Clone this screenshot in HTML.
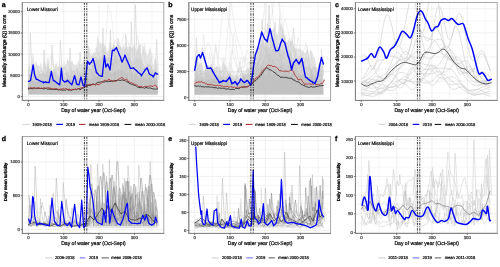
<!DOCTYPE html><html><head><meta charset="utf-8"><style>html,body{margin:0;padding:0;background:#fff;width:500px;height:267px;overflow:hidden}svg{display:block}text{text-rendering:geometricPrecision}</style></head><body>
<svg width="500" height="267" viewBox="0 0 500 267" style="font-family:'Liberation Sans', sans-serif;will-change:transform">
<rect width="500" height="267" fill="#fff"/>
<rect x="22.3" y="2.5" width="141.5" height="97.9" fill="#fff"/>
<line x1="28.40" y1="2.5" x2="28.40" y2="100.4" stroke="#e6e6e6" stroke-width="0.60"/>
<line x1="46.05" y1="2.5" x2="46.05" y2="100.4" stroke="#e6e6e6" stroke-width="0.35"/>
<line x1="63.70" y1="2.5" x2="63.70" y2="100.4" stroke="#e6e6e6" stroke-width="0.60"/>
<line x1="81.35" y1="2.5" x2="81.35" y2="100.4" stroke="#e6e6e6" stroke-width="0.35"/>
<line x1="99.00" y1="2.5" x2="99.00" y2="100.4" stroke="#e6e6e6" stroke-width="0.60"/>
<line x1="116.65" y1="2.5" x2="116.65" y2="100.4" stroke="#e6e6e6" stroke-width="0.35"/>
<line x1="134.30" y1="2.5" x2="134.30" y2="100.4" stroke="#e6e6e6" stroke-width="0.60"/>
<line x1="151.95" y1="2.5" x2="151.95" y2="100.4" stroke="#e6e6e6" stroke-width="0.35"/>
<line x1="22.3" y1="85.90" x2="163.8" y2="85.90" stroke="#e6e6e6" stroke-width="0.35"/>
<line x1="22.3" y1="64.70" x2="163.8" y2="64.70" stroke="#e6e6e6" stroke-width="0.35"/>
<line x1="22.3" y1="43.50" x2="163.8" y2="43.50" stroke="#e6e6e6" stroke-width="0.35"/>
<line x1="22.3" y1="22.30" x2="163.8" y2="22.30" stroke="#e6e6e6" stroke-width="0.35"/>
<line x1="22.3" y1="96.50" x2="163.8" y2="96.50" stroke="#e6e6e6" stroke-width="0.6"/>
<line x1="22.3" y1="75.30" x2="163.8" y2="75.30" stroke="#e6e6e6" stroke-width="0.6"/>
<line x1="22.3" y1="54.10" x2="163.8" y2="54.10" stroke="#e6e6e6" stroke-width="0.6"/>
<line x1="22.3" y1="32.90" x2="163.8" y2="32.90" stroke="#e6e6e6" stroke-width="0.6"/>
<line x1="22.3" y1="11.70" x2="163.8" y2="11.70" stroke="#e6e6e6" stroke-width="0.6"/>
<rect x="188.8" y="2.5" width="141.8" height="97.9" fill="#fff"/>
<line x1="194.70" y1="2.5" x2="194.70" y2="100.4" stroke="#e6e6e6" stroke-width="0.60"/>
<line x1="212.35" y1="2.5" x2="212.35" y2="100.4" stroke="#e6e6e6" stroke-width="0.35"/>
<line x1="230.00" y1="2.5" x2="230.00" y2="100.4" stroke="#e6e6e6" stroke-width="0.60"/>
<line x1="247.65" y1="2.5" x2="247.65" y2="100.4" stroke="#e6e6e6" stroke-width="0.35"/>
<line x1="265.30" y1="2.5" x2="265.30" y2="100.4" stroke="#e6e6e6" stroke-width="0.60"/>
<line x1="282.95" y1="2.5" x2="282.95" y2="100.4" stroke="#e6e6e6" stroke-width="0.35"/>
<line x1="300.60" y1="2.5" x2="300.60" y2="100.4" stroke="#e6e6e6" stroke-width="0.60"/>
<line x1="318.25" y1="2.5" x2="318.25" y2="100.4" stroke="#e6e6e6" stroke-width="0.35"/>
<line x1="188.8" y1="84.55" x2="330.6" y2="84.55" stroke="#e6e6e6" stroke-width="0.35"/>
<line x1="188.8" y1="58.45" x2="330.6" y2="58.45" stroke="#e6e6e6" stroke-width="0.35"/>
<line x1="188.8" y1="32.35" x2="330.6" y2="32.35" stroke="#e6e6e6" stroke-width="0.35"/>
<line x1="188.8" y1="6.25" x2="330.6" y2="6.25" stroke="#e6e6e6" stroke-width="0.35"/>
<line x1="188.8" y1="97.60" x2="330.6" y2="97.60" stroke="#e6e6e6" stroke-width="0.6"/>
<line x1="188.8" y1="71.50" x2="330.6" y2="71.50" stroke="#e6e6e6" stroke-width="0.6"/>
<line x1="188.8" y1="45.40" x2="330.6" y2="45.40" stroke="#e6e6e6" stroke-width="0.6"/>
<line x1="188.8" y1="19.30" x2="330.6" y2="19.30" stroke="#e6e6e6" stroke-width="0.6"/>
<rect x="355.4" y="2.5" width="141.8" height="97.9" fill="#fff"/>
<line x1="361.40" y1="2.5" x2="361.40" y2="100.4" stroke="#e6e6e6" stroke-width="0.60"/>
<line x1="379.05" y1="2.5" x2="379.05" y2="100.4" stroke="#e6e6e6" stroke-width="0.35"/>
<line x1="396.70" y1="2.5" x2="396.70" y2="100.4" stroke="#e6e6e6" stroke-width="0.60"/>
<line x1="414.35" y1="2.5" x2="414.35" y2="100.4" stroke="#e6e6e6" stroke-width="0.35"/>
<line x1="432.00" y1="2.5" x2="432.00" y2="100.4" stroke="#e6e6e6" stroke-width="0.60"/>
<line x1="449.65" y1="2.5" x2="449.65" y2="100.4" stroke="#e6e6e6" stroke-width="0.35"/>
<line x1="467.30" y1="2.5" x2="467.30" y2="100.4" stroke="#e6e6e6" stroke-width="0.60"/>
<line x1="484.95" y1="2.5" x2="484.95" y2="100.4" stroke="#e6e6e6" stroke-width="0.35"/>
<line x1="355.4" y1="93.15" x2="497.2" y2="93.15" stroke="#e6e6e6" stroke-width="0.35"/>
<line x1="355.4" y1="69.05" x2="497.2" y2="69.05" stroke="#e6e6e6" stroke-width="0.35"/>
<line x1="355.4" y1="44.95" x2="497.2" y2="44.95" stroke="#e6e6e6" stroke-width="0.35"/>
<line x1="355.4" y1="20.85" x2="497.2" y2="20.85" stroke="#e6e6e6" stroke-width="0.35"/>
<line x1="355.4" y1="81.10" x2="497.2" y2="81.10" stroke="#e6e6e6" stroke-width="0.6"/>
<line x1="355.4" y1="57.00" x2="497.2" y2="57.00" stroke="#e6e6e6" stroke-width="0.6"/>
<line x1="355.4" y1="32.90" x2="497.2" y2="32.90" stroke="#e6e6e6" stroke-width="0.6"/>
<line x1="355.4" y1="8.80" x2="497.2" y2="8.80" stroke="#e6e6e6" stroke-width="0.6"/>
<rect x="22.3" y="136.5" width="141.5" height="96.9" fill="#fff"/>
<line x1="28.40" y1="136.5" x2="28.40" y2="233.4" stroke="#e6e6e6" stroke-width="0.60"/>
<line x1="46.05" y1="136.5" x2="46.05" y2="233.4" stroke="#e6e6e6" stroke-width="0.35"/>
<line x1="63.70" y1="136.5" x2="63.70" y2="233.4" stroke="#e6e6e6" stroke-width="0.60"/>
<line x1="81.35" y1="136.5" x2="81.35" y2="233.4" stroke="#e6e6e6" stroke-width="0.35"/>
<line x1="99.00" y1="136.5" x2="99.00" y2="233.4" stroke="#e6e6e6" stroke-width="0.60"/>
<line x1="116.65" y1="136.5" x2="116.65" y2="233.4" stroke="#e6e6e6" stroke-width="0.35"/>
<line x1="134.30" y1="136.5" x2="134.30" y2="233.4" stroke="#e6e6e6" stroke-width="0.60"/>
<line x1="151.95" y1="136.5" x2="151.95" y2="233.4" stroke="#e6e6e6" stroke-width="0.35"/>
<line x1="22.3" y1="212.55" x2="163.8" y2="212.55" stroke="#e6e6e6" stroke-width="0.35"/>
<line x1="22.3" y1="178.85" x2="163.8" y2="178.85" stroke="#e6e6e6" stroke-width="0.35"/>
<line x1="22.3" y1="145.15" x2="163.8" y2="145.15" stroke="#e6e6e6" stroke-width="0.35"/>
<line x1="22.3" y1="229.40" x2="163.8" y2="229.40" stroke="#e6e6e6" stroke-width="0.6"/>
<line x1="22.3" y1="195.70" x2="163.8" y2="195.70" stroke="#e6e6e6" stroke-width="0.6"/>
<line x1="22.3" y1="162.00" x2="163.8" y2="162.00" stroke="#e6e6e6" stroke-width="0.6"/>
<rect x="188.8" y="136.5" width="141.8" height="96.9" fill="#fff"/>
<line x1="194.70" y1="136.5" x2="194.70" y2="233.4" stroke="#e6e6e6" stroke-width="0.60"/>
<line x1="212.35" y1="136.5" x2="212.35" y2="233.4" stroke="#e6e6e6" stroke-width="0.35"/>
<line x1="230.00" y1="136.5" x2="230.00" y2="233.4" stroke="#e6e6e6" stroke-width="0.60"/>
<line x1="247.65" y1="136.5" x2="247.65" y2="233.4" stroke="#e6e6e6" stroke-width="0.35"/>
<line x1="265.30" y1="136.5" x2="265.30" y2="233.4" stroke="#e6e6e6" stroke-width="0.60"/>
<line x1="282.95" y1="136.5" x2="282.95" y2="233.4" stroke="#e6e6e6" stroke-width="0.35"/>
<line x1="300.60" y1="136.5" x2="300.60" y2="233.4" stroke="#e6e6e6" stroke-width="0.60"/>
<line x1="318.25" y1="136.5" x2="318.25" y2="233.4" stroke="#e6e6e6" stroke-width="0.35"/>
<line x1="188.8" y1="221.40" x2="330.6" y2="221.40" stroke="#e6e6e6" stroke-width="0.35"/>
<line x1="188.8" y1="203.40" x2="330.6" y2="203.40" stroke="#e6e6e6" stroke-width="0.35"/>
<line x1="188.8" y1="185.40" x2="330.6" y2="185.40" stroke="#e6e6e6" stroke-width="0.35"/>
<line x1="188.8" y1="167.40" x2="330.6" y2="167.40" stroke="#e6e6e6" stroke-width="0.35"/>
<line x1="188.8" y1="149.40" x2="330.6" y2="149.40" stroke="#e6e6e6" stroke-width="0.35"/>
<line x1="188.8" y1="230.40" x2="330.6" y2="230.40" stroke="#e6e6e6" stroke-width="0.6"/>
<line x1="188.8" y1="212.40" x2="330.6" y2="212.40" stroke="#e6e6e6" stroke-width="0.6"/>
<line x1="188.8" y1="194.40" x2="330.6" y2="194.40" stroke="#e6e6e6" stroke-width="0.6"/>
<line x1="188.8" y1="176.40" x2="330.6" y2="176.40" stroke="#e6e6e6" stroke-width="0.6"/>
<line x1="188.8" y1="158.40" x2="330.6" y2="158.40" stroke="#e6e6e6" stroke-width="0.6"/>
<line x1="188.8" y1="140.40" x2="330.6" y2="140.40" stroke="#e6e6e6" stroke-width="0.6"/>
<rect x="355.4" y="136.5" width="141.8" height="96.9" fill="#fff"/>
<line x1="361.40" y1="136.5" x2="361.40" y2="233.4" stroke="#e6e6e6" stroke-width="0.60"/>
<line x1="379.05" y1="136.5" x2="379.05" y2="233.4" stroke="#e6e6e6" stroke-width="0.35"/>
<line x1="396.70" y1="136.5" x2="396.70" y2="233.4" stroke="#e6e6e6" stroke-width="0.60"/>
<line x1="414.35" y1="136.5" x2="414.35" y2="233.4" stroke="#e6e6e6" stroke-width="0.35"/>
<line x1="432.00" y1="136.5" x2="432.00" y2="233.4" stroke="#e6e6e6" stroke-width="0.60"/>
<line x1="449.65" y1="136.5" x2="449.65" y2="233.4" stroke="#e6e6e6" stroke-width="0.35"/>
<line x1="467.30" y1="136.5" x2="467.30" y2="233.4" stroke="#e6e6e6" stroke-width="0.60"/>
<line x1="484.95" y1="136.5" x2="484.95" y2="233.4" stroke="#e6e6e6" stroke-width="0.35"/>
<line x1="355.4" y1="223.07" x2="497.2" y2="223.07" stroke="#e6e6e6" stroke-width="0.35"/>
<line x1="355.4" y1="204.42" x2="497.2" y2="204.42" stroke="#e6e6e6" stroke-width="0.35"/>
<line x1="355.4" y1="185.77" x2="497.2" y2="185.77" stroke="#e6e6e6" stroke-width="0.35"/>
<line x1="355.4" y1="167.12" x2="497.2" y2="167.12" stroke="#e6e6e6" stroke-width="0.35"/>
<line x1="355.4" y1="148.47" x2="497.2" y2="148.47" stroke="#e6e6e6" stroke-width="0.35"/>
<line x1="355.4" y1="232.40" x2="497.2" y2="232.40" stroke="#e6e6e6" stroke-width="0.6"/>
<line x1="355.4" y1="213.75" x2="497.2" y2="213.75" stroke="#e6e6e6" stroke-width="0.6"/>
<line x1="355.4" y1="195.10" x2="497.2" y2="195.10" stroke="#e6e6e6" stroke-width="0.6"/>
<line x1="355.4" y1="176.45" x2="497.2" y2="176.45" stroke="#e6e6e6" stroke-width="0.6"/>
<line x1="355.4" y1="157.80" x2="497.2" y2="157.80" stroke="#e6e6e6" stroke-width="0.6"/>
<line x1="355.4" y1="139.15" x2="497.2" y2="139.15" stroke="#e6e6e6" stroke-width="0.6"/>
<clipPath id="cp1"><rect x="22.3" y="2.5" width="141.5" height="97.9"/></clipPath>
<g clip-path="url(#cp1)">
<polygon points="28.4,66.2 29,66.7 29.6,67.8 30.2,68.8 30.8,69.3 31.4,68.5 32,62 32.6,53.2 33.2,54.3 33.8,58.8 34.4,62.2 35,65.2 35.6,66.6 36.2,62.8 36.8,65.2 37.4,65.5 38,65.4 38.6,65.6 39.2,65.7 39.8,65.9 40.4,63.9 41,61.4 41.6,66.7 42.2,70 42.8,71.3 43.4,66.2 44,57.4 44.6,61.5 45.2,63.9 45.8,65.5 46.4,66.2 47,66.6 47.6,66.8 48.2,67.3 48.8,68.1 49.4,68.9 50,69.2 50.6,69.4 51.2,69.8 51.8,70.2 52.4,70.3 53,70 53.6,69 54.2,68 54.8,66.3 55.4,64.6 56,62.7 56.6,63.1 57.2,65.8 57.8,66.7 58.4,66.2 59,65.3 59.6,65.1 60.2,65.5 60.8,66 61.4,66.5 62,66.7 62.6,66.6 63.2,66.5 63.8,66.3 64.4,66.2 65,65.8 65.6,64.9 66.2,64 66.8,61.6 67.4,58.4 68,59.8 68.6,60.7 69.2,61.3 69.8,61.6 70.4,61.7 71,61.8 71.6,61.1 72.2,60.2 72.8,62.3 73.4,64 74,64.8 74.6,64.9 75.2,64.9 75.8,65 76.4,64.9 77,64.8 77.6,62.8 78.2,59.8 78.8,62 79.4,63.2 80,64 80.6,64.5 81.2,64.7 81.8,64.2 82.4,62.8 83,60.7 83.6,58.8 84.2,59.8 84.8,61.3 85.4,62.3 86,62.4 86.6,62.1 87.2,61.9 87.8,55 88.4,44.2 89,49.1 89.6,52.6 90.2,55 90.8,56.4 91.4,56.5 92,55.4 92.6,54 93.2,53.3 93.8,53.2 94.4,53.2 95,53.2 95.6,51 96.2,46.6 96.8,44.4 97.4,33.9 98,37.6 98.6,40.7 99.2,43.6 99.8,45.1 100.4,40.5 101,44 101.6,44.5 102.2,43.8 102.8,43.5 103.4,43.9 104,44.7 104.6,45.2 105.2,45.4 105.8,46.2 106.4,48.3 107,50.4 107.6,51.2 108.2,49.9 108.8,46.9 109.4,43.8 110,42.5 110.6,43.5 111.2,46 111.8,48.5 112.4,47.1 113,43.3 113.6,44.6 114.2,45.3 114.8,45.9 115.4,46.1 116,45.9 116.6,45.5 117.2,45.3 117.8,44.3 118.4,42.3 119,44.8 119.6,46 120.2,46.6 120.8,47.1 121.4,47.5 122,47.7 122.6,46.3 123.2,44 123.8,46.2 124.4,47.6 125,48.1 125.6,47.6 126.2,46.9 126.8,46.8 127.4,47 128,46.9 128.6,46.8 129.2,46.9 129.8,47.1 130.4,47.3 131,47.4 131.6,47.6 132.2,47.6 132.8,47.4 133.4,45.9 134,43.9 134.6,45.8 135.2,47.7 135.8,49.4 136.4,50.4 137,50.7 137.6,50.6 138.2,46.4 138.8,40.5 139.4,45.1 140,49.4 140.6,53 141.2,55 141.8,54 142.4,48.6 143,42.8 143.6,47.5 144.2,47.3 144.8,41.8 145.4,49 146,52.4 146.6,54.1 147.2,55.1 147.8,55.9 148.4,53 149,47.8 149.6,50.6 150.2,47 150.8,49.4 151.4,53 152,58.1 152.6,62.9 153.2,65.4 153.8,64.6 154.4,61.5 155,58.3 155.6,57.3 156.2,58.5 156.8,60.9 157.4,63.2 157.7,94.6 28.4,94.6" fill="#cdcdcd" opacity="0.55"/>
<polygon points="28.4,69 29,70.2 29.6,72.9 30.2,75.6 30.8,76.7 31.4,76.6 32,76.2 32.6,75.9 33.2,75.8 33.8,76 34.4,76.4 35,76.8 35.6,77 36.2,76.6 36.8,75.6 37.4,74.6 38,74.2 38.6,74.3 39.2,74.2 39.8,74.1 40.4,74.3 41,74.3 41.6,73.9 42.2,72.6 42.8,71 43.4,72 44,72.6 44.6,73 45.2,73.2 45.8,73.1 46.4,71.6 47,66.4 47.6,58.2 48.2,54.7 48.8,63 49.4,68.2 50,70.8 50.6,71.6 51.2,71.9 51.8,71.9 52.4,72.1 53,72.2 53.6,72.1 54.2,71.9 54.8,70.5 55.4,68.6 56,71.9 56.6,74.3 57.2,75.5 57.8,75.9 58.4,76.4 59,76.8 59.6,77 60.2,76.8 60.8,69.6 61.4,59.1 62,67.4 62.6,72 63.2,75.2 63.8,77.5 64.4,78.4 65,78.5 65.6,78 66.2,74.5 66.8,69.7 67.4,72.1 68,73.8 68.6,74.9 69.2,75.6 69.8,75.4 70.4,73.2 71,69.1 71.6,70.5 72.2,71.1 72.8,70.8 73.4,70.2 74,69.9 74.6,70.6 75.2,72.4 75.8,73.4 76.4,71.1 77,65.5 77.6,68.2 78.2,69.9 78.8,71.1 79.4,72 80,72.9 80.6,73.6 81.2,73.2 81.8,71.2 82.4,72.4 83,72.8 83.6,72.9 84.2,73.3 84.8,70.2 85.4,64.8 86,67.6 86.6,68.7 87.2,68.3 87.8,67.5 88.4,67.2 89,67.6 89.6,68.3 90.2,69 90.8,69 91.4,68.1 92,66.4 92.6,61.2 93.2,54.9 93.8,57 94.4,57.4 95,57 95.6,56.9 96.2,57 96.8,55.7 97.4,58.4 98,59.6 98.6,60.5 99.2,59.1 99.8,54.8 100.4,58.6 101,58.7 101.6,57.2 102.2,55.2 102.8,51.6 103.4,45.4 104,51.9 104.6,56.9 105.2,59.5 105.8,59.9 106.4,58.9 107,57.8 107.6,57.3 108.2,57.5 108.8,57.7 109.4,57.9 110,57.7 110.6,57.9 111.2,58.3 111.8,58.6 112.4,58.6 113,58.6 113.6,58.6 114.2,58.6 114.8,58.6 115.4,58 116,56.8 116.6,55.7 117.2,55.1 117.8,55.4 118.4,56.3 119,57.1 119.6,57.4 120.2,57.5 120.8,57.9 121.4,57.8 122,57.2 122.6,55.2 123.2,57.7 123.8,59.1 124.4,59.8 125,59.6 125.6,57.9 126.2,57 126.8,56.8 127.4,57.9 128,58.9 128.6,54.2 129.2,43.1 129.8,53.5 130.4,59.1 131,62.1 131.6,63.6 132.2,64.6 132.8,65.5 133.4,66.3 134,66.7 134.6,65.5 135.2,62.4 135.8,59.4 136.4,58.4 137,59.3 137.6,58.2 138.2,55.7 138.8,58.6 139.4,59.6 140,59.1 140.6,58.3 141.2,58.4 141.8,59.9 142.4,62.5 143,64.9 143.6,66.2 144.2,66.7 144.8,66.5 145.4,65.7 146,66.9 146.6,65.9 147.2,63.8 147.8,63.9 148.4,64.4 149,64.9 149.6,65 150.2,65 150.8,65.2 151.4,66.1 152,68 152.6,69.8 153.2,70.7 153.8,71.1 154.4,71.7 155,72.4 155.6,72.8 156.2,72.5 156.8,71.4 157.4,70.4 157.7,94.6 28.4,94.6" fill="#cdcdcd" opacity="0.70"/>
<polygon points="28.4,80 29.2,77.3 30,73 30.8,77.1 31.6,79.1 32.4,80.2 33.2,80.9 34,81.3 34.8,81.5 35.6,81.7 36.4,82 37.2,82.2 38,82.3 38.8,82.3 39.6,82.3 40.4,82.3 41.2,82.3 42,82.3 42.8,82.3 43.6,82.3 44.4,81.8 45.2,81 46,79.6 46.8,79.8 47.6,80 48.4,80.7 49.2,81.6 50,82.5 50.8,82.9 51.6,82.9 52.4,82.6 53.2,82 54,82.3 54.8,82.5 55.6,82.5 56.4,82.5 57.2,82.5 58,82.6 58.8,82.8 59.6,83.1 60.4,83.1 61.2,83.3 62,83.9 62.8,84.5 63.6,84.7 64.4,84.2 65.2,83 66,81.8 66.8,81.3 67.6,81.2 68.4,79.7 69.2,77.6 70,79 70.8,79.7 71.6,78.4 72.4,80.8 73.2,81.9 74,82.1 74.8,81.7 75.6,81.2 76.4,80.9 77.2,81.1 78,81.5 78.8,81.8 79.6,82.1 80.4,81.7 81.2,80.8 82,79.9 82.8,79.4 83.6,79.3 84.4,79.4 85.2,79.4 86,79.2 86.8,79.2 87.6,79.4 88.4,79.6 89.2,79.6 90,79.3 90.8,79.1 91.6,78.9 92.4,78.7 93.2,78.4 94,77.8 94.8,77.2 95.6,77 96.4,76.7 97.2,76 98,75.9 98.8,75.7 99.6,75.4 100.4,74.8 101.2,74 102,73.9 102.8,72.9 103.6,71.3 104.4,72 105.2,72.2 106,72.2 106.8,72.3 107.6,71.7 108.4,70.7 109.2,71.3 110,72 110.8,72.5 111.6,72.7 112.4,72.5 113.2,72.2 114,71.9 114.8,71.7 115.6,71.6 116.4,71.4 117.2,71.2 118,70.1 118.8,68.7 119.6,69.6 120.4,70.3 121.2,70.7 122,71.1 122.8,71.5 123.6,71.9 124.4,72.1 125.2,72.3 126,72.6 126.8,73 127.6,73.3 128.4,73.3 129.2,73.1 130,72.8 130.8,72.8 131.6,73 132.4,73.2 133.2,73.5 134,73.7 134.8,73.9 135.6,74.4 136.4,74.8 137.2,75.2 138,75.9 138.8,77 139.6,78.1 140.4,77.9 141.2,76.6 142,76.9 142.8,76.9 143.6,77.2 144.4,77.8 145.2,78.6 146,79.1 146.8,79.5 147.6,79.2 148.4,78.4 149.2,77.5 150,77.3 150.8,77.7 151.6,78.7 152.4,79.7 153.2,80.1 154,79.9 154.8,79.3 155.6,78.6 156.4,78.4 157.2,78.6 157.7,94.6 28.4,94.6" fill="#c0c0c0" opacity="0.85"/>
<path d="M28.4,89.4l1.5,-0.6l1.5,-1l1.5,-1.2l1.5,-0.4l1.5,0l1.5,0.5l1.5,0.7l1.5,0.8l1.5,0.7l1.5,-2.5l1.5,-5.2l1.5,3.7l1.5,-2.5l1.5,-6.2l1.5,-6.4l1.5,6.3l1.5,4.5l1.5,3.3l1.5,2.2l1.5,1.4l1.5,0.5l1.5,-0.6l1.5,-1.4l1.5,-1.6l1.5,-0.5l1.5,1.1l1.5,1.5l1.5,1.6l1.5,0.9l1.5,0.2l1.5,-0.1l1.5,-0.1l1.5,0l1.5,-0.2l1.5,-1.1l1.5,-1.3l1.5,-1.2l1.5,0.2l1.5,0l1.5,-0.2l1.5,-0.3l1.5,-0.4l1.5,-0.6l1.5,-0.6l1.5,-0.5l1.5,0.2l1.5,1.2l1.5,1.5l1.5,1.2l1.5,0.5l1.5,-0.4l1.5,-0.9l1.5,-3.5l1.5,-10.9l1.5,-11.6l1.5,4l1.5,0.5l1.5,-1.6l1.5,3.8l1.5,2.8l1.5,3.1l1.5,3.9l1.5,3.4l1.5,2.9l1.5,1.4l1.5,0.8l1.5,0.1l1.5,-0.1l1.5,-0.2l1.5,0.3l1.5,0.7l1.5,0.8l1.5,0.7l1.5,0.6l1.5,0.3l1.5,0.1l1.5,0.2l1.5,0.4l1.5,0.2l1.5,0.1l1.5,-0.5l1.5,-1.3l1.5,-2.1l1.5,-1.9l1.5,-0.6l1.5,0.9" fill="none" stroke="#c4c4c4" stroke-width="0.50" opacity="0.50"/>
<path d="M28.4,84.6l1.5,0.3l1.5,0.7l1.5,0.9l1.5,0.6l1.5,0.2l1.5,-0.3l1.5,-0.8l1.5,-1.1l1.5,-0.9l1.5,-0.3l1.5,-0.4l1.5,-1.5l1.5,-2.1l1.5,-1.9l1.5,-2.1l1.5,0.1l1.5,2.2l1.5,1.8l1.5,3.9l1.5,2l1.5,1l1.5,0.4l1.5,0.1l1.5,0l1.5,0.2l1.5,0.2l1.5,-0.2l1.5,-0.4l1.5,-0.6l1.5,-0.3l1.5,-0.2l1.5,-0.1l1.5,-0.1l1.5,0l1.5,-0.7l1.5,-4.9l1.5,1.7l1.5,0l1.5,-0.5l1.5,-0.7l1.5,-0.1l1.5,0.8l1.5,1.1l1.5,0.7l1.5,0l1.5,-1.4l1.5,-3.2l1.5,-4.6l1.5,-4.1l1.5,-2l1.5,0.3l1.5,0.5l1.5,-1.3l1.5,-1.6l1.5,2.4l1.5,1.4l1.5,1.3l1.5,1l1.5,0.8l1.5,0.2l1.5,-0.6l1.5,-1.3l1.5,-7.4l1.5,-11.4l1.5,-9.6l1.5,10.9l1.5,9.2l1.5,7.3l1.5,4.8l1.5,3l1.5,1.4l1.5,0l1.5,-0.7l1.5,-0.5l1.5,0l1.5,1.1l1.5,1.2l1.5,1.4l1.5,1l1.5,0.5l1.5,-0.1l1.5,0l1.5,0l1.5,0l1.5,0.2l1.5,0.1" fill="none" stroke="#c4c4c4" stroke-width="0.50" opacity="0.50"/>
<path d="M28.4,90.4l1.5,0l1.5,-0.1l1.5,-0.1l1.5,-0.1l1.5,0l1.5,0.2l1.5,0.4l1.5,0.5l1.5,0.4l1.5,0.2l1.5,-0.1l1.5,-0.3l1.5,-0.4l1.5,-0.3l1.5,-0.1l1.5,0.1l1.5,-0.1l1.5,0l1.5,-0.1l1.5,-1.1l1.5,-2l1.5,-2.3l1.5,-2.5l1.5,1.2l1.5,1.1l1.5,1.3l1.5,1.4l1.5,1.3l1.5,0.8l1.5,0.4l1.5,-0.1l1.5,-0.5l1.5,-0.8l1.5,-0.7l1.5,-0.7l1.5,-0.3l1.5,0.1l1.5,0.5l1.5,0.2l1.5,-0.2l1.5,-0.2l1.5,0l1.5,0.1l1.5,0l1.5,-0.2l1.5,-0.6l1.5,-1l1.5,-1.3l1.5,-0.9l1.5,-0.4l1.5,0.3l1.5,1l1.5,1.1l1.5,0.9l1.5,0.2l1.5,-0.3l1.5,-0.5l1.5,-0.7l1.5,-1l1.5,-1.9l1.5,-1.8l1.5,-1.9l1.5,0.9l1.5,0.7l1.5,1.1l1.5,1.2l1.5,0.8l1.5,0.6l1.5,0.3l1.5,0.6l1.5,0.9l1.5,1.2l1.5,1.1l1.5,1l1.5,0.5l1.5,0.3l1.5,0.7l1.5,0.8l1.5,-0.5l1.5,-1.6l1.5,1.1l1.5,0l1.5,-0.8l1.5,-0.8l1.5,-0.2l1.5,0.5" fill="none" stroke="#c4c4c4" stroke-width="0.50" opacity="0.50"/>
<path d="M28.4,91.4l1.5,-0.1l1.5,-0.3l1.5,-0.3l1.5,-0.3l1.5,-0.2l1.5,0.1l1.5,0.2l1.5,0.2l1.5,0.2l1.5,0.1l1.5,0.2l1.5,0.5l1.5,0.5l1.5,0.4l1.5,0.1l1.5,-0.2l1.5,-0.8l1.5,-1.2l1.5,-1.2l1.5,-0.7l1.5,0l1.5,0l1.5,0.4l1.5,0.4l1.5,0.2l1.5,0.2l1.5,-0.1l1.5,-0.9l1.5,-1l1.5,-1.1l1.5,1.1l1.5,1.5l1.5,1.4l1.5,1l1.5,0.3l1.5,-0.3l1.5,-0.5l1.5,-0.8l1.5,-0.8l1.5,-0.5l1.5,-0.2l1.5,-0.1l1.5,-0.1l1.5,-0.1l1.5,-0.4l1.5,-0.9l1.5,-2.2l1.5,-2.9l1.5,-2.7l1.5,-1.3l1.5,0.8l1.5,1.5l1.5,1.8l1.5,1.1l1.5,-0.6l1.5,-1.5l1.5,0.7l1.5,0l1.5,-0.2l1.5,-0.1l1.5,0.7l1.5,1.7l1.5,1.8l1.5,1.3l1.5,0.7l1.5,0.4l1.5,0.3l1.5,0.1l1.5,0.1l1.5,0.2l1.5,0.3l1.5,0.1l1.5,0.2l1.5,0.1l1.5,0.1l1.5,-0.4l1.5,-1.1l1.5,-1.5l1.5,-1.4l1.5,-0.6l1.5,0.8l1.5,1.8l1.5,1.7l1.5,1.2l1.5,0.6l1.5,0.4" fill="none" stroke="#c4c4c4" stroke-width="0.50" opacity="0.50"/>
<path d="M28.4,86.1l1.5,2.1l1.5,0.6l1.5,-2.8l1.5,-3.3l1.5,2.5l1.5,1.5l1.5,0.8l1.5,0.6l1.5,0.4l1.5,0.3l1.5,-6.1l1.5,-10.5l1.5,9.1l1.5,5l1.5,2.7l1.5,0.9l1.5,-0.3l1.5,-1.1l1.5,-1l1.5,-0.6l1.5,0.2l1.5,0.2l1.5,0.3l1.5,0.4l1.5,0.3l1.5,0.5l1.5,1.2l1.5,1.1l1.5,0l1.5,-0.4l1.5,-0.7l1.5,0.2l1.5,0.1l1.5,0l1.5,-0.2l1.5,-0.3l1.5,-0.4l1.5,-0.5l1.5,-0.5l1.5,-0.9l1.5,-1l1.5,-1.3l1.5,-0.5l1.5,-0.5l1.5,-0.4l1.5,-0.5l1.5,-0.6l1.5,-0.8l1.5,-0.4l1.5,-0.3l1.5,-0.4l1.5,-1.7l1.5,-1.6l1.5,-1.8l1.5,2l1.5,2l1.5,2.8l1.5,2.7l1.5,1.8l1.5,0.8l1.5,-0.8l1.5,-3.3l1.5,-6l1.5,-7.1l1.5,-2.4l1.5,3l1.5,4.4l1.5,4.2l1.5,2.7l1.5,1.3l1.5,0.6l1.5,0.6l1.5,0.7l1.5,0.6l1.5,0.3l1.5,0.5l1.5,0.9l1.5,1l1.5,0.8l1.5,0.3l1.5,-0.1l1.5,-0.2l1.5,-0.3l1.5,-0.2l1.5,0.1l1.5,0" fill="none" stroke="#c4c4c4" stroke-width="0.50" opacity="0.50"/>
<path d="M28.4,87.4l1.5,-0.3l1.5,-0.7l1.5,-1l1.5,-0.8l1.5,-0.3l1.5,-0.2l1.5,-0.6l1.5,-0.7l1.5,-0.5l1.5,-0.1l1.5,0.1l1.5,0.1l1.5,-0.1l1.5,0l1.5,0.2l1.5,-0.3l1.5,-1.1l1.5,-1.6l1.5,-1.3l1.5,-0.3l1.5,1.4l1.5,2.7l1.5,-8.3l1.5,-11.9l1.5,11.2l1.5,5.9l1.5,2.8l1.5,1l1.5,0l1.5,0l1.5,0.9l1.5,2.1l1.5,1.7l1.5,1.2l1.5,0.1l1.5,-1.3l1.5,-2.6l1.5,-4.3l1.5,-15.1l1.5,-13.3l1.5,7.9l1.5,5.3l1.5,3.6l1.5,2.2l1.5,0.8l1.5,-0.2l1.5,-0.7l1.5,-0.8l1.5,-0.2l1.5,-0.3l1.5,-0.6l1.5,-1.4l1.5,-1.7l1.5,-1.5l1.5,-0.8l1.5,0.5l1.5,1.8l1.5,2.2l1.5,1.6l1.5,0.5l1.5,0.8l1.5,1.3l1.5,-0.4l1.5,-1.2l1.5,4.1l1.5,1.4l1.5,-2l1.5,-4.3l1.5,-4.8l1.5,-1l1.5,3.1l1.5,4.7l1.5,4.5l1.5,3.4l1.5,1.2l1.5,-0.1l1.5,-0.4l1.5,-0.5l1.5,-0.4l1.5,0l1.5,-1.2l1.5,-3.6l1.5,2.9l1.5,1.5l1.5,1l1.5,1.1" fill="none" stroke="#c4c4c4" stroke-width="0.50" opacity="0.50"/>
<path d="M28.4,65.7l1.5,0.3l1.5,1.4l1.5,1.8l1.5,3.2l1.5,1.6l1.5,0l1.5,-0.8l1.5,-1.3l1.5,-1l1.5,-0.1l1.5,1.4l1.5,2.9l1.5,3l1.5,2.2l1.5,0.9l1.5,-0.8l1.5,-2.8l1.5,-4l1.5,-3.9l1.5,-1.4l1.5,1l1.5,1.6l1.5,1.7l1.5,1.3l1.5,0.6l1.5,0.5l1.5,1.1l1.5,1l1.5,0.3l1.5,-0.1l1.5,-0.4l1.5,-0.3l1.5,-0.2l1.5,-0.3l1.5,-1.1l1.5,-1.8l1.5,-1.9l1.5,-2l1.5,-2.1l1.5,-1.7l1.5,-0.6l1.5,0.9l1.5,1.3l1.5,0.9l1.5,-0.3l1.5,-1.5l1.5,-2.2l1.5,-2.5l1.5,-1.6l1.5,-0.8l1.5,-0.2l1.5,-0.1l1.5,-0.1l1.5,-0.1l1.5,-0.3l1.5,-1l1.5,-1.9l1.5,-2.4l1.5,-2.1l1.5,-1.1l1.5,-1.8l1.5,-3.4l1.5,-5.7l1.5,-5.8l1.5,2.1l1.5,4.9l1.5,5.2l1.5,4.7l1.5,3.2l1.5,0.7l1.5,-0.8l1.5,-11.9l1.5,-5.7l1.5,15.3l1.5,8.6l1.5,4.4l1.5,2.4l1.5,1.1l1.5,0.6l1.5,0.6l1.5,1.6l1.5,2.3l1.5,2.2l1.5,1.7l1.5,0.8l1.5,0.2" fill="none" stroke="#c4c4c4" stroke-width="0.50" opacity="0.50"/>
<path d="M28.4,75.8l1.5,0.8l1.5,2.1l1.5,2.2l1.5,1.7l1.5,0.6l1.5,-0.1l1.5,-0.2l1.5,-0.3l1.5,-0.1l1.5,0.1l1.5,0.2l1.5,0.1l1.5,0.2l1.5,-0.1l1.5,-1.5l1.5,-1.3l1.5,2.4l1.5,1.9l1.5,1.3l1.5,0.7l1.5,-0.3l1.5,-1.7l1.5,-2.8l1.5,-2.8l1.5,-1.1l1.5,0.6l1.5,1.1l1.5,1.1l1.5,0.5l1.5,-2.3l1.5,-5.3l1.5,-5.2l1.5,4l1.5,2.6l1.5,1l1.5,-1.5l1.5,-4.9l1.5,-8.1l1.5,-9.1l1.5,-5.6l1.5,1.4l1.5,6.6l1.5,7l1.5,4.6l1.5,1l1.5,-1.2l1.5,-1.3l1.5,-1.2l1.5,-0.5l1.5,-0.4l1.5,0.2l1.5,1.1l1.5,1.3l1.5,0.9l1.5,0.2l1.5,-1.8l1.5,-4.6l1.5,-6.5l1.5,-6.2l1.5,-2.9l1.5,1.2l1.5,4.6l1.5,5.1l1.5,3.8l1.5,2.6l1.5,3.5l1.5,5l1.5,4.7l1.5,3.1l1.5,1.6l1.5,0.2l1.5,-1.1l1.5,-1.6l1.5,-1l1.5,-0.3l1.5,0l1.5,-0.1l1.5,-0.3l1.5,-0.1l1.5,0l1.5,0.6l1.5,1.7l1.5,1.8l1.5,-4.3l1.5,-5.7l1.5,-6" fill="none" stroke="#c4c4c4" stroke-width="0.50" opacity="0.50"/>
<path d="M28.4,90.4l1.5,-0.7l1.5,0.5l1.5,0.3l1.5,0.2l1.5,0.2l1.5,0.2l1.5,0.1l1.5,0.1l1.5,0.1l1.5,0.1l1.5,0.1l1.5,0.1l1.5,0.1l1.5,0.1l1.5,0l1.5,0.2l1.5,0.2l1.5,0.2l1.5,0.1l1.5,0.1l1.5,0l1.5,-0.1l1.5,-0.2l1.5,-0.1l1.5,-0.4l1.5,-0.7l1.5,-0.1l1.5,-0.5l1.5,-0.6l1.5,-0.4l1.5,0.3l1.5,0.8l1.5,0.9l1.5,0.6l1.5,0l1.5,-0.3l1.5,0l1.5,-1.3l1.5,-1.8l1.5,-2.1l1.5,1.1l1.5,0.2l1.5,-0.6l1.5,-0.8l1.5,-0.4l1.5,0.2l1.5,0.5l1.5,0.7l1.5,0.7l1.5,0.2l1.5,-0.3l1.5,-1l1.5,-1.4l1.5,-1.3l1.5,-0.7l1.5,-0.2l1.5,-0.3l1.5,-0.4l1.5,-0.4l1.5,-0.4l1.5,-0.5l1.5,-0.6l1.5,-0.6l1.5,-0.4l1.5,0.4l1.5,1.6l1.5,2.2l1.5,2l1.5,1.4l1.5,0.6l1.5,0.5l1.5,1.3l1.5,1.2l1.5,0.9l1.5,0.3l1.5,-0.2l1.5,-1l1.5,-1.4l1.5,-1.5l1.5,-0.6l1.5,0.2l1.5,0.5l1.5,0.7l1.5,0.4l1.5,0.3l1.5,0.2" fill="none" stroke="#c4c4c4" stroke-width="0.50" opacity="0.50"/>
<path d="M28.4,90.1l1.5,-0.6l1.5,-0.6l1.5,-0.8l1.5,0.3l1.5,0.3l1.5,0.1l1.5,-0.2l1.5,-0.4l1.5,-0.3l1.5,0l1.5,0.3l1.5,0.7l1.5,0.7l1.5,0.5l1.5,0.3l1.5,0.1l1.5,0.3l1.5,0.2l1.5,0.3l1.5,0.1l1.5,0l1.5,-0.2l1.5,-0.2l1.5,-0.2l1.5,-0.1l1.5,0.1l1.5,0.2l1.5,0.1l1.5,0l1.5,-0.1l1.5,-0.2l1.5,-0.5l1.5,-0.5l1.5,-0.5l1.5,-0.6l1.5,-0.4l1.5,-0.1l1.5,0l1.5,-0.1l1.5,-0.3l1.5,-0.8l1.5,-1.2l1.5,-1.5l1.5,-1.4l1.5,-0.5l1.5,0.4l1.5,1.6l1.5,1.9l1.5,1.4l1.5,0.5l1.5,-0.6l1.5,-1.7l1.5,-2.6l1.5,-2.5l1.5,-1.2l1.5,0.4l1.5,1.2l1.5,1.4l1.5,1l1.5,0.4l1.5,-0.2l1.5,0l1.5,0l1.5,0.1l1.5,0.4l1.5,0.9l1.5,1.1l1.5,1l1.5,0.7l1.5,0.5l1.5,0.2l1.5,-0.1l1.5,-0.2l1.5,0l1.5,0l1.5,0.2l1.5,0.4l1.5,0.4l1.5,0.3l1.5,-0.5l1.5,-1.5l1.5,-1.8l1.5,0.5l1.5,0.2l1.5,0.4l1.5,1" fill="none" stroke="#c4c4c4" stroke-width="0.50" opacity="0.50"/>
<path d="M28.4,84.6l1.5,0.1l1.5,-0.7l1.5,-0.6l1.5,-0.6l1.5,-0.7l1.5,0.3l1.5,-0.2l1.5,-0.5l1.5,-0.4l1.5,-7.8l1.5,-8l1.5,8.1l1.5,5.4l1.5,3.4l1.5,1.9l1.5,0.9l1.5,0.2l1.5,-0.1l1.5,0.1l1.5,-0.1l1.5,0.3l1.5,0.2l1.5,0.1l1.5,0.2l1.5,0.1l1.5,0.2l1.5,0.4l1.5,0.4l1.5,0.1l1.5,0l1.5,-0.2l1.5,0.1l1.5,0.1l1.5,0l1.5,-0.5l1.5,-0.6l1.5,-0.4l1.5,-0.4l1.5,-0.3l1.5,-0.5l1.5,-1.2l1.5,-2.5l1.5,-3.6l1.5,-3.6l1.5,-2.1l1.5,0.3l1.5,2.1l1.5,2.6l1.5,2.1l1.5,0.7l1.5,-1l1.5,-2.7l1.5,-3.7l1.5,-3.5l1.5,-1.7l1.5,-0.7l1.5,-1.4l1.5,-1.6l1.5,-1.5l1.5,-0.8l1.5,1.6l1.5,4.6l1.5,4.8l1.5,3.4l1.5,1.8l1.5,1.4l1.5,1.6l1.5,1.5l1.5,1l1.5,-2l1.5,-4l1.5,-4.3l1.5,-4.4l1.5,2.4l1.5,4l1.5,2.8l1.5,1.9l1.5,1.3l1.5,1.1l1.5,0.9l1.5,0.3l1.5,-0.5l1.5,-1.2l1.5,-1l1.5,0l1.5,1.4" fill="none" stroke="#c4c4c4" stroke-width="0.50" opacity="0.50"/>
<path d="M28.4,91.2l1.5,-0.1l1.5,-0.4l1.5,-0.5l1.5,-0.4l1.5,-0.1l1.5,-0.2l1.5,-0.7l1.5,-0.8l1.5,-0.7l1.5,-0.1l1.5,0.2l1.5,0.6l1.5,0.6l1.5,0.2l1.5,1l1.5,0.4l1.5,0.3l1.5,-0.9l1.5,-3.7l1.5,2.7l1.5,1.3l1.5,0.4l1.5,-0.1l1.5,-0.1l1.5,0.1l1.5,0.2l1.5,0l1.5,-0.1l1.5,0.8l1.5,0.4l1.5,0.1l1.5,0l1.5,0.1l1.5,0l1.5,-0.2l1.5,-0.3l1.5,-0.3l1.5,-0.2l1.5,-0.2l1.5,-0.2l1.5,-0.5l1.5,-0.9l1.5,-1.2l1.5,-1.2l1.5,-0.7l1.5,-0.4l1.5,-0.6l1.5,-0.5l1.5,-0.2l1.5,-0.2l1.5,0l1.5,0.2l1.5,0.2l1.5,0.1l1.5,0l1.5,-1.1l1.5,-2.7l1.5,-2.6l1.5,3.4l1.5,1.9l1.5,0.4l1.5,-1.2l1.5,-1.7l1.5,0.1l1.5,0.9l1.5,1.6l1.5,1.9l1.5,1.9l1.5,1.1l1.5,0.7l1.5,0.2l1.5,-0.5l1.5,-0.7l1.5,-0.6l1.5,-0.6l1.5,0.7l1.5,0.9l1.5,0.8l1.5,0.6l1.5,0.4l1.5,-0.2l1.5,-1l1.5,-1l1.5,1.3l1.5,0.9l1.5,0.5" fill="none" stroke="#c4c4c4" stroke-width="0.50" opacity="0.50"/>
<path d="M28.4,86.2l1.5,0l1.5,-0.1l1.5,-0.1l1.5,-0.1l1.5,0l1.5,0.2l1.5,0.6l1.5,0.7l1.5,0.6l1.5,0.2l1.5,-0.2l1.5,-0.9l1.5,-1.2l1.5,-1.1l1.5,-0.4l1.5,0l1.5,-0.4l1.5,-0.5l1.5,-0.4l1.5,0l1.5,0.4l1.5,0.7l1.5,0.8l1.5,0.6l1.5,0.2l1.5,0.4l1.5,0.7l1.5,0.7l1.5,0.4l1.5,0l1.5,-0.4l1.5,-0.5l1.5,-0.7l1.5,-0.6l1.5,-0.8l1.5,-0.9l1.5,-1l1.5,-0.9l1.5,-0.9l1.5,-0.9l1.5,-1.5l1.5,-2.9l1.5,-4.2l1.5,-4.1l1.5,-2.8l1.5,-0.2l1.5,2.3l1.5,3l1.5,3.6l1.5,1.4l1.5,-0.2l1.5,-1.1l1.5,-1.6l1.5,-1.4l1.5,-0.7l1.5,0.3l1.5,-7.2l1.5,-7.5l1.5,7.8l1.5,4.4l1.5,1.4l1.5,-0.6l1.5,-2l1.5,-2.1l1.5,0.4l1.5,3.7l1.5,4.8l1.5,4.4l1.5,2.9l1.5,1.4l1.5,0.3l1.5,-0.4l1.5,-0.7l1.5,-0.3l1.5,0l1.5,0.4l1.5,0.9l1.5,1l1.5,0.8l1.5,0.3l1.5,-0.2l1.5,-0.4l1.5,-0.6l1.5,-0.4l1.5,0l1.5,1" fill="none" stroke="#c4c4c4" stroke-width="0.50" opacity="0.50"/>
<path d="M28.4,86.7l1.5,0.1l1.5,0.2l1.5,0.2l1.5,0.2l1.5,0.1l1.5,-0.8l1.5,-2.4l1.5,-3.8l1.5,-3.8l1.5,-1.5l1.5,1.9l1.5,4l1.5,-4.6l1.5,-6l1.5,7.4l1.5,4.5l1.5,3.5l1.5,2.6l1.5,1.6l1.5,0.9l1.5,0.1l1.5,-0.1l1.5,-1l1.5,-0.8l1.5,-0.4l1.5,0.2l1.5,0.3l1.5,0.3l1.5,0l1.5,0l1.5,0l1.5,0.4l1.5,0.3l1.5,0.1l1.5,-0.3l1.5,-0.8l1.5,-2.1l1.5,-3.5l1.5,-3.9l1.5,-2.4l1.5,-0.9l1.5,-1.1l1.5,-1.3l1.5,-1.2l1.5,-1l1.5,1.6l1.5,4.8l1.5,4.8l1.5,3.1l1.5,0.9l1.5,-0.8l1.5,-2.3l1.5,-3.5l1.5,-3.7l1.5,-1.7l1.5,0.1l1.5,-0.5l1.5,-0.3l1.5,-1.3l1.5,2.8l1.5,1.3l1.5,0l1.5,-0.9l1.5,-1l1.5,0.5l1.5,2.6l1.5,3.6l1.5,3.3l1.5,2l1.5,1l1.5,0.1l1.5,-0.5l1.5,-0.7l1.5,-0.6l1.5,-0.2l1.5,0l1.5,-0.1l1.5,-0.3l1.5,-0.1l1.5,0l1.5,0.1l1.5,0.4l1.5,0.3l1.5,0.4l1.5,0.3l1.5,0.2" fill="none" stroke="#c4c4c4" stroke-width="0.50" opacity="0.50"/>
<path d="M28.4,82.9l1.5,-0.2l1.5,-0.7l1.5,-0.9l1.5,-0.7l1.5,-0.3l1.5,-0.6l1.5,-1.5l1.5,-2.1l1.5,-1.7l1.5,-0.5l1.5,2.3l1.5,4.6l1.5,4.3l1.5,1.2l1.5,-2.6l1.5,-4l1.5,-4.7l1.5,1.5l1.5,0.8l1.5,1.3l1.5,2l1.5,2.3l1.5,2.1l1.5,1.6l1.5,0.8l1.5,0.4l1.5,0.5l1.5,0.4l1.5,0.1l1.5,0l1.5,-0.1l1.5,-0.8l1.5,-1.1l1.5,-1l1.5,-1l1.5,-1.3l1.5,-2.2l1.5,-2.7l1.5,-2.8l1.5,-1.9l1.5,0.4l1.5,0.4l1.5,-1.8l1.5,5.3l1.5,2l1.5,-0.1l1.5,-1.5l1.5,-2.1l1.5,-1.6l1.5,-0.9l1.5,-1.5l1.5,-5.3l1.5,-7.3l1.5,-7.1l1.5,-4.2l1.5,1.6l1.5,2.1l1.5,2.2l1.5,1.6l1.5,0.7l1.5,1.5l1.5,4l1.5,4.4l1.5,3.1l1.5,2.1l1.5,1l1.5,0.2l1.5,-0.3l1.5,-0.4l1.5,0.6l1.5,1.6l1.5,2l1.5,1.9l1.5,1.7l1.5,0.7l1.5,0.4l1.5,0.7l1.5,0.8l1.5,0.7l1.5,0.3l1.5,0.1l1.5,0.5l1.5,0.5l1.5,0.5l1.5,0.4l1.5,-0.3" fill="none" stroke="#c4c4c4" stroke-width="0.50" opacity="0.50"/>
<path d="M28.4,75.4l1.5,0l1.5,-0.4l1.5,-0.6l1.5,-0.4l1.5,-0.2l1.5,-0.3l1.5,-1l1.5,-1.3l1.5,-2.4l1.5,-2.5l1.5,-1.6l1.5,-1.1l1.5,3.3l1.5,2.6l1.5,1.7l1.5,1.5l1.5,1.7l1.5,1.5l1.5,1.3l1.5,0.8l1.5,0.3l1.5,-0.1l1.5,-0.4l1.5,-0.3l1.5,0l1.5,0.3l1.5,0.4l1.5,0.1l1.5,-0.3l1.5,-0.3l1.5,-0.9l1.5,-1.7l1.5,-2.1l1.5,-2l1.5,-2.1l1.5,-1.1l1.5,0.6l1.5,1.2l1.5,0.8l1.5,-0.5l1.5,-1.2l1.5,-0.9l1.5,-0.9l1.5,-1l1.5,-1l1.5,-1.7l1.5,-2.5l1.5,-2.7l1.5,-1.8l1.5,-0.9l1.5,-2.6l1.5,-19.6l1.5,-28.6l1.5,5l1.5,3.4l1.5,11.1l1.5,18.1l1.5,15.9l1.5,9.4l1.5,3.5l1.5,-1.1l1.5,-2l1.5,-2.8l1.5,-2.3l1.5,0.2l1.5,3l1.5,4l1.5,3.9l1.5,2.5l1.5,1.5l1.5,0.4l1.5,-0.4l1.5,-0.8l1.5,-0.4l1.5,0l1.5,-0.1l1.5,-0.4l1.5,-0.5l1.5,-0.4l1.5,-0.1l1.5,-0.2l1.5,-1.3l1.5,-2.2l1.5,-1.9l1.5,-1.3l1.5,1.7" fill="none" stroke="#c4c4c4" stroke-width="0.50" opacity="0.50"/>
<path d="M28.4,83.1l1.5,1l1.5,2.3l1.5,2.3l1.5,1.5l1.5,0.5l1.5,-0.5l1.5,-1.7l1.5,-2.5l1.5,-2.6l1.5,-1l1.5,0l1.5,-0.2l1.5,-0.4l1.5,-0.2l1.5,-9.5l1.5,-18l1.5,14.1l1.5,7.6l1.5,4.1l1.5,2.2l1.5,1.8l1.5,1.9l1.5,2.1l1.5,1.1l1.5,0.4l1.5,-0.1l1.5,-0.2l1.5,-0.3l1.5,-0.5l1.5,-0.3l1.5,-0.4l1.5,-0.7l1.5,-0.8l1.5,-0.8l1.5,-0.9l1.5,-0.5l1.5,0.2l1.5,0.5l1.5,0.4l1.5,-0.9l1.5,-2.2l1.5,-2.9l1.5,-3.3l1.5,-1l1.5,-0.4l1.5,0.1l1.5,0.3l1.5,0.6l1.5,0.6l1.5,0.3l1.5,-0.8l1.5,-2.2l1.5,-3.1l1.5,-3l1.5,-1.3l1.5,1.1l1.5,3.2l1.5,3.7l1.5,2.4l1.5,0.8l1.5,-0.2l1.5,0.2l1.5,0.2l1.5,0.2l1.5,-9.4l1.5,-14.7l1.5,11.5l1.5,5.9l1.5,3l1.5,2.2l1.5,1.8l1.5,0.9l1.5,1l1.5,0.5l1.5,0.3l1.5,0.6l1.5,1.4l1.5,-2.9l1.5,-3.4l1.5,-4.1l1.5,4.2l1.5,3.7l1.5,3l1.5,2.2l1.5,1.4l1.5,0.9" fill="none" stroke="#c4c4c4" stroke-width="0.50" opacity="0.50"/>
<path d="M28.4,91.8l1.5,0l1.5,0.1l1.5,0l1.5,0l1.5,0.1l1.5,-0.4l1.5,-1.1l1.5,-1.6l1.5,-1.6l1.5,-0.6l1.5,1l1.5,2.1l1.5,0.9l1.5,0l1.5,-0.7l1.5,-1l1.5,1.2l1.5,0.9l1.5,0.7l1.5,0.5l1.5,0.3l1.5,-0.1l1.5,-0.4l1.5,-0.6l1.5,-0.3l1.5,0.4l1.5,0.5l1.5,0.4l1.5,0.2l1.5,0.1l1.5,-0.1l1.5,-0.2l1.5,-0.5l1.5,-0.3l1.5,-0.4l1.5,-0.3l1.5,0l1.5,0.1l1.5,0l1.5,-0.2l1.5,-0.3l1.5,-0.3l1.5,-0.5l1.5,-0.4l1.5,-0.3l1.5,-0.3l1.5,-0.4l1.5,-0.5l1.5,-0.3l1.5,-0.1l1.5,0.1l1.5,0.4l1.5,0.5l1.5,0.4l1.5,0l1.5,-0.2l1.5,-0.4l1.5,-0.7l1.5,-0.6l1.5,-0.2l1.5,-0.2l1.5,0l1.5,1l1.5,0.7l1.5,0.5l1.5,-0.1l1.5,-1l1.5,-1.2l1.5,0.4l1.5,0.6l1.5,-2.7l1.5,-4l1.5,4.3l1.5,2.6l1.5,1.4l1.5,0.6l1.5,-0.5l1.5,-0.7l1.5,-0.6l1.5,0.8l1.5,0.5l1.5,0.4l1.5,0.2l1.5,0.1l1.5,0.3l1.5,0.5" fill="none" stroke="#c4c4c4" stroke-width="0.50" opacity="0.50"/>
<path d="M28.4,89.3l1.5,0.1l1.5,0.3l1.5,0.4l1.5,0.2l1.5,0.2l1.5,-0.3l1.5,-0.8l1.5,-1.1l1.5,-0.9l1.5,-0.4l1.5,0.4l1.5,0.4l1.5,-0.5l1.5,-0.7l1.5,1.4l1.5,1l1.5,1.2l1.5,1l1.5,0.7l1.5,0.4l1.5,0.2l1.5,0.1l1.5,-3.8l1.5,-4.5l1.5,3.7l1.5,1.9l1.5,0.6l1.5,-0.2l1.5,-0.6l1.5,-1.6l1.5,-1.7l1.5,1.8l1.5,1.1l1.5,0.6l1.5,-3.6l1.5,-5.1l1.5,2.6l1.5,0.8l1.5,-0.1l1.5,-0.2l1.5,-0.1l1.5,-0.3l1.5,-2l1.5,-4.1l1.5,-4.1l1.5,-4.6l1.5,1.7l1.5,0.5l1.5,0.5l1.5,0.6l1.5,0.9l1.5,0.7l1.5,0.6l1.5,0.4l1.5,0.1l1.5,1.1l1.5,2.7l1.5,3.1l1.5,2.1l1.5,0.9l1.5,-0.4l1.5,-0.5l1.5,-0.7l1.5,-0.6l1.5,0.3l1.5,0.9l1.5,1.2l1.5,1.1l1.5,0.7l1.5,0.6l1.5,0.1l1.5,-0.5l1.5,-0.6l1.5,-0.5l1.5,-0.1l1.5,0.6l1.5,1.4l1.5,1.5l1.5,1l1.5,0.4l1.5,-0.3l1.5,-0.7l1.5,-0.9l1.5,-0.9l1.5,-0.2l1.5,0.7" fill="none" stroke="#c4c4c4" stroke-width="0.50" opacity="0.50"/>
<path d="M28.4,89l1.5,0.1l1.5,0.3l1.5,0.3l1.5,0.3l1.5,0.1l1.5,0l1.5,0l1.5,0l1.5,0.1l1.5,0.1l1.5,0.2l1.5,0.1l1.5,0.1l1.5,-0.1l1.5,-3.7l1.5,-4.1l1.5,2.9l1.5,1.3l1.5,0.6l1.5,0.6l1.5,0.7l1.5,0.6l1.5,0.5l1.5,0.6l1.5,0.1l1.5,0.2l1.5,0.4l1.5,0.4l1.5,0.2l1.5,-2.5l1.5,-3.6l1.5,-4.3l1.5,0.7l1.5,-0.3l1.5,-0.2l1.5,0.5l1.5,1l1.5,1.2l1.5,0.7l1.5,0.1l1.5,-0.4l1.5,-0.5l1.5,-0.6l1.5,-0.5l1.5,-0.6l1.5,-0.2l1.5,0.4l1.5,0.6l1.5,0.7l1.5,-4.4l1.5,-5.8l1.5,-4.8l1.5,7.5l1.5,5.1l1.5,2.9l1.5,1.2l1.5,-0.2l1.5,-0.9l1.5,-1.3l1.5,-0.4l1.5,0.2l1.5,0.5l1.5,0.7l1.5,0.3l1.5,0.5l1.5,0.4l1.5,0.1l1.5,-0.2l1.5,-0.2l1.5,0.2l1.5,0.8l1.5,1l1.5,1l1.5,0.9l1.5,0.3l1.5,-0.2l1.5,-0.4l1.5,-0.7l1.5,-0.6l1.5,-0.1l1.5,-0.1l1.5,0.1l1.5,-0.9l1.5,-6.7l1.5,-6.5l1.5,-6.6" fill="none" stroke="#c4c4c4" stroke-width="0.50" opacity="0.50"/>
<path d="M28.4,89.4l1.5,-0.3l1.5,-0.9l1.5,-1.3l1.5,-1.2l1.5,-0.5l1.5,0.8l1.5,1.7l1.5,1.8l1.5,1.2l1.5,0.5l1.5,0l1.5,-0.2l1.5,-0.1l1.5,-0.2l1.5,0l1.5,0.2l1.5,0.1l1.5,0.2l1.5,0.2l1.5,0.1l1.5,-0.2l1.5,-0.7l1.5,-0.9l1.5,-0.9l1.5,-0.4l1.5,0.4l1.5,0.9l1.5,0.9l1.5,0.6l1.5,0.1l1.5,-0.3l1.5,-0.7l1.5,-0.8l1.5,-0.8l1.5,-0.7l1.5,-0.4l1.5,0.1l1.5,0.4l1.5,0.2l1.5,-0.1l1.5,-0.9l1.5,-1.8l1.5,-2.6l1.5,-2.6l1.5,-1.5l1.5,-0.2l1.5,0.4l1.5,0.8l1.5,0.8l1.5,0.2l1.5,0.3l1.5,1l1.5,1.1l1.5,0.8l1.5,0.3l1.5,-0.6l1.5,-1.2l1.5,-1.7l1.5,-1.5l1.5,-0.7l1.5,-0.1l1.5,0.5l1.5,0.5l1.5,0.5l1.5,0.5l1.5,0.8l1.5,1.4l1.5,1.3l1.5,0.8l1.5,0.6l1.5,0.2l1.5,0.6l1.5,1.6l1.5,1.2l1.5,0.5l1.5,-0.3l1.5,-1.3l1.5,-2l1.5,-2.2l1.5,-1.1l1.5,0.3l1.5,1.9l1.5,1.9l1.5,1.3l1.5,0.7l1.5,0.4" fill="none" stroke="#c4c4c4" stroke-width="0.50" opacity="0.50"/>
<path d="M28.4,88.8l1.5,0.4l1.5,0.5l1.5,0.3l1.5,0l1.5,0.8l1.5,0.2l1.5,-0.3l1.5,-0.6l1.5,-0.5l1.5,-0.2l1.5,0.2l1.5,0.3l1.5,0.4l1.5,0.3l1.5,0.2l1.5,0.2l1.5,0.5l1.5,0.5l1.5,0.4l1.5,0.2l1.5,0.1l1.5,0.2l1.5,0.3l1.5,0.2l1.5,0l1.5,-0.1l1.5,-0.4l1.5,-0.7l1.5,-0.7l1.5,-0.3l1.5,-0.1l1.5,0.2l1.5,0.2l1.5,0.1l1.5,-0.5l1.5,-1.3l1.5,-1.8l1.5,-1l1.5,-1.2l1.5,-0.7l1.5,-0.6l1.5,-1.1l1.5,-1.5l1.5,-3.6l1.5,-3.6l1.5,2.3l1.5,2.8l1.5,2.7l1.5,2l1.5,0.7l1.5,-0.9l1.5,-0.4l1.5,1.9l1.5,1.3l1.5,0.5l1.5,-0.3l1.5,-1.2l1.5,-1.8l1.5,-1.7l1.5,-0.8l1.5,-0.1l1.5,0.3l1.5,0.2l1.5,0.3l1.5,0.6l1.5,1.1l1.5,1.4l1.5,-0.8l1.5,-1.7l1.5,-0.8l1.5,-2.5l1.5,4.5l1.5,2.9l1.5,1.8l1.5,1l1.5,0.2l1.5,-0.6l1.5,-1.1l1.5,-1l1.5,-0.5l1.5,0.5l1.5,1l1.5,1.2l1.5,-1.2l1.5,-1.8l1.5,1.7" fill="none" stroke="#c4c4c4" stroke-width="0.50" opacity="0.50"/>
<path d="M28.4,86.6l1.5,0.2l1.5,0.6l1.5,0.7l1.5,0.4l1.5,0.2l1.5,0.1l1.5,0.2l1.5,0.3l1.5,0.2l1.5,0.2l1.5,0.2l1.5,0.5l1.5,0.5l1.5,0.4l1.5,0.2l1.5,-0.2l1.5,-0.6l1.5,-0.9l1.5,-0.8l1.5,-0.2l1.5,0.4l1.5,0.9l1.5,1l1.5,0.6l1.5,0.3l1.5,-0.3l1.5,-1l1.5,-2.5l1.5,-2.8l1.5,-2.1l1.5,-0.4l1.5,2.7l1.5,2.6l1.5,-0.6l1.5,-2.3l1.5,1.9l1.5,0l1.5,-1.3l1.5,-1.8l1.5,-1.1l1.5,0.3l1.5,1.1l1.5,1.4l1.5,0.8l1.5,0.1l1.5,-0.3l1.5,-0.3l1.5,-0.3l1.5,-0.1l1.5,-0.2l1.5,-0.5l1.5,-1.4l1.5,-2l1.5,-1.8l1.5,-0.9l1.5,0.1l1.5,0.4l1.5,0.6l1.5,0.5l1.5,0l1.5,-0.4l1.5,-0.6l1.5,-0.9l1.5,-0.7l1.5,0.3l1.5,1.9l1.5,2.7l1.5,2.6l1.5,1.6l1.5,0.9l1.5,0.3l1.5,-0.1l1.5,-0.1l1.5,0.1l1.5,0l1.5,0.1l1.5,0.2l1.5,0.2l1.5,0.1l1.5,0.1l1.5,0l1.5,-0.2l1.5,-0.1l1.5,-0.1l1.5,0.1l1.5,0.1" fill="none" stroke="#c4c4c4" stroke-width="0.50" opacity="0.50"/>
<path d="M28.4,78.4l1.5,2l1.5,1.5l1.5,1l1.5,0.8l1.5,0.7l1.5,0.5l1.5,0.3l1.5,0.3l1.5,0.2l1.5,0.3l1.5,0.2l1.5,0.1l1.5,-1.3l1.5,-4.6l1.5,3.5l1.5,1.4l1.5,0.1l1.5,-0.5l1.5,-0.5l1.5,0l1.5,-0.3l1.5,0.1l1.5,0.1l1.5,0l1.5,0.9l1.5,0.6l1.5,0.5l1.5,0.4l1.5,0.1l1.5,0.1l1.5,-0.1l1.5,0l1.5,-1.2l1.5,-6.4l1.5,-6.8l1.5,4.3l1.5,-1l1.5,-4.4l1.5,-5.1l1.5,-5.6l1.5,5.2l1.5,4.2l1.5,3.4l1.5,2.7l1.5,1.4l1.5,0.5l1.5,-0.2l1.5,-0.5l1.5,-0.3l1.5,0l1.5,0.2l1.5,-0.1l1.5,-0.1l1.5,-0.1l1.5,0.2l1.5,0.5l1.5,1.6l1.5,1.7l1.5,1.3l1.5,0.4l1.5,0.1l1.5,0.7l1.5,0.9l1.5,0.6l1.5,0.5l1.5,0.2l1.5,-0.8l1.5,-1.3l1.5,-1.3l1.5,0l1.5,0.3l1.5,0l1.5,-0.2l1.5,0.1l1.5,0.1l1.5,0.4l1.5,0.9l1.5,1l1.5,0.8l1.5,0l1.5,-0.7l1.5,-0.7l1.5,-0.7l1.5,0.6l1.5,0.6l1.5,1" fill="none" stroke="#c4c4c4" stroke-width="0.50" opacity="0.50"/>
<path d="M28.4,77.1l1.5,0.1l1.5,0.3l1.5,0.2l1.5,0.3l1.5,0.1l1.5,0.4l1.5,1l1.5,1.2l1.5,1.1l1.5,0.5l1.5,0l1.5,-0.1l1.5,-0.2l1.5,-0.1l1.5,0.1l1.5,0.6l1.5,-2.2l1.5,-4.2l1.5,-4.5l1.5,5l1.5,3l1.5,1.6l1.5,0.8l1.5,0.4l1.5,0.5l1.5,0.8l1.5,1l1.5,0.9l1.5,0.5l1.5,0.3l1.5,-0.9l1.5,-2l1.5,-2.9l1.5,-2.9l1.5,-2.2l1.5,-1.4l1.5,-0.9l1.5,-0.6l1.5,-0.7l1.5,-1.1l1.5,-0.2l1.5,1.2l1.5,1.7l1.5,1.2l1.5,-0.1l1.5,-1.3l1.5,-3.1l1.5,0.7l1.5,0.3l1.5,0.1l1.5,-1.4l1.5,-4.1l1.5,-5.9l1.5,-5.7l1.5,-2.7l1.5,1.2l1.5,3.6l1.5,4.1l1.5,3l1.5,0.9l1.5,0.6l1.5,2.5l1.5,2.9l1.5,2.1l1.5,1.6l1.5,1.1l1.5,0.7l1.5,0.5l1.5,0.3l1.5,0.7l1.5,0.9l1.5,0.9l1.5,0.8l1.5,0.9l1.5,0.4l1.5,-0.1l1.5,-0.7l1.5,-0.7l1.5,0l1.5,0.1l1.5,0.7l1.5,1.5l1.5,1.5l1.5,1.2l1.5,0.6l1.5,-0.2" fill="none" stroke="#c4c4c4" stroke-width="0.50" opacity="0.50"/>
<path d="M28.4,92.7l1.5,-0.1l1.5,-0.1l1.5,-0.2l1.5,-0.2l1.5,0l1.5,-0.1l1.5,-0.1l1.5,-0.1l1.5,-0.1l1.5,0l1.5,0.2l1.5,0.6l1.5,0.6l1.5,0.4l1.5,0.2l1.5,0l1.5,0l1.5,-0.1l1.5,-0.1l1.5,0l1.5,0l1.5,-0.7l1.5,-0.9l1.5,0.6l1.5,0.3l1.5,0.1l1.5,-0.3l1.5,-0.6l1.5,-0.7l1.5,-0.3l1.5,0.3l1.5,0.8l1.5,0.9l1.5,0.6l1.5,0l1.5,-0.2l1.5,-0.2l1.5,-0.2l1.5,-0.2l1.5,-0.2l1.5,-0.1l1.5,0.1l1.5,0.1l1.5,0.1l1.5,-0.1l1.5,-0.2l1.5,-0.7l1.5,-0.9l1.5,-0.7l1.5,-0.6l1.5,-0.6l1.5,-0.5l1.5,-0.5l1.5,0.7l1.5,0.4l1.5,0.3l1.5,0.2l1.5,0.1l1.5,0.1l1.5,-0.1l1.5,-0.4l1.5,-1.4l1.5,-2.8l1.5,-2.4l1.5,-5.5l1.5,-5.9l1.5,8.8l1.5,5.5l1.5,3.1l1.5,1.6l1.5,0.8l1.5,0.4l1.5,0.2l1.5,0.1l1.5,0.1l1.5,0.3l1.5,0.5l1.5,0.5l1.5,0.5l1.5,0.1l1.5,-0.4l1.5,-0.6l1.5,-0.6l1.5,-0.6l1.5,0.4l1.5,0.4" fill="none" stroke="#c4c4c4" stroke-width="0.50" opacity="0.50"/>
<path d="M28.4,87.2l1.5,0.6l1.5,1.2l1.5,1.3l1.5,0.9l1.5,0.3l1.5,-0.1l1.5,-0.2l1.5,-0.4l1.5,-0.2l1.5,0l1.5,-0.7l1.5,-1.6l1.5,-2.1l1.5,-1.2l1.5,-0.2l1.5,-0.9l1.5,-1.2l1.5,-1.2l1.5,-1.4l1.5,2.3l1.5,1.7l1.5,1.3l1.5,1.2l1.5,0.9l1.5,0.6l1.5,0.4l1.5,0.2l1.5,0.1l1.5,-0.1l1.5,-0.1l1.5,0l1.5,0.1l1.5,0.1l1.5,0.2l1.5,-0.4l1.5,-0.8l1.5,-1.1l1.5,-1.5l1.5,-1.4l1.5,-1l1.5,0.3l1.5,1.5l1.5,1.7l1.5,1.2l1.5,0.2l1.5,-0.8l1.5,-2.1l1.5,-2.8l1.5,-2.6l1.5,-1.2l1.5,0.5l1.5,1.3l1.5,1.5l1.5,1.1l1.5,0.3l1.5,0l1.5,0.3l1.5,0.4l1.5,0.3l1.5,0l1.5,-0.3l1.5,-0.3l1.5,-0.5l1.5,-0.4l1.5,0.4l1.5,1.5l1.5,2.2l1.5,2l1.5,1.3l1.5,0.6l1.5,0l1.5,-0.6l1.5,-0.9l1.5,-0.8l1.5,-0.8l1.5,-9.2l1.5,6.8l1.5,3.2l1.5,1.5l1.5,0.6l1.5,-0.1l1.5,-1l1.5,-1.5l1.5,-1.4l1.5,-0.4l1.5,0.9" fill="none" stroke="#c4c4c4" stroke-width="0.50" opacity="0.50"/>
<path d="M28.4,84.9l1.5,-0.6l1.5,-0.5l1.5,0.7l1.5,0.6l1.5,0.4l1.5,0.8l1.5,1.4l1.5,1.2l1.5,0.8l1.5,0.7l1.5,0.3l1.5,0l1.5,0l1.5,-0.1l1.5,0.1l1.5,-0.1l1.5,-0.6l1.5,-0.9l1.5,-0.8l1.5,-0.2l1.5,0.4l1.5,0.8l1.5,0.8l1.5,0.7l1.5,0.2l1.5,-0.2l1.5,-0.5l1.5,-0.9l1.5,-0.9l1.5,-0.5l1.5,0.2l1.5,0.7l1.5,0.9l1.5,0.6l1.5,0l1.5,-1l1.5,-2.2l1.5,-4l1.5,-5.6l1.5,-5.4l1.5,-1l1.5,0.7l1.5,4.9l1.5,3.3l1.5,1.6l1.5,0.1l1.5,-0.8l1.5,-1.2l1.5,-1.1l1.5,-0.4l1.5,0.5l1.5,1.1l1.5,1.4l1.5,1l1.5,0.3l1.5,0l1.5,-0.1l1.5,-0.2l1.5,-0.1l1.5,-0.2l1.5,-0.6l1.5,-1.2l1.5,-1.7l1.5,-1.4l1.5,0.1l1.5,1.3l1.5,1.3l1.5,1.1l1.5,0.9l1.5,0.7l1.5,0.8l1.5,0.9l1.5,0.9l1.5,0.8l1.5,0.4l1.5,0.4l1.5,0.8l1.5,0.9l1.5,0.4l1.5,-4.7l1.5,-5l1.5,3.8l1.5,2.2l1.5,1.4l1.5,1l1.5,0.6" fill="none" stroke="#c4c4c4" stroke-width="0.50" opacity="0.50"/>
<path d="M28.4,87.1l1.5,0.5l1.5,1.2l1.5,1.3l1.5,0.9l1.5,0.3l1.5,0.1l1.5,0.2l1.5,0.3l1.5,-0.2l1.5,-0.3l1.5,-0.7l1.5,-1.4l1.5,-1l1.5,-1.3l1.5,-1.2l1.5,1.6l1.5,2.1l1.5,1.8l1.5,1.1l1.5,0.5l1.5,-0.6l1.5,-4.4l1.5,-4.7l1.5,2l1.5,1.4l1.5,1.5l1.5,1.5l1.5,1.2l1.5,0.8l1.5,0.2l1.5,-0.1l1.5,-0.5l1.5,-0.8l1.5,-0.8l1.5,-0.7l1.5,-0.5l1.5,-0.5l1.5,-0.3l1.5,-0.4l1.5,-0.5l1.5,-0.3l1.5,-0.2l1.5,-0.1l1.5,-0.2l1.5,-0.3l1.5,-0.7l1.5,-1l1.5,-1.3l1.5,-0.9l1.5,-0.5l1.5,0.4l1.5,1.2l1.5,0l1.5,-0.8l1.5,1.7l1.5,0.6l1.5,0l1.5,-0.2l1.5,-0.2l1.5,-0.1l1.5,0.2l1.5,0.8l1.5,0.9l1.5,0.7l1.5,0.6l1.5,0.4l1.5,-0.2l1.5,-1.4l1.5,0.7l1.5,0.7l1.5,0.8l1.5,1l1.5,1l1.5,0.8l1.5,0.3l1.5,-0.2l1.5,-0.6l1.5,-0.9l1.5,-0.7l1.5,-0.3l1.5,0l1.5,0.1l1.5,0.2l1.5,0.1l1.5,0.2l1.5,0.4" fill="none" stroke="#c4c4c4" stroke-width="0.50" opacity="0.50"/>
<path d="M28.4,89.2l1.5,-0.4l1.5,-1.1l1.5,-1.6l1.5,-1.5l1.5,-0.7l1.5,0.3l1.5,0.7l1.5,0.9l1.5,0.7l1.5,0.3l1.5,0.2l1.5,0.2l1.5,0.3l1.5,0.2l1.5,0.1l1.5,0l1.5,-0.4l1.5,-0.6l1.5,-0.4l1.5,-0.8l1.5,-1l1.5,1.8l1.5,1.4l1.5,0.9l1.5,0.4l1.5,-1.3l1.5,-9.2l1.5,-9.4l1.5,6.7l1.5,4.2l1.5,0.6l1.5,-1.1l1.5,2.7l1.5,1.4l1.5,0.5l1.5,0.2l1.5,0.8l1.5,0.5l1.5,-0.9l1.5,-7.6l1.5,-8.6l1.5,3.8l1.5,0.6l1.5,-0.8l1.5,-0.3l1.5,0.6l1.5,1l1.5,1.2l1.5,-4l1.5,-8.3l1.5,6.9l1.5,4.4l1.5,3l1.5,1.8l1.5,0.7l1.5,-0.2l1.5,-0.9l1.5,-1.5l1.5,-1.3l1.5,-0.7l1.5,0.2l1.5,1.1l1.5,1.3l1.5,1l1.5,1l1.5,0.3l1.5,-0.9l1.5,-1.5l1.5,-1.5l1.5,0.1l1.5,1l1.5,1.1l1.5,1.1l1.5,1.1l1.5,0.5l1.5,0.6l1.5,1.3l1.5,1.5l1.5,1.2l1.5,0.4l1.5,0.1l1.5,0.2l1.5,0.3l1.5,0.3l1.5,0.2l1.5,0.3" fill="none" stroke="#c4c4c4" stroke-width="0.50" opacity="0.50"/>
<path d="M28.4,80.9l1.5,0.6l1.5,1.3l1.5,0.4l1.5,-2.4l1.5,2.4l1.5,-1.3l1.5,-1.8l1.5,2.4l1.5,1.5l1.5,1.1l1.5,0.8l1.5,0.9l1.5,0.9l1.5,0.6l1.5,0.4l1.5,0.4l1.5,0.4l1.5,0.6l1.5,0.4l1.5,0.2l1.5,-0.2l1.5,-0.7l1.5,-1.1l1.5,-0.9l1.5,-0.4l1.5,0.2l1.5,0.5l1.5,0.5l1.5,0.2l1.5,0l1.5,0l1.5,0.2l1.5,0.4l1.5,0.3l1.5,-0.3l1.5,-1.5l1.5,-2.9l1.5,-3.6l1.5,-3.7l1.5,-0.6l1.5,0.4l1.5,0.2l1.5,-0.1l1.5,-0.5l1.5,-1.1l1.5,-0.1l1.5,-1.7l1.5,-2.8l1.5,-2.3l1.5,-1l1.5,1.1l1.5,2.6l1.5,2.8l1.5,2.1l1.5,0.6l1.5,0.1l1.5,0.3l1.5,0.4l1.5,0.3l1.5,0.1l1.5,-1.1l1.5,-2.5l1.5,-3.5l1.5,-3.2l1.5,-0.3l1.5,2.6l1.5,3.9l1.5,4l1.5,2.7l1.5,1.3l1.5,0.4l1.5,-0.4l1.5,-4.2l1.5,-4.1l1.5,-3.7l1.5,3.3l1.5,2.5l1.5,1.9l1.5,1.4l1.5,1l1.5,1.4l1.5,2.6l1.5,2.4l1.5,1.6l1.5,0.8l1.5,0.3" fill="none" stroke="#c4c4c4" stroke-width="0.50" opacity="0.50"/>
<path d="M28.4,82.6l1.5,-6.4l1.5,-13.6l1.5,9.4l1.5,4.7l1.5,2.4l1.5,1.4l1.5,0.8l1.5,0.9l1.5,0.3l1.5,-1.7l1.5,-1.9l1.5,-1.9l1.5,-1.8l1.5,2.2l1.5,1.7l1.5,1.9l1.5,2.5l1.5,2.3l1.5,-0.5l1.5,-2l1.5,-2.3l1.5,2.9l1.5,2.2l1.5,1.5l1.5,1.1l1.5,0.3l1.5,-1.2l1.5,-1.9l1.5,-1.9l1.5,-0.1l1.5,0.4l1.5,0.4l1.5,0.2l1.5,0l1.5,-0.5l1.5,-0.5l1.5,-0.1l1.5,0l1.5,0l1.5,-0.4l1.5,-0.9l1.5,-1.6l1.5,-2.1l1.5,-2.4l1.5,-8.2l1.5,-7.6l1.5,4.6l1.5,2.7l1.5,1.8l1.5,1.1l1.5,-0.3l1.5,-2l1.5,-3.2l1.5,-3l1.5,-1.3l1.5,0l1.5,0.5l1.5,0.8l1.5,0.5l1.5,0l1.5,1.8l1.5,5.2l1.5,5.3l1.5,3.5l1.5,1.8l1.5,-2.7l1.5,-5.7l1.5,-7.5l1.5,-2.6l1.5,0.5l1.5,3.9l1.5,5.1l1.5,4.8l1.5,3.5l1.5,1.4l1.5,0l1.5,-0.6l1.5,-0.8l1.5,-0.7l1.5,-0.1l1.5,0.2l1.5,0.7l1.5,0.8l1.5,0.6l1.5,0.5l1.5,-0.2" fill="none" stroke="#c4c4c4" stroke-width="0.50" opacity="0.50"/>
<path d="M28.4,88.9l1.5,0l1.5,-0.2l1.5,-0.1l1.5,-0.2l1.5,-2.4l1.5,-2.1l1.5,0.4l1.5,-0.7l1.5,3.4l1.5,1.8l1.5,1l1.5,0.7l1.5,0.5l1.5,0.4l1.5,0.2l1.5,0.2l1.5,0.2l1.5,0.2l1.5,0.2l1.5,0.1l1.5,-0.2l1.5,-0.6l1.5,-2.1l1.5,-3.1l1.5,-2.5l1.5,-2.1l1.5,2l1.5,1.5l1.5,0.9l1.5,0.7l1.5,0.8l1.5,1.1l1.5,0.9l1.5,0.6l1.5,-0.1l1.5,-0.1l1.5,-0.4l1.5,-0.7l1.5,-0.8l1.5,-0.5l1.5,-0.1l1.5,-0.2l1.5,-0.2l1.5,-0.2l1.5,-0.3l1.5,-0.1l1.5,0.1l1.5,0.2l1.5,0.4l1.5,0l1.5,-0.6l1.5,-1.6l1.5,-2.5l1.5,-2.4l1.5,-1.1l1.5,0.2l1.5,1l1.5,0.9l1.5,0.2l1.5,-0.5l1.5,-1.1l1.5,-0.2l1.5,-0.6l1.5,-0.5l1.5,0.5l1.5,0.5l1.5,-0.4l1.5,-1l1.5,-0.9l1.5,0.2l1.5,2l1.5,3.1l1.5,3l1.5,2l1.5,0.8l1.5,-0.8l1.5,-2.8l1.5,3l1.5,1.5l1.5,0.7l1.5,0.4l1.5,0.4l1.5,0.4l1.5,0.3l1.5,0.2l1.5,-0.2" fill="none" stroke="#c4c4c4" stroke-width="0.50" opacity="0.50"/>
<path d="M28.4,88.1l1.5,0.3l1.5,0.7l1.5,0.9l1.5,0.6l1.5,0.2l1.5,0l1.5,-0.8l1.5,-0.9l1.5,-0.8l1.5,0.9l1.5,0.7l1.5,0.6l1.5,0.4l1.5,0.3l1.5,0.3l1.5,0l1.5,-0.2l1.5,-0.4l1.5,-0.4l1.5,0l1.5,0.2l1.5,0.3l1.5,0.3l1.5,0.2l1.5,0.1l1.5,0l1.5,-0.1l1.5,-0.2l1.5,-0.3l1.5,-0.2l1.5,-0.1l1.5,0l1.5,0l1.5,0l1.5,-0.3l1.5,-0.4l1.5,-0.4l1.5,-0.3l1.5,-0.4l1.5,-0.4l1.5,-0.2l1.5,-0.2l1.5,-0.1l1.5,-0.1l1.5,-0.2l1.5,-0.6l1.5,-0.9l1.5,-1.1l1.5,-0.9l1.5,-0.5l1.5,0.3l1.5,1.2l1.5,1.3l1.5,1l1.5,0.3l1.5,-0.5l1.5,-1.4l1.5,-2l1.5,-1.9l1.5,-0.9l1.5,-0.1l1.5,0.2l1.5,0.3l1.5,0.2l1.5,0.7l1.5,1.6l1.5,2.5l1.5,2.3l1.5,1.4l1.5,0.7l1.5,0.1l1.5,-0.2l1.5,-0.3l1.5,-0.1l1.5,-1.7l1.5,-3.1l1.5,-3.1l1.5,2.7l1.5,1.7l1.5,1.2l1.5,0.7l1.5,0.2l1.5,0l1.5,-0.1l1.5,0.2l1.5,0.4" fill="none" stroke="#c4c4c4" stroke-width="0.50" opacity="0.50"/>
<path d="M28.4,89.7l1.5,0.1l1.5,0.3l1.5,0.4l1.5,0.3l1.5,0.1l1.5,0.1l1.5,0.1l1.5,0.1l1.5,0.1l1.5,0.1l1.5,0l1.5,-0.1l1.5,-0.2l1.5,-0.2l1.5,0l1.5,0.1l1.5,0.2l1.5,0.2l1.5,0.1l1.5,0.1l1.5,0l1.5,-0.3l1.5,-1.2l1.5,-1.3l1.5,-0.7l1.5,1.1l1.5,0.9l1.5,0.8l1.5,0.5l1.5,0.2l1.5,-0.1l1.5,-0.3l1.5,-0.6l1.5,-0.5l1.5,-0.5l1.5,-0.3l1.5,0l1.5,0.2l1.5,0l1.5,-0.2l1.5,0.1l1.5,0.8l1.5,0.9l1.5,0.6l1.5,0.1l1.5,-0.5l1.5,-1.5l1.5,-2.3l1.5,-2.2l1.5,-1.1l1.5,-0.3l1.5,-0.6l1.5,-0.8l1.5,-0.7l1.5,-0.3l1.5,0.9l1.5,2.5l1.5,2.4l1.5,1.6l1.5,0.5l1.5,-0.1l1.5,0l1.5,-0.5l1.5,-3.2l1.5,-2.8l1.5,2.3l1.5,0.5l1.5,-0.8l1.5,-1.2l1.5,0l1.5,1.1l1.5,1.2l1.5,1.2l1.5,1.1l1.5,0.4l1.5,0.3l1.5,0.8l1.5,0.8l1.5,0.6l1.5,0.2l1.5,-0.1l1.5,-0.5l1.5,-0.6l1.5,-0.5l1.5,-0.1l1.5,0.4" fill="none" stroke="#c4c4c4" stroke-width="0.50" opacity="0.50"/>
<path d="M28.4,87.9l1.5,0.3l1.5,0.8l1.5,0.8l1.5,0.6l1.5,-2.9l1.5,-8.4l1.5,3.1l1.5,4.8l1.5,2.8l1.5,1.4l1.5,0.7l1.5,0.5l1.5,0l1.5,0l1.5,0l1.5,0l1.5,-0.6l1.5,-0.8l1.5,-0.8l1.5,-0.2l1.5,0.2l1.5,0.4l1.5,0.5l1.5,0.3l1.5,0.2l1.5,0l1.5,-0.1l1.5,-0.1l1.5,-0.2l1.5,-0.2l1.5,0l1.5,0.1l1.5,0.1l1.5,0.1l1.5,-0.2l1.5,-0.4l1.5,-0.3l1.5,-0.2l1.5,-0.2l1.5,-0.3l1.5,-0.5l1.5,-1l1.5,-1.3l1.5,-1.2l1.5,-1.2l1.5,-1.5l1.5,0.7l1.5,-5.2l1.5,-9l1.5,8.8l1.5,4.3l1.5,2.4l1.5,1.3l1.5,0.7l1.5,0.6l1.5,-0.7l1.5,-1.9l1.5,-2.7l1.5,-2.8l1.5,-1.3l1.5,-0.6l1.5,-1.1l1.5,-1.5l1.5,-1.2l1.5,0.3l1.5,2.4l1.5,3.7l1.5,3.3l1.5,2.2l1.5,1l1.5,0.6l1.5,0.8l1.5,0.8l1.5,0.7l1.5,0.3l1.5,0l1.5,-0.1l1.5,-0.2l1.5,-0.1l1.5,0l1.5,0.1l1.5,0.4l1.5,-0.9l1.5,-1.6l1.5,-1.7l1.5,1.7" fill="none" stroke="#c4c4c4" stroke-width="0.50" opacity="0.50"/>
<path d="M28.4,83.3l1.5,-0.1l1.5,-0.1l1.5,-0.1l1.5,-0.2l1.5,0l1.5,-0.5l1.5,-0.8l1.5,-0.6l1.5,0.7l1.5,1.3l1.5,0.5l1.5,-0.5l1.5,-0.9l1.5,-0.8l1.5,-0.2l1.5,0.8l1.5,1.4l1.5,1.5l1.5,1.1l1.5,0.5l1.5,0.3l1.5,0.4l1.5,0.4l1.5,0.3l1.5,0.1l1.5,-0.1l1.5,-0.5l1.5,-0.8l1.5,-1l1.5,-0.5l1.5,0.3l1.5,1.3l1.5,1.3l1.5,1l1.5,0l1.5,-1.7l1.5,-4.2l1.5,-7.4l1.5,-9.1l1.5,-5.6l1.5,0.4l1.5,3.4l1.5,4l1.5,2.7l1.5,0.5l1.5,-1l1.5,-2.8l1.5,-5l1.5,2.4l1.5,1.2l1.5,0.7l1.5,0.8l1.5,0.8l1.5,0.7l1.5,0l1.5,-1.2l1.5,-2.6l1.5,-3.5l1.5,-3.1l1.5,-1.6l1.5,0.3l1.5,1.7l1.5,2.1l1.5,1.6l1.5,1.8l1.5,2l1.5,2.1l1.5,1.9l1.5,1.4l1.5,1.2l1.5,1.6l1.5,2.3l1.5,2.4l1.5,1.9l1.5,0.7l1.5,0.8l1.5,1.7l1.5,1.8l1.5,1.2l1.5,0.5l1.5,-3.2l1.5,-18.7l1.5,6.3l1.5,-0.4l1.5,-2.9l1.5,5.2" fill="none" stroke="#c4c4c4" stroke-width="0.50" opacity="0.50"/>
<path d="M28.4,91.5l1.5,-0.1l1.5,-0.3l1.5,-0.4l1.5,-0.3l1.5,-0.1l1.5,-0.1l1.5,-0.3l1.5,-0.4l1.5,-0.3l1.5,0l1.5,0.4l1.5,0.7l1.5,-0.9l1.5,-1.2l1.5,1.8l1.5,1l1.5,0.6l1.5,0.5l1.5,0.3l1.5,0.2l1.5,0l1.5,-0.4l1.5,-0.5l1.5,-0.5l1.5,-0.2l1.5,-0.1l1.5,-0.2l1.5,-0.3l1.5,-0.4l1.5,-0.2l1.5,0.1l1.5,0.5l1.5,0.5l1.5,0.4l1.5,-0.1l1.5,-0.4l1.5,-0.3l1.5,-0.3l1.5,-0.4l1.5,-0.3l1.5,-0.4l1.5,-0.5l1.5,-0.6l1.5,-0.5l1.5,-0.4l1.5,-0.2l1.5,0l1.5,0.1l1.5,0.3l1.5,0l1.5,-0.1l1.5,-0.3l1.5,-0.4l1.5,-0.3l1.5,-0.2l1.5,-0.4l1.5,-0.8l1.5,-1l1.5,-0.9l1.5,-0.5l1.5,0l1.5,0.3l1.5,0.4l1.5,0.3l1.5,0.6l1.5,0.8l1.5,1l1.5,0.9l1.5,0.7l1.5,0.5l1.5,0.5l1.5,0.6l1.5,0.6l1.5,0.6l1.5,0.2l1.5,-2.9l1.5,-3.2l1.5,1l1.5,0.4l1.5,0.5l1.5,0.9l1.5,1.5l1.5,1.4l1.5,1l1.5,0.4l1.5,0.2" fill="none" stroke="#c4c4c4" stroke-width="0.50" opacity="0.50"/>
<path d="M28.4,87.8l1.5,-0.1l1.5,0l1.5,-0.1l1.5,-1l1.5,-2.4l1.5,-2.3l1.5,2.4l1.5,1.8l1.5,1.2l1.5,0.8l1.5,0.4l1.5,0.2l1.5,0.1l1.5,0l1.5,0.1l1.5,0.7l1.5,1l1.5,1l1.5,0.7l1.5,0.3l1.5,-0.1l1.5,-0.4l1.5,-0.7l1.5,-0.5l1.5,-0.2l1.5,0l1.5,-0.1l1.5,-0.2l1.5,-0.3l1.5,-0.2l1.5,-0.5l1.5,-1.1l1.5,-1.6l1.5,-1.6l1.5,-1.2l1.5,-0.1l1.5,1.2l1.5,1.7l1.5,1l1.5,0.1l1.5,-0.7l1.5,-1.4l1.5,-1.9l1.5,-1.8l1.5,-1.1l1.5,-0.4l1.5,0.1l1.5,-2l1.5,-8.6l1.5,-8.9l1.5,-8.7l1.5,8.8l1.5,6.9l1.5,5l1.5,3.4l1.5,2.4l1.5,2.4l1.5,2l1.5,1.5l1.5,0.9l1.5,-0.1l1.5,-1.1l1.5,-2.6l1.5,-17.4l1.5,10.2l1.5,4.6l1.5,-1l1.5,-3.1l1.5,-3.4l1.5,-3.2l1.5,4l1.5,3.6l1.5,2.9l1.5,2.5l1.5,1.5l1.5,1.1l1.5,0.9l1.5,0.9l1.5,0.6l1.5,0.2l1.5,0.2l1.5,-0.2l1.5,-0.5l1.5,-0.5l1.5,0.1l1.5,1.2" fill="none" stroke="#c4c4c4" stroke-width="0.50" opacity="0.50"/>
<path d="M28.4,77.6l1.5,-0.5l1.5,-1.5l1.5,-2l1.5,-1.7l1.5,-0.8l1.5,1.1l1.5,2.5l1.5,2.7l1.5,2.1l1.5,0.9l1.5,0.6l1.5,1l1.5,1.1l1.5,0.9l1.5,0.4l1.5,-0.1l1.5,-0.8l1.5,-1.1l1.5,-1l1.5,-0.2l1.5,-0.1l1.5,-0.9l1.5,-1.2l1.5,-1.1l1.5,-3.4l1.5,-2.6l1.5,4.1l1.5,3.2l1.5,1.7l1.5,0.7l1.5,-0.2l1.5,-0.7l1.5,-1l1.5,-0.9l1.5,-1.3l1.5,-0.7l1.5,0.2l1.5,-2.3l1.5,-2.6l1.5,2.3l1.5,0.2l1.5,-3l1.5,-11.9l1.5,3.7l1.5,1l1.5,0.8l1.5,1.3l1.5,1.7l1.5,1.3l1.5,0.4l1.5,-0.2l1.5,-0.2l1.5,-0.1l1.5,-0.6l1.5,-7l1.5,-1.7l1.5,-5.3l1.5,-7l1.5,-0.6l1.5,0.6l1.5,1.1l1.5,0.9l1.5,0.4l1.5,0.4l1.5,1.9l1.5,1.5l1.5,-1l1.5,-2.4l1.5,-2.2l1.5,0.6l1.5,5.3l1.5,8.7l1.5,8.1l1.5,0.3l1.5,-3.2l1.5,4.1l1.5,2.5l1.5,1.5l1.5,1l1.5,0.7l1.5,0.6l1.5,1l1.5,1l1.5,0.9l1.5,0.6l1.5,0.4" fill="none" stroke="#c4c4c4" stroke-width="0.50" opacity="0.50"/>
<path d="M28.4,83.1l1.5,-0.1l1.5,-0.3l1.5,-0.3l1.5,-0.2l1.5,-0.1l1.5,0l1.5,-0.1l1.5,0l1.5,0.1l1.5,0.2l1.5,0.1l1.5,0l1.5,-0.1l1.5,0l1.5,0.1l1.5,0.6l1.5,1.3l1.5,1.3l1.5,1l1.5,0.5l1.5,0l1.5,-0.2l1.5,-0.3l1.5,-0.2l1.5,0l1.5,-0.1l1.5,-0.2l1.5,-0.5l1.5,-1.8l1.5,-4.1l1.5,-1.5l1.5,2.9l1.5,2l1.5,1.2l1.5,0.1l1.5,-1.3l1.5,-3.2l1.5,-4.9l1.5,-5.2l1.5,-3.3l1.5,0.7l1.5,3.7l1.5,4.2l1.5,2.7l1.5,-0.1l1.5,-5.2l1.5,-5.7l1.5,1.6l1.5,-2.1l1.5,-9.4l1.5,8.1l1.5,4.6l1.5,2.8l1.5,1.2l1.5,-8.7l1.5,-10.7l1.5,-12l1.5,-2.3l1.5,4l1.5,3.1l1.5,4.6l1.5,6l1.5,5.6l1.5,4.1l1.5,2.7l1.5,0.4l1.5,-2.2l1.5,-3.9l1.5,-3.4l1.5,-0.5l1.5,3.5l1.5,-2.4l1.5,-13l1.5,16.9l1.5,7.9l1.5,3l1.5,0.9l1.5,-0.1l1.5,0l1.5,-0.3l1.5,0.3l1.5,0.8l1.5,0.9l1.5,0.8l1.5,0.6l1.5,1.1" fill="none" stroke="#c4c4c4" stroke-width="0.50" opacity="0.50"/>
<path d="M28.4,89.6l1.5,0l1.5,-0.1l1.5,-0.1l1.5,0l1.5,0l1.5,-0.1l1.5,-0.4l1.5,-0.5l1.5,-0.3l1.5,0l1.5,0.3l1.5,0.8l1.5,0.8l1.5,0.6l1.5,0.3l1.5,0l1.5,-0.1l1.5,-0.2l1.5,-0.2l1.5,0l1.5,-0.2l1.5,-1l1.5,-1.5l1.5,-1.4l1.5,-0.6l1.5,0.9l1.5,2l1.5,1.9l1.5,1l1.5,0.3l1.5,-0.4l1.5,-1.1l1.5,-1.5l1.5,-1.6l1.5,-1.2l1.5,-0.7l1.5,-0.2l1.5,-0.1l1.5,-0.2l1.5,-0.4l1.5,0l1.5,0.9l1.5,1.2l1.5,0.8l1.5,0.1l1.5,-0.7l1.5,-1.4l1.5,-1.9l1.5,-1.5l1.5,-0.7l1.5,0.4l1.5,1.2l1.5,1.3l1.5,1l1.5,0.3l1.5,-0.5l1.5,-1l1.5,-1.3l1.5,-1.3l1.5,-0.6l1.5,0.5l1.5,1.5l1.5,1.7l1.5,1.2l1.5,0.8l1.5,0.3l1.5,-0.1l1.5,-0.4l1.5,-0.3l1.5,0.2l1.5,0.6l1.5,0.6l1.5,0.7l1.5,0.6l1.5,0.3l1.5,-0.2l1.5,-0.4l1.5,-0.5l1.5,-0.5l1.5,-0.2l1.5,0.3l1.5,0.8l1.5,0.9l1.5,0.7l1.5,0.3l1.5,0.1" fill="none" stroke="#c4c4c4" stroke-width="0.50" opacity="0.50"/>
<path d="M28.4,90.1l1.5,0l1.5,0.1l1.5,0l1.5,0.1l1.5,0l1.5,0.3l1.5,0.6l1.5,0.6l1.5,0.5l1.5,0.2l1.5,-0.1l1.5,-0.3l1.5,-0.5l1.5,-0.4l1.5,-0.1l1.5,0.3l1.5,0.6l1.5,0.7l1.5,0.5l1.5,0.2l1.5,-0.2l1.5,-0.6l1.5,-0.9l1.5,-0.9l1.5,-0.3l1.5,0.2l1.5,0.6l1.5,0.6l1.5,0.3l1.5,0.1l1.5,-0.5l1.5,-1.4l1.5,-0.6l1.5,-0.8l1.5,-0.7l1.5,-0.2l1.5,0.4l1.5,0.6l1.5,0.4l1.5,0l1.5,-0.3l1.5,-1.2l1.5,-1.8l1.5,-1.9l1.5,-2.1l1.5,1.3l1.5,0.8l1.5,0.5l1.5,0.5l1.5,0.3l1.5,0l1.5,-1l1.5,-1.6l1.5,-2l1.5,-1.8l1.5,1.8l1.5,2.6l1.5,2.6l1.5,1.6l1.5,0.7l1.5,-0.2l1.5,-0.3l1.5,-0.4l1.5,-0.3l1.5,0.2l1.5,0.3l1.5,0.1l1.5,-0.1l1.5,-0.1l1.5,0.2l1.5,0.6l1.5,0.8l1.5,0.8l1.5,0.7l1.5,0.3l1.5,-0.2l1.5,-0.6l1.5,-0.9l1.5,-0.7l1.5,-0.3l1.5,-0.2l1.5,-0.6l1.5,-0.9l1.5,-0.6l1.5,-0.1l1.5,1.1" fill="none" stroke="#c4c4c4" stroke-width="0.50" opacity="0.50"/>
<path d="M28.4,85.3l1.5,-0.1l1.5,-0.4l1.5,-0.5l1.5,-0.4l1.5,-0.2l1.5,0l1.5,-0.1l1.5,-0.2l1.5,0l1.5,0.1l1.5,-0.1l1.5,-0.7l1.5,-0.8l1.5,-0.7l1.5,-0.1l1.5,0.6l1.5,1.2l1.5,1.4l1.5,1l1.5,0.5l1.5,-0.5l1.5,-1.7l1.5,-2.5l1.5,-2.3l1.5,-0.9l1.5,1.3l1.5,2.9l1.5,2.8l1.5,1.7l1.5,0.4l1.5,-0.7l1.5,-1.5l1.5,-2.2l1.5,-2.1l1.5,-1.8l1.5,-4.4l1.5,-10.5l1.5,-10.3l1.5,-10.4l1.5,7.3l1.5,4.4l1.5,1.3l1.5,-0.9l1.5,-3.6l1.5,-3.7l1.5,4l1.5,5.5l1.5,5.6l1.5,4.2l1.5,1.7l1.5,0l1.5,-0.4l1.5,-0.2l1.5,-0.8l1.5,-0.5l1.5,-1l1.5,-2.2l1.5,-2.8l1.5,-2.5l1.5,-1.3l1.5,0.5l1.5,2.2l1.5,2.7l1.5,2l1.5,1.9l1.5,-0.6l1.5,-0.8l1.5,-0.9l1.5,3.9l1.5,2.9l1.5,1.8l1.5,0.7l1.5,0.1l1.5,0.4l1.5,0.2l1.5,-0.6l1.5,0.4l1.5,-0.1l1.5,-0.1l1.5,0.2l1.5,1.4l1.5,3.3l1.5,3.4l1.5,2.3l1.5,1l1.5,-0.3" fill="none" stroke="#c4c4c4" stroke-width="0.50" opacity="0.50"/>
<path d="M28.4,87l1.5,-0.2l1.5,-1l1.5,-2.2l1.5,-2.1l1.5,1.2l1.5,1.1l1.5,1.2l1.5,1.2l1.5,0.9l1.5,0.4l1.5,0.2l1.5,0.2l1.5,0.2l1.5,0.1l1.5,0.2l1.5,-0.2l1.5,-0.6l1.5,-0.9l1.5,-0.7l1.5,-0.2l1.5,0.4l1.5,0.7l1.5,0.9l1.5,0.1l1.5,-0.9l1.5,-1.2l1.5,0.9l1.5,0.5l1.5,0.1l1.5,0l1.5,0.2l1.5,0.4l1.5,0.4l1.5,0.3l1.5,-0.3l1.5,-0.7l1.5,-1.3l1.5,-1.4l1.5,-1.5l1.5,-2l1.5,-5.2l1.5,-5.9l1.5,1.5l1.5,0.3l1.5,0.2l1.5,1.9l1.5,4.2l1.5,4.2l1.5,2.8l1.5,1l1.5,-0.3l1.5,-1.5l1.5,-2.1l1.5,-1.9l1.5,-1l1.5,-0.4l1.5,-1l1.5,-1.2l1.5,-1.1l1.5,-0.6l1.5,-0.2l1.5,-0.1l1.5,0l1.5,-0.5l1.5,-0.9l1.5,1.7l1.5,0l1.5,-0.9l1.5,-0.9l1.5,0.3l1.5,1.5l1.5,-1l1.5,-6.5l1.5,-6.9l1.5,7.7l1.5,4.2l1.5,2l1.5,0.5l1.5,0.1l1.5,0.5l1.5,1.2l1.5,2l1.5,2.1l1.5,1.8l1.5,0.7l1.5,0.4" fill="none" stroke="#c4c4c4" stroke-width="0.50" opacity="0.50"/>
<path d="M28.4,83.4l1.5,0.6l1.5,1.5l1.5,1.6l1.5,1.1l1.5,0.4l1.5,-0.4l1.5,-1.2l1.5,-1.6l1.5,-1.5l1.5,-0.5l1.5,-0.4l1.5,-2.6l1.5,-0.6l1.5,0.5l1.5,3.1l1.5,0.6l1.5,-0.8l1.5,-1.2l1.5,-1.4l1.5,1.7l1.5,1.6l1.5,1.7l1.5,1.5l1.5,1.1l1.5,0.6l1.5,0.3l1.5,0.2l1.5,0l1.5,-0.1l1.5,-0.1l1.5,-0.1l1.5,-0.3l1.5,-0.4l1.5,-0.3l1.5,-0.6l1.5,-0.4l1.5,0l1.5,0.3l1.5,0.1l1.5,-0.2l1.5,-1.1l1.5,-2.4l1.5,-3.7l1.5,-3.8l1.5,-2.2l1.5,-0.2l1.5,0.9l1.5,1.4l1.5,1.3l1.5,0.4l1.5,-3.1l1.5,-6l1.5,-1.8l1.5,-2.6l1.5,-1.1l1.5,1.4l1.5,3.5l1.5,3.7l1.5,2.7l1.5,0.5l1.5,0l1.5,1.4l1.5,1.6l1.5,2l1.5,1.4l1.5,0.9l1.5,0.5l1.5,0.4l1.5,0.2l1.5,0.5l1.5,0.6l1.5,0.4l1.5,0.3l1.5,0.4l1.5,0.3l1.5,-0.1l1.5,-0.2l1.5,-0.3l1.5,-0.2l1.5,-0.1l1.5,0.3l1.5,0.6l1.5,0.7l1.5,0.6l1.5,0.3l1.5,0" fill="none" stroke="#c4c4c4" stroke-width="0.50" opacity="0.50"/>
<path d="M28.4,67.1l1.5,0.3l1.5,0.7l1.5,0.9l1.5,0.7l1.5,0.3l1.5,0.6l1.5,1.4l1.5,1.7l1.5,1.4l1.5,0.7l1.5,0.5l1.5,0.8l1.5,-6.4l1.5,-7.6l1.5,-7.8l1.5,6.7l1.5,3.6l1.5,1.6l1.5,0.9l1.5,1.4l1.5,1l1.5,-0.4l1.5,-1.1l1.5,-1.1l1.5,-0.1l1.5,2.7l1.5,5.9l1.5,4.9l1.5,2.8l1.5,0.8l1.5,-0.9l1.5,-2.2l1.5,-3l1.5,-3.1l1.5,-2.3l1.5,-2.8l1.5,-4.6l1.5,-6.1l1.5,-6.1l1.5,-4.1l1.5,-0.8l1.5,1.4l1.5,2.1l1.5,1.3l1.5,-0.4l1.5,-0.1l1.5,0.5l1.5,-0.8l1.5,-1.2l1.5,-3.3l1.5,3.2l1.5,1.9l1.5,1.2l1.5,0.7l1.5,0.6l1.5,-3.9l1.5,-4.6l1.5,4l1.5,2.3l1.5,1.3l1.5,1.2l1.5,0.7l1.5,0.6l1.5,3.6l1.5,2.9l1.5,1.3l1.5,-0.5l1.5,-1.4l1.5,-1.5l1.5,0.5l1.5,-0.4l1.5,-4.3l1.5,-6.4l1.5,-5.3l1.5,-1.8l1.5,3l1.5,6.6l1.5,6.9l1.5,4.8l1.5,1.8l1.5,-4.6l1.5,-3.8l1.5,-3.6l1.5,6.4l1.5,4.4l1.5,2.5" fill="none" stroke="#c4c4c4" stroke-width="0.50" opacity="0.50"/>
<path d="M28.4,86.8l1.5,0.3l1.5,-0.5l1.5,-1.1l1.5,-0.9l1.5,-0.4l1.5,0.3l1.5,0.8l1.5,0.9l1.5,0.7l1.5,0.3l1.5,0.3l1.5,0.7l1.5,0.7l1.5,0.5l1.5,0.3l1.5,-0.1l1.5,-0.3l1.5,-0.4l1.5,-0.4l1.5,-1.4l1.5,-2.5l1.5,-3.7l1.5,-2.3l1.5,-3l1.5,-3.6l1.5,4.5l1.5,2.7l1.5,1.4l1.5,0.7l1.5,0.6l1.5,1l1.5,1.1l1.5,1l1.5,0.7l1.5,-0.1l1.5,-0.6l1.5,-0.5l1.5,-0.2l1.5,-0.5l1.5,-0.7l1.5,-0.6l1.5,-1.5l1.5,-2l1.5,-2l1.5,0.5l1.5,0.4l1.5,0.6l1.5,0.6l1.5,0.7l1.5,0.2l1.5,0.4l1.5,0.8l1.5,1l1.5,0.7l1.5,0.3l1.5,-0.5l1.5,-1.2l1.5,-1.5l1.5,-1.4l1.5,-0.7l1.5,0.4l1.5,1.7l1.5,1.9l1.5,1.4l1.5,0.9l1.5,0.3l1.5,-0.5l1.5,-0.9l1.5,-1.1l1.5,-0.2l1.5,0.3l1.5,0l1.5,-0.1l1.5,-0.1l1.5,0.9l1.5,0.6l1.5,0.7l1.5,0.6l1.5,-4.5l1.5,-5.6l1.5,-5.7l1.5,5l1.5,3.6l1.5,2.6l1.5,1.9l1.5,1.2" fill="none" stroke="#c4c4c4" stroke-width="0.50" opacity="0.50"/>
<path d="M28.4,90.3l1.5,0.3l1.5,0.7l1.5,0.8l1.5,0.6l1.5,0.1l1.5,-0.1l1.5,-0.6l1.5,-0.7l1.5,-1.4l1.5,-1.7l1.5,-1.5l1.5,0.5l1.5,0l1.5,-0.2l1.5,0.1l1.5,1l1.5,1.6l1.5,1.4l1.5,0.8l1.5,0.1l1.5,-0.1l1.5,0.3l1.5,0.1l1.5,0.2l1.5,0.1l1.5,-0.1l1.5,-0.3l1.5,-0.6l1.5,-0.8l1.5,-1.6l1.5,1.1l1.5,1.3l1.5,0.6l1.5,-1.4l1.5,-2l1.5,1.2l1.5,0l1.5,-1l1.5,-1.5l1.5,-0.9l1.5,0.7l1.5,1.7l1.5,1.7l1.5,1.1l1.5,-0.6l1.5,-1.3l1.5,-0.2l1.5,-0.7l1.5,-0.8l1.5,-0.3l1.5,0l1.5,-0.2l1.5,-0.2l1.5,-0.2l1.5,-0.1l1.5,-0.4l1.5,-1l1.5,-1.2l1.5,-1.2l1.5,-1.3l1.5,-0.3l1.5,0.9l1.5,0.9l1.5,1.9l1.5,1.3l1.5,0.2l1.5,-1.2l1.5,-2.3l1.5,-2.4l1.5,-0.5l1.5,1.9l1.5,3.1l1.5,2.8l1.5,1.8l1.5,0.7l1.5,0.1l1.5,0.1l1.5,0.1l1.5,0.1l1.5,0.1l1.5,0l1.5,0.2l1.5,0.2l1.5,0.1l1.5,0.1l1.5,0" fill="none" stroke="#c4c4c4" stroke-width="0.50" opacity="0.50"/>
<path d="M28.4,90.8l1.5,0.1l1.5,0.4l1.5,0.4l1.5,0.3l1.5,0.1l1.5,0l1.5,-0.1l1.5,-0.2l1.5,0.1l1.5,0.1l1.5,0.1l1.5,-0.1l1.5,0l1.5,-0.1l1.5,0.1l1.5,0l1.5,0.1l1.5,0.1l1.5,-0.7l1.5,-0.8l1.5,-0.7l1.5,0.7l1.5,0.6l1.5,0.4l1.5,0.3l1.5,0.4l1.5,0.7l1.5,0.6l1.5,0.4l1.5,0.1l1.5,-0.2l1.5,-0.5l1.5,-0.8l1.5,-0.8l1.5,-0.7l1.5,-0.2l1.5,0.1l1.5,0.3l1.5,0.2l1.5,-0.1l1.5,-0.4l1.5,-0.6l1.5,-0.8l1.5,-0.8l1.5,-0.5l1.5,0l1.5,0.5l1.5,0.6l1.5,0.5l1.5,0.2l1.5,-0.3l1.5,-3.1l1.5,-3.9l1.5,-3.8l1.5,1.9l1.5,1.6l1.5,1.2l1.5,0.8l1.5,0.6l1.5,0.3l1.5,0.2l1.5,0.4l1.5,0.1l1.5,-0.1l1.5,0.1l1.5,1.3l1.5,1.3l1.5,1.2l1.5,0.9l1.5,0.4l1.5,0.2l1.5,0.1l1.5,0.1l1.5,0.1l1.5,0.1l1.5,0l1.5,0.1l1.5,0.1l1.5,0.1l1.5,0l1.5,-2.7l1.5,-6.7l1.5,-6.8l1.5,-6.7l1.5,5.8l1.5,4.3" fill="none" stroke="#c4c4c4" stroke-width="0.50" opacity="0.50"/>
<path d="M28.4,83.8l1.5,-5.1l1.5,-5.5l1.5,-0.3l1.5,2.6l1.5,2.3l1.5,2.4l1.5,2.5l1.5,2.2l1.5,1.7l1.5,1l1.5,0.4l1.5,0l1.5,-0.3l1.5,-0.2l1.5,0l1.5,0.6l1.5,1.1l1.5,0.9l1.5,0.8l1.5,0.2l1.5,-0.1l1.5,-0.4l1.5,-0.6l1.5,-0.6l1.5,-0.2l1.5,-6.8l1.5,-8l1.5,-8.1l1.5,6.8l1.5,4.6l1.5,3.5l1.5,2.9l1.5,2.2l1.5,1.6l1.5,0.7l1.5,-0.2l1.5,-1.1l1.5,-1.7l1.5,-2l1.5,-0.8l1.5,-0.7l1.5,-0.9l1.5,-1l1.5,-1.1l1.5,-1.5l1.5,-0.5l1.5,0.8l1.5,2.4l1.5,1.9l1.5,0.8l1.5,0.7l1.5,1.2l1.5,0.8l1.5,-2.5l1.5,-3.3l1.5,-4.1l1.5,1l1.5,0.3l1.5,-0.2l1.5,-0.4l1.5,0.1l1.5,-0.1l1.5,-0.1l1.5,1.1l1.5,1.4l1.5,0.9l1.5,-4.3l1.5,-8.4l1.5,4.7l1.5,2.8l1.5,2.1l1.5,2.2l1.5,1.6l1.5,1.4l1.5,0.8l1.5,0.8l1.5,1.8l1.5,1.9l1.5,1.3l1.5,0.5l1.5,0.1l1.5,0.3l1.5,0.4l1.5,0.3l1.5,0.3l1.5,0" fill="none" stroke="#c4c4c4" stroke-width="0.50" opacity="0.50"/>
<path d="M28.4,85.6l1.5,0.4l1.5,1l1.5,1.1l1.5,0.9l1.5,0.3l1.5,-0.3l1.5,-0.7l1.5,-1l1.5,-0.8l1.5,-0.2l1.5,0.3l1.5,0.7l1.5,0.8l1.5,0.6l1.5,0.3l1.5,0l1.5,0.1l1.5,0l1.5,0l1.5,0.1l1.5,0l1.5,-0.1l1.5,-0.2l1.5,-0.2l1.5,0l1.5,-0.1l1.5,-0.4l1.5,-0.7l1.5,-0.8l1.5,-0.4l1.5,0.3l1.5,1.1l1.5,1.2l1.5,0.8l1.5,0l1.5,-0.7l1.5,-0.9l1.5,-1.1l1.5,-3l1.5,-3l1.5,-2.7l1.5,-2.8l1.5,1.4l1.5,0.9l1.5,0.6l1.5,0.7l1.5,0.9l1.5,1l1.5,1l1.5,0.4l1.5,-0.8l1.5,-2.7l1.5,-4.3l1.5,-4.4l1.5,-2l1.5,2.3l1.5,5.6l1.5,5.4l1.5,3.2l1.5,1l1.5,-0.4l1.5,-0.5l1.5,-0.8l1.5,-0.6l1.5,0.2l1.5,0.6l1.5,0.4l1.5,0l1.5,-0.8l1.5,-0.5l1.5,-0.8l1.5,0.3l1.5,-0.1l1.5,0l1.5,0.2l1.5,1l1.5,1.6l1.5,1.7l1.5,1.2l1.5,0.5l1.5,-0.3l1.5,-0.8l1.5,-1.2l1.5,-1l1.5,-0.2l1.5,0.5" fill="none" stroke="#c4c4c4" stroke-width="0.50" opacity="0.50"/>
<path d="M28.4,92l1.5,0l1.5,0l1.5,-0.1l1.5,0l1.5,-0.1l1.5,0l1.5,-0.1l1.5,-0.1l1.5,-0.1l1.5,0.1l1.5,-0.1l1.5,-0.3l1.5,-0.4l1.5,-0.3l1.5,-0.1l1.5,0.1l1.5,0.2l1.5,0.2l1.5,0.2l1.5,0.1l1.5,0.2l1.5,0.3l1.5,0.4l1.5,0.3l1.5,0.1l1.5,0.1l1.5,0.3l1.5,0.3l1.5,-1l1.5,-1.5l1.5,-1.7l1.5,0.9l1.5,0.4l1.5,0.1l1.5,0l1.5,0.2l1.5,0.6l1.5,0.6l1.5,0.4l1.5,0l1.5,-0.5l1.5,-1.2l1.5,-2.1l1.5,-2.3l1.5,-1.3l1.5,-0.2l1.5,0.2l1.5,0.3l1.5,0.4l1.5,0.1l1.5,0.3l1.5,0.8l1.5,0.9l1.5,0.7l1.5,0.1l1.5,-0.2l1.5,-0.4l1.5,-0.6l1.5,-0.5l1.5,-0.2l1.5,0.2l1.5,1l1.5,1l1.5,0.8l1.5,0.5l1.5,0l1.5,-0.5l1.5,-0.8l1.5,-0.8l1.5,-0.1l1.5,1.1l1.5,1.8l1.5,1.6l1.5,1l1.5,0.4l1.5,-0.1l1.5,-0.4l1.5,-0.4l1.5,-0.4l1.5,-0.1l1.5,-0.2l1.5,-0.4l1.5,-0.5l1.5,-0.5l1.5,-0.1l1.5,0.4" fill="none" stroke="#c4c4c4" stroke-width="0.50" opacity="0.50"/>
<path d="M28.4,93.1l1.5,0l1.5,0l1.5,0l1.5,0l1.5,0l1.5,-0.1l1.5,-0.3l1.5,-0.4l1.5,-0.2l1.5,-0.1l1.5,0.1l1.5,0.2l1.5,0.3l1.5,0.2l1.5,0.1l1.5,0l1.5,0.1l1.5,0.1l1.5,0.1l1.5,0.1l1.5,-0.1l1.5,-1.2l1.5,-1.7l1.5,0.6l1.5,0.3l1.5,0.6l1.5,0.8l1.5,0.7l1.5,0.4l1.5,0.1l1.5,-0.1l1.5,-0.2l1.5,-0.4l1.5,-0.2l1.5,-0.4l1.5,-0.1l1.5,0l1.5,0.1l1.5,0l1.5,-0.1l1.5,-0.2l1.5,-0.5l1.5,-0.5l1.5,-0.6l1.5,-0.6l1.5,-0.6l1.5,-0.9l1.5,-0.7l1.5,-0.5l1.5,-0.3l1.5,0.2l1.5,0.8l1.5,0.8l1.5,0.6l1.5,0.2l1.5,0l1.5,-0.4l1.5,-2.2l1.5,-2.2l1.5,1.6l1.5,0.6l1.5,-0.4l1.5,-1.2l1.5,-1.2l1.5,0l1.5,1.5l1.5,2.3l1.5,2.1l1.5,1.3l1.5,0.5l1.5,0.3l1.5,0.3l1.5,0.3l1.5,0.4l1.5,0.1l1.5,-0.2l1.5,-0.6l1.5,-0.8l1.5,-0.8l1.5,-0.3l1.5,0l1.5,0.2l1.5,0.1l1.5,0.2l1.5,0.1l1.5,0.5" fill="none" stroke="#c4c4c4" stroke-width="0.50" opacity="0.50"/>
<path d="M28.4,85.4l1.5,1.3l1.5,0.9l1.5,0.7l1.5,0.5l1.5,0.2l1.5,-0.2l1.5,-0.9l1.5,-1.3l1.5,-1.1l1.5,-0.4l1.5,0.8l1.5,1.7l1.5,1.6l1.5,1.2l1.5,0.4l1.5,-0.1l1.5,-0.5l1.5,-0.6l1.5,-0.6l1.5,-0.1l1.5,0.2l1.5,0.5l1.5,0.4l1.5,0.4l1.5,0.2l1.5,0l1.5,0l1.5,0l1.5,-0.2l1.5,-0.1l1.5,-0.1l1.5,0.1l1.5,0.2l1.5,0.1l1.5,-0.3l1.5,-0.6l1.5,-1.4l1.5,0.7l1.5,0.2l1.5,-0.1l1.5,-0.6l1.5,-1.4l1.5,-2l1.5,-1.9l1.5,-1.2l1.5,0.4l1.5,1.7l1.5,2l1.5,1.5l1.5,0.4l1.5,-0.8l1.5,-2.5l1.5,-4.1l1.5,-4.3l1.5,-2l1.5,0.1l1.5,0.8l1.5,1l1.5,0.7l1.5,0.1l1.5,0l1.5,0.4l1.5,0.6l1.5,-0.9l1.5,-1l1.5,-1.1l1.5,-1.6l1.5,1.5l1.5,1.1l1.5,1.4l1.5,1.3l1.5,-0.5l1.5,-0.7l1.5,-0.8l1.5,-1l1.5,2.6l1.5,3.4l1.5,3.1l1.5,2.2l1.5,1.1l1.5,0.4l1.5,0.5l1.5,0.3l1.5,0.3l1.5,0.2l1.5,0.3" fill="none" stroke="#c4c4c4" stroke-width="0.50" opacity="0.50"/>
<path d="M28.4,76.5l1.5,0.5l1.5,1.1l1.5,1.4l1.5,1l1.5,0.4l1.5,0.6l1.5,1.5l1.5,1.8l1.5,0.7l1.5,-0.7l1.5,-1.7l1.5,-0.5l1.5,-1.6l1.5,-1.7l1.5,-0.4l1.5,0.8l1.5,1.4l1.5,1.4l1.5,1.1l1.5,0.6l1.5,-0.2l1.5,-1.3l1.5,-1.7l1.5,-1.5l1.5,-0.6l1.5,0.9l1.5,2.1l1.5,2l1.5,1.2l1.5,0.3l1.5,-0.7l1.5,-1.5l1.5,-2.1l1.5,-2l1.5,-1.7l1.5,-1l1.5,-0.1l1.5,0.2l1.5,0.1l1.5,-0.6l1.5,-0.9l1.5,-0.8l1.5,-0.8l1.5,-0.7l1.5,-0.9l1.5,-0.1l1.5,1l1.5,1.6l1.5,1.5l1.5,0.5l1.5,-0.4l1.5,-0.9l1.5,-1.1l1.5,-0.9l1.5,-0.6l1.5,-2.2l1.5,-6l1.5,-9.5l1.5,-9.6l1.5,-4.7l1.5,3.8l1.5,10.2l1.5,9.8l1.5,6.3l1.5,2.9l1.5,0.8l1.5,-0.2l1.5,-0.6l1.5,-0.6l1.5,0.5l1.5,1.7l1.5,2.4l1.5,2.5l1.5,2l1.5,0.8l1.5,-0.1l1.5,-0.4l1.5,-0.5l1.5,-2.2l1.5,-2.1l1.5,-1.7l1.5,-1.2l1.5,2.8l1.5,2.1l1.5,1.6l1.5,0.5" fill="none" stroke="#c4c4c4" stroke-width="0.50" opacity="0.50"/>
<path d="M28.4,90.1l1.5,-0.2l1.5,-0.8l1.5,-1l1.5,-0.9l1.5,-0.4l1.5,0.2l1.5,0.5l1.5,0.6l1.5,0.5l1.5,0.3l1.5,-0.4l1.5,-1.1l1.5,-1.6l1.5,-1.5l1.5,-0.5l1.5,1.3l1.5,1l1.5,0.1l1.5,-0.6l1.5,2.2l1.5,1.2l1.5,0.6l1.5,0.2l1.5,0.1l1.5,0.2l1.5,0.2l1.5,0l1.5,0l1.5,-0.2l1.5,-0.1l1.5,-0.4l1.5,-0.8l1.5,-1.1l1.5,-1.1l1.5,-1l1.5,-0.8l1.5,-8.9l1.5,-10.7l1.5,6.2l1.5,3.6l1.5,2.4l1.5,2l1.5,1.6l1.5,1l1.5,0.2l1.5,0.2l1.5,0.3l1.5,0.6l1.5,0.7l1.5,0.1l1.5,-0.3l1.5,-0.8l1.5,-1l1.5,-3.7l1.5,-6.3l1.5,-1l1.5,-2.6l1.5,1.7l1.5,1.1l1.5,1.1l1.5,0.6l1.5,0.1l1.5,-0.2l1.5,-0.2l1.5,0.9l1.5,2.6l1.5,3.7l1.5,3.4l1.5,2.2l1.5,1.1l1.5,0.7l1.5,1.1l1.5,1.3l1.5,0.8l1.5,0.3l1.5,-0.1l1.5,-0.7l1.5,-2.4l1.5,-2.3l1.5,-2l1.5,2l1.5,2.1l1.5,1.8l1.5,1.3l1.5,0.7l1.5,0.2" fill="none" stroke="#c4c4c4" stroke-width="0.50" opacity="0.50"/>
<path d="M28.4,87.8l1.5,0.6l1.5,1.4l1.5,1.4l1.5,0.9l1.5,0.3l1.5,-0.2l1.5,-0.4l1.5,-1.8l1.5,-2.5l1.5,-2.2l1.5,1.9l1.5,1.6l1.5,1.2l1.5,0.9l1.5,0.5l1.5,0.4l1.5,0.3l1.5,0.3l1.5,0.3l1.5,0.1l1.5,0.1l1.5,-0.1l1.5,-0.1l1.5,-0.2l1.5,0l1.5,0.1l1.5,0.1l1.5,0.1l1.5,0l1.5,-0.1l1.5,0l1.5,0l1.5,0.1l1.5,0l1.5,-0.2l1.5,-0.3l1.5,-0.3l1.5,-0.3l1.5,-0.3l1.5,-0.3l1.5,-0.4l1.5,-0.5l1.5,-0.7l1.5,-0.6l1.5,-0.5l1.5,0l1.5,0.3l1.5,0.5l1.5,0.5l1.5,0.1l1.5,-0.1l1.5,-0.3l1.5,-0.3l1.5,-0.3l1.5,-0.1l1.5,-0.2l1.5,-0.3l1.5,-0.3l1.5,-0.4l1.5,-0.1l1.5,-0.1l1.5,0l1.5,0l1.5,-0.1l1.5,0.2l1.5,0.4l1.5,0.5l1.5,0.5l1.5,0.3l1.5,-0.1l1.5,0l1.5,0.2l1.5,1.2l1.5,1l1.5,0.5l1.5,0.1l1.5,0l1.5,0l1.5,-0.1l1.5,-1l1.5,-1.3l1.5,-1.1l1.5,-1.1l1.5,1.4l1.5,1.1l1.5,0.8" fill="none" stroke="#c4c4c4" stroke-width="0.50" opacity="0.50"/>
<path d="M28.4,91.9l1.5,0l1.5,0l1.5,-0.1l1.5,0l1.5,0l1.5,-0.5l1.5,-1.4l1.5,-2.3l1.5,-2.4l1.5,-0.9l1.5,1l1.5,2.1l1.5,2.1l1.5,1.3l1.5,0.5l1.5,0l1.5,-0.1l1.5,-0.2l1.5,-0.1l1.5,0l1.5,0.1l1.5,0.2l1.5,0.2l1.5,0.2l1.5,0l1.5,0.2l1.5,0.3l1.5,0.3l1.5,0.1l1.5,0l1.5,-0.2l1.5,-0.2l1.5,-0.4l1.5,-0.3l1.5,-0.4l1.5,-0.6l1.5,-0.7l1.5,-0.9l1.5,-0.8l1.5,-0.7l1.5,-0.5l1.5,-0.8l1.5,-0.9l1.5,-0.9l1.5,-0.6l1.5,0.4l1.5,1.6l1.5,1.9l1.5,1.4l1.5,0.4l1.5,-0.7l1.5,-2.3l1.5,-3.7l1.5,-4l1.5,-1.9l1.5,-0.2l1.5,-0.3l1.5,-0.2l1.5,-0.3l1.5,-0.2l1.5,1l1.5,2.8l1.5,3l1.5,2.1l1.5,1.1l1.5,1l1.5,1.4l1.5,1.3l1.5,0.9l1.5,0.5l1.5,-0.1l1.5,-0.7l1.5,-1.2l1.5,-0.9l1.5,-0.3l1.5,0.3l1.5,0.9l1.5,0.9l1.5,0.3l1.5,-0.2l1.5,-0.4l1.5,-0.4l1.5,0.4l1.5,0.4l1.5,0.3l1.5,0.4" fill="none" stroke="#c4c4c4" stroke-width="0.50" opacity="0.50"/>
<path d="M28.4,89.1l1.5,-0.1l1.5,-0.4l1.5,-0.6l1.5,-0.5l1.5,-0.2l1.5,-0.2l1.5,-0.7l1.5,-0.9l1.5,-0.7l1.5,-0.2l1.5,-0.2l1.5,-0.6l1.5,-0.9l1.5,-1.4l1.5,-0.9l1.5,1.6l1.5,2.1l1.5,-0.9l1.5,3.7l1.5,1.4l1.5,-3.6l1.5,-5.2l1.5,-5.5l1.5,3.2l1.5,2.5l1.5,2l1.5,1.2l1.5,0.6l1.5,0.2l1.5,0.1l1.5,-0.2l1.5,-0.8l1.5,-1.1l1.5,-1l1.5,-1l1.5,-0.8l1.5,0.2l1.5,0.5l1.5,0.3l1.5,-0.4l1.5,-0.6l1.5,-0.4l1.5,-0.3l1.5,-0.3l1.5,-0.5l1.5,-0.4l1.5,0.2l1.5,0.6l1.5,0.6l1.5,0.2l1.5,-0.8l1.5,-2l1.5,-2.7l1.5,-3.7l1.5,-5.4l1.5,-10.4l1.5,-5.9l1.5,7.3l1.5,4.7l1.5,2.8l1.5,1.1l1.5,-0.4l1.5,-0.7l1.5,-2.3l1.5,6.6l1.5,4.2l1.5,1.5l1.5,-0.2l1.5,-0.6l1.5,0.9l1.5,2.7l1.5,3.6l1.5,3.4l1.5,2.4l1.5,-2.1l1.5,-5.4l1.5,3.7l1.5,1.8l1.5,0.6l1.5,0.4l1.5,0.4l1.5,-1.2l1.5,-4.5l1.5,3.6l1.5,1.8l1.5,0.6" fill="none" stroke="#c4c4c4" stroke-width="0.50" opacity="0.50"/>
<path d="M28.4,91l1.5,0.1l1.5,0.3l1.5,0.3l1.5,0.2l1.5,0.1l1.5,0l1.5,-0.1l1.5,-0.2l1.5,0l1.5,0l1.5,-0.1l1.5,-0.3l1.5,-0.5l1.5,-0.4l1.5,-3l1.5,-2.9l1.5,-2.8l1.5,-2.9l1.5,2.8l1.5,2.2l1.5,1.6l1.5,1.1l1.5,0.9l1.5,1l1.5,0.8l1.5,0.6l1.5,0.2l1.5,-1.4l1.5,-1.5l1.5,-1.7l1.5,1.4l1.5,0.8l1.5,0.4l1.5,0.3l1.5,-0.1l1.5,-0.4l1.5,-0.8l1.5,-1.2l1.5,-1.2l1.5,-0.8l1.5,0l1.5,0.8l1.5,1.2l1.5,0.7l1.5,0l1.5,-0.5l1.5,-0.9l1.5,-0.9l1.5,-0.6l1.5,-0.3l1.5,0.9l1.5,2.3l1.5,2.3l1.5,1.5l1.5,0.4l1.5,-0.5l1.5,-1.2l1.5,-1.9l1.5,-2.1l1.5,-1.3l1.5,-0.5l1.5,-0.2l1.5,0.8l1.5,0.5l1.5,0.8l1.5,0.9l1.5,1l1.5,0.9l1.5,0.6l1.5,0.5l1.5,0.7l1.5,0.3l1.5,-0.7l1.5,-0.9l1.5,1.6l1.5,0.6l1.5,-0.4l1.5,-1.1l1.5,-1.8l1.5,-1.8l1.5,1.6l1.5,1.9l1.5,1.6l1.5,1.1l1.5,0.5l1.5,-0.1" fill="none" stroke="#c4c4c4" stroke-width="0.50" opacity="0.50"/>
<path d="M28.4,87.1l1.5,-0.6l1.5,-1.8l1.5,-2.8l1.5,-2.7l1.5,-1.1l1.5,0l1.5,-1l1.5,-1.2l1.5,1l1.5,0.7l1.5,0.8l1.5,1.2l1.5,1.3l1.5,0.9l1.5,0.5l1.5,0.4l1.5,0.4l1.5,0.4l1.5,0.4l1.5,0.3l1.5,0.3l1.5,0.3l1.5,0.4l1.5,0.2l1.5,0.2l1.5,0l1.5,-0.1l1.5,-0.2l1.5,-0.4l1.5,-0.4l1.5,-0.5l1.5,-1l1.5,-1.3l1.5,-1.2l1.5,-1.3l1.5,-0.6l1.5,0.6l1.5,1l1.5,0.7l1.5,-0.3l1.5,-1.1l1.5,-1.9l1.5,-2.4l1.5,-2.4l1.5,-1.5l1.5,-0.1l1.5,1.3l1.5,1.8l1.5,1.6l1.5,0.5l1.5,0.2l1.5,0.8l1.5,1l1.5,0.7l1.5,0.2l1.5,-1.4l1.5,-3.5l1.5,-5.4l1.5,-5.3l1.5,-2.5l1.5,-0.7l1.5,-0.8l1.5,-1l1.5,-0.7l1.5,1l1.5,3.9l1.5,5.9l1.5,5.4l1.5,3.6l1.5,1.7l1.5,0.1l1.5,-0.9l1.5,-1.4l1.5,-0.9l1.5,-0.3l1.5,1.5l1.5,3.1l1.5,3.1l1.5,2.1l1.5,0.7l1.5,-0.3l1.5,-0.8l1.5,-1l1.5,-0.9l1.5,-0.1l1.5,1" fill="none" stroke="#c4c4c4" stroke-width="0.50" opacity="0.50"/>
<path d="M28.4,87.9l1.5,-0.6l1.5,-1l1.5,-1.1l1.5,1.5l1.5,0.8l1.5,0.7l1.5,0.6l1.5,0.6l1.5,0.5l1.5,-0.6l1.5,-1.3l1.5,0.4l1.5,-0.1l1.5,-0.3l1.5,-0.1l1.5,0.3l1.5,0.3l1.5,0.3l1.5,0.2l1.5,0.2l1.5,0.3l1.5,0.7l1.5,0.8l1.5,0.6l1.5,0.2l1.5,-0.1l1.5,-0.2l1.5,-0.4l1.5,-0.4l1.5,-0.2l1.5,-0.1l1.5,0l1.5,0.1l1.5,0.1l1.5,-0.3l1.5,-0.6l1.5,-0.8l1.5,-0.9l1.5,-1l1.5,-0.7l1.5,-0.1l1.5,0.4l1.5,0.6l1.5,0.4l1.5,-0.1l1.5,-1l1.5,-5.1l1.5,-8.1l1.5,0.3l1.5,0.4l1.5,2.2l1.5,3.4l1.5,1.5l1.5,0.2l1.5,-1.2l1.5,1.5l1.5,0.9l1.5,0.4l1.5,0.2l1.5,0.2l1.5,-0.3l1.5,-1.2l1.5,-1.9l1.5,-1.8l1.5,0l1.5,1.8l1.5,2.5l1.5,2.5l1.5,1.5l1.5,0.8l1.5,0.8l1.5,1.2l1.5,1.1l1.5,0.9l1.5,0.3l1.5,-0.3l1.5,-1l1.5,-1.5l1.5,-1.4l1.5,-0.6l1.5,0l1.5,0l1.5,0l1.5,0.1l1.5,0.2l1.5,0.4" fill="none" stroke="#c4c4c4" stroke-width="0.50" opacity="0.50"/>
<path d="M28.4,92.1l1.5,0l1.5,-0.1l1.5,-0.1l1.5,0l1.5,-0.1l1.5,0.2l1.5,0.5l1.5,0.5l1.5,0.4l1.5,0.1l1.5,-0.2l1.5,-0.6l1.5,-1l1.5,-0.9l1.5,-0.4l1.5,0.2l1.5,0.4l1.5,0.4l1.5,0.3l1.5,0.2l1.5,0.1l1.5,-0.3l1.5,-0.6l1.5,-0.6l1.5,0.6l1.5,0.4l1.5,0.3l1.5,0.1l1.5,0l1.5,-0.1l1.5,-0.1l1.5,-0.2l1.5,-0.4l1.5,-0.3l1.5,-0.3l1.5,-0.5l1.5,-0.3l1.5,-0.4l1.5,-0.3l1.5,-0.4l1.5,-0.6l1.5,-1.1l1.5,-1.9l1.5,-2.1l1.5,-1.5l1.5,0.7l1.5,1.5l1.5,1.7l1.5,1.4l1.5,0.5l1.5,0.1l1.5,0.4l1.5,0.4l1.5,0.2l1.5,0.1l1.5,-0.2l1.5,-0.6l1.5,-0.7l1.5,-0.7l1.5,-0.3l1.5,0.4l1.5,1.3l1.5,1.4l1.5,0.9l1.5,0.6l1.5,0.4l1.5,0.5l1.5,-0.1l1.5,-5.8l1.5,4.3l1.5,1.7l1.5,0.4l1.5,-0.1l1.5,-0.1l1.5,-0.1l1.5,0.2l1.5,0.2l1.5,0.3l1.5,0.2l1.5,0.1l1.5,0l1.5,0.1l1.5,0.1l1.5,-0.4l1.5,-0.5l1.5,0.4" fill="none" stroke="#c4c4c4" stroke-width="0.50" opacity="0.50"/>
<path d="M28.4,86.5l1.5,0l1.5,0.1l1.5,0.1l1.5,0.1l1.5,0l1.5,0.2l1.5,0.3l1.5,0.4l1.5,0.4l1.5,0.2l1.5,0.6l1.5,1.3l1.5,1l1.5,0.2l1.5,-0.4l1.5,0.3l1.5,-0.6l1.5,-1.8l1.5,-2.8l1.5,0.7l1.5,0.6l1.5,0.2l1.5,-0.1l1.5,-0.1l1.5,0.1l1.5,0.2l1.5,0.6l1.5,0.5l1.5,0.3l1.5,0l1.5,0.1l1.5,0.5l1.5,0.7l1.5,0.4l1.5,-0.1l1.5,-0.7l1.5,-1.3l1.5,-1.7l1.5,-1.8l1.5,-1.2l1.5,-1.5l1.5,-3.8l1.5,-5.9l1.5,-6.3l1.5,-3.6l1.5,-0.1l1.5,1.8l1.5,2.5l1.5,2.3l1.5,0l1.5,-0.7l1.5,0.8l1.5,1.1l1.5,3.1l1.5,1.5l1.5,0.4l1.5,0.3l1.5,0.2l1.5,0l1.5,-0.5l1.5,-1.3l1.5,-2.5l1.5,-2.5l1.5,-2.2l1.5,0.2l1.5,2.9l1.5,4.2l1.5,3.8l1.5,2.4l1.5,1.3l1.5,0.8l1.5,0.9l1.5,0.8l1.5,0.8l1.5,0.4l1.5,-0.4l1.5,-1.3l1.5,-1.9l1.5,-1.7l1.5,-0.7l1.5,0.4l1.5,1.6l1.5,1.6l1.5,1.1l1.5,1.2l1.5,1" fill="none" stroke="#c4c4c4" stroke-width="0.50" opacity="0.50"/>
<path d="M28.4,87.4l1.5,-1.3l1.5,1.2l1.5,0.8l1.5,0.4l1.5,0.3l1.5,0.1l1.5,0.1l1.5,0.1l1.5,0.1l1.5,0.1l1.5,0l1.5,0l1.5,-0.1l1.5,0l1.5,0.1l1.5,0l1.5,-0.2l1.5,-0.2l1.5,-0.2l1.5,0l1.5,0.2l1.5,0.3l1.5,0.2l1.5,0.2l1.5,0.1l1.5,0l1.5,-0.1l1.5,-0.3l1.5,-0.4l1.5,-0.2l1.5,0l1.5,0.3l1.5,0.4l1.5,0.3l1.5,-0.3l1.5,-0.4l1.5,-0.2l1.5,0l1.5,-0.2l1.5,-0.3l1.5,-0.6l1.5,-1.1l1.5,-1.4l1.5,-1.4l1.5,-0.9l1.5,-0.1l1.5,0.7l1.5,1l1.5,0.8l1.5,0.3l1.5,-0.2l1.5,-0.2l1.5,-0.4l1.5,-0.3l1.5,-0.2l1.5,-0.6l1.5,-1.4l1.5,-1.9l1.5,-1.8l1.5,-0.9l1.5,1l1.5,2.8l1.5,2.9l1.5,1.9l1.5,1l1.5,0.4l1.5,0.2l1.5,0l1.5,0l1.5,0.2l1.5,0.2l1.5,-0.2l1.5,-0.4l1.5,-0.1l1.5,-0.1l1.5,-1.6l1.5,-1.8l1.5,-2.7l1.5,0l1.5,0l1.5,1.6l1.5,1.7l1.5,1.4l1.5,-1.4l1.5,-1.8l1.5,3.1" fill="none" stroke="#c4c4c4" stroke-width="0.50" opacity="0.50"/>
<path d="M28.4,91.3l1.5,-0.2l1.5,-0.4l1.5,-0.6l1.5,-0.5l1.5,-0.2l1.5,-0.1l1.5,-0.4l1.5,-1.2l1.5,-4.1l1.5,-3.8l1.5,-3.9l1.5,2.6l1.5,1.6l1.5,1.1l1.5,1.1l1.5,1.7l1.5,2.3l1.5,2.1l1.5,1.4l1.5,0.7l1.5,0.3l1.5,0l1.5,0.1l1.5,0.2l1.5,0l1.5,0.1l1.5,0.1l1.5,0.2l1.5,-0.1l1.5,0l1.5,-0.4l1.5,-0.8l1.5,-1.2l1.5,-1.1l1.5,-1l1.5,-0.4l1.5,0l1.5,0.2l1.5,0.1l1.5,-0.3l1.5,-0.3l1.5,-0.3l1.5,-0.2l1.5,-0.2l1.5,-0.3l1.5,-0.5l1.5,-0.6l1.5,-0.5l1.5,-0.2l1.5,-0.2l1.5,-0.5l1.5,-1.1l1.5,-1.5l1.5,-1.3l1.5,-0.7l1.5,-0.2l1.5,-0.1l1.5,0l1.5,-0.1l1.5,-0.2l1.5,0.6l1.5,2l1.5,2.2l1.5,1.6l1.5,0.9l1.5,0.8l1.5,0.9l1.5,-1l1.5,-1.3l1.5,-1.4l1.5,1.7l1.5,0.7l1.5,0.2l1.5,0.1l1.5,-4.5l1.5,-11.3l1.5,9.4l1.5,5.2l1.5,2.7l1.5,1.4l1.5,0.4l1.5,0.3l1.5,-0.4l1.5,-0.3l1.5,0l1.5,0.3" fill="none" stroke="#c4c4c4" stroke-width="0.50" opacity="0.50"/>
<path d="M28.4,84.9l1.5,-0.6l1.5,-2l1.5,-2.9l1.5,-2.8l1.5,-1.2l1.5,-0.2l1.5,-0.5l1.5,-0.6l1.5,-0.3l1.5,0l1.5,1.7l1.5,3.4l1.5,3.5l1.5,2.3l1.5,0.9l1.5,0l1.5,-0.2l1.5,-0.3l1.5,-0.3l1.5,0l1.5,0.1l1.5,-0.4l1.5,-0.4l1.5,-0.3l1.5,-0.1l1.5,0.2l1.5,0.6l1.5,0.6l1.5,0.1l1.5,-0.1l1.5,0.2l1.5,0.8l1.5,0.9l1.5,0.6l1.5,-0.1l1.5,-0.7l1.5,-0.7l1.5,-0.7l1.5,-0.7l1.5,-0.6l1.5,-0.2l1.5,0.3l1.5,0.6l1.5,0.4l1.5,-0.1l1.5,-0.9l1.5,-1.7l1.5,-2.2l1.5,-1.8l1.5,-0.9l1.5,-0.2l1.5,-0.3l1.5,-0.4l1.5,-0.4l1.5,-0.2l1.5,0.4l1.5,1.5l1.5,1.7l1.5,1.2l1.5,0.4l1.5,-2.7l1.5,-3.3l1.5,-3.6l1.5,0.5l1.5,-3.4l1.5,-4.2l1.5,5.2l1.5,2.7l1.5,1.4l1.5,1.6l1.5,1.4l1.5,0.9l1.5,0.7l1.5,0.8l1.5,0.5l1.5,-0.3l1.5,-0.9l1.5,-1.1l1.5,-1l1.5,-0.8l1.5,-0.3l1.5,0.6l1.5,2.2l1.5,1.7l1.5,1l1.5,0.7" fill="none" stroke="#c4c4c4" stroke-width="0.50" opacity="0.50"/>
<path d="M28.4,88.2l1.5,-0.5l1.5,-2.5l1.5,-8.3l1.5,-8.1l1.5,-7.1l1.5,6l1.5,5.2l1.5,4.4l1.5,3.2l1.5,2.1l1.5,1.3l1.5,1.2l1.5,1l1.5,0.8l1.5,0.5l1.5,0.1l1.5,-0.5l1.5,-0.4l1.5,-0.7l1.5,-0.2l1.5,0.5l1.5,0.8l1.5,1l1.5,0.7l1.5,0.2l1.5,0.1l1.5,-0.1l1.5,-0.1l1.5,-0.3l1.5,-1.1l1.5,-2.6l1.5,-2.9l1.5,-3l1.5,1.3l1.5,0.7l1.5,0.5l1.5,0.9l1.5,1l1.5,0.6l1.5,0.1l1.5,-0.1l1.5,0.2l1.5,0.4l1.5,0.2l1.5,-0.2l1.5,-0.9l1.5,-1.9l1.5,-2.7l1.5,-2.3l1.5,-1.1l1.5,0.3l1.5,1l1.5,1.1l1.5,0.6l1.5,-0.4l1.5,0.8l1.5,1.4l1.5,1.6l1.5,1.1l1.5,0.3l1.5,-0.8l1.5,-1.8l1.5,-2.6l1.5,-2.5l1.5,-0.2l1.5,1.7l1.5,2.1l1.5,2.1l1.5,1.4l1.5,0.9l1.5,0.1l1.5,-0.8l1.5,-1.2l1.5,-0.8l1.5,-0.2l1.5,-0.5l1.5,-0.3l1.5,-0.1l1.5,-0.3l1.5,1.2l1.5,1l1.5,1.4l1.5,1.2l1.5,1.1l1.5,0.6l1.5,0.6" fill="none" stroke="#c4c4c4" stroke-width="0.50" opacity="0.50"/>
<path d="M28.4,87.8l1.5,0.3l1.5,0.5l1.5,0.7l1.5,0.5l1.5,0.2l1.5,0.1l1.5,0.3l1.5,0.3l1.5,0.3l1.5,0.1l1.5,0.2l1.5,0.2l1.5,0.3l1.5,0.2l1.5,0.1l1.5,0l1.5,-0.3l1.5,-0.3l1.5,-0.3l1.5,0.6l1.5,0.1l1.5,-0.3l1.5,-0.6l1.5,-5.8l1.5,-6.1l1.5,-5.5l1.5,5.9l1.5,4.4l1.5,3l1.5,2l1.5,1l1.5,0.3l1.5,-0.2l1.5,-0.4l1.5,-0.4l1.5,-0.1l1.5,0.1l1.5,0.5l1.5,0l1.5,-0.3l1.5,-0.4l1.5,-2.2l1.5,-3.2l1.5,-3.1l1.5,1.3l1.5,1.2l1.5,1.4l1.5,1.3l1.5,1.1l1.5,0.5l1.5,0l1.5,-0.1l1.5,-0.2l1.5,-0.2l1.5,0l1.5,-0.6l1.5,-1.5l1.5,-2.1l1.5,-2l1.5,-0.9l1.5,0.4l1.5,1.3l1.5,1.6l1.5,1.1l1.5,0.8l1.5,0.3l1.5,-0.5l1.5,-1.5l1.5,-1.6l1.5,-0.6l1.5,2.2l1.5,3.1l1.5,2.5l1.5,0l1.5,-1.1l1.5,1.5l1.5,1l1.5,0.6l1.5,0.3l1.5,0.3l1.5,-0.3l1.5,-1.1l1.5,-1.8l1.5,-1.8l1.5,-0.6l1.5,0.8" fill="none" stroke="#c4c4c4" stroke-width="0.50" opacity="0.50"/>
<path d="M29.2,80 L30.4,32.8 L32.4,80 M59.2,80 L60.4,40.3 L62.4,80 M133.9,80 L135.4,4.7 L137.9,80 M130.1,80 L131.3,22 L133.3,80 M101.7,80 L102.9,28 L104.9,80 M109.2,80 L110.4,30 L112.4,80 M123.7,80 L125.7,34.6 L128.7,80 M155.4,80 L156.6,39.3 L158.6,80 M50.8,80 L52,45 L54,80 M42.8,80 L44,50 L46,80 M68.8,80 L70,48 L72,80 M78.8,80 L80,52 L82,80 M116.8,80 L118,38 L120,80 M138.8,80 L140,45 L142,80" fill="none" stroke="#d2d2d2" stroke-width="0.60" opacity="1.00" stroke-linejoin="round"/>
<polyline points="28.4,89.2 28.4,88.5 29.6,88.3 30.8,88.6 32,88.6 33.2,88.8 34.4,88.1 35.6,88.4 36.8,88.3 38,88.3 39.2,88.3 40,88.6 40.4,88.5 41.6,88.6 42.8,88.5 44,89 45.2,88.7 46.4,88 47.6,89.4 48.8,89 50,89.2 50,89 51.2,89.4 52.4,89.4 53.6,89.5 54.8,89.3 56,89.7 57.2,89.2 58.4,90.2 59.6,89.5 60,89.9 60.8,89.9 62,90 63.2,90.1 64.4,90 65.6,90.2 66.8,89 68,90.1 69.2,90.1 70,90.2 70.4,90 71.6,90.5 72.8,89.6 74,89.7 75.2,89 76.4,89.6 77.6,88.9 78.8,88.8 80,89.2 80,89.9 81.2,88.9 82.4,88.2 83.6,87.8 84.8,86.8 86,86.4 87.2,86.4 88,86 88.4,85.2 89.6,85.5 90.8,84.5 92,84.7 93.2,84 94.4,84.5 95.6,83.9 96.8,83 98,82.2 99.2,82.2 100,82.2 100.4,82.1 101.6,81.7 102.8,82 104,82.1 105.2,81.7 106.4,81.5 107.6,81.8 108.8,81.4 110,81.4 110,81.6 111.2,81.1 112.4,81.6 113.6,80.9 114.8,80.5 116,80.7 117.2,80.4 118.4,80.2 119.6,80.3 120,80.3 120.8,80.5 122,79.7 123.2,80.4 124.4,80.5 125,80.6 125.6,80.9 126.8,81.9 128,82 129.2,83.4 130,83.7 130.4,83.7 131.6,84.3 132.8,84.7 134,85.1 135.2,85.5 136.4,86.2 137.6,87.2 138.8,87.3 140,87.5 140,87.7 141.2,87.7 142.4,87.4 143.6,87.8 144.8,88.3 146,87.3 147.2,88 148.4,88.1 149.6,87.9 150,87.9 150.8,88.2 152,88.6 153.2,89 154.4,88.9 155.6,89.2 156.8,88.9 157.7,89" fill="none" stroke="#1a1a1a" stroke-width="0.80" stroke-linejoin="round" stroke-linecap="round" opacity="1.00"/>
<polyline points="28.4,87.8 28.4,87.8 29.6,88.4 30.8,87.4 32,88.3 33.2,87.7 34.4,87.7 35.6,88.7 36.8,87.9 38,87.9 39.2,88.2 40,87.9 40.4,88.4 41.6,88 42.8,88.4 44,87.7 45.2,88.1 46.4,88.2 47.6,87.8 48.8,87.8 50,88.6 50,87.9 51.2,88.6 52.4,88.7 53.6,88.7 54.8,89 56,88.4 57.2,89.1 58.4,89.3 59.6,89.6 60,89.3 60.8,89 62,89.2 63.2,88.5 64.4,89.2 65.6,88.5 66.8,88.9 68,90.1 69.2,88.7 70,89.7 70.4,90 71.6,89.7 72.8,89.3 74,89.5 75.2,89.4 76.4,89.5 77.6,88.8 78.8,88.5 80,88.6 80,88.3 81.2,87.8 82.4,87.8 83.6,87.1 84.8,87.5 85,87 86,85.6 87.2,85.2 88,85.2 88.4,84.7 89.6,84.2 90.8,85.9 92,83.8 93.2,84.7 94.4,84.5 95.6,85.4 96.8,83.7 98,85 99.2,84.1 100,84.4 100.4,84 101.6,82.6 102.8,82 104,80.6 104,80.1 105.2,80.4 106.4,80.5 107.6,81 108.8,79 110,79.9 110,80.6 111.2,80.7 112.4,80.4 113.6,81.1 114.8,81.1 115,81.4 116,81.5 117.2,80.2 118.4,79.3 119.6,78.5 120,78.4 120.8,78 122,77.6 122,77.5 123.2,78.1 124.4,80.4 125,79.9 125.6,79.3 126.8,79.1 128,81.2 129.2,81.8 130,82.2 130.4,82.5 131.6,82.8 132.8,83.4 134,84.1 135,84.4 135.2,84.9 136.4,84.8 137.6,85.3 138.8,86.8 140,86.4 140,86.6 141.2,86 142.4,87.6 143.6,87 144.8,86.4 145,86.7 146,86.1 147.2,86.7 148.4,86.2 149.6,86 150.8,85.9 152,86.2 152,86.4 153.2,86.4 154.4,85.2 155,85.2 155.6,85.2 156.8,87.4 157.7,88" fill="none" stroke="#b03030" stroke-width="0.95" stroke-linejoin="round" stroke-linecap="round" opacity="0.90"/>
<polyline points="28.4,81.3 28.4,81.3 29.4,81.1 30.4,80.5 30.5,80.6 31.4,75.3 32.4,69.5 33.1,64.9 33.4,66.9 34.4,73.6 34.8,75.6 35.4,76.8 36.2,79.2 36.4,79.3 37.4,79.5 38.4,80 39.1,80.6 39.4,80.6 40.4,81.1 41.4,81.5 42.4,81.9 43.3,82 43.4,82.8 44.4,82.4 45.4,81.7 46.4,82.5 47.4,82.3 48.4,82.4 49,82.7 49.4,81.4 50.4,76.4 51.4,71.3 51.4,72 52.4,76.6 53.3,80.6 53.4,80.6 54.4,80.9 55.4,81.6 56.4,82.4 57.4,83.3 57.6,83.4 58.4,83.8 59.4,84.7 59.7,84.9 60.4,78.8 61.4,68.2 61.4,68.5 62.4,78.6 62.5,79.9 63.4,80.7 64.4,82.1 64.7,82 65.4,81.4 66.4,81.7 67.4,80.2 67.5,80.6 68.4,81.1 69.4,82.4 69.7,82.7 70.4,83.1 71.4,84.3 71.8,84.9 72.4,83.1 73.4,79.8 74.4,76.3 74.6,75.6 75.4,78.6 76.4,83 76.8,84.1 77.4,84.5 78.4,84.6 78.9,84.9 79.4,83.4 80.4,78.9 81,77 81.4,78.6 82.4,82.7 83.2,85.6 83.4,85.7 84.4,86 84.6,86.3 85.4,80.3 86,75.6 86.4,71.4 87.4,61.2 87.4,61.4 88.4,62.3 89.4,64.4 89.6,64.2 90.4,62.9 91.4,62.2 91.7,61.4 92.4,60 93,58.5 93.4,59.8 94.4,63.7 94.4,63.5 95.4,68 96.4,72.4 96.5,72.8 97.4,73.2 98.4,74.6 98.7,74.9 99.4,75.5 100.4,75.8 101.4,76.3 102.2,76.3 102.4,74.9 103.4,65.2 104.4,56.4 104.4,55.7 105.4,63.3 105.8,67.1 106.4,66.2 107.4,64 107.9,64.2 108.4,65.8 109.4,68.3 110,69.9 110.4,67.1 111.4,58 112.2,51.4 112.4,50.3 112.9,49.9 113.4,50.6 114.3,50.6 114.4,50 115.4,48.7 116.4,47.7 116.4,47.8 117.4,50.3 118.4,52.2 118.6,52.8 119.4,55 120.4,56.9 121.4,60.8 122.1,62.1 122.4,61.3 123.4,59 124.4,56.7 125,55 125.4,56.1 126.4,58.9 127.1,60.7 127.4,61 128.4,63.5 129.4,65.8 130.4,68.2 130.7,68.5 131.4,68.3 132.4,68.1 133.4,67.9 133.5,67.8 134.4,68.9 135.4,69.7 136.4,70.5 137.1,71.3 137.4,71.4 138.4,72.8 139.4,73.4 140.4,74.1 141.3,74.9 141.4,76 142.4,73.8 143.4,72.6 144.2,71.3 144.4,71.1 145.4,69.4 146.4,68.9 147,67.8 147.4,68.8 148.4,71.4 149.2,73.5 149.4,74 150.4,74.7 151.4,75.1 152.4,75.6 153.4,77 153.4,76.3 154.4,74.9 155.4,72.8 155.6,72.8 156.4,73.6 157.4,74.1 157.7,74.2" fill="none" stroke="#0000ff" stroke-width="1.30" stroke-linejoin="round" stroke-linecap="round" opacity="1.00"/>
</g>
<clipPath id="cp2"><rect x="188.8" y="2.5" width="141.8" height="97.9"/></clipPath>
<g clip-path="url(#cp2)">
<polygon points="194.7,59.3 195.3,59.2 195.9,58.8 196.5,56.7 197.1,54.3 197.7,56.5 198.3,59.4 198.9,62.1 199.5,63.5 200.1,64 200.7,64.4 201.3,64.7 201.9,65 202.5,66.1 203.1,68.5 203.7,70.9 204.3,72 204.9,71.1 205.5,68.6 206.1,66 206.7,65.1 207.3,65.3 207.9,65.4 208.5,65.4 209.1,65.6 209.7,65.4 210.3,64.6 210.9,63.8 211.5,63.6 212.1,64.6 212.7,66.6 213.3,68.6 213.9,68.6 214.5,67 215.1,67.6 215.7,67.4 216.3,65.8 216.9,66.8 217.5,67.2 218.1,67.2 218.7,67.5 219.3,66 219.9,63.9 220.5,68.5 221.1,70.9 221.7,71.3 222.3,65.2 222.9,55.3 223.5,59.8 224.1,62.9 224.7,64.3 225.3,64.9 225.9,65.5 226.5,67.1 227.1,69.9 227.7,72.6 228.3,73.9 228.9,73.3 229.5,71.8 230.1,71.9 230.7,72 231.3,73 231.9,74.4 232.5,75.5 233.1,75.1 233.7,75.7 234.3,76.2 234.9,75.4 235.5,75 236.1,71.8 236.7,74.2 237.3,75.9 237.9,77 238.5,77 239.1,76 239.7,74.7 240.3,74.2 240.9,72.8 241.5,70.3 242.1,72.5 242.7,73.4 243.3,73.3 243.9,72.6 244.5,71.7 245.1,71.2 245.7,70.5 246.3,69.3 246.9,68 247.5,67.3 248.1,67.7 248.7,68.6 249.3,69.3 249.9,63.1 250.5,50.8 251.1,56.9 251.7,60.4 252.3,61.9 252.9,61.7 253.5,60.6 254.1,59 254.7,57.5 255.3,55 255.9,50.7 256.5,49.7 257.1,48.6 257.7,48 258.3,47.8 258.9,46.2 259.5,46.6 260.1,45.5 260.7,44.1 261.3,42.6 261.9,40.9 262.5,41 263.1,42.4 263.7,44.1 264.3,44.6 264.9,43.4 265.5,41.1 266.1,38.8 266.7,31.2 267.3,20.4 267.9,23.7 268.5,25.3 269.1,26.8 269.7,28.2 270.3,29.3 270.9,30 271.5,30.3 272.1,29.9 272.7,29.3 273.3,28.7 273.9,27.3 274.5,26.1 275.1,31 275.7,34.3 276.3,35 276.9,33.4 277.5,34.5 278.1,33.5 278.7,27.4 279.3,14.8 279.9,21.5 280.5,26 281.1,23.3 281.7,26.8 282.3,27.9 282.9,28.2 283.5,29 284.1,31.5 284.7,35.6 285.3,39.5 285.9,41.5 286.5,42.1 287.1,42.5 287.7,41 288.3,38.3 288.9,41.3 289.5,41.6 290.1,41.1 290.7,40 291.3,39.2 291.9,42.2 292.5,44.8 293.1,46.3 293.7,47 294.3,47.5 294.9,48 295.5,48.4 296.1,48.6 296.7,48.5 297.3,48.5 297.9,48.6 298.5,48.8 299.1,48.7 299.7,48.6 300.3,48.8 300.9,49.4 301.5,50.4 302.1,50.5 302.7,49.9 303.3,51 303.9,51.9 304.5,52.7 305.1,53.3 305.7,53 306.3,51.5 306.9,50 307.5,49.6 308.1,51.5 308.7,55.4 309.3,59.4 309.9,56.1 310.5,47.7 311.1,50.3 311.7,51.3 312.3,52.7 312.9,54 313.5,56.1 314.1,57.4 314.7,58.3 315.3,60.1 315.9,63.7 316.5,67.2 317.1,68.8 317.7,67.9 318.3,65.5 318.9,63.1 319.5,62.2 320.1,61.7 320.7,60.4 321.3,59 321.9,58.5 322.5,59.4 323.1,61.3 323.4,94.6 194.7,94.6" fill="#cdcdcd" opacity="0.55"/>
<polygon points="194.7,74.2 195.3,73.5 195.9,71.5 196.5,69.5 197.1,68.8 197.7,69.8 198.3,71.9 198.9,74 199.5,75 200.1,73.1 200.7,69.6 201.3,70.1 201.9,70.7 202.5,72.2 203.1,74.8 203.7,77.2 204.3,78.3 204.9,68.3 205.5,53 206.1,62.3 206.7,68.1 207.3,70.9 207.9,71.1 208.5,70.4 209.1,67.6 209.7,69.4 210.3,70.1 210.9,70.3 211.5,70.5 212.1,70.2 212.7,69.4 213.3,70.9 213.9,68.6 214.5,71 215.1,73 215.7,74.2 216.3,72.9 216.9,74.4 217.5,75.9 218.1,77.2 218.7,77.9 219.3,77.6 219.9,76.5 220.5,75.3 221.1,74.9 221.7,75.4 222.3,76.3 222.9,77.2 223.5,77.7 224.1,77.7 224.7,77.5 225.3,77.3 225.9,77.2 226.5,76.7 227.1,75.7 227.7,74.6 228.3,74.1 228.9,74.4 229.5,75 230.1,75.5 230.7,75.8 231.3,76.8 231.9,79.1 232.5,81.5 233.1,82.5 233.7,82.2 234.3,81.2 234.9,80.3 235.5,79.9 236.1,80.4 236.7,81.5 237.3,83.1 237.9,83.8 238.5,83.3 239.1,82 239.7,80.8 240.3,80.1 240.9,79.8 241.5,79.4 242.1,77.5 242.7,75 243.3,75.4 243.9,75 244.5,74.4 245.1,74.1 245.7,74.4 246.3,74.9 246.9,75.4 247.5,73.2 248.1,69.6 248.7,72.3 249.3,74.4 249.9,75.5 250.5,75.3 251.1,72.8 251.7,72.1 252.3,71.3 252.9,70.6 253.5,70 254.1,69.4 254.7,67.2 255.3,63.5 255.9,63.6 256.5,62.9 257.1,62 257.7,61 258.3,59.7 258.9,58.4 259.5,57 260.1,55.7 260.7,54.4 261.3,53 261.9,51.6 262.5,50.8 263.1,49.6 263.7,48.4 264.3,47.8 264.9,47.6 265.5,47.4 266.1,47.2 266.7,47 267.3,47.1 267.9,47.6 268.5,47.8 269.1,47.3 269.7,46.8 270.3,45.3 270.9,43.8 271.5,43 272.1,43.1 272.7,44 273.3,42.1 273.9,38.5 274.5,41.7 275.1,44.9 275.7,47.8 276.3,49.3 276.9,49.9 277.5,50.1 278.1,50.2 278.7,47.6 279.3,43.2 279.9,46.1 280.5,48.3 281.1,49.8 281.7,50.8 282.3,49.9 282.9,45.6 283.5,48 284.1,50.1 284.7,52.1 285.3,53.9 285.9,50.9 286.5,43.6 287.1,49.9 287.7,53.8 288.3,53.9 288.9,46.7 289.5,52.6 290.1,54.1 290.7,48.7 291.3,53.1 291.9,55.3 292.5,56.5 293.1,57.4 293.7,59 294.3,61.5 294.9,64.2 295.5,65.6 296.1,64.8 296.7,62.4 297.3,59.9 297.9,59.1 298.5,59.4 299.1,59.7 299.7,60 300.3,60.3 300.9,58.4 301.5,55.6 302.1,58.6 302.7,60.5 303.3,63 303.9,63.8 304.5,60.2 305.1,65.6 305.7,67.5 306.3,66.9 306.9,66.2 307.5,66.4 308.1,67.2 308.7,66.9 309.3,64.3 309.9,66.3 310.5,67.6 311.1,68.3 311.7,68.8 312.3,68.9 312.9,67.9 313.5,67.5 314.1,66.9 314.7,67 315.3,67 315.9,66.6 316.5,69.5 317.1,70.7 317.7,70.8 318.3,70.6 318.9,70.3 319.5,70.2 320.1,70.6 320.7,69.3 321.3,67 321.9,69.7 322.5,70.1 323.1,68.5 323.4,94.6 194.7,94.6" fill="#cdcdcd" opacity="0.70"/>
<polygon points="194.7,79.8 195.5,79.9 196.3,80 197.1,80.1 197.9,80.1 198.7,80.4 199.5,80.9 200.3,81.4 201.1,80.6 201.9,79 202.7,80.1 203.5,80.8 204.3,81.3 205.1,81.3 205.9,80.6 206.7,79.2 207.5,79.4 208.3,79.8 209.1,80.4 209.9,81 210.7,81.3 211.5,81 212.3,80.2 213.1,79.1 213.9,78.4 214.7,79.1 215.5,80.2 216.3,81.2 217.1,81.7 217.9,81.6 218.7,81.1 219.5,80.6 220.3,80.5 221.1,81 221.9,82.2 222.7,83.3 223.5,83.9 224.3,83.4 225.1,82 225.9,80.7 226.7,80.2 227.5,80.3 228.3,80.8 229.1,82.1 229.9,82.8 230.7,82.9 231.5,83 232.3,83.1 233.1,83.1 233.9,83 234.7,82.9 235.5,82.8 236.3,82.8 237.1,82.9 237.9,83.1 238.7,83.4 239.5,83.5 240.3,83.2 241.1,82.6 241.9,82 242.7,80.2 243.5,77.8 244.3,79.4 245.1,80.4 245.9,81 246.7,81.5 247.5,82.1 248.3,82.6 249.1,82.4 249.9,81.9 250.7,81.3 251.5,80.7 252.3,80.1 253.1,80 253.9,80.4 254.7,80.7 255.5,80.3 256.3,78.9 257.1,77 257.9,76 258.7,74.9 259.5,74.1 260.3,71.3 261.1,67.3 261.9,68 262.7,68.5 263.5,68.5 264.3,68.2 265.1,68 265.9,67.7 266.7,67.2 267.5,66.5 268.3,66.1 269.1,65.6 269.9,64.9 270.7,64.8 271.5,64.9 272.3,65.4 273.1,66.4 273.9,67.5 274.7,68 275.5,68.1 276.3,68.2 277.1,68.3 277.9,68.5 278.7,68.2 279.5,67.4 280.3,66.5 281.1,65.5 281.9,65 282.7,67.6 283.5,69.3 284.3,70.3 285.1,70.4 285.9,70.2 286.7,68.9 287.5,67.2 288.3,68.5 289.1,69.9 289.9,71 290.7,71.7 291.5,72.1 292.3,72.4 293.1,72.6 293.9,72.8 294.7,72.9 295.5,72.8 296.3,72.6 297.1,72.8 297.9,73.1 298.7,73.3 299.5,73.5 300.3,73.8 301.1,74.4 301.9,75.3 302.7,76.2 303.5,76.8 304.3,77.1 305.1,77.4 305.9,77.6 306.7,77.9 307.5,78.1 308.3,78 309.1,77.9 309.9,78 310.7,74.6 311.5,69.4 312.3,73.6 313.1,76 313.9,77.4 314.7,78.2 315.5,77.7 316.3,75.5 317.1,77.6 317.9,78.9 318.7,79.7 319.5,80.1 320.3,80.4 321.1,80.7 321.9,81 322.7,81.2 323.4,94.6 194.7,94.6" fill="#bdbdbd" opacity="0.85"/>
<path d="M194.7,84.3l1.5,0.1l1.5,0.1l1.5,0l1.5,0.1l1.5,0.1l1.5,0.4l1.5,0.8l1.5,0.9l1.5,0.7l1.5,0.3l1.5,-0.1l1.5,-1l1.5,-1.3l1.5,-1.1l1.5,-0.9l1.5,0.5l1.5,-0.5l1.5,-1l1.5,-0.9l1.5,-0.1l1.5,1.3l1.5,2.3l1.5,2.4l1.5,1.6l1.5,0.6l1.5,-0.2l1.5,-0.7l1.5,-1l1.5,-1l1.5,-0.6l1.5,-0.4l1.5,-0.6l1.5,-0.8l1.5,-0.7l1.5,-0.5l1.5,-1.8l1.5,-4.4l1.5,-4.3l1.5,-4.4l1.5,-0.5l1.5,0.7l1.5,-0.3l1.5,-0.9l1.5,-1.8l1.5,-2.1l1.5,-2.4l1.5,-3.2l1.5,-2.4l1.5,0.4l1.5,0.9l1.5,2.1l1.5,0.8l1.5,0.4l1.5,-0.4l1.5,-1.8l1.5,4.4l1.5,3.7l1.5,2.6l1.5,1.5l1.5,1.2l1.5,0.4l1.5,-1l1.5,-1.7l1.5,-1.4l1.5,0.6l1.5,1.8l1.5,2.4l1.5,2.5l1.5,2.1l1.5,1.6l1.5,1.7l1.5,1.7l1.5,1.6l1.5,1.1l1.5,0.7l1.5,0.5l1.5,-0.2l1.5,-0.7l1.5,-0.5l1.5,-0.4l1.5,-0.5l1.5,-0.8l1.5,-1l1.5,-1l1.5,-0.5" fill="none" stroke="#c4c4c4" stroke-width="0.50" opacity="0.50"/>
<path d="M194.7,87.7l1.5,-0.3l1.5,-1.1l1.5,-1.6l1.5,-1.5l1.5,-0.5l1.5,0.1l1.5,-0.1l1.5,-0.1l1.5,0l1.5,0l1.5,1.2l1.5,2.3l1.5,2.4l1.5,1.6l1.5,0.6l1.5,-0.3l1.5,-1.1l1.5,-1.6l1.5,-1.5l1.5,-0.5l1.5,-0.1l1.5,-0.5l1.5,-0.7l1.5,-2.5l1.5,-4.8l1.5,-5l1.5,3.4l1.5,2.2l1.5,4.2l1.5,2.2l1.5,1.2l1.5,0.9l1.5,0.7l1.5,0.5l1.5,0.1l1.5,0.2l1.5,-0.5l1.5,-0.3l1.5,-0.4l1.5,-0.7l1.5,-1.6l1.5,-3.1l1.5,-4.2l1.5,-4.9l1.5,-3.9l1.5,-1.8l1.5,-0.3l1.5,1.3l1.5,2.6l1.5,1.4l1.5,0.7l1.5,0.6l1.5,0.2l1.5,0.3l1.5,0.4l1.5,-0.7l1.5,-1.5l1.5,-3.9l1.5,-5.1l1.5,-2.7l1.5,0.8l1.5,3.3l1.5,6.2l1.5,4.4l1.5,2.7l1.5,1.8l1.5,2.3l1.5,2.2l1.5,1.7l1.5,1.2l1.5,0.8l1.5,0.5l1.5,0.4l1.5,0.1l1.5,0.4l1.5,0.4l1.5,-0.2l1.5,-0.5l1.5,-0.5l1.5,-0.3l1.5,-0.6l1.5,-1.8l1.5,-2.5l1.5,-2.5l1.5,-1.2" fill="none" stroke="#c4c4c4" stroke-width="0.50" opacity="0.50"/>
<path d="M194.7,61.9l1.5,-11.5l1.5,1.5l1.5,0.8l1.5,-0.8l1.5,-4.1l1.5,2.9l1.5,-0.7l1.5,-3.3l1.5,-3.9l1.5,3.3l1.5,5.7l1.5,6.9l1.5,6.7l1.5,4.7l1.5,2.7l1.5,1.9l1.5,2.2l1.5,2.2l1.5,-1.2l1.5,-13.9l1.5,-15.1l1.5,-16.8l1.5,-17.7l1.5,-17.2l1.5,12.8l1.5,11l1.5,8.2l1.5,6.9l1.5,5.2l1.5,4.2l1.5,4.2l1.5,4.5l1.5,4.4l1.5,3.4l1.5,1.9l1.5,0.7l1.5,-2.1l1.5,-2.6l1.5,-2.9l1.5,-2.5l1.5,-2.2l1.5,-1.7l1.5,-1.5l1.5,-2.4l1.5,-2.6l1.5,-3.7l1.5,-6.5l1.5,-4.2l1.5,-1.1l1.5,-2.7l1.5,-7.8l1.5,-7.3l1.5,-14.3l1.5,-13.9l1.5,-3.1l1.5,12.9l1.5,17.5l1.5,15.7l1.5,9.7l1.5,4.4l1.5,3.7l1.5,6.5l1.5,6.7l1.5,4.9l1.5,3.1l1.5,0.9l1.5,-0.4l1.5,-0.9l1.5,-0.2l1.5,1.3l1.5,1.1l1.5,-2.5l1.5,-2.8l1.5,-3.4l1.5,5.3l1.5,4.1l1.5,2.5l1.5,1.4l1.5,0.9l1.5,0.5l1.5,-0.1l1.5,-0.9l1.5,-1.3l1.5,-1.2l1.5,-0.8" fill="none" stroke="#c4c4c4" stroke-width="0.50" opacity="0.50"/>
<path d="M194.7,85.2l1.5,-1.2l1.5,-1.6l1.5,-1.9l1.5,0l1.5,0.3l1.5,1.3l1.5,2.1l1.5,2.1l1.5,1.5l1.5,0.7l1.5,-0.3l1.5,-1.4l1.5,-2.1l1.5,-2.1l1.5,-0.7l1.5,0.4l1.5,0.6l1.5,0.3l1.5,-0.6l1.5,-0.8l1.5,-0.3l1.5,0.5l1.5,0.6l1.5,2.2l1.5,1.4l1.5,0.4l1.5,-0.4l1.5,-0.9l1.5,-0.8l1.5,-0.5l1.5,0.4l1.5,1.1l1.5,1.2l1.5,0.8l1.5,0.3l1.5,-0.7l1.5,-2.6l1.5,-3.6l1.5,-4l1.5,-2.8l1.5,-1.1l1.5,0.1l1.5,0.7l1.5,-0.1l1.5,-1.3l1.5,-2.6l1.5,-3.6l1.5,-5.1l1.5,-2.9l1.5,2.7l1.5,2.3l1.5,2.2l1.5,2.1l1.5,1.8l1.5,1.5l1.5,0.4l1.5,-1.2l1.5,-2.2l1.5,-2.8l1.5,-1l1.5,2.3l1.5,5.1l1.5,5.1l1.5,3.4l1.5,1.8l1.5,0.5l1.5,0.4l1.5,0.4l1.5,0.5l1.5,0.7l1.5,0.4l1.5,-0.2l1.5,-0.6l1.5,-0.6l1.5,0.2l1.5,0.9l1.5,0.7l1.5,0.5l1.5,0.4l1.5,0l1.5,-0.4l1.5,-0.5l1.5,-0.6l1.5,-0.6l1.5,-0.4" fill="none" stroke="#c4c4c4" stroke-width="0.50" opacity="0.50"/>
<path d="M194.7,80.8l1.5,-0.1l1.5,-0.5l1.5,-0.7l1.5,-0.6l1.5,-0.1l1.5,-0.4l1.5,-1.6l1.5,-2.2l1.5,-1.9l1.5,-0.6l1.5,-0.3l1.5,-1.3l1.5,-1.8l1.5,-1.4l1.5,-0.2l1.5,3.2l1.5,6.5l1.5,5.8l1.5,3.6l1.5,1.2l1.5,-0.2l1.5,-0.7l1.5,-1l1.5,-0.8l1.5,-0.2l1.5,-0.4l1.5,-1l1.5,-1.3l1.5,-1.3l1.5,-0.8l1.5,-0.8l1.5,-1l1.5,-1.1l1.5,-1.1l1.5,-0.9l1.5,0l1.5,-0.8l1.5,-0.2l1.5,-0.4l1.5,-1.2l1.5,-2.9l1.5,-4.5l1.5,-5.6l1.5,-6.4l1.5,-5.7l1.5,-7.8l1.5,-15.2l1.5,-19.2l1.5,-12.9l1.5,-3.5l1.5,8.5l1.5,16.4l1.5,16.6l1.5,11.6l1.5,5.3l1.5,3.9l1.5,5.9l1.5,5.5l1.5,3.1l1.5,1.3l1.5,0l1.5,-0.2l1.5,-0.4l1.5,-0.1l1.5,1.1l1.5,1.4l1.5,1.9l1.5,1.9l1.5,1.9l1.5,1.5l1.5,1.3l1.5,1.2l1.5,1l1.5,0.7l1.5,0.7l1.5,0.4l1.5,-1l1.5,-1.9l1.5,-1.8l1.5,-0.9l1.5,0.2l1.5,1.1l1.5,1.4l1.5,1l1.5,0.2" fill="none" stroke="#c4c4c4" stroke-width="0.50" opacity="0.50"/>
<path d="M194.7,85.2l1.5,0.1l1.5,-0.1l1.5,-0.1l1.5,-11.9l1.5,-19.9l1.5,-19.3l1.5,17.9l1.5,12.7l1.5,8.7l1.5,5.7l1.5,3.6l1.5,2.4l1.5,1.7l1.5,1.2l1.5,0.8l1.5,0.3l1.5,0.1l1.5,-1.4l1.5,-1.2l1.5,-0.4l1.5,0.2l1.5,0.2l1.5,0.2l1.5,0.2l1.5,0.2l1.5,0.2l1.5,-4.4l1.5,-7l1.5,-7.1l1.5,-7.5l1.5,6.7l1.5,5.8l1.5,4.8l1.5,3.5l1.5,2.3l1.5,0.8l1.5,-1.9l1.5,-4.6l1.5,-6l1.5,-4l1.5,-0.9l1.5,0.5l1.5,1.1l1.5,0.1l1.5,-1.1l1.5,-1.5l1.5,0.4l1.5,2l1.5,3.1l1.5,1.5l1.5,0l1.5,-0.7l1.5,-1l1.5,-0.5l1.5,0.5l1.5,1.9l1.5,3l1.5,2.8l1.5,1.6l1.5,0.6l1.5,0.3l1.5,0.7l1.5,0.8l1.5,0.6l1.5,0.7l1.5,0.3l1.5,-0.1l1.5,-0.8l1.5,-0.5l1.5,-0.2l1.5,0.1l1.5,-0.6l1.5,0.1l1.5,-0.4l1.5,-0.6l1.5,-0.9l1.5,0.9l1.5,0.2l1.5,0l1.5,0.2l1.5,0.8l1.5,1l1.5,1l1.5,0.8l1.5,0.3" fill="none" stroke="#c4c4c4" stroke-width="0.50" opacity="0.50"/>
<path d="M194.7,60.4l1.5,2.7l1.5,5.7l1.5,5.7l1.5,3.8l1.5,1.4l1.5,0l1.5,0l1.5,-0.2l1.5,0l1.5,0.1l1.5,0l1.5,-5.8l1.5,-13.3l1.5,-13.2l1.5,10.9l1.5,7l1.5,3.8l1.5,1.8l1.5,1l1.5,1.2l1.5,1.3l1.5,1.2l1.5,0.9l1.5,1.3l1.5,0.4l1.5,0.6l1.5,1.4l1.5,1.7l1.5,1.2l1.5,0.2l1.5,-2l1.5,-5.6l1.5,-9.2l1.5,-10.5l1.5,-5.6l1.5,2l1.5,3.7l1.5,5.4l1.5,3.6l1.5,-0.3l1.5,-3.9l1.5,-6.3l1.5,-8l1.5,-9l1.5,-7.6l1.5,-3.1l1.5,1.7l1.5,5.6l1.5,7.5l1.5,3.5l1.5,1.1l1.5,0.9l1.5,1.1l1.5,1.3l1.5,1.9l1.5,2.1l1.5,2l1.5,1.5l1.5,0.2l1.5,0.2l1.5,0.9l1.5,1.6l1.5,1.9l1.5,1.6l1.5,1.8l1.5,2.2l1.5,3.6l1.5,3.7l1.5,2.9l1.5,1.7l1.5,-0.2l1.5,-2.6l1.5,-4.2l1.5,-4.3l1.5,-0.9l1.5,2.9l1.5,3.8l1.5,3.3l1.5,2.3l1.5,0.6l1.5,-0.9l1.5,-1.9l1.5,-2.5l1.5,-2.3l1.5,-1.2" fill="none" stroke="#c4c4c4" stroke-width="0.50" opacity="0.50"/>
<path d="M194.7,91.6l1.5,0l1.5,0.1l1.5,0l1.5,0.1l1.5,0l1.5,0l1.5,-0.3l1.5,-0.3l1.5,-0.3l1.5,-0.1l1.5,0l1.5,-0.2l1.5,-0.3l1.5,-0.3l1.5,-0.3l1.5,0.3l1.5,0.7l1.5,1.1l1.5,0.8l1.5,0.4l1.5,0.2l1.5,0.2l1.5,0.1l1.5,0.2l1.5,0.1l1.5,0.1l1.5,0.2l1.5,0.3l1.5,0.1l1.5,0.1l1.5,-0.3l1.5,-0.7l1.5,-1l1.5,-1.1l1.5,-0.6l1.5,-0.1l1.5,0l1.5,0.3l1.5,0.1l1.5,-0.3l1.5,-2.9l1.5,-8.7l1.5,-9.4l1.5,2.7l1.5,1.2l1.5,1.3l1.5,1.5l1.5,2l1.5,2.6l1.5,1.4l1.5,0.9l1.5,1.1l1.5,1.3l1.5,0.8l1.5,0.6l1.5,0.4l1.5,0.3l1.5,0l1.5,-0.2l1.5,0l1.5,0.2l1.5,0.3l1.5,0.4l1.5,0.3l1.5,0.4l1.5,-0.2l1.5,-1l1.5,-1.4l1.5,-1.1l1.5,0.1l1.5,1.1l1.5,0.3l1.5,-2l1.5,-2.5l1.5,-2.9l1.5,-2.8l1.5,3.7l1.5,3l1.5,2.3l1.5,1.6l1.5,1.1l1.5,0.7l1.5,0.5l1.5,0.4l1.5,0.3" fill="none" stroke="#c4c4c4" stroke-width="0.50" opacity="0.50"/>
<path d="M194.7,92.4l1.5,-0.6l1.5,-0.7l1.5,0.6l1.5,0.3l1.5,0.2l1.5,0.1l1.5,-0.3l1.5,-0.5l1.5,-0.5l1.5,-0.2l1.5,0l1.5,-0.2l1.5,-0.3l1.5,-0.3l1.5,0l1.5,0.2l1.5,0.3l1.5,0.3l1.5,0.3l1.5,0.2l1.5,0.1l1.5,0.2l1.5,0.2l1.5,0.2l1.5,0.1l1.5,0.1l1.5,0.3l1.5,-2.8l1.5,-3.3l1.5,-3.6l1.5,2.6l1.5,1.1l1.5,-0.1l1.5,-0.6l1.5,-0.1l1.5,0.4l1.5,-0.4l1.5,-0.4l1.5,-0.4l1.5,-0.7l1.5,-0.6l1.5,0.1l1.5,0.2l1.5,-0.2l1.5,-1l1.5,-1.2l1.5,-1.1l1.5,-0.6l1.5,0.6l1.5,0.5l1.5,0.2l1.5,-0.1l1.5,-0.2l1.5,0l1.5,0.5l1.5,0.4l1.5,-0.1l1.5,-0.5l1.5,-0.8l1.5,-0.9l1.5,-0.6l1.5,-0.4l1.5,-0.3l1.5,1l1.5,1.2l1.5,1.5l1.5,2.1l1.5,2.1l1.5,1.6l1.5,0.9l1.5,0.6l1.5,0.4l1.5,0.2l1.5,0.2l1.5,0.3l1.5,0.2l1.5,-0.3l1.5,-0.5l1.5,-0.5l1.5,-0.3l1.5,-0.2l1.5,-0.1l1.5,-0.1l1.5,-0.1l1.5,-0.2" fill="none" stroke="#c4c4c4" stroke-width="0.50" opacity="0.50"/>
<path d="M194.7,86.6l1.5,0l1.5,0.1l1.5,0l1.5,0.1l1.5,0l1.5,-0.1l1.5,0l1.5,0l1.5,0.1l1.5,0.2l1.5,0.4l1.5,0.6l1.5,0.6l1.5,0.5l1.5,0.2l1.5,-0.1l1.5,-0.8l1.5,-1.2l1.5,-1l1.5,-0.3l1.5,0.5l1.5,1l1.5,1.1l1.5,0.9l1.5,0.4l1.5,-0.4l1.5,-1l1.5,-1.3l1.5,-1.3l1.5,-0.8l1.5,-0.1l1.5,0.5l1.5,0.8l1.5,0.5l1.5,0l1.5,-0.8l1.5,-2.7l1.5,-3.5l1.5,-3.7l1.5,-2.7l1.5,-0.9l1.5,1.1l1.5,1.7l1.5,0.8l1.5,-1.1l1.5,-2.8l1.5,-4.7l1.5,-5l1.5,-2.4l1.5,-0.4l1.5,1.4l1.5,2.3l1.5,2.6l1.5,2.3l1.5,1.6l1.5,1.3l1.5,1.2l1.5,0.9l1.5,0.2l1.5,0.2l1.5,0.6l1.5,1.4l1.5,1.6l1.5,1.3l1.5,1.1l1.5,0.3l1.5,-0.4l1.5,-0.6l1.5,-1.2l1.5,-1.5l1.5,-0.9l1.5,3.1l1.5,2.4l1.5,1.6l1.5,1.2l1.5,0.6l1.5,-0.7l1.5,-1.2l1.5,-1.3l1.5,-0.8l1.5,1l1.5,2l1.5,2.2l1.5,1.5l1.5,0.5" fill="none" stroke="#c4c4c4" stroke-width="0.50" opacity="0.50"/>
<path d="M194.7,85.8l1.5,0l1.5,0l1.5,-0.1l1.5,-0.1l1.5,0.1l1.5,0.3l1.5,0.5l1.5,0.5l1.5,0.5l1.5,0.2l1.5,0.3l1.5,0.6l1.5,0.7l1.5,0.5l1.5,0.3l1.5,-0.1l1.5,-0.2l1.5,-0.4l1.5,-0.3l1.5,-0.1l1.5,0.4l1.5,0.7l1.5,0.7l1.5,0.5l1.5,0.3l1.5,-0.2l1.5,-0.4l1.5,-0.6l1.5,-0.6l1.5,-0.4l1.5,-0.2l1.5,-0.1l1.5,-0.1l1.5,-0.1l1.5,-0.2l1.5,0l1.5,-0.3l1.5,-0.1l1.5,-2.4l1.5,-4l1.5,-4.7l1.5,1.1l1.5,-0.3l1.5,-1.3l1.5,-1.3l1.5,-0.8l1.5,-0.5l1.5,0.4l1.5,1.5l1.5,0.9l1.5,0.8l1.5,1.2l1.5,1.1l1.5,1l1.5,0.9l1.5,0.3l1.5,-0.3l1.5,-0.7l1.5,-1l1.5,-0.4l1.5,0l1.5,-0.4l1.5,-0.6l1.5,-0.4l1.5,0.5l1.5,1l1.5,1.4l1.5,0.8l1.5,0.5l1.5,0.2l1.5,1.5l1.5,1.2l1.5,1l1.5,0.7l1.5,0.6l1.5,-0.5l1.5,-2.2l1.5,-2.4l1.5,-2.5l1.5,-2.8l1.5,2.2l1.5,1.5l1.5,0.9l1.5,0.7l1.5,0.7" fill="none" stroke="#c4c4c4" stroke-width="0.50" opacity="0.50"/>
<path d="M194.7,83.2l1.5,0l1.5,-0.3l1.5,-0.3l1.5,-0.3l1.5,0l1.5,0.1l1.5,0.2l1.5,0.2l1.5,0.1l1.5,0.2l1.5,0l1.5,-0.1l1.5,-0.2l1.5,-0.1l1.5,0l1.5,0.6l1.5,1l1.5,1l1.5,0.9l1.5,0.4l1.5,-0.3l1.5,-1.1l1.5,-1.6l1.5,-1.3l1.5,-0.4l1.5,0.7l1.5,1.7l1.5,2l1.5,1.3l1.5,0.3l1.5,-0.5l1.5,-0.7l1.5,-0.8l1.5,-0.8l1.5,-0.7l1.5,-0.2l1.5,-1.5l1.5,-1.9l1.5,-2l1.5,-1.7l1.5,-1l1.5,-6.1l1.5,-6.1l1.5,-6.6l1.5,3.9l1.5,0.5l1.5,-3.1l1.5,-4.8l1.5,-2.7l1.5,0.1l1.5,4.3l1.5,7.3l1.5,7.2l1.5,5l1.5,2.3l1.5,0.8l1.5,-0.4l1.5,-1.1l1.5,-1.5l1.5,-0.5l1.5,0.3l1.5,0.3l1.5,0.5l1.5,0.4l1.5,0.9l1.5,1.1l1.5,1.4l1.5,1.6l1.5,1.4l1.5,1l1.5,0.7l1.5,0.3l1.5,0.1l1.5,-0.1l1.5,0.4l1.5,0.6l1.5,0.1l1.5,-0.3l1.5,-0.2l1.5,-0.3l1.5,0l1.5,0.5l1.5,0.5l1.5,0.4l1.5,0.1" fill="none" stroke="#c4c4c4" stroke-width="0.50" opacity="0.50"/>
<path d="M194.7,85.8l1.5,-0.1l1.5,-0.3l1.5,-0.6l1.5,-0.4l1.5,-0.1l1.5,0.5l1.5,1.1l1.5,1.3l1.5,0.9l1.5,0.3l1.5,-0.3l1.5,-1.2l1.5,-1.8l1.5,-1.6l1.5,-0.5l1.5,1l1.5,1.9l1.5,2l1.5,1.4l1.5,0.6l1.5,-0.2l1.5,-2.6l1.5,-3.8l1.5,-3.6l1.5,2.1l1.5,1.8l1.5,1.3l1.5,1.2l1.5,0.8l1.5,0.2l1.5,0.2l1.5,0.6l1.5,0.7l1.5,0.5l1.5,0.2l1.5,-0.4l1.5,-1.2l1.5,-1.3l1.5,-1.4l1.5,-1.1l1.5,-1.4l1.5,-1.9l1.5,-2.2l1.5,-2.6l1.5,-2.5l1.5,-1.1l1.5,0.6l1.5,1.9l1.5,2.7l1.5,-3.1l1.5,-6.7l1.5,-8.2l1.5,2.3l1.5,1.3l1.5,2.4l1.5,3.2l1.5,3.1l1.5,2.4l1.5,1.3l1.5,0.8l1.5,0l1.5,-0.8l1.5,-1l1.5,-1l1.5,0.4l1.5,0.7l1.5,0.2l1.5,0.2l1.5,0.4l1.5,1l1.5,2l1.5,2.9l1.5,2.7l1.5,1.7l1.5,0.9l1.5,0.2l1.5,-1l1.5,-1.8l1.5,-1.6l1.5,-0.9l1.5,-0.2l1.5,0.1l1.5,0.1l1.5,0.1l1.5,-0.2" fill="none" stroke="#c4c4c4" stroke-width="0.50" opacity="0.50"/>
<path d="M194.7,87.9l1.5,0l1.5,0l1.5,0l1.5,0l1.5,0.1l1.5,0.1l1.5,0.1l1.5,0.1l1.5,0.1l1.5,0.1l1.5,0l1.5,0l1.5,0l1.5,0l1.5,0l1.5,0.3l1.5,0.3l1.5,0.4l1.5,0.3l1.5,0.2l1.5,0.1l1.5,0.3l1.5,0.2l1.5,0.2l1.5,0.2l1.5,-0.4l1.5,-1.2l1.5,-1.6l1.5,-1.6l1.5,-0.9l1.5,-0.6l1.5,-1l1.5,-1.2l1.5,-1l1.5,-0.8l1.5,-0.1l1.5,-1l1.5,-0.7l1.5,-0.7l1.5,-1.2l1.5,-1.9l1.5,-2.3l1.5,-2.4l1.5,-3l1.5,-3.1l1.5,-0.7l1.5,2.8l1.5,4.7l1.5,4.5l1.5,1.9l1.5,-0.4l1.5,-1.7l1.5,-2.4l1.5,-1.8l1.5,-0.6l1.5,-1.5l1.5,-1.5l1.5,3.4l1.5,1.8l1.5,1.2l1.5,-0.6l1.5,-3.2l1.5,-5l1.5,-4.8l1.5,-0.5l1.5,4.9l1.5,8.4l1.5,7.4l1.5,4.4l1.5,1.8l1.5,0.4l1.5,0.1l1.5,-0.2l1.5,-0.3l1.5,0.2l1.5,0.3l1.5,-0.5l1.5,-1.1l1.5,-1l1.5,-0.5l1.5,0.3l1.5,1.2l1.5,1.4l1.5,1l1.5,0.2" fill="none" stroke="#c4c4c4" stroke-width="0.50" opacity="0.50"/>
<path d="M194.7,74.2l1.5,2.3l1.5,4.9l1.5,4.5l1.5,2.7l1.5,0.9l1.5,-0.3l1.5,-1.2l1.5,-1.6l1.5,-1.5l1.5,-0.5l1.5,0.4l1.5,0.7l1.5,0.9l1.5,0.6l1.5,0.3l1.5,-0.5l1.5,-3.7l1.5,-3.9l1.5,-3.8l1.5,2.5l1.5,2.3l1.5,2l1.5,1.7l1.5,1.3l1.5,0.9l1.5,0.7l1.5,1.2l1.5,1.2l1.5,0.9l1.5,0.2l1.5,-0.3l1.5,-0.6l1.5,-1l1.5,-0.9l1.5,-0.6l1.5,-0.8l1.5,-2.9l1.5,-4l1.5,-4.2l1.5,-3l1.5,-0.7l1.5,1.6l1.5,2.3l1.5,1.2l1.5,-0.8l1.5,-2.3l1.5,-2.9l1.5,-2.4l1.5,-0.3l1.5,0.3l1.5,0.6l1.5,0.5l1.5,0.6l1.5,0.7l1.5,1l1.5,1.6l1.5,2l1.5,1.7l1.5,0.4l1.5,-0.1l1.5,0.4l1.5,0l1.5,-0.2l1.5,-0.2l1.5,0.7l1.5,0l1.5,-1.3l1.5,-4.2l1.5,-8.9l1.5,-7l1.5,9.5l1.5,9.3l1.5,7.1l1.5,4.3l1.5,2.1l1.5,0.4l1.5,-1.3l1.5,-2.8l1.5,-3.2l1.5,-1.3l1.5,0.4l1.5,1.4l1.5,1.7l1.5,1.2l1.5,0.3" fill="none" stroke="#c4c4c4" stroke-width="0.50" opacity="0.50"/>
<path d="M194.7,88.7l1.5,-0.1l1.5,-0.3l1.5,-0.4l1.5,-0.3l1.5,0l1.5,-0.2l1.5,-0.4l1.5,-0.7l1.5,-0.5l1.5,-0.2l1.5,0.1l1.5,-0.1l1.5,-0.1l1.5,-0.1l1.5,0.1l1.5,1.1l1.5,2.1l1.5,2.1l1.5,1.3l1.5,0.5l1.5,-0.2l1.5,-0.9l1.5,-1.3l1.5,-1.3l1.5,-0.4l1.5,-0.4l1.5,-1.1l1.5,-1.4l1.5,-1.3l1.5,-0.8l1.5,-0.3l1.5,0.1l1.5,0.3l1.5,0.1l1.5,-0.2l1.5,-0.3l1.5,-1.3l1.5,-1.1l1.5,-1.2l1.5,-1.4l1.5,-0.6l1.5,0.9l1.5,1.5l1.5,0.7l1.5,-0.7l1.5,-3l1.5,-6.2l1.5,-8.2l1.5,-6.1l1.5,-1.9l1.5,5.2l1.5,10l1.5,7.6l1.5,3.2l1.5,0l1.5,-2.5l1.5,-4.4l1.5,-2.4l1.5,-3.3l1.5,-0.9l1.5,0.6l1.5,-0.2l1.5,-0.4l1.5,-0.2l1.5,1.1l1.5,2.4l1.5,3.7l1.5,3.7l1.5,2.8l1.5,1.6l1.5,0.6l1.5,-0.2l1.5,-0.5l1.5,-0.6l1.5,0.3l1.5,1.8l1.5,2.3l1.5,2l1.5,1.3l1.5,0.4l1.5,-0.3l1.5,-0.5l1.5,-0.6l1.5,-0.6l1.5,-0.3" fill="none" stroke="#c4c4c4" stroke-width="0.50" opacity="0.50"/>
<path d="M194.7,75.6l1.5,-0.4l1.5,-1.4l1.5,-1.9l1.5,-1.7l1.5,-0.5l1.5,1.1l1.5,2.3l1.5,2.6l1.5,1.9l1.5,0.8l1.5,0.3l1.5,0.4l1.5,0.6l1.5,0.4l1.5,0.4l1.5,0.5l1.5,0.9l1.5,1l1.5,0.7l1.5,0.5l1.5,-0.2l1.5,-0.9l1.5,-1.3l1.5,-1.1l1.5,-0.2l1.5,-0.2l1.5,-0.5l1.5,-0.4l1.5,-0.5l1.5,-0.5l1.5,-0.3l1.5,0.4l1.5,0.6l1.5,0.4l1.5,-0.2l1.5,-1.4l1.5,-5.1l1.5,-6.9l1.5,-7.5l1.5,-5.2l1.5,-2.2l1.5,0.5l1.5,1.5l1.5,0.1l1.5,-2.7l1.5,-2.3l1.5,0.8l1.5,3.5l1.5,5l1.5,2.4l1.5,-0.8l1.5,-4l1.5,-5.4l1.5,-4.4l1.5,-0.2l1.5,4.5l1.5,7.2l1.5,6.6l1.5,3.8l1.5,1.5l1.5,-0.4l1.5,-1.5l1.5,-2l1.5,-1.7l1.5,0.7l1.5,2l1.5,3.1l1.5,3.3l1.5,2.6l1.5,1.8l1.5,0.6l1.5,-0.6l1.5,-1.2l1.5,-1.2l1.5,0.2l1.5,1.1l1.5,0.2l1.5,-0.5l1.5,-0.5l1.5,-0.4l1.5,-0.5l1.5,-0.7l1.5,-0.6l1.5,-0.7l1.5,-0.5" fill="none" stroke="#c4c4c4" stroke-width="0.50" opacity="0.50"/>
<path d="M194.7,86.1l1.5,-0.1l1.5,-0.4l1.5,-0.6l1.5,-0.4l1.5,-0.1l1.5,0.2l1.5,0.5l1.5,0.6l1.5,0.4l1.5,0.2l1.5,0.8l1.5,1.6l1.5,1.6l1.5,1.2l1.5,0.4l1.5,-0.1l1.5,-0.3l1.5,-0.5l1.5,-0.4l1.5,0l1.5,-0.3l1.5,-0.9l1.5,-1.4l1.5,-1.3l1.5,-0.4l1.5,-0.3l1.5,-1l1.5,-1.3l1.5,-1.2l1.5,-0.7l1.5,-0.1l1.5,0.6l1.5,0.8l1.5,0.6l1.5,0l1.5,0.2l1.5,0.1l1.5,0.6l1.5,0.3l1.5,-0.5l1.5,-1.7l1.5,-2.9l1.5,-4.1l1.5,-4.5l1.5,-3.8l1.5,-0.5l1.5,2.9l1.5,4.5l1.5,4.2l1.5,1.7l1.5,-0.2l1.5,-1.4l1.5,-1.9l1.5,-1.5l1.5,0.1l1.5,0.7l1.5,0.2l1.5,-1.3l1.5,-1.7l1.5,-1.1l1.5,1.4l1.5,1.8l1.5,1.7l1.5,1.4l1.5,1.3l1.5,1l1.5,1.3l1.5,1.4l1.5,1.1l1.5,0.9l1.5,0.3l1.5,-0.4l1.5,-0.9l1.5,-0.9l1.5,0.1l1.5,1.2l1.5,1.5l1.5,1.4l1.5,0.9l1.5,0.3l1.5,-0.2l1.5,-0.3l1.5,-0.2l1.5,-0.3l1.5,-0.2" fill="none" stroke="#c4c4c4" stroke-width="0.50" opacity="0.50"/>
<path d="M194.7,88.3l1.5,0.1l1.5,0.1l1.5,0.2l1.5,0.2l1.5,0.1l1.5,0.1l1.5,0.1l1.5,0.2l1.5,0.1l1.5,-3.3l1.5,-3.4l1.5,-3.7l1.5,2.5l1.5,-2.6l1.5,-3.2l1.5,-2.9l1.5,5.8l1.5,4.4l1.5,3.2l1.5,2.1l1.5,1.2l1.5,0.9l1.5,0.6l1.5,0.6l1.5,0.4l1.5,0.2l1.5,0.3l1.5,0.6l1.5,0.1l1.5,0l1.5,-0.3l1.5,-0.4l1.5,-0.7l1.5,-0.5l1.5,-0.4l1.5,-0.5l1.5,-2l1.5,-2.7l1.5,-2.9l1.5,-2l1.5,-0.8l1.5,0.2l1.5,0.5l1.5,0.1l1.5,-1l1.5,-2.5l1.5,-4.3l1.5,-5l1.5,-2.8l1.5,-0.6l1.5,1.9l1.5,3.5l1.5,3.8l1.5,2.9l1.5,1.5l1.5,-1.8l1.5,-4l1.5,-4.2l1.5,4.8l1.5,3.1l1.5,2.3l1.5,2l1.5,1.6l1.5,1.2l1.5,1.1l1.5,0.3l1.5,-0.4l1.5,-0.8l1.5,-0.3l1.5,0.3l1.5,1.3l1.5,1.8l1.5,1.8l1.5,1.1l1.5,0.6l1.5,0.6l1.5,0.6l1.5,0.6l1.5,-0.1l1.5,-0.9l1.5,-1l1.5,0.2l1.5,-1.4l1.5,-1.5l1.5,-1.5" fill="none" stroke="#c4c4c4" stroke-width="0.50" opacity="0.50"/>
<path d="M194.7,64.7l1.5,0.9l1.5,1.9l1.5,2.1l1.5,1.7l1.5,0.8l1.5,0.8l1.5,1.8l1.5,2l1.5,1.5l1.5,0.7l1.5,-0.5l1.5,-1.9l1.5,-2.6l1.5,-2.2l1.5,-0.7l1.5,0.6l1.5,0.7l1.5,0.8l1.5,0.7l1.5,0.6l1.5,0.9l1.5,1.6l1.5,1.4l1.5,-4.3l1.5,-5.1l1.5,3.8l1.5,0.5l1.5,-1.3l1.5,-1.9l1.5,-1.1l1.5,-0.6l1.5,-0.9l1.5,-1.1l1.5,-0.9l1.5,-1.1l1.5,-0.9l1.5,-3.6l1.5,-3.5l1.5,-3.6l1.5,-3.6l1.5,-2.2l1.5,0.6l1.5,1.8l1.5,0.3l1.5,-2.9l1.5,-4l1.5,-3.4l1.5,-1l1.5,2.5l1.5,1.8l1.5,0.4l1.5,-0.9l1.5,-1.1l1.5,-0.4l1.5,1.4l1.5,2.1l1.5,1.6l1.5,0.6l1.5,-0.7l1.5,-0.1l1.5,-0.5l1.5,-2.1l1.5,-2.9l1.5,-2.2l1.5,1.3l1.5,6.8l1.5,11.7l1.5,10.8l1.5,6.8l1.5,3l1.5,0.3l1.5,-1.2l1.5,-2.1l1.5,-2l1.5,-0.1l1.5,1.5l1.5,0.9l1.5,0.5l1.5,0.3l1.5,-0.1l1.5,-1l1.5,-1.8l1.5,-2.4l1.5,-2.2l1.5,-1.2" fill="none" stroke="#c4c4c4" stroke-width="0.50" opacity="0.50"/>
<path d="M194.7,84l1.5,0.5l1.5,1l1.5,1.2l1.5,0.9l1.5,0.3l1.5,0.2l1.5,0.3l1.5,0.3l1.5,0.3l1.5,0.1l1.5,-0.3l1.5,-0.9l1.5,-1.3l1.5,-1.2l1.5,-0.4l1.5,1.1l1.5,2l1.5,2.1l1.5,1.3l1.5,0.5l1.5,-0.3l1.5,-1l1.5,-1.4l1.5,-1.4l1.5,-0.5l1.5,0.5l1.5,1.2l1.5,1.3l1.5,0.9l1.5,0.2l1.5,-0.3l1.5,-0.5l1.5,-0.6l1.5,-0.5l1.5,-0.4l1.5,-0.5l1.5,-2l1.5,-2.4l1.5,-2.6l1.5,-1.9l1.5,-1.7l1.5,-2.4l1.5,-2.7l1.5,-3.2l1.5,-3.1l1.5,-1.1l1.5,1.5l1.5,3.3l1.5,3.8l1.5,1.7l1.5,-0.7l1.5,-2.7l1.5,-3.7l1.5,-3.2l1.5,-0.3l1.5,2l1.5,2.8l1.5,2.4l1.5,1.3l1.5,0.6l1.5,0.6l1.5,1.1l1.5,1.3l1.5,1.1l1.5,1.1l1.5,0.3l1.5,-0.4l1.5,-0.6l1.5,-0.2l1.5,0.6l1.5,2l1.5,3l1.5,2.7l1.5,1.7l1.5,0.9l1.5,0.2l1.5,-0.2l1.5,-0.5l1.5,-0.4l1.5,-0.3l1.5,-0.2l1.5,-0.3l1.5,-0.3l1.5,-0.3l1.5,-0.2" fill="none" stroke="#c4c4c4" stroke-width="0.50" opacity="0.50"/>
<path d="M194.7,80.5l1.5,0.4l1.5,0.3l1.5,0.2l1.5,0l1.5,-0.3l1.5,-0.3l1.5,1.2l1.5,1.2l1.5,1l1.5,0.6l1.5,0.3l1.5,0.4l1.5,0.3l1.5,0.3l1.5,0.3l1.5,-0.1l1.5,-2.2l1.5,-2.3l1.5,-2.3l1.5,-2.2l1.5,2.3l1.5,1.6l1.5,1.3l1.5,1l1.5,1l1.5,0.4l1.5,-0.2l1.5,-0.5l1.5,-0.5l1.5,-0.4l1.5,0.4l1.5,1.4l1.5,1.6l1.5,1.1l1.5,0.2l1.5,-0.5l1.5,-1.7l1.5,-2.5l1.5,-2.6l1.5,-2.4l1.5,-2.6l1.5,-3.5l1.5,-3.4l1.5,-3.9l1.5,-3.7l1.5,-3l1.5,-3.3l1.5,-2l1.5,0.8l1.5,1.1l1.5,0.9l1.5,0.8l1.5,0.9l1.5,0.1l1.5,-1.4l1.5,-0.6l1.5,0.3l1.5,5.4l1.5,3.3l1.5,2l1.5,0.5l1.5,-0.8l1.5,-1.6l1.5,-1.3l1.5,-1.2l1.5,-1.6l1.5,0.3l1.5,8.8l1.5,6l1.5,3.6l1.5,2l1.5,1.2l1.5,0.8l1.5,0.4l1.5,0.6l1.5,0.4l1.5,-0.7l1.5,-1.8l1.5,-1.7l1.5,-0.9l1.5,0.2l1.5,1l1.5,1.3l1.5,0.9l1.5,0.2" fill="none" stroke="#c4c4c4" stroke-width="0.50" opacity="0.50"/>
<path d="M194.7,82l1.5,0.4l1.5,0.8l1.5,0.8l1.5,0.7l1.5,0.3l1.5,0.1l1.5,-0.1l1.5,-0.2l1.5,-0.1l1.5,0l1.5,0.5l1.5,0.9l1.5,1l1.5,0.7l1.5,0.4l1.5,-0.2l1.5,-0.8l1.5,-1.1l1.5,-1.8l1.5,-1.3l1.5,-0.8l1.5,-9.3l1.5,-7.5l1.5,-7.7l1.5,-7.9l1.5,7.8l1.5,5.5l1.5,4l1.5,3l1.5,2.3l1.5,2.3l1.5,2.7l1.5,2.6l1.5,1.9l1.5,0.9l1.5,0l1.5,-1.8l1.5,-2.4l1.5,-2.6l1.5,-2l1.5,0.2l1.5,1.4l1.5,2l1.5,1.1l1.5,-0.8l1.5,-1.6l1.5,-1.4l1.5,-0.5l1.5,0.8l1.5,0.7l1.5,-0.6l1.5,-6.1l1.5,-9.1l1.5,-8.5l1.5,4.2l1.5,4l1.5,4l1.5,1.8l1.5,2.9l1.5,1l1.5,2.9l1.5,2.8l1.5,2.5l1.5,1.8l1.5,1.8l1.5,0.7l1.5,0.3l1.5,0.2l1.5,0.3l1.5,0.8l1.5,1.2l1.5,1.5l1.5,1.4l1.5,0.9l1.5,0.6l1.5,0l1.5,-1.1l1.5,-2l1.5,-1.8l1.5,-1l1.5,0.1l1.5,0.7l1.5,0.9l1.5,0.6l1.5,0.1" fill="none" stroke="#c4c4c4" stroke-width="0.50" opacity="0.50"/>
<path d="M194.7,79.2l1.5,-0.3l1.5,-1.2l1.5,-1.5l1.5,-1.3l1.5,-1.2l1.5,-0.5l1.5,0.2l1.5,0.4l1.5,2.1l1.5,0.9l1.5,0.6l1.5,-1.1l1.5,-2.2l1.5,-2.1l1.5,-2.9l1.5,-16.3l1.5,-15.1l1.5,-15l1.5,-15.8l1.5,-16.9l1.5,15.7l1.5,11.1l1.5,7.7l1.5,5.9l1.5,6.4l1.5,8.3l1.5,9.8l1.5,8.9l1.5,6.3l1.5,3.1l1.5,-3.7l1.5,-5.7l1.5,-7.3l1.5,1.4l1.5,1.9l1.5,2.5l1.5,0.2l1.5,-0.1l1.5,-0.6l1.5,-1.2l1.5,-1l1.5,-4.1l1.5,-4.9l1.5,-5.7l1.5,-5.7l1.5,-4.3l1.5,-3.4l1.5,-0.6l1.5,3l1.5,2.9l1.5,2.8l1.5,4.2l1.5,4.7l1.5,3.9l1.5,2.7l1.5,1.1l1.5,-0.1l1.5,-1.3l1.5,-2l1.5,-0.6l1.5,-0.8l1.5,-2.6l1.5,-3.5l1.5,-2.8l1.5,0.9l1.5,3.5l1.5,5.5l1.5,5.8l1.5,4.5l1.5,2.9l1.5,2.5l1.5,3.2l1.5,3l1.5,2l1.5,1.3l1.5,0.3l1.5,-2.5l1.5,-4.1l1.5,-3.9l1.5,-0.2l1.5,1.2l1.5,2.3l1.5,2.5l1.5,1.8l1.5,0.5" fill="none" stroke="#c4c4c4" stroke-width="0.50" opacity="0.50"/>
<path d="M194.7,87.9l1.5,0l1.5,-0.1l1.5,-0.2l1.5,-0.2l1.5,0l1.5,0.5l1.5,0.9l1.5,1l1.5,0.8l1.5,0.3l1.5,0.2l1.5,0.4l1.5,0.5l1.5,0.3l1.5,0.2l1.5,-0.1l1.5,-0.3l1.5,-0.5l1.5,-0.3l1.5,-0.1l1.5,-0.1l1.5,-0.4l1.5,-0.5l1.5,-0.4l1.5,0l1.5,0.2l1.5,0.4l1.5,0.6l1.5,0.5l1.5,0l1.5,-0.2l1.5,-0.3l1.5,-0.4l1.5,-0.3l1.5,-0.3l1.5,-0.1l1.5,-0.5l1.5,-0.3l1.5,-0.4l1.5,-0.6l1.5,-1.2l1.5,-2.1l1.5,-2.8l1.5,-3.2l1.5,-2.6l1.5,-0.6l1.5,1.4l1.5,2.6l1.5,2.8l1.5,1.2l1.5,-0.2l1.5,-1.3l1.5,-2.6l1.5,-2.3l1.5,0.9l1.5,1.2l1.5,0.7l1.5,0.4l1.5,-0.2l1.5,0l1.5,0.6l1.5,1.3l1.5,1.4l1.5,1.1l1.5,0.8l1.5,0.5l1.5,-0.3l1.5,-2.5l1.5,-2.4l1.5,-2.4l1.5,2.8l1.5,1.7l1.5,0.9l1.5,0.6l1.5,0.9l1.5,1l1.5,0.2l1.5,-0.6l1.5,-0.7l1.5,-0.8l1.5,-0.8l1.5,0.7l1.5,0.8l1.5,0.4l1.5,0.2" fill="none" stroke="#c4c4c4" stroke-width="0.50" opacity="0.50"/>
<path d="M194.7,92.6l1.5,0l1.5,-0.1l1.5,0l1.5,-0.1l1.5,-1.4l1.5,-4.4l1.5,-4.6l1.5,-5.5l1.5,-0.8l1.5,2.2l1.5,1.6l1.5,1.1l1.5,1.8l1.5,1.2l1.5,0.2l1.5,-0.2l1.5,0.6l1.5,0.2l1.5,1.4l1.5,1.3l1.5,1.1l1.5,0.9l1.5,0.6l1.5,0.6l1.5,0.4l1.5,0.5l1.5,0.6l1.5,0.7l1.5,0.4l1.5,0.2l1.5,-0.5l1.5,-1.2l1.5,-2l1.5,-2.2l1.5,-1.2l1.5,0.2l1.5,0.3l1.5,0.6l1.5,0.3l1.5,-0.3l1.5,-1.1l1.5,-1.7l1.5,-2l1.5,-2.2l1.5,-2.1l1.5,-0.3l1.5,2l1.5,3l1.5,2.8l1.5,1.1l1.5,-0.4l1.5,-1.8l1.5,-2.5l1.5,-2.2l1.5,-0.4l1.5,1.7l1.5,2.6l1.5,2.4l1.5,1.4l1.5,0.5l1.5,-0.3l1.5,-1l1.5,-1.5l1.5,-1.3l1.5,0l1.5,1l1.5,1.7l1.5,-1.3l1.5,-2.2l1.5,-2.6l1.5,-2.9l1.5,-2.9l1.5,3.6l1.5,2.9l1.5,2.3l1.5,1.8l1.5,1l1.5,0.5l1.5,0.4l1.5,0.4l1.5,0.4l1.5,0.4l1.5,0.2l1.5,0.2l1.5,0.1" fill="none" stroke="#c4c4c4" stroke-width="0.50" opacity="0.50"/>
<path d="M194.7,88.5l1.5,0.2l1.5,0.5l1.5,0.6l1.5,0.5l1.5,0.2l1.5,-0.3l1.5,-0.8l1.5,-1.2l1.5,-1.1l1.5,-0.4l1.5,0.6l1.5,0.8l1.5,0.3l1.5,0.1l1.5,-0.5l1.5,-0.7l1.5,1.2l1.5,1.1l1.5,0.8l1.5,0.6l1.5,0.3l1.5,0l1.5,-0.1l1.5,-0.1l1.5,0l1.5,0.2l1.5,0.3l1.5,0.3l1.5,0.2l1.5,0l1.5,-0.2l1.5,-0.5l1.5,-0.6l1.5,-0.4l1.5,-0.4l1.5,-0.3l1.5,-1.3l1.5,-1.4l1.5,-1.5l1.5,-1.2l1.5,-1.6l1.5,-2.8l1.5,-3.8l1.5,-4.2l1.5,-3.6l1.5,-1.6l1.5,0l1.5,1.7l1.5,2.9l1.5,1.4l1.5,1.7l1.5,3.2l1.5,3.3l1.5,2.5l1.5,1.2l1.5,0.2l1.5,-0.4l1.5,-0.9l1.5,-1.8l1.5,-5.3l1.5,-4.9l1.5,-5.1l1.5,3.8l1.5,2.8l1.5,2.7l1.5,2.4l1.5,2.1l1.5,1.9l1.5,1.6l1.5,1.2l1.5,0.7l1.5,0.1l1.5,-0.2l1.5,-0.3l1.5,0.5l1.5,0.9l1.5,0.9l1.5,0.8l1.5,0.5l1.5,0.1l1.5,-0.2l1.5,-0.1l1.5,-0.2l1.5,-0.2l1.5,-0.2" fill="none" stroke="#c4c4c4" stroke-width="0.50" opacity="0.50"/>
<path d="M194.7,89.6l1.5,-3.7l1.5,-6.8l1.5,-7.8l1.5,-8l1.5,3.4l1.5,3.7l1.5,2.9l1.5,2.4l1.5,1.8l1.5,1.4l1.5,1l1.5,1l1.5,0.5l1.5,-0.7l1.5,-0.7l1.5,-1l1.5,-1.4l1.5,0.9l1.5,1l1.5,0.7l1.5,1.4l1.5,2.1l1.5,2l1.5,1.5l1.5,0.7l1.5,-0.4l1.5,-1.8l1.5,-2.8l1.5,-2.7l1.5,-1.7l1.5,0.1l1.5,2.4l1.5,2.6l1.5,1.9l1.5,0.5l1.5,-0.6l1.5,-2.5l1.5,-3.3l1.5,-3.5l1.5,-2.5l1.5,-1.7l1.5,-1.2l1.5,-1.1l1.5,-1.6l1.5,-2.5l1.5,-2.4l1.5,-1.7l1.5,-0.3l1.5,1.9l1.5,1.3l1.5,0.3l1.5,-0.2l1.5,-0.4l1.5,0.1l1.5,0.9l1.5,2.2l1.5,3l1.5,2.8l1.5,1.5l1.5,0.7l1.5,0.5l1.5,1.1l1.5,1.3l1.5,1l1.5,1l1.5,1.2l1.5,1.8l1.5,1.8l1.5,1.4l1.5,0.7l1.5,0.1l1.5,-0.2l1.5,-0.5l1.5,-0.5l1.5,0.1l1.5,1.2l1.5,1.4l1.5,1.2l1.5,0.9l1.5,-1.2l1.5,-1.9l1.5,-2.4l1.5,-2.7l1.5,0.4l1.5,0.5" fill="none" stroke="#c4c4c4" stroke-width="0.50" opacity="0.50"/>
<path d="M194.7,77.7l1.5,1.2l1.5,1.8l1.5,1.8l1.5,1.1l1.5,-0.1l1.5,-0.7l1.5,0.6l1.5,-7.6l1.5,-11.6l1.5,-11.5l1.5,10.2l1.5,6.7l1.5,4.4l1.5,2.9l1.5,2.4l1.5,1.9l1.5,1.7l1.5,-0.5l1.5,-1.9l1.5,-2.2l1.5,-1.7l1.5,3.1l1.5,2.6l1.5,2l1.5,1.4l1.5,1l1.5,0.9l1.5,0.8l1.5,0.6l1.5,0.2l1.5,-0.3l1.5,-1.1l1.5,-1.6l1.5,-1.6l1.5,-0.9l1.5,-0.1l1.5,-1.4l1.5,-1.3l1.5,-1.4l1.5,-1.4l1.5,-3.5l1.5,-6.2l1.5,-8.6l1.5,-9.9l1.5,-6.6l1.5,-1.8l1.5,2.3l1.5,5.2l1.5,6.8l1.5,3.2l1.5,0.7l1.5,-0.2l1.5,-0.3l1.5,0.1l1.5,1.1l1.5,2.7l1.5,3.9l1.5,3.2l1.5,1.6l1.5,0.5l1.5,-0.6l1.5,-1.3l1.5,-0.9l1.5,-0.6l1.5,0.9l1.5,2.5l1.5,4l1.5,3.9l1.5,2.9l1.5,1.5l1.5,0.2l1.5,-0.7l1.5,-1.3l1.5,-1.2l1.5,-0.1l1.5,1.2l1.5,1.1l1.5,0.8l1.5,0.6l1.5,0.1l1.5,0.2l1.5,0.9l1.5,1l1.5,0.8l1.5,0.1" fill="none" stroke="#c4c4c4" stroke-width="0.50" opacity="0.50"/>
<path d="M194.7,87.5l1.5,0.5l1.5,1l1.5,1l1.5,0.8l1.5,0.3l1.5,-0.5l1.5,-1.9l1.5,-2.9l1.5,-3.1l1.5,-1.3l1.5,1.4l1.5,2.9l1.5,2.8l1.5,1.8l1.5,0.7l1.5,-0.3l1.5,-0.9l1.5,-5.7l1.5,-6.4l1.5,-5.6l1.5,5l1.5,4.3l1.5,3.5l1.5,2.4l1.5,1.5l1.5,0.9l1.5,0.9l1.5,0.9l1.5,0.6l1.5,0.2l1.5,-0.3l1.5,-0.9l1.5,-1.6l1.5,-1.7l1.5,-0.9l1.5,0.2l1.5,0.4l1.5,0.7l1.5,0.5l1.5,-0.2l1.5,-1.4l1.5,-2.9l1.5,-4.2l1.5,-4.9l1.5,-3.8l1.5,-1.7l1.5,-0.5l1.5,0.9l1.5,2.2l1.5,1.2l1.5,1l1.5,1.6l1.5,1.8l1.5,1.6l1.5,1l1.5,0.2l1.5,-0.8l1.5,-1.4l1.5,-1.7l1.5,-0.6l1.5,0.3l1.5,0.8l1.5,0.9l1.5,0.7l1.5,0.9l1.5,1.8l1.5,3.2l1.5,3l1.5,2l1.5,0.9l1.5,0.1l1.5,-0.5l1.5,-0.9l1.5,-0.8l1.5,-0.1l1.5,0.4l1.5,-0.1l1.5,-0.3l1.5,-0.4l1.5,-0.2l1.5,0.1l1.5,-2.1l1.5,-2.8l1.5,-3.1l1.5,3.1" fill="none" stroke="#c4c4c4" stroke-width="0.50" opacity="0.50"/>
<path d="M194.7,74.7l1.5,-3.4l1.5,-3.2l1.5,-3.1l1.5,-3.2l1.5,3.6l1.5,2.6l1.5,1.6l1.5,1l1.5,0.8l1.5,1.1l1.5,2l1.5,3.1l1.5,3l1.5,2.3l1.5,1.1l1.5,0.5l1.5,0.5l1.5,0.4l1.5,0.4l1.5,0.3l1.5,0.3l1.5,0.2l1.5,0.1l1.5,0.4l1.5,0.1l1.5,-0.6l1.5,-1.8l1.5,-2.7l1.5,-4.3l1.5,-3.2l1.5,-1.4l1.5,0.3l1.5,4.1l1.5,2.9l1.5,1.3l1.5,-0.1l1.5,-2.3l1.5,-3.5l1.5,-3.8l1.5,-2.7l1.5,-2.1l1.5,-2.2l1.5,-2.4l1.5,-2.9l1.5,-3.6l1.5,-4.3l1.5,-5.9l1.5,-5.1l1.5,-1l1.5,0.5l1.5,1.8l1.5,2.5l1.5,3l1.5,2.8l1.5,2.3l1.5,1.5l1.5,0.7l1.5,-0.1l1.5,-1.1l1.5,-0.2l1.5,1.1l1.5,2.5l1.5,2.7l1.5,2.2l1.5,2.1l1.5,1.6l1.5,2.2l1.5,2.3l1.5,2.1l1.5,1.6l1.5,1.9l1.5,2.4l1.5,2.2l1.5,1.6l1.5,0.9l1.5,0.7l1.5,-0.1l1.5,-0.4l1.5,-0.4l1.5,-0.4l1.5,-1.2l1.5,-3.1l1.5,-4.6l1.5,-4.6l1.5,-2.3" fill="none" stroke="#c4c4c4" stroke-width="0.50" opacity="0.50"/>
<path d="M194.7,74.1l1.5,1.6l1.5,3.4l1.5,3.5l1.5,2.4l1.5,0.8l1.5,-0.4l1.5,-1.5l1.5,-2l1.5,-1.9l1.5,-0.6l1.5,0.1l1.5,0l1.5,-0.1l1.5,0l1.5,0.1l1.5,1.1l1.5,2.2l1.5,2.3l1.5,1.6l1.5,0.7l1.5,0.2l1.5,0.2l1.5,0.2l1.5,0.3l1.5,0.1l1.5,-0.1l1.5,-0.5l1.5,-0.6l1.5,-0.6l1.5,-0.4l1.5,-0.3l1.5,-0.1l1.5,0l1.5,-0.2l1.5,-0.4l1.5,-0.5l1.5,-1.7l1.5,-1.7l1.5,-1.7l1.5,-1.8l1.5,-2.1l1.5,-2.6l1.5,-2l1.5,-2.4l1.5,-2.6l1.5,-3l1.5,-4.1l1.5,-3.7l1.5,-0.7l1.5,0.4l1.5,1.7l1.5,2.6l1.5,2.9l1.5,2.5l1.5,1.8l1.5,1.4l1.5,1.4l1.5,0.8l1.5,0.1l1.5,0.2l1.5,0l1.5,-0.3l1.5,-0.4l1.5,-0.2l1.5,0.9l1.5,1.7l1.5,2.5l1.5,2.7l1.5,2.2l1.5,1.4l1.5,0.4l1.5,-0.7l1.5,-1.3l1.5,-1.2l1.5,0.1l1.5,1.3l1.5,1.3l1.5,0.9l1.5,0.7l1.5,0l1.5,-0.1l1.5,0.2l1.5,0.2l1.5,0.1l1.5,-0.1" fill="none" stroke="#c4c4c4" stroke-width="0.50" opacity="0.50"/>
<path d="M194.7,83.8l1.5,-0.8l1.5,-1.2l1.5,-1.2l1.5,-1.3l1.5,-1.7l1.5,1.5l1.5,0.6l1.5,0.1l1.5,0l1.5,0.4l1.5,1.4l1.5,2.1l1.5,2.1l1.5,1.6l1.5,0.7l1.5,0.8l1.5,1.3l1.5,1.3l1.5,0.9l1.5,0.4l1.5,-0.2l1.5,-0.9l1.5,-1.3l1.5,-1.2l1.5,-0.4l1.5,0l1.5,0.2l1.5,0.3l1.5,0.2l1.5,-0.1l1.5,-0.6l1.5,-1.1l1.5,-1.4l1.5,-1.4l1.5,-0.8l1.5,-0.3l1.5,-1.2l1.5,-1.1l1.5,-1.1l1.5,-1.3l1.5,-1.4l1.5,-1.1l1.5,-1.1l1.5,-1.4l1.5,-2.1l1.5,-2.7l1.5,-3.5l1.5,-3.2l1.5,-1.8l1.5,-0.9l1.5,0.5l1.5,1.9l1.5,2.1l1.5,3.8l1.5,2.5l1.5,2.1l1.5,2.4l1.5,2l1.5,1.2l1.5,0.8l1.5,-0.4l1.5,-1.6l1.5,-2.5l1.5,-2.1l1.5,0.1l1.5,0.9l1.5,0.8l1.5,0.8l1.5,0.8l1.5,1.2l1.5,1.2l1.5,1.1l1.5,0.8l1.5,0.7l1.5,0.6l1.5,1.6l1.5,2l1.5,1.7l1.5,1.3l1.5,0.3l1.5,-0.2l1.5,-0.1l1.5,-0.1l1.5,-0.1l1.5,-0.1" fill="none" stroke="#c4c4c4" stroke-width="0.50" opacity="0.50"/>
<path d="M194.7,82.8l1.5,0.5l1.5,1.2l1.5,1.3l1.5,1l1.5,0.4l1.5,-0.6l1.5,-1.8l1.5,-2.8l1.5,-2.6l1.5,-1l1.5,1.4l1.5,3l1.5,2.9l1.5,2l1.5,0.8l1.5,-3l1.5,-6.2l1.5,-7.5l1.5,-2.3l1.5,-1.7l1.5,-0.3l1.5,5.2l1.5,3.7l1.5,1.9l1.5,0.6l1.5,-0.5l1.5,1.6l1.5,1l1.5,0.6l1.5,0.6l1.5,0.5l1.5,0.3l1.5,0.3l1.5,0.1l1.5,0l1.5,-0.9l1.5,-3.7l1.5,-5.3l1.5,-5.8l1.5,-4l1.5,-1.2l1.5,0.4l1.5,-1.6l1.5,-4l1.5,-6.1l1.5,-5.7l1.5,-3.3l1.5,6.4l1.5,6.9l1.5,4.2l1.5,2l1.5,0.8l1.5,0.3l1.5,0.5l1.5,1.4l1.5,2.4l1.5,2.6l1.5,2.2l1.5,1.2l1.5,0.7l1.5,-2.2l1.5,-3.3l1.5,-3.7l1.5,0.7l1.5,1.9l1.5,2.6l1.5,2.3l1.5,2.1l1.5,1.9l1.5,1.6l1.5,1.5l1.5,1.6l1.5,1.4l1.5,1l1.5,0.9l1.5,0.7l1.5,0.3l1.5,0l1.5,0l1.5,-0.2l1.5,0.4l1.5,1.2l1.5,1.5l1.5,1l1.5,0.2" fill="none" stroke="#c4c4c4" stroke-width="0.50" opacity="0.50"/>
<path d="M194.7,83.4l1.5,0.7l1.5,1.4l1.5,1.6l1.5,1.2l1.5,0.4l1.5,-0.3l1.5,-1.2l1.5,-2l1.5,-1.9l1.5,-1l1.5,-0.4l1.5,-0.7l1.5,0l1.5,0.1l1.5,0.3l1.5,-4.3l1.5,-4.4l1.5,-4.3l1.5,-5.5l1.5,4.6l1.5,2.9l1.5,1.8l1.5,1.1l1.5,3.6l1.5,2.9l1.5,2.3l1.5,1.8l1.5,1.5l1.5,1.2l1.5,0.7l1.5,0.2l1.5,-0.2l1.5,-0.5l1.5,-0.5l1.5,0.1l1.5,-0.7l1.5,-2.8l1.5,-3.7l1.5,-4.1l1.5,-2.8l1.5,-1.4l1.5,-0.7l1.5,-0.3l1.5,-1l1.5,-2.2l1.5,-3.2l1.5,-4.2l1.5,-3.6l1.5,-0.7l1.5,0.4l1.5,1.7l1.5,2.8l1.5,3.1l1.5,2.6l1.5,1.7l1.5,0.9l1.5,0.6l1.5,0l1.5,-0.3l1.5,0.1l1.5,1.1l1.5,2.5l1.5,2.6l1.5,2l1.5,1.5l1.5,0.3l1.5,-0.4l1.5,-0.7l1.5,-0.3l1.5,0.7l1.5,1.9l1.5,2.9l1.5,2.6l1.5,1.7l1.5,0.9l1.5,0.3l1.5,-0.4l1.5,-0.7l1.5,-0.7l1.5,-0.4l1.5,-0.7l1.5,-1.7l1.5,-2.4l1.5,-2.3l1.5,-1.1" fill="none" stroke="#c4c4c4" stroke-width="0.50" opacity="0.50"/>
<path d="M194.7,86.2l1.5,0.1l1.5,0.1l1.5,0.1l1.5,0.1l1.5,0.1l1.5,-0.4l1.5,-1.3l1.5,-1.9l1.5,-1.6l1.5,-0.6l1.5,0l1.5,-0.3l1.5,-0.4l1.5,-0.3l1.5,0.1l1.5,0.5l1.5,0.9l1.5,1l1.5,0.8l1.5,0.4l1.5,0.3l1.5,0.2l1.5,0.3l1.5,0.3l1.5,0.2l1.5,0.5l1.5,1l1.5,1.3l1.5,0.9l1.5,0.1l1.5,-0.6l1.5,-1.3l1.5,-1.8l1.5,-1.8l1.5,-0.9l1.5,-0.1l1.5,-0.5l1.5,-0.2l1.5,-0.3l1.5,-0.9l1.5,-1.3l1.5,-1.3l1.5,-1.2l1.5,-1.6l1.5,-2.1l1.5,-1.6l1.5,-0.5l1.5,0.9l1.5,2.1l1.5,1.1l1.5,0.9l1.5,1.3l1.5,1.6l1.5,1.3l1.5,1l1.5,0.2l1.5,-0.6l1.5,-1.3l1.5,-3.1l1.5,-2l1.5,-2.3l1.5,-3.7l1.5,-1.8l1.5,-1.6l1.5,0.8l1.5,2.9l1.5,4l1.5,4l1.5,3.1l1.5,1.8l1.5,1l1.5,0.8l1.5,0.5l1.5,0.4l1.5,0.5l1.5,0.9l1.5,0.6l1.5,0.4l1.5,0.4l1.5,-0.1l1.5,-0.4l1.5,-0.7l1.5,-1l1.5,-0.8l1.5,-0.5" fill="none" stroke="#c4c4c4" stroke-width="0.50" opacity="0.50"/>
<path d="M194.7,72.6l1.5,0.6l1.5,0.8l1.5,-7.5l1.5,-7.8l1.5,-8.3l1.5,7.6l1.5,5.3l1.5,3.6l1.5,2.6l1.5,2.1l1.5,-0.6l1.5,-8.7l1.5,-9l1.5,-9.1l1.5,8.5l1.5,5.4l1.5,1.8l1.5,-0.3l1.5,-1.2l1.5,0.5l1.5,3.9l1.5,6l1.5,5.9l1.5,3.9l1.5,1.8l1.5,0.5l1.5,1.3l1.5,0.7l1.5,0.6l1.5,-0.1l1.5,-0.9l1.5,-1.6l1.5,-2.2l1.5,-2l1.5,-1.3l1.5,-1.3l1.5,-4.6l1.5,-5.9l1.5,-6l1.5,-4.6l1.5,-3.3l1.5,-2.7l1.5,-2.3l1.5,-3.4l1.5,-12l1.5,-14.6l1.5,-13.4l1.5,-10.4l1.5,-6.4l1.5,11.3l1.5,5.2l1.5,-2.4l1.5,-7.1l1.5,-6.1l1.5,1.8l1.5,14.3l1.5,21.3l1.5,17.8l1.5,9.6l1.5,2.7l1.5,1.7l1.5,1.3l1.5,1l1.5,3.6l1.5,3.4l1.5,1.3l1.5,-1l1.5,-1.3l1.5,-1.7l1.5,0.9l1.5,1.2l1.5,-0.7l1.5,-1.8l1.5,-1.7l1.5,0.5l1.5,3.6l1.5,4.5l1.5,4l1.5,2.8l1.5,0.7l1.5,-0.2l1.5,0.1l1.5,0.3l1.5,0.2l1.5,-0.2" fill="none" stroke="#c4c4c4" stroke-width="0.50" opacity="0.50"/>
<path d="M194.7,90.2l1.5,0l1.5,0.1l1.5,0l1.5,0.1l1.5,0l1.5,0.3l1.5,0.5l1.5,-1.7l1.5,-2.5l1.5,-2.7l1.5,-2.9l1.5,2.4l1.5,1.6l1.5,1.3l1.5,1.1l1.5,1l1.5,0.6l1.5,0.4l1.5,0.4l1.5,0.3l1.5,0.2l1.5,-0.1l1.5,-0.2l1.5,-0.1l1.5,0l1.5,0.5l1.5,0.7l1.5,0.8l1.5,0.5l1.5,0.1l1.5,-0.3l1.5,-0.4l1.5,-0.6l1.5,-0.6l1.5,-1.5l1.5,-1.3l1.5,0.3l1.5,0.1l1.5,-0.2l1.5,-0.3l1.5,-0.5l1.5,-0.1l1.5,-0.1l1.5,-0.3l1.5,-0.7l1.5,-1.1l1.5,-1.5l1.5,-1.2l1.5,-0.2l1.5,0.2l1.5,-0.6l1.5,-2.3l1.5,-3.2l1.5,-2.9l1.5,-0.5l1.5,2.1l1.5,3.4l1.5,3l1.5,1.8l1.5,0.7l1.5,-0.2l1.5,-0.9l1.5,-1.1l1.5,-0.9l1.5,0.3l1.5,1.1l1.5,1.8l1.5,1.9l1.5,1.4l1.5,0.9l1.5,0.5l1.5,0.4l1.5,0.3l1.5,0.2l1.5,0.3l1.5,0.8l1.5,1.1l1.5,0.9l1.5,0.6l1.5,0.2l1.5,-0.3l1.5,-0.7l1.5,-1l1.5,-0.9l1.5,-0.5" fill="none" stroke="#c4c4c4" stroke-width="0.50" opacity="0.50"/>
<path d="M194.7,85.2l1.5,0.2l1.5,0.3l1.5,0.4l1.5,0.3l1.5,0.2l1.5,0.4l1.5,0.8l1.5,0.8l1.5,0.7l1.5,0.3l1.5,-0.5l1.5,-1.6l1.5,-2.3l1.5,-2.3l1.5,-0.9l1.5,0l1.5,-0.4l1.5,-0.7l1.5,-0.4l1.5,0l1.5,1.2l1.5,2.5l1.5,2.5l1.5,1.8l1.5,0.6l1.5,-1.4l1.5,-4.4l1.5,-5.5l1.5,-1.8l1.5,-0.8l1.5,-0.1l1.5,1.6l1.5,1.6l1.5,0.4l1.5,-1.2l1.5,0.9l1.5,-1.3l1.5,-2.3l1.5,-2.9l1.5,-2l1.5,-0.5l1.5,0.7l1.5,1.2l1.5,0.4l1.5,-1.2l1.5,-1.7l1.5,-1.2l1.5,0.1l1.5,1.8l1.5,1.1l1.5,1.1l1.5,1.8l1.5,2.1l1.5,0.6l1.5,-0.4l1.5,-1.8l1.5,-3.2l1.5,-4.3l1.5,-1.2l1.5,0.2l1.5,1.7l1.5,2.3l1.5,2.3l1.5,1.9l1.5,1.7l1.5,1.6l1.5,2.2l1.5,2.3l1.5,1.8l1.5,1.2l1.5,1l1.5,0.9l1.5,0.9l1.5,0.5l1.5,0.5l1.5,0.3l1.5,-0.5l1.5,-1.1l1.5,-1l1.5,-0.5l1.5,-0.5l1.5,-0.8l1.5,-1l1.5,-0.9l1.5,-0.5" fill="none" stroke="#c4c4c4" stroke-width="0.50" opacity="0.50"/>
<path d="M194.7,82.3l1.5,0.2l1.5,0.4l1.5,0.4l1.5,0.3l1.5,0.2l1.5,0.9l1.5,2l1.5,2.1l1.5,1.4l1.5,0.5l1.5,0.2l1.5,0.4l1.5,0.5l1.5,0.4l1.5,0.2l1.5,-0.1l1.5,-0.5l1.5,-0.8l1.5,-0.6l1.5,-0.2l1.5,-0.3l1.5,-1.2l1.5,-1.7l1.5,-1.6l1.5,-0.6l1.5,0.3l1.5,0.6l1.5,0.8l1.5,0.6l1.5,0l1.5,0l1.5,0.7l1.5,0.9l1.5,0.6l1.5,0.1l1.5,-0.2l1.5,-0.9l1.5,-0.8l1.5,-0.8l1.5,-2l1.5,-1.9l1.5,-1.5l1.5,-1.4l1.5,0.6l1.5,-0.3l1.5,-0.8l1.5,-1.4l1.5,-1l1.5,0.2l1.5,0.5l1.5,-0.5l1.5,-2.1l1.5,-2.2l1.5,-2l1.5,-1.1l1.5,2.4l1.5,2.2l1.5,1.7l1.5,1l1.5,0.7l1.5,1l1.5,1.7l1.5,1.7l1.5,1.4l1.5,1l1.5,0.6l1.5,0l1.5,-4.3l1.5,-4.3l1.5,-4.1l1.5,-4.3l1.5,4.5l1.5,3.6l1.5,2.6l1.5,2.3l1.5,1.7l1.5,0.3l1.5,-0.5l1.5,-0.8l1.5,-0.1l1.5,0.9l1.5,1.8l1.5,2l1.5,1.3l1.5,0.5" fill="none" stroke="#c4c4c4" stroke-width="0.50" opacity="0.50"/>
<path d="M194.7,71.6l1.5,1.9l1.5,4l1.5,4.1l1.5,2.7l1.5,1l1.5,0.1l1.5,-0.1l1.5,-0.1l1.5,0l1.5,0.1l1.5,-0.4l1.5,-1.2l1.5,-1.7l1.5,-1.5l1.5,-0.5l1.5,0.9l1.5,1.8l1.5,1.9l1.5,1.3l1.5,0.6l1.5,0.2l1.5,0.2l1.5,0.2l1.5,0.2l1.5,0.2l1.5,-0.2l1.5,-0.6l1.5,-0.8l1.5,-0.7l1.5,-0.5l1.5,-0.9l1.5,-1.7l1.5,-2.3l1.5,-2.3l1.5,-1.3l1.5,0.4l1.5,0.4l1.5,1.1l1.5,0.6l1.5,-0.6l1.5,-1.9l1.5,-2.5l1.5,-3l1.5,-3.4l1.5,-3.4l1.5,-3.2l1.5,-3.8l1.5,-2.6l1.5,0.2l1.5,0.8l1.5,0.6l1.5,0.2l1.5,0.2l1.5,0.5l1.5,1.4l1.5,1.7l1.5,1.6l1.5,1.1l1.5,0.1l1.5,0.1l1.5,0.7l1.5,1.5l1.5,1.6l1.5,1.4l1.5,1.5l1.5,0.9l1.5,0.7l1.5,0.6l1.5,0.8l1.5,1.2l1.5,2.3l1.5,3.3l1.5,3l1.5,2l1.5,1l1.5,0.5l1.5,-0.2l1.5,-0.5l1.5,-0.6l1.5,-0.3l1.5,-0.7l1.5,-1.3l1.5,-1.7l1.5,-1.6l1.5,-0.8" fill="none" stroke="#c4c4c4" stroke-width="0.50" opacity="0.50"/>
<path d="M194.7,81.4l1.5,-4.1l1.5,-4l1.5,0l1.5,3.1l1.5,2.3l1.5,2.1l1.5,2.5l1.5,2.3l1.5,1.7l1.5,0.8l1.5,-0.1l1.5,-2l1.5,-2.5l1.5,-2.4l1.5,-1.8l1.5,-1.4l1.5,1.9l1.5,1.5l1.5,1.3l1.5,1l1.5,0.3l1.5,-0.9l1.5,-1.7l1.5,-1.6l1.5,-0.3l1.5,0.7l1.5,1.2l1.5,1.4l1.5,1.1l1.5,0.1l1.5,0l1.5,0.2l1.5,0.4l1.5,0.3l1.5,-0.1l1.5,-0.3l1.5,-1.1l1.5,-1.2l1.5,-1.2l1.5,-1.3l1.5,-1.6l1.5,-2l1.5,-2.3l1.5,-2.6l1.5,-2.8l1.5,-4.5l1.5,-8.7l1.5,-10.9l1.5,-7.2l1.5,-2l1.5,3.7l1.5,6.8l1.5,7.4l1.5,5.5l1.5,3l1.5,3.9l1.5,6.4l1.5,5.7l1.5,3.2l1.5,0.9l1.5,-1.8l1.5,-6.7l1.5,-12.6l1.5,-14.9l1.5,-5l1.5,7.5l1.5,13l1.5,11.3l1.5,6.8l1.5,2.7l1.5,0.9l1.5,0.5l1.5,0.3l1.5,0.2l1.5,0.5l1.5,0.1l1.5,-1.5l1.5,-2.5l1.5,-2.4l1.5,-1.3l1.5,-0.3l1.5,-0.3l1.5,-0.3l1.5,-0.2l1.5,-0.4" fill="none" stroke="#c4c4c4" stroke-width="0.50" opacity="0.50"/>
<path d="M194.7,78.1l1.5,0.1l1.5,0l1.5,0l1.5,0l1.5,-1.1l1.5,-1.2l1.5,-1.4l1.5,-1.5l1.5,1l1.5,0.9l1.5,2.2l1.5,3.8l1.5,3.6l1.5,2.5l1.5,1l1.5,-0.1l1.5,-1l1.5,-1.5l1.5,-1.3l1.5,-0.4l1.5,0.6l1.5,1l1.5,1.1l1.5,0.8l1.5,0.5l1.5,-0.3l1.5,-1l1.5,-6.9l1.5,-6.7l1.5,-7.6l1.5,-8.2l1.5,2.5l1.5,1.1l1.5,3.5l1.5,2.8l1.5,1.5l1.5,-5.6l1.5,-6.2l1.5,3.9l1.5,1.9l1.5,2.1l1.5,4.1l1.5,4.2l1.5,2.5l1.5,-0.1l1.5,-2.1l1.5,-3.5l1.5,-3.5l1.5,-1.8l1.5,-0.1l1.5,-0.9l1.5,-3.5l1.5,-4.9l1.5,-4l1.5,-0.2l1.5,2.9l1.5,4.1l1.5,3.7l1.5,1.9l1.5,0.9l1.5,1.3l1.5,2.7l1.5,3l1.5,2.3l1.5,1.7l1.5,0.9l1.5,1.2l1.5,1.2l1.5,1.1l1.5,1.1l1.5,1.1l1.5,0.9l1.5,0.6l1.5,0.4l1.5,0.4l1.5,0.4l1.5,-0.9l1.5,-1.8l1.5,-1.6l1.5,-0.9l1.5,0.3l1.5,1l1.5,1.3l1.5,1l1.5,0.2" fill="none" stroke="#c4c4c4" stroke-width="0.50" opacity="0.50"/>
<path d="M194.7,85.5l1.5,0.4l1.5,0.6l1.5,0.8l1.5,0.6l1.5,0.2l1.5,0.1l1.5,0l1.5,0l1.5,0l1.5,0l1.5,0.3l1.5,0.6l1.5,0.7l1.5,0.5l1.5,0.2l1.5,0.2l1.5,0.4l1.5,0.3l1.5,0.2l1.5,-1.2l1.5,-1.4l1.5,-1.5l1.5,-1.6l1.5,1.1l1.5,1l1.5,0.8l1.5,0.7l1.5,0.5l1.5,0.5l1.5,0.2l1.5,-0.3l1.5,-0.7l1.5,-1.2l1.5,-1.1l1.5,-0.6l1.5,-1l1.5,-3.4l1.5,-5.1l1.5,-5.6l1.5,-3.8l1.5,-0.8l1.5,1.5l1.5,2.5l1.5,1.2l1.5,-1.1l1.5,-1.8l1.5,-1l1.5,-0.9l1.5,-3.2l1.5,-3.9l1.5,-4.6l1.5,-4.9l1.5,4.7l1.5,3.9l1.5,3.6l1.5,4.5l1.5,5.5l1.5,4.8l1.5,3l1.5,1.6l1.5,0.2l1.5,-1.2l1.5,-2.1l1.5,-1.9l1.5,0l1.5,2l1.5,3.2l1.5,3.1l1.5,2.2l1.5,1.4l1.5,0.4l1.5,0.2l1.5,0l1.5,-0.4l1.5,-3.7l1.5,-3.8l1.5,-4.6l1.5,2.3l1.5,1.4l1.5,1.2l1.5,0.9l1.5,0.3l1.5,-0.1l1.5,-0.3l1.5,-0.1" fill="none" stroke="#c4c4c4" stroke-width="0.50" opacity="0.50"/>
<path d="M194.7,88.3l1.5,0.1l1.5,0.4l1.5,0.4l1.5,0.3l1.5,0.2l1.5,0l1.5,-0.3l1.5,-0.3l1.5,-0.2l1.5,-0.1l1.5,0.4l1.5,0.7l1.5,0.8l1.5,0.6l1.5,0.2l1.5,0.3l1.5,0.5l1.5,0.5l1.5,0.4l1.5,0.2l1.5,-0.3l1.5,-1.1l1.5,-1.7l1.5,-1.8l1.5,-0.6l1.5,0.2l1.5,0.7l1.5,0.8l1.5,0.5l1.5,0.1l1.5,-2.6l1.5,-3.6l1.5,-3.6l1.5,3.7l1.5,2.3l1.5,1.4l1.5,0.6l1.5,0.3l1.5,0.1l1.5,-0.2l1.5,-1.1l1.5,-2.7l1.5,-4.3l1.5,-4.9l1.5,-3.9l1.5,-2.8l1.5,-4.1l1.5,-3.8l1.5,-1.1l1.5,0.1l1.5,2.2l1.5,4l1.5,4.3l1.5,3.3l1.5,1.8l1.5,0.9l1.5,0.8l1.5,0.5l1.5,0l1.5,0.1l1.5,0.5l1.5,1.1l1.5,1.3l1.5,1l1.5,0.9l1.5,0.2l1.5,-0.4l1.5,-0.6l1.5,-0.3l1.5,0.5l1.5,1.6l1.5,2.4l1.5,2.2l1.5,1.4l1.5,0.7l1.5,0.2l1.5,-0.3l1.5,-0.7l1.5,-0.6l1.5,-0.3l1.5,-0.2l1.5,-0.3l1.5,-0.3l1.5,-0.2l1.5,-0.2" fill="none" stroke="#c4c4c4" stroke-width="0.50" opacity="0.50"/>
<path d="M194.7,88.1l1.5,0.5l1.5,1.2l1.5,1.1l1.5,0.9l1.5,0.3l1.5,-0.4l1.5,-1.2l1.5,-1.8l1.5,-1.8l1.5,-0.7l1.5,0.7l1.5,1.5l1.5,-2.1l1.5,-3.3l1.5,-4l1.5,-4.6l1.5,-4.8l1.5,3.6l1.5,2.9l1.5,2.8l1.5,2.5l1.5,2.4l1.5,2l1.5,1.6l1.5,1.2l1.5,0.6l1.5,0.1l1.5,0l1.5,-0.2l1.5,0l1.5,0.1l1.5,0.4l1.5,0.4l1.5,0.2l1.5,0.1l1.5,-0.5l1.5,-1.6l1.5,-2.8l1.5,-3l1.5,-2.1l1.5,0l1.5,2.1l1.5,2.5l1.5,1.4l1.5,-0.1l1.5,-1.6l1.5,-2.8l1.5,-3.2l1.5,-1.8l1.5,-0.4l1.5,0.3l1.5,0l1.5,0.1l1.5,0.2l1.5,0.6l1.5,1.3l1.5,1.8l1.5,1.6l1.5,0.9l1.5,0.4l1.5,0.6l1.5,1.5l1.5,1.6l1.5,1.1l1.5,0.7l1.5,0.2l1.5,-0.1l1.5,-0.1l1.5,0l1.5,0.3l1.5,0.4l1.5,0.3l1.5,0.1l1.5,0.1l1.5,0.2l1.5,0.3l1.5,0.1l1.5,-0.1l1.5,-0.1l1.5,-0.1l1.5,-0.2l1.5,-0.1l1.5,-0.2l1.5,-0.2l1.5,-0.2" fill="none" stroke="#c4c4c4" stroke-width="0.50" opacity="0.50"/>
<path d="M194.7,86.6l1.5,-0.4l1.5,-1.6l1.5,-2.3l1.5,-2l1.5,-0.8l1.5,-0.3l1.5,-1l1.5,-1.5l1.5,-1.2l1.5,-0.3l1.5,1.2l1.5,2.6l1.5,2.8l1.5,1.4l1.5,0.3l1.5,-0.1l1.5,0.4l1.5,0.4l1.5,1.3l1.5,0.8l1.5,-0.2l1.5,-1.4l1.5,-2.4l1.5,-2.2l1.5,-0.7l1.5,0.6l1.5,1.2l1.5,1.4l1.5,1l1.5,0.2l1.5,0.2l1.5,1l1.5,1.3l1.5,0.9l1.5,0.2l1.5,-0.7l1.5,-2.5l1.5,-3.3l1.5,-3.5l1.5,-2.6l1.5,-2.6l1.5,-4.3l1.5,-5.5l1.5,-6.4l1.5,-6.3l1.5,-2.9l1.5,0.7l1.5,5.3l1.5,6.1l1.5,2.9l1.5,1.5l1.5,2.4l1.5,2.7l1.5,2.8l1.5,1.8l1.5,0.7l1.5,-0.4l1.5,-1.2l1.5,-1.7l1.5,-0.4l1.5,0.2l1.5,0.1l1.5,0.1l1.5,0.2l1.5,1l1.5,1.8l1.5,-1.6l1.5,-7.5l1.5,-8.1l1.5,9.8l1.5,6.4l1.5,4.3l1.5,2.8l1.5,1.6l1.5,1.3l1.5,0.9l1.5,0.5l1.5,-0.5l1.5,-1.4l1.5,-1.9l1.5,-2.4l1.5,-0.4l1.5,-1.5l1.5,-1.7l1.5,-0.6" fill="none" stroke="#c4c4c4" stroke-width="0.50" opacity="0.50"/>
<path d="M194.7,85.3l1.5,-0.3l1.5,-1.1l1.5,-1.5l1.5,-1.3l1.5,-0.5l1.5,0.5l1.5,1.1l1.5,1.2l1.5,0.9l1.5,0.4l1.5,0.1l1.5,0l1.5,0l1.5,0l1.5,0.1l1.5,0.2l1.5,0.1l1.5,0.2l1.5,0.1l1.5,0.2l1.5,0l1.5,-0.5l1.5,-11.2l1.5,-11l1.5,8.2l1.5,5.3l1.5,3.6l1.5,2.5l1.5,1.7l1.5,0.6l1.5,-0.2l1.5,-0.8l1.5,-0.9l1.5,-1.2l1.5,-0.8l1.5,-0.1l1.5,-0.8l1.5,-0.4l1.5,-0.5l1.5,-1.1l1.5,-1.8l1.5,-2.5l1.5,-2.8l1.5,-3.2l1.5,-3.3l1.5,-2.1l1.5,-0.7l1.5,1l1.5,2.8l1.5,1.5l1.5,1.3l1.5,2.2l1.5,2.4l1.5,2l1.5,1.4l1.5,-0.3l1.5,-2.3l1.5,-4l1.5,-4.4l1.5,-1.8l1.5,0l1.5,-0.4l1.5,-0.6l1.5,-0.4l1.5,1.2l1.5,2.6l1.5,4.5l1.5,4.5l1.5,3.3l1.5,1.8l1.5,0.7l1.5,0.1l1.5,-0.8l1.5,-1.4l1.5,-0.6l1.5,1.7l1.5,1.1l1.5,0.5l1.5,0.3l1.5,0l1.5,0.1l1.5,0.6l1.5,0.7l1.5,0.5l1.5,0.1" fill="none" stroke="#c4c4c4" stroke-width="0.50" opacity="0.50"/>
<path d="M194.7,93.1l1.5,-0.3l1.5,-1.1l1.5,-1.6l1.5,-1.6l1.5,-0.7l1.5,0.6l1.5,1.2l1.5,1.3l1.5,0.9l1.5,0.4l1.5,0l1.5,-0.1l1.5,-0.2l1.5,-0.1l1.5,0l1.5,-0.1l1.5,-0.3l1.5,-0.5l1.5,-0.4l1.5,-0.1l1.5,0.1l1.5,0.2l1.5,0.1l1.5,-3.7l1.5,-3.7l1.5,3l1.5,1.8l1.5,1.1l1.5,0.6l1.5,0.2l1.5,0.3l1.5,0.4l1.5,0.4l1.5,0.4l1.5,-0.1l1.5,0.2l1.5,0.1l1.5,0.3l1.5,0.2l1.5,-0.2l1.5,-0.8l1.5,-1.8l1.5,-2.6l1.5,-3.1l1.5,-2.4l1.5,-1.9l1.5,-2.9l1.5,-3l1.5,-1.1l1.5,-0.1l1.5,1.8l1.5,3.5l1.5,3.6l1.5,2.5l1.5,1.2l1.5,0.4l1.5,-0.1l1.5,-0.5l1.5,-0.6l1.5,-0.2l1.5,0.7l1.5,1.5l1.5,1.6l1.5,1.1l1.5,0.7l1.5,0.1l1.5,-0.1l1.5,-0.3l1.5,0l1.5,0.2l1.5,0.9l1.5,1.2l1.5,1.1l1.5,0.7l1.5,0.4l1.5,-0.1l1.5,-0.5l1.5,-1l1.5,-0.9l1.5,-2.5l1.5,-6.4l1.5,-6.4l1.5,4.6l1.5,3l1.5,1.9" fill="none" stroke="#c4c4c4" stroke-width="0.50" opacity="0.50"/>
<path d="M194.7,89l1.5,-0.2l1.5,-0.6l1.5,-0.8l1.5,-0.6l1.5,-0.2l1.5,0.4l1.5,0.8l1.5,0.9l1.5,0.7l1.5,0.3l1.5,0.1l1.5,0l1.5,0l1.5,0l1.5,0.1l1.5,0.2l1.5,0.3l1.5,0.4l1.5,0.3l1.5,0.1l1.5,0.2l1.5,0.3l1.5,0.3l1.5,0.3l1.5,0.1l1.5,0l1.5,-0.1l1.5,-1.3l1.5,-1.4l1.5,-1.4l1.5,-1.9l1.5,0.3l1.5,-0.4l1.5,-0.6l1.5,-0.1l1.5,0.2l1.5,-0.7l1.5,-0.8l1.5,-0.8l1.5,-0.9l1.5,-0.3l1.5,0.7l1.5,1.1l1.5,0.6l1.5,-0.6l1.5,-1.7l1.5,-3.2l1.5,-3.4l1.5,-2.1l1.5,-0.4l1.5,1.3l1.5,2.2l1.5,2.4l1.5,1.9l1.5,1.1l1.5,1.2l1.5,1.8l1.5,1.7l1.5,1l1.5,0.4l1.5,-0.6l1.5,-2l1.5,-2.9l1.5,-2.8l1.5,-0.5l1.5,0.9l1.5,1.3l1.5,1.3l1.5,1.2l1.5,0.9l1.5,0.8l1.5,0.9l1.5,0.7l1.5,0.5l1.5,0.5l1.5,0.6l1.5,0.5l1.5,0.3l1.5,0.3l1.5,0l1.5,-0.1l1.5,0l1.5,0l1.5,0l1.5,-0.1" fill="none" stroke="#c4c4c4" stroke-width="0.50" opacity="0.50"/>
<path d="M194.7,87.5l1.5,-0.3l1.5,-0.9l1.5,-1.3l1.5,-1.1l1.5,-0.4l1.5,0.8l1.5,1.7l1.5,1.8l1.5,1.3l1.5,0.5l1.5,-0.9l1.5,-2.2l1.5,-2.5l1.5,0.4l1.5,0.6l1.5,1.3l1.5,1.8l1.5,1.8l1.5,1.2l1.5,0.6l1.5,-0.2l1.5,-1l1.5,-1.4l1.5,-1.5l1.5,-0.5l1.5,0.1l1.5,0.2l1.5,0.3l1.5,0.2l1.5,-0.2l1.5,-0.1l1.5,0.4l1.5,0.4l1.5,0.3l1.5,0l1.5,-0.5l1.5,-1.8l1.5,-5l1.5,-5.1l1.5,-4.6l1.5,-4.2l1.5,-4.1l1.5,1.4l1.5,0.5l1.5,-0.4l1.5,-0.6l1.5,-0.6l1.5,0.3l1.5,1.9l1.5,-1l1.5,-1.8l1.5,-0.9l1.5,5.6l1.5,4.2l1.5,2.9l1.5,1.1l1.5,-0.6l1.5,-1.8l1.5,-2.4l1.5,-0.7l1.5,2.1l1.5,4.5l1.5,4.3l1.5,2.8l1.5,1.3l1.5,0.4l1.5,0.2l1.5,0.2l1.5,0.3l1.5,0.5l1.5,0.4l1.5,-1.4l1.5,-2l1.5,-1.9l1.5,-1.6l1.5,1.8l1.5,0.5l1.5,-0.3l1.5,-0.5l1.5,-0.1l1.5,-0.5l1.5,0.4l1.5,0.5l1.5,-0.2l1.5,1.8" fill="none" stroke="#c4c4c4" stroke-width="0.50" opacity="0.50"/>
<path d="M194.7,86.3l1.5,0.1l1.5,-0.1l1.5,0l1.5,-0.1l1.5,0.1l1.5,0.3l1.5,0.7l1.5,0.7l1.5,0.6l1.5,0.2l1.5,-0.4l1.5,-1.2l1.5,-1.9l1.5,-1.6l1.5,-0.6l1.5,0.9l1.5,1.7l1.5,1.8l1.5,1.3l1.5,0.6l1.5,0.1l1.5,0.3l1.5,0.2l1.5,0.2l1.5,0.2l1.5,0l1.5,0.1l1.5,0.1l1.5,0.1l1.5,-0.1l1.5,-0.1l1.5,-0.1l1.5,0l1.5,-0.1l1.5,-0.1l1.5,-0.4l1.5,-1.3l1.5,-1.7l1.5,-1.6l1.5,-1.3l1.5,-0.9l1.5,-0.4l1.5,-0.3l1.5,-0.6l1.5,-1.2l1.5,-2.6l1.5,-5.1l1.5,-6.4l1.5,-4.3l1.5,-1.2l1.5,1l1.5,1.2l1.5,1.4l1.5,1.5l1.5,1.4l1.5,2.8l1.5,4.7l1.5,4.3l1.5,2.5l1.5,0.9l1.5,-1.2l1.5,-3.7l1.5,-6l1.5,-6l1.5,-1.4l1.5,1.1l1.5,-6.7l1.5,-10.8l1.5,-10.6l1.5,11.1l1.5,9.4l1.5,8.7l1.5,6.9l1.5,4.6l1.5,2.7l1.5,1.3l1.5,0.2l1.5,-0.9l1.5,0.9l1.5,0.4l1.5,1.1l1.5,0.3l1.5,-0.3l1.5,-0.3l1.5,-0.2" fill="none" stroke="#c4c4c4" stroke-width="0.50" opacity="0.50"/>
<path d="M194.7,82.1l1.5,0.4l1.5,1.1l1.5,1.2l1.5,0.9l1.5,0.7l1.5,0.2l1.5,-1l1.5,-1.8l1.5,-1.8l1.5,-1.7l1.5,2.1l1.5,2l1.5,1.9l1.5,1.4l1.5,0.8l1.5,0.7l1.5,0.8l1.5,0.7l1.5,0.5l1.5,0.4l1.5,0l1.5,-0.2l1.5,-0.3l1.5,-0.3l1.5,0.1l1.5,-0.2l1.5,-0.9l1.5,-1.4l1.5,-1.2l1.5,-1.2l1.5,0.5l1.5,0.5l1.5,0.5l1.5,0.3l1.5,0.1l1.5,0.1l1.5,-0.3l1.5,-0.1l1.5,-0.2l1.5,-0.6l1.5,-0.7l1.5,-0.5l1.5,-0.5l1.5,-0.7l1.5,-1l1.5,-1.6l1.5,-2.2l1.5,-2l1.5,-0.5l1.5,0.1l1.5,-0.1l1.5,-0.9l1.5,-1.3l1.5,-0.9l1.5,0.4l1.5,1.9l1.5,3.2l1.5,2.8l1.5,1.7l1.5,0.6l1.5,-0.2l1.5,-0.8l1.5,-1.1l1.5,-0.8l1.5,0.2l1.5,0.5l1.5,0.3l1.5,0.2l1.5,0.4l1.5,-1.7l1.5,-2.2l1.5,-2.5l1.5,-3l1.5,-13.6l1.5,-14l1.5,14.7l1.5,8.2l1.5,4.3l1.5,2.3l1.5,1.6l1.5,1.7l1.5,1.9l1.5,1.8l1.5,1.6l1.5,0.4" fill="none" stroke="#c4c4c4" stroke-width="0.50" opacity="0.50"/>
<path d="M194.7,92.8l1.5,-0.2l1.5,-0.6l1.5,-0.9l1.5,-0.8l1.5,-0.3l1.5,0.6l1.5,1.2l1.5,1.3l1.5,0.8l1.5,0.3l1.5,-0.1l1.5,-0.1l1.5,-0.3l1.5,-0.2l1.5,0l1.5,0l1.5,0l1.5,-0.1l1.5,-0.1l1.5,0l1.5,0.1l1.5,0.1l1.5,0.2l1.5,0.1l1.5,0.1l1.5,0l1.5,0.1l1.5,0.1l1.5,0.1l1.5,-0.1l1.5,-0.9l1.5,-0.9l1.5,0.5l1.5,0.2l1.5,0.1l1.5,0.1l1.5,-0.2l1.5,-0.1l1.5,-0.2l1.5,-0.3l1.5,-0.6l1.5,-0.9l1.5,-1.3l1.5,-1.3l1.5,-1.2l1.5,-1.2l1.5,-1.7l1.5,-1.6l1.5,-0.5l1.5,0.1l1.5,0.8l1.5,1.5l1.5,1.7l1.5,1.3l1.5,0.7l1.5,0.7l1.5,1.2l1.5,1.1l1.5,0.6l1.5,0.2l1.5,-0.2l1.5,-0.8l1.5,-1.2l1.5,-1.1l1.5,-0.1l1.5,0.3l1.5,-0.4l1.5,-0.3l1.5,1.3l1.5,1l1.5,0.5l1.5,0.3l1.5,0.1l1.5,0l1.5,0.2l1.5,0.5l1.5,0.8l1.5,0.5l1.5,0.4l1.5,0.1l1.5,-0.1l1.5,-0.2l1.5,-0.3l1.5,-0.2l1.5,-0.2" fill="none" stroke="#c4c4c4" stroke-width="0.50" opacity="0.50"/>
<path d="M194.7,81.9l1.5,0.6l1.5,1.3l1.5,1.4l1.5,1.1l1.5,0.4l1.5,0.3l1.5,0.5l1.5,0.5l1.5,0.5l1.5,0.2l1.5,-0.2l1.5,-0.9l1.5,-1.8l1.5,-1.6l1.5,-1l1.5,0.7l1.5,0.2l1.5,0.1l1.5,0.1l1.5,0.2l1.5,0.5l1.5,0.8l1.5,0.7l1.5,0.6l1.5,0.4l1.5,0.1l1.5,0.2l1.5,0.4l1.5,0.1l1.5,-0.1l1.5,-0.3l1.5,-0.5l1.5,-0.6l1.5,-0.5l1.5,-0.4l1.5,-0.7l1.5,-2.5l1.5,-3.3l1.5,-3.4l1.5,-2.5l1.5,-1.5l1.5,-0.8l1.5,-0.4l1.5,-1l1.5,-2.2l1.5,-2.1l1.5,-1.1l1.5,0.4l1.5,2.1l1.5,1.3l1.5,0.8l1.5,1.1l1.5,1.3l1.5,1.2l1.5,1.2l1.5,1.9l1.5,3.2l1.5,2.9l1.5,1.7l1.5,0.6l1.5,-0.6l1.5,-1.9l1.5,-2.9l1.5,-2.5l1.5,-0.3l1.5,0.6l1.5,0.2l1.5,0l1.5,0.4l1.5,0.9l1.5,1.3l1.5,1.3l1.5,1.2l1.5,0.8l1.5,0.8l1.5,0.8l1.5,-1l1.5,-1.8l1.5,-1.9l1.5,1.6l1.5,1.4l1.5,1.6l1.5,1.5l1.5,1.1l1.5,0.4" fill="none" stroke="#c4c4c4" stroke-width="0.50" opacity="0.50"/>
<path d="M194.7,85.6l1.5,-0.2l1.5,-0.6l1.5,-0.8l1.5,-0.6l1.5,-0.2l1.5,0.6l1.5,1.4l1.5,1.5l1.5,1.1l1.5,0.4l1.5,0.4l1.5,0.8l1.5,0.8l1.5,0.6l1.5,0.3l1.5,-0.2l1.5,-0.7l1.5,-1.1l1.5,-0.9l1.5,-0.3l1.5,-0.7l1.5,-0.7l1.5,-0.7l1.5,-1l1.5,1.8l1.5,0.8l1.5,-0.1l1.5,-0.6l1.5,-0.7l1.5,-0.3l1.5,0.1l1.5,0.4l1.5,0.5l1.5,0.3l1.5,0l1.5,-0.5l1.5,-1.7l1.5,-2.1l1.5,-2.1l1.5,-1.7l1.5,-0.4l1.5,1.4l1.5,2l1.5,1l1.5,-0.5l1.5,-1.1l1.5,-1l1.5,-0.3l1.5,0.8l1.5,0.5l1.5,0.1l1.5,-0.4l1.5,-0.4l1.5,-0.2l1.5,0.4l1.5,0.6l1.5,0.5l1.5,0.3l1.5,-0.2l1.5,0l1.5,0l1.5,0l1.5,-0.1l1.5,0l1.5,0.6l1.5,0.9l1.5,1.2l1.5,1.4l1.5,1.1l1.5,0.8l1.5,0.5l1.5,0.2l1.5,0.1l1.5,0.1l1.5,0.2l1.5,0.3l1.5,-0.3l1.5,-0.7l1.5,-0.6l1.5,-0.3l1.5,0.1l1.5,0.7l1.5,0.8l1.5,0.5l1.5,0.2" fill="none" stroke="#c4c4c4" stroke-width="0.50" opacity="0.50"/>
<path d="M194.7,77.3l1.5,0.1l1.5,0.1l1.5,0l1.5,0.1l1.5,0.1l1.5,0.1l1.5,-0.1l1.5,-0.1l1.5,-0.1l1.5,0.1l1.5,0.7l1.5,1.3l1.5,1.4l1.5,1.1l1.5,0.6l1.5,0l1.5,-0.4l1.5,-0.5l1.5,-0.4l1.5,0l1.5,0.3l1.5,0.1l1.5,-2l1.5,-8.2l1.5,-19.2l1.5,-19.3l1.5,3.3l1.5,12.9l1.5,9.1l1.5,6.1l1.5,4.8l1.5,4.4l1.5,3.8l1.5,2.8l1.5,2l1.5,0.1l1.5,-2.3l1.5,-3.7l1.5,-4.1l1.5,-2.8l1.5,-2.9l1.5,-5.3l1.5,-7.1l1.5,-8.2l1.5,-6.3l1.5,-3.1l1.5,0.3l1.5,3.6l1.5,5.8l1.5,2.9l1.5,0.9l1.5,0.7l1.5,0.8l1.5,1.1l1.5,1.7l1.5,3.4l1.5,5.4l1.5,4.9l1.5,2.9l1.5,1.1l1.5,0l1.5,-0.4l1.5,-0.6l1.5,-0.4l1.5,0.9l1.5,0.7l1.5,0.3l1.5,0.3l1.5,0.5l1.5,1.1l1.5,0.8l1.5,-0.3l1.5,-0.8l1.5,-0.9l1.5,0.4l1.5,2l1.5,2.1l1.5,1.9l1.5,1.3l1.5,0.3l1.5,-2l1.5,-2.2l1.5,-2.1l1.5,-2.2l1.5,-2.4" fill="none" stroke="#c4c4c4" stroke-width="0.50" opacity="0.50"/>
<path d="M194.7,78.8l1.5,0.1l1.5,-0.1l1.5,-0.1l1.5,0l1.5,0.1l1.5,0.3l1.5,0.6l1.5,0.7l1.5,0.5l1.5,0.3l1.5,-0.3l1.5,-1.3l1.5,-1.7l1.5,-1.4l1.5,-0.4l1.5,1l1.5,1.8l1.5,2l1.5,1.4l1.5,-0.1l1.5,-0.5l1.5,0.6l1.5,0.3l1.5,0.2l1.5,0.3l1.5,-0.1l1.5,-2.8l1.5,-3.8l1.5,-3.7l1.5,-3.5l1.5,1.6l1.5,0.5l1.5,-0.2l1.5,-0.5l1.5,-0.2l1.5,0.1l1.5,-1.6l1.5,-1.5l1.5,-1.6l1.5,-2l1.5,-2.6l1.5,-2.9l1.5,-3.1l1.5,-3.8l1.5,-4.2l1.5,-2l1.5,2l1.5,5.1l1.5,6l1.5,2.7l1.5,0.3l1.5,-0.6l1.5,-0.6l1.5,-0.2l1.5,0.9l1.5,-1.4l1.5,-7.4l1.5,-12.5l1.5,-14.2l1.5,-6l1.5,3.3l1.5,7.1l1.5,7.8l1.5,5.8l1.5,3.9l1.5,4.4l1.5,7.5l1.5,7.4l1.5,5.3l1.5,2.6l1.5,1.5l1.5,1.6l1.5,1.4l1.5,0.9l1.5,0.8l1.5,1.2l1.5,0.9l1.5,0.7l1.5,0.5l1.5,0l1.5,-0.6l1.5,-1l1.5,-1.4l1.5,-1.2l1.5,-0.7" fill="none" stroke="#c4c4c4" stroke-width="0.50" opacity="0.50"/>
<path d="M194.7,86.5l1.5,0.2l1.5,0.3l1.5,0.3l1.5,0.2l1.5,0.2l1.5,-0.3l1.5,-0.9l1.5,-1.2l1.5,-1.1l1.5,-0.3l1.5,0.2l1.5,0.3l1.5,0.3l1.5,0.2l1.5,-0.7l1.5,-1.1l1.5,0.1l1.5,3.9l1.5,2.6l1.5,1.3l1.5,0.5l1.5,-1.6l1.5,-1.7l1.5,-1.7l1.5,1.8l1.5,1l1.5,0.2l1.5,-0.4l1.5,-0.5l1.5,-0.3l1.5,-0.3l1.5,-0.9l1.5,-1.3l1.5,-1.2l1.5,-0.7l1.5,0.2l1.5,-0.1l1.5,0.2l1.5,0l1.5,-0.6l1.5,-0.8l1.5,-0.5l1.5,-0.2l1.5,-0.5l1.5,-1.3l1.5,-1.4l1.5,-1.4l1.5,-0.6l1.5,0.6l1.5,0.6l1.5,0.5l1.5,0.8l1.5,0.9l1.5,0.9l1.5,0.8l1.5,0.5l1.5,0.4l1.5,0.1l1.5,-0.3l1.5,0l1.5,0.2l1.5,0.4l1.5,0.4l1.5,0l1.5,-1.6l1.5,-2l1.5,-2.5l1.5,0.2l1.5,1.4l1.5,1.6l1.5,2.1l1.5,2.2l1.5,2l1.5,1.3l1.5,0.9l1.5,0.1l1.5,-1.1l1.5,-1.9l1.5,-2.1l1.5,-0.9l1.5,-0.1l1.5,0l1.5,0.1l1.5,0l1.5,-0.1" fill="none" stroke="#c4c4c4" stroke-width="0.50" opacity="0.50"/>
<path d="M194.7,89.7l1.5,0.2l1.5,0.4l1.5,0.5l1.5,0.3l1.5,0.2l1.5,0.1l1.5,0.1l1.5,0.2l1.5,0.2l1.5,0.1l1.5,0l1.5,-0.8l1.5,-0.8l1.5,-0.8l1.5,-0.8l1.5,-0.8l1.5,0.1l1.5,-1.1l1.5,-1.2l1.5,-1.2l1.5,2l1.5,1.7l1.5,1.5l1.5,1.1l1.5,0.8l1.5,0.3l1.5,-0.2l1.5,-0.5l1.5,-1.4l1.5,-1.2l1.5,-1.1l1.5,-1.3l1.5,-1.4l1.5,0.6l1.5,0.4l1.5,0.7l1.5,0.4l1.5,0.4l1.5,0.3l1.5,-0.1l1.5,-0.9l1.5,-2.6l1.5,-4.2l1.5,-4.7l1.5,-4l1.5,-2.4l1.5,1.8l1.5,0.6l1.5,0.8l1.5,-0.5l1.5,3.5l1.5,3.6l1.5,3.2l1.5,2.5l1.5,1.5l1.5,-0.3l1.5,-2.1l1.5,-2.8l1.5,-3.1l1.5,1.3l1.5,1.7l1.5,1.9l1.5,1.8l1.5,1.4l1.5,1l1.5,0.3l1.5,-0.4l1.5,-0.7l1.5,-0.5l1.5,0.3l1.5,1l1.5,1.3l1.5,1.2l1.5,0.8l1.5,0.5l1.5,0.3l1.5,0.1l1.5,-0.1l1.5,-0.2l1.5,-0.1l1.5,0.1l1.5,0.6l1.5,0.7l1.5,0.4l1.5,0.1" fill="none" stroke="#c4c4c4" stroke-width="0.50" opacity="0.50"/>
<path d="M194.7,84l1.5,-1.6l1.5,-1.2l1.5,2.4l1.5,1.8l1.5,1.2l1.5,1l1.5,1.1l1.5,1l1.5,0.8l1.5,0.5l1.5,0l1.5,-0.4l1.5,-0.6l1.5,-0.6l1.5,-0.1l1.5,0.1l1.5,0.1l1.5,0.1l1.5,0.1l1.5,0.1l1.5,0l1.5,-0.3l1.5,-0.4l1.5,-0.3l1.5,0l1.5,0.3l1.5,0.6l1.5,0.8l1.5,0.5l1.5,0.1l1.5,-0.5l1.5,-0.7l1.5,-1l1.5,-1l1.5,-0.5l1.5,-0.2l1.5,-0.9l1.5,-0.7l1.5,-0.8l1.5,-0.9l1.5,-1l1.5,-0.6l1.5,-0.5l1.5,-0.8l1.5,-1.4l1.5,-1.8l1.5,-2.2l1.5,-1.7l1.5,0l1.5,0.3l1.5,0.6l1.5,0.7l1.5,0.8l1.5,0.8l1.5,0.9l1.5,0.2l1.5,-0.8l1.5,-1.6l1.5,-1.9l1.5,-0.6l1.5,1.5l1.5,3.3l1.5,3.4l1.5,2.4l1.5,1.2l1.5,0l1.5,-0.8l1.5,-1.2l1.5,-0.8l1.5,0.3l1.5,1l1.5,1.2l1.5,-6.6l1.5,-6.9l1.5,-7.1l1.5,-6.6l1.5,-6.4l1.5,8.1l1.5,6.4l1.5,3.9l1.5,2.6l1.5,1.9l1.5,1.2l1.5,0.9l1.5,2.5" fill="none" stroke="#c4c4c4" stroke-width="0.50" opacity="0.50"/>
<path d="M194.7,91.9l1.5,-0.3l1.5,-1.1l1.5,-1.6l1.5,-1.5l1.5,-0.6l1.5,0.6l1.5,1.2l1.5,1.3l1.5,0.9l1.5,0.3l1.5,-0.1l1.5,-0.6l1.5,-2.3l1.5,-2.5l1.5,-2l1.5,-1.2l1.5,2.7l1.5,2.5l1.5,1.8l1.5,1l1.5,0.6l1.5,0.2l1.5,0.2l1.5,0.1l1.5,-0.3l1.5,-0.3l1.5,-0.6l1.5,-0.6l1.5,0.2l1.5,0.1l1.5,-0.4l1.5,-2.2l1.5,-2.2l1.5,2.4l1.5,1.4l1.5,0.8l1.5,0l1.5,-0.2l1.5,-0.2l1.5,-0.4l1.5,-1l1.5,-1.7l1.5,-2.4l1.5,-2.8l1.5,-2.3l1.5,-1.1l1.5,-0.3l1.5,0.8l1.5,1.7l1.5,0.9l1.5,0.5l1.5,0.8l1.5,-0.6l1.5,-1.3l1.5,-1.5l1.5,-1.2l1.5,3.3l1.5,2.8l1.5,1.8l1.5,1.1l1.5,0.2l1.5,-1l1.5,-1.8l1.5,-1.7l1.5,-0.1l1.5,0.9l1.5,1l1.5,1l1.5,0.9l1.5,0.8l1.5,0.9l1.5,0.7l1.5,0.7l1.5,0.5l1.5,0.1l1.5,0.2l1.5,0.1l1.5,0.5l1.5,0.4l1.5,0.1l1.5,-0.2l1.5,-0.7l1.5,-1l1.5,-0.9l1.5,-0.4" fill="none" stroke="#c4c4c4" stroke-width="0.50" opacity="0.50"/>
<path d="M194.7,87.2l1.5,-0.2l1.5,-0.9l1.5,-1.1l1.5,-1l1.5,-0.8l1.5,-0.1l1.5,0.5l1.5,0.5l1.5,1.3l1.5,0.7l1.5,0.2l1.5,-0.3l1.5,-0.4l1.5,-0.3l1.5,0l1.5,0.6l1.5,1.2l1.5,1.3l1.5,0.9l1.5,0.5l1.5,0l1.5,-0.3l1.5,-0.4l1.5,-0.2l1.5,-0.1l1.5,0.1l1.5,-2.9l1.5,-6.2l1.5,-6.3l1.5,-6.5l1.5,5l1.5,3.3l1.5,2l1.5,1.3l1.5,1l1.5,0.9l1.5,-0.7l1.5,-1.1l1.5,-1.3l1.5,-1.3l1.5,-1.5l1.5,-2.3l1.5,-1.9l1.5,-2.1l1.5,-3.7l1.5,-4.6l1.5,-1.5l1.5,-1.3l1.5,0.7l1.5,1.4l1.5,1.3l1.5,0.5l1.5,0.4l1.5,-0.6l1.5,-2l1.5,0.9l1.5,3.4l1.5,2.6l1.5,6.3l1.5,3.6l1.5,1.4l1.5,-0.5l1.5,-1.9l1.5,-1.9l1.5,0.3l1.5,0.9l1.5,-0.3l1.5,-0.7l1.5,-0.8l1.5,-6.1l1.5,-5.5l1.5,-5.6l1.5,-6l1.5,-6.4l1.5,7.6l1.5,6.7l1.5,5l1.5,3.9l1.5,3.1l1.5,1.8l1.5,1l1.5,1.1l1.5,1l1.5,1.2l1.5,2" fill="none" stroke="#c4c4c4" stroke-width="0.50" opacity="0.50"/>
<path d="M194.7,90.6l1.5,0l1.5,0l1.5,-0.2l1.5,0l1.5,0l1.5,0l1.5,0l1.5,0l1.5,-0.1l1.5,0.1l1.5,0.4l1.5,0.8l1.5,0.9l1.5,0.6l1.5,0.3l1.5,-0.3l1.5,-1l1.5,-1.8l1.5,-1.7l1.5,-1l1.5,1.5l1.5,2.3l1.5,2l1.5,1.1l1.5,0.5l1.5,-0.1l1.5,-0.6l1.5,-1l1.5,-1.1l1.5,-0.6l1.5,0.1l1.5,0.4l1.5,0.5l1.5,0.4l1.5,0.1l1.5,-0.3l1.5,-1l1.5,-1.2l1.5,-1.3l1.5,-0.9l1.5,-1l1.5,-1.7l1.5,-2.1l1.5,-2.3l1.5,-2.1l1.5,-0.6l1.5,1.1l1.5,2.2l1.5,2.4l1.5,1l1.5,0.3l1.5,0.3l1.5,0.4l1.5,0.4l1.5,0.5l1.5,0l1.5,-0.8l1.5,-1.3l1.5,-1.5l1.5,-0.6l1.5,-0.6l1.5,-1.5l1.5,-1.8l1.5,-1.5l1.5,-0.6l1.5,2.4l1.5,3.2l1.5,3l1.5,2.2l1.5,1.2l1.5,0.6l1.5,0.3l1.5,0.1l1.5,0l1.5,0.3l1.5,0.5l1.5,0.3l1.5,0.2l1.5,0.1l1.5,0l1.5,0.1l1.5,0.4l1.5,0.5l1.5,0.4l1.5,0.1" fill="none" stroke="#c4c4c4" stroke-width="0.50" opacity="0.50"/>
<path d="M194.7,89.4l1.5,-0.2l1.5,-0.6l1.5,-0.8l1.5,-0.7l1.5,-0.3l1.5,0.4l1.5,0.7l1.5,0.8l1.5,0.6l1.5,0.2l1.5,0l1.5,-0.2l1.5,-0.2l1.5,-0.2l1.5,0l1.5,0l1.5,0l1.5,-0.2l1.5,-0.1l1.5,0.1l1.5,0.2l1.5,-0.2l1.5,-1.3l1.5,-1.3l1.5,1.3l1.5,0.9l1.5,0.6l1.5,0.6l1.5,0.4l1.5,0l1.5,-0.1l1.5,0l1.5,0.2l1.5,0l1.5,-0.2l1.5,-0.3l1.5,-1.2l1.5,-1.4l1.5,-1.4l1.5,-1.5l1.5,-4.3l1.5,-5.7l1.5,-6.7l1.5,-2.2l1.5,-2l1.5,-0.7l1.5,0.4l1.5,1.7l1.5,3.1l1.5,1.7l1.5,0.8l1.5,0.6l1.5,0.6l1.5,0.7l1.5,1.1l1.5,1.9l1.5,2.7l1.5,2.5l1.5,1.4l1.5,0.6l1.5,-0.2l1.5,-0.7l1.5,-0.9l1.5,-0.8l1.5,0.4l1.5,0.9l1.5,1.2l1.5,1.3l1.5,1.2l1.5,0.9l1.5,0.4l1.5,0l1.5,-0.3l1.5,-0.4l1.5,0.3l1.5,0.6l1.5,0.1l1.5,-0.2l1.5,-0.2l1.5,-0.2l1.5,0l1.5,0.2l1.5,0.2l1.5,0.2l1.5,0" fill="none" stroke="#c4c4c4" stroke-width="0.50" opacity="0.50"/>
<path d="M194.7,82.1l1.5,0.8l1.5,1.9l1.5,2l1.5,1.4l1.5,0.5l1.5,0.1l1.5,-0.1l1.5,-0.1l1.5,0l1.5,0l1.5,0l1.5,-0.2l1.5,-0.3l1.5,-0.2l1.5,0l1.5,0.5l1.5,0.9l1.5,0.9l1.5,0.7l1.5,0.3l1.5,-0.2l1.5,-0.8l1.5,-1.1l1.5,-0.5l1.5,0l1.5,0l1.5,-0.1l1.5,-0.2l1.5,-0.2l1.5,-0.2l1.5,-0.6l1.5,-1.1l1.5,-1.4l1.5,-1.4l1.5,-0.9l1.5,-0.8l1.5,-2.4l1.5,-2.8l1.5,-2.6l1.5,-2.1l1.5,-1.3l1.5,0l1.5,0.4l1.5,-0.2l1.5,-1.8l1.5,-2.5l1.5,-2.8l1.5,-1.8l1.5,0.6l1.5,0.8l1.5,0.3l1.5,-0.4l1.5,-1.6l1.5,-1.2l1.5,-0.3l1.5,2.5l1.5,7.2l1.5,6.2l1.5,3.8l1.5,1.6l1.5,0.6l1.5,0.6l1.5,0.6l1.5,0.6l1.5,0.7l1.5,-0.1l1.5,-1.4l1.5,-2.1l1.5,-1.7l1.5,0.1l1.5,2l1.5,3.2l1.5,2.8l1.5,1.7l1.5,0.9l1.5,0.4l1.5,0.1l1.5,0l1.5,0l1.5,-0.1l1.5,-0.5l1.5,-1.1l1.5,-1.4l1.5,-1.4l1.5,-0.7" fill="none" stroke="#c4c4c4" stroke-width="0.50" opacity="0.50"/>
<path d="M194.7,94.7l1.5,0l1.5,0.1l1.5,0.1l1.5,0l1.5,0.1l1.5,-0.1l1.5,-0.1l1.5,-0.1l1.5,-0.1l1.5,-0.1l1.5,0.1l1.5,0l1.5,0l1.5,0.1l1.5,0l1.5,0.2l1.5,0.3l1.5,0.3l1.5,0.3l1.5,0.1l1.5,-0.1l1.5,-0.2l1.5,-0.3l1.5,-0.3l1.5,-0.1l1.5,0l1.5,-0.2l1.5,-0.1l1.5,-0.1l1.5,-0.2l1.5,0.1l1.5,0.2l1.5,0.2l1.5,0.2l1.5,0l1.5,-0.2l1.5,-0.7l1.5,-0.9l1.5,-1l1.5,-0.6l1.5,-0.5l1.5,-0.4l1.5,-0.3l1.5,-0.5l1.5,-0.7l1.5,-0.5l1.5,0.1l1.5,0.6l1.5,0.9l1.5,0.4l1.5,0.2l1.5,0.3l1.5,0.3l1.5,0.2l1.5,0.3l1.5,0.3l1.5,0.3l1.5,0.2l1.5,-0.9l1.5,-3.1l1.5,-3.3l1.5,-3.6l1.5,1.6l1.5,1.6l1.5,1.5l1.5,1.3l1.5,0.4l1.5,0.2l1.5,0.1l1.5,1.2l1.5,1l1.5,0.9l1.5,0.7l1.5,0.5l1.5,0.6l1.5,0.4l1.5,0.3l1.5,0.2l1.5,0.1l1.5,0.1l1.5,-0.1l1.5,-0.2l1.5,-0.3l1.5,-0.2l1.5,-0.1" fill="none" stroke="#c4c4c4" stroke-width="0.50" opacity="0.50"/>
<path d="M194.7,86.5l1.5,-0.3l1.5,-1l1.5,-1.4l1.5,-1.1l1.5,-0.4l1.5,0.4l1.5,0.9l1.5,1.1l1.5,0.8l1.5,0.3l1.5,0.3l1.5,0.5l1.5,0.5l1.5,0.4l1.5,0.3l1.5,0.6l1.5,1.2l1.5,1.2l1.5,0.9l1.5,0.4l1.5,-0.1l1.5,-0.5l1.5,-0.6l1.5,-0.6l1.5,-0.1l1.5,0.1l1.5,0.2l1.5,0.4l1.5,0.3l1.5,0l1.5,-0.6l1.5,-1.5l1.5,-2l1.5,-2.1l1.5,-1.1l1.5,-0.5l1.5,-1.9l1.5,-2.2l1.5,-2.1l1.5,-1.8l1.5,-0.6l1.5,1.5l1.5,2.1l1.5,1.1l1.5,-0.6l1.5,-2.2l1.5,-3.3l1.5,-3.3l1.5,-1.2l1.5,0l1.5,0.1l1.5,-0.6l1.5,-0.8l1.5,-0.4l1.5,0.7l1.5,1.1l1.5,0.7l1.5,0.1l1.5,-0.5l1.5,0l1.5,1.3l1.5,3l1.5,3.1l1.5,2.4l1.5,1.4l1.5,1.1l1.5,1.8l1.5,1.8l1.5,1.5l1.5,0.9l1.5,0.2l1.5,-0.2l1.5,-0.6l1.5,-0.6l1.5,0.1l1.5,0.6l1.5,0.2l1.5,-0.2l1.5,-0.2l1.5,-0.1l1.5,0.2l1.5,0.8l1.5,0.9l1.5,0.7l1.5,0.2" fill="none" stroke="#c4c4c4" stroke-width="0.50" opacity="0.50"/>
<path d="M194.7,87.4l1.5,0.4l1.5,0.7l1.5,0.8l1.5,0.6l1.5,0.2l1.5,-0.3l1.5,-1.2l1.5,-1.7l1.5,-1.5l1.5,-0.6l1.5,0.1l1.5,0.1l1.5,0l1.5,0.1l1.5,0.1l1.5,-0.3l1.5,0.2l1.5,0.4l1.5,0l1.5,1.3l1.5,0.9l1.5,0.8l1.5,0.8l1.5,0.6l1.5,0.4l1.5,0.4l1.5,0.5l1.5,0.7l1.5,0.4l1.5,0.2l1.5,-0.3l1.5,-0.4l1.5,-0.5l1.5,-0.5l1.5,-0.3l1.5,-0.2l1.5,-0.9l1.5,-1.2l1.5,-3.1l1.5,-3l1.5,-3.3l1.5,-4l1.5,-4.4l1.5,-0.7l1.5,-0.7l1.5,1l1.5,3.2l1.5,4.2l1.5,3.7l1.5,1.8l1.5,0.5l1.5,-0.1l1.5,-0.3l1.5,-0.1l1.5,0.4l1.5,0.8l1.5,0.6l1.5,0.4l1.5,0.1l1.5,-1.9l1.5,-2.1l1.5,-2.6l1.5,-2.8l1.5,1.3l1.5,1.6l1.5,1.8l1.5,1.9l1.5,1.8l1.5,1.5l1.5,1.1l1.5,0.8l1.5,0.4l1.5,0.2l1.5,0.1l1.5,0.3l1.5,0.7l1.5,0.5l1.5,0.3l1.5,0.3l1.5,0.1l1.5,-0.2l1.5,-0.5l1.5,-0.7l1.5,-0.6l1.5,-0.3" fill="none" stroke="#c4c4c4" stroke-width="0.50" opacity="0.50"/>
<path d="M194.7,80.4l1.5,-0.6l1.5,-1.7l1.5,-2.4l1.5,-2.2l1.5,-0.7l1.5,1.8l1.5,3.8l1.5,3.8l1.5,2.6l1.5,0.9l1.5,-0.2l1.5,-0.6l1.5,-0.9l1.5,-0.7l1.5,-0.2l1.5,0.7l1.5,1.2l1.5,1.3l1.5,1.1l1.5,0.4l1.5,-0.3l1.5,-1.3l1.5,-1.9l1.5,-1.7l1.5,-0.5l1.5,0.7l1.5,1.8l1.5,1.9l1.5,1.3l1.5,0.3l1.5,-0.3l1.5,-2.3l1.5,-2.7l1.5,-2.6l1.5,-2.7l1.5,-3l1.5,0.1l1.5,-0.8l1.5,-1.1l1.5,-0.8l1.5,-1.9l1.5,-4.9l1.5,-7.5l1.5,-8.8l1.5,-6.8l1.5,-2.9l1.5,-0.3l1.5,2.7l1.5,5l1.5,2.7l1.5,3.9l1.5,7.2l1.5,7.3l1.5,5.1l1.5,2.4l1.5,-0.6l1.5,-4.3l1.5,-7.2l1.5,-8.2l1.5,-3.4l1.5,2.3l1.5,4.8l1.5,5.3l1.5,3.8l1.5,2.4l1.5,0l1.5,-1.8l1.5,-2.5l1.5,-4.3l1.5,-2.6l1.5,1.5l1.5,9.9l1.5,7.6l1.5,4.3l1.5,1.7l1.5,1l1.5,-0.8l1.5,-2.2l1.5,-2.4l1.5,-1.1l1.5,-0.3l1.5,-0.5l1.5,-0.6l1.5,-0.7l1.5,-0.5" fill="none" stroke="#c4c4c4" stroke-width="0.50" opacity="0.50"/>
<path d="M195.2,75 L196.4,38.4 L198.4,75 M266.5,75 L269,5 L272,75 M290.4,75 L293.4,27.8 L297.4,75 M320.3,75 L321.5,49.3 L323.5,75 M259.5,75 L262,20 L265,75 M272.5,75 L275,22 L278,75 M282,75 L285,35 L288,75" fill="none" stroke="#d2d2d2" stroke-width="0.60" opacity="1.00" stroke-linejoin="round"/>
<polyline points="194.7,85.8 194.7,86.1 195.9,85.9 197.1,86.4 198.3,85.8 199.5,86.4 200.7,86 201.9,86.9 203.1,86.7 204.3,87.1 205.5,86.7 206.7,87 207.9,86.9 209.1,86.9 210.3,87.2 210.5,87.2 211.5,87 212.7,87.3 213.9,87.7 215.1,87.7 216.3,87.7 217.5,88.4 218.7,88 219.9,88 221.1,88.3 222.3,88.2 223.5,88.4 224.7,88.5 225.9,89.2 227.1,88.8 228.3,89 229.5,89.2 230.7,89.7 231.9,89.2 232.9,89.4 233.1,89.2 234.3,89.7 235.5,88.5 236.7,88.5 237.9,88.5 239.1,88.7 240.3,87.6 241.5,87 242.7,87.5 243.9,87 245.1,86.8 246.3,86.7 247.5,86.4 248.7,86.2 248.7,86.1 249.9,85 251.1,84.5 252.3,83.6 253.5,82.2 254.7,81.1 255,81 255.9,80.4 257.1,79.2 258.3,77.8 259.5,76.8 260,76.5 260.7,75.8 261.9,73.8 263.1,72.1 264.3,70.5 265.5,68.8 266.2,67.8 266.7,68 267.9,68.2 269.1,69.7 270.3,69.9 271.5,70.2 271.9,70.6 272.7,71.4 273.9,72.1 275.1,72.9 276.3,74 277.5,75.1 278.7,75.6 279.9,76.7 281.1,77.7 281.2,77.2 282.3,77.1 283.5,77.3 284.7,77.7 285.9,77.2 287.1,77.7 288.3,78.2 289.5,78.3 290.6,78.1 290.7,78.3 291.9,78.3 293.1,80 294.3,80.1 294.3,80 295.5,80.9 296.7,81.6 297.9,81.7 299.1,82.5 300.3,83.3 301.5,84.8 302.7,84.8 303.7,85.6 303.9,85.6 305.1,86 306.3,86.6 307.5,87 308.7,87.4 309.3,87.5 309.9,87.1 311.1,86.5 312.3,87.1 313.5,87 314.7,87.1 315.9,86.6 317.1,86.3 318.3,86.4 319.5,85.7 320.7,85.7 321.9,85.6 323.1,85.7 323.4,85.6" fill="none" stroke="#1a1a1a" stroke-width="0.80" stroke-linejoin="round" stroke-linecap="round" opacity="1.00"/>
<polyline points="194.7,84 194.7,83.8 195.9,82.5 197.1,82.3 198.3,82.1 199.2,81.6 199.5,82.3 200.7,82 201.9,81.7 203.1,82.9 204.3,82.6 205.5,83.9 206.7,83.7 207.9,84.9 209.1,84.4 210.3,84.4 210.5,84.9 211.5,84.4 212.7,85 213.9,85.4 215.1,85.8 216.3,85.6 217.5,85.3 218.7,85.9 219.9,85.3 221.1,86.2 222.3,85.8 223.5,86.8 224.7,86.8 225.9,86.6 227.1,86.2 228.3,86.9 229.5,87 230.7,86.8 231.9,86.8 232.9,87.2 233.1,87.7 234.3,87 235.5,87.4 236.7,87.8 237.9,86.6 239.1,87.9 240.3,87.6 241.5,86.9 242.7,86.8 243.9,86.7 245.1,87.6 246.3,86.2 246.4,87.2 247.5,87 248.7,86.1 249.9,85.1 250.9,84.9 251.1,84.4 252.3,82.7 253.5,81.1 254.7,79.8 255,79 255.9,77.9 257.1,77.6 258.3,76.6 259.5,75 259.9,74.8 260.7,73.8 261.9,71.4 262.5,70.6 263.1,70 264.3,69 265.5,68.4 266.7,66.4 267.9,65.1 268.1,65 269.1,65.3 270.3,65.5 271.5,65.4 272.7,66.9 273.9,66.2 275.1,66.5 275.6,66.9 276.3,67 277.5,68.3 278.7,70 279.9,70.8 281.1,70.7 282.3,71.1 283.1,71.5 283.5,71.5 284.7,70.9 285.9,71.5 287.1,71.1 288.3,71.8 289.5,70.8 290.7,70.4 291.9,69.9 292.5,70.6 293.1,70.9 294.3,73.9 295.5,75.8 296.7,77.2 297.9,79 298.1,80 299.1,79.8 300.3,79.1 300.9,79 301.5,80 302.7,81.7 303.9,83.2 304.6,84.6 305.1,83.8 306.3,84.3 307.5,84.1 308.7,83.9 309.3,83.7 309.9,84.2 311.1,84.3 312.3,83.9 313.5,84.4 314.7,83.5 315.9,84.8 316.8,84.6 317.1,84.5 318.3,84.8 319.5,84.6 320.7,83.6 321.9,83.7 322.4,83.7 323.1,82.8 324.3,79.8 324.3,80" fill="none" stroke="#b03030" stroke-width="0.95" stroke-linejoin="round" stroke-linecap="round" opacity="0.90"/>
<polyline points="194.7,70.2 194.7,70.3 195.7,64.7 196.7,58.6 197,56.9 197.7,56.1 198.7,54.8 199.2,54.6 199.7,55.9 200.4,58 200.7,57.6 201.7,54.8 202.6,52.4 202.7,53.1 203.7,56.2 204.7,59.7 204.9,60.2 205.7,63.1 206.7,66.1 207.1,68.1 207.7,68.4 208.7,68.3 209.7,68.3 210.5,68.1 210.7,67.8 211.7,69.3 212.7,71.2 212.7,71.5 213.7,73 214.7,74.9 215.7,76.4 216.1,77.1 216.7,78.3 217.7,79.5 218.7,81.5 219.5,82.7 219.7,82.7 220.7,81.6 221.7,81.8 222.7,80.7 222.8,80.4 223.7,81.1 224.7,80.9 225.7,81.2 226.2,81.6 226.7,80.8 227.7,79.6 228.7,78.5 229.6,77.1 229.7,77.5 230.7,80.3 231.7,83.2 231.8,83.8 232.7,83 233.7,83 234.7,81.6 235.2,81.6 235.7,82.4 236.7,84 237.4,84.9 237.7,83.9 238.7,82.8 239.7,81.6 240.7,78.8 240.8,79.3 241.7,80.1 242.7,81.2 243.7,81.9 244.2,82.7 244.7,82.5 245.7,81.7 246.7,80.5 247.6,80.4 247.7,80.8 248.7,82.1 249.7,83.6 250.7,85.1 250.9,84.9 251.7,79.6 252.7,72.7 253.2,69.2 253.7,65.3 254.7,59.1 255.2,55.5 255.7,53.9 256.7,51.2 257.7,48.2 257.8,48.4 258.7,44.3 259.7,40.3 260.7,36.7 261.6,32.5 261.7,32 262.7,34.2 263.7,36.8 264.4,38.1 264.7,39 265.7,40 266.7,40.5 267.2,41.8 267.7,38.6 268.7,34.9 269.7,29.8 270,28.7 270.7,31.1 271.7,35.9 272.7,40 272.8,40 273.7,43.4 274.7,47.1 275.6,50.3 275.7,50.5 276.7,50.9 277.7,50.5 278.4,50.3 278.7,49.6 279.7,46.6 280.7,42.9 281.7,40.9 282.2,39 282.7,40.2 283.7,41.7 284.7,42.5 285,43.7 285.7,46.3 286.7,50.8 287.7,53.9 287.8,54.9 288.7,57.4 289.6,60 289.7,60.9 290.7,65.2 291.5,69.7 291.7,69.6 292.7,65.7 293.4,63.1 293.7,62.7 294.7,61.5 295.7,60.3 296.2,59.4 296.7,60.3 297.7,62.3 298.7,63.3 299,64 299.7,62.5 300.7,61 301.7,58.6 301.8,58.4 302.7,62.5 303.7,68.1 304.7,73.3 305.6,77.2 305.7,77.1 306.7,77.5 307.7,78.7 308.7,79.5 309.3,80 309.7,80.2 310.7,81.4 311.7,81.2 312.7,82.7 313.7,82.5 314.7,83.3 314.9,83.7 315.7,81.8 316.7,79.3 317.7,76.5 317.7,76.2 318.7,70.9 319.6,65.9 319.7,65.5 320.7,61.1 321.5,57.5 321.7,58.4 322.7,61.5 323.4,64" fill="none" stroke="#0000ff" stroke-width="1.40" stroke-linejoin="round" stroke-linecap="round" opacity="1.00"/>
</g>
<clipPath id="cp3"><rect x="355.4" y="2.5" width="141.8" height="97.9"/></clipPath>
<g clip-path="url(#cp3)">
<path d="M361.40,92.89 C361.90,93.27 363.40,94.72 364.40,95.15 C365.40,95.57 366.40,95.53 367.40,95.45 C368.40,95.36 369.40,95.10 370.40,94.63 C371.40,94.16 372.40,93.37 373.40,92.64 C374.40,91.91 375.40,90.90 376.40,90.23 C377.40,89.55 378.40,89.06 379.40,88.58 C380.40,88.10 381.40,87.67 382.40,87.35 C383.40,87.03 384.40,86.66 385.40,86.65 C386.40,86.64 387.40,87.09 388.40,87.26 C389.40,87.43 390.40,87.79 391.40,87.67 C392.40,87.54 393.40,87.21 394.40,86.52 C395.40,85.84 396.40,84.76 397.40,83.56 C398.40,82.37 399.40,80.48 400.40,79.34 C401.40,78.20 402.40,77.16 403.40,76.71 C404.40,76.27 405.40,76.29 406.40,76.67 C407.40,77.05 408.40,78.02 409.40,79.00 C410.40,79.98 411.40,81.63 412.40,82.54 C413.40,83.44 414.40,84.24 415.40,84.41 C416.40,84.58 417.40,84.43 418.40,83.55 C419.40,82.67 420.40,80.72 421.40,79.11 C422.40,77.50 423.40,75.32 424.40,73.90 C425.40,72.47 426.40,71.27 427.40,70.56 C428.40,69.86 429.40,69.52 430.40,69.67 C431.40,69.81 432.40,70.57 433.40,71.44 C434.40,72.31 435.40,73.88 436.40,74.89 C437.40,75.91 438.40,76.82 439.40,77.51 C440.40,78.21 441.40,78.88 442.40,79.05 C443.40,79.22 444.40,78.81 445.40,78.53 C446.40,78.24 447.40,77.62 448.40,77.32 C449.40,77.02 450.40,76.72 451.40,76.70 C452.40,76.69 453.40,76.71 454.40,77.23 C455.40,77.75 456.40,78.80 457.40,79.84 C458.40,80.88 459.40,82.32 460.40,83.45 C461.40,84.59 462.40,85.64 463.40,86.65 C464.40,87.66 465.40,88.90 466.40,89.53 C467.40,90.16 468.40,90.36 469.40,90.43 C470.40,90.50 471.40,90.10 472.40,89.93 C473.40,89.77 474.40,89.50 475.40,89.42 C476.40,89.34 477.40,89.29 478.40,89.45 C479.40,89.60 480.40,89.91 481.40,90.35 C482.40,90.79 483.40,91.55 484.40,92.06 C485.40,92.58 486.40,93.04 487.40,93.43 C488.40,93.82 489.90,94.23 490.40,94.39" fill="none" stroke="#cacaca" stroke-width="0.65" opacity="0.9"/>
<path d="M361.40,91.05 C361.90,90.68 363.40,89.41 364.40,88.86 C365.40,88.30 366.40,87.85 367.40,87.72 C368.40,87.58 369.40,87.99 370.40,88.05 C371.40,88.11 372.40,88.13 373.40,88.08 C374.40,88.02 375.40,87.95 376.40,87.70 C377.40,87.45 378.40,87.26 379.40,86.59 C380.40,85.92 381.40,84.84 382.40,83.69 C383.40,82.55 384.40,80.99 385.40,79.73 C386.40,78.47 387.40,77.06 388.40,76.13 C389.40,75.19 390.40,74.18 391.40,74.13 C392.40,74.07 393.40,75.01 394.40,75.82 C395.40,76.63 396.40,77.98 397.40,78.98 C398.40,79.98 399.40,81.17 400.40,81.81 C401.40,82.46 402.40,83.14 403.40,82.85 C404.40,82.56 405.40,81.41 406.40,80.08 C407.40,78.75 408.40,76.77 409.40,74.86 C410.40,72.95 411.40,69.95 412.40,68.62 C413.40,67.28 414.40,66.79 415.40,66.86 C416.40,66.93 417.40,68.06 418.40,69.06 C419.40,70.06 420.40,71.74 421.40,72.84 C422.40,73.95 423.40,75.17 424.40,75.68 C425.40,76.19 426.40,76.42 427.40,75.89 C428.40,75.37 429.40,73.63 430.40,72.53 C431.40,71.43 432.40,70.04 433.40,69.29 C434.40,68.54 435.40,67.81 436.40,68.03 C437.40,68.25 438.40,69.36 439.40,70.62 C440.40,71.88 441.40,74.01 442.40,75.59 C443.40,77.18 444.40,78.76 445.40,80.13 C446.40,81.51 447.40,83.03 448.40,83.85 C449.40,84.67 450.40,84.96 451.40,85.03 C452.40,85.11 453.40,84.50 454.40,84.30 C455.40,84.10 456.40,83.87 457.40,83.84 C458.40,83.82 459.40,83.85 460.40,84.16 C461.40,84.46 462.40,84.95 463.40,85.67 C464.40,86.40 465.40,87.60 466.40,88.50 C467.40,89.39 468.40,90.32 469.40,91.04 C470.40,91.77 471.40,92.51 472.40,92.88 C473.40,93.24 474.40,93.39 475.40,93.24 C476.40,93.09 477.40,92.47 478.40,91.98 C479.40,91.48 480.40,90.76 481.40,90.27 C482.40,89.78 483.40,89.27 484.40,89.03 C485.40,88.79 486.40,88.70 487.40,88.83 C488.40,88.96 489.90,89.64 490.40,89.80" fill="none" stroke="#cacaca" stroke-width="0.65" opacity="0.9"/>
<path d="M361.40,79.28 C361.90,78.79 363.40,77.79 364.40,76.32 C365.40,74.85 366.40,72.25 367.40,70.48 C368.40,68.71 369.40,66.32 370.40,65.68 C371.40,65.04 372.40,65.44 373.40,66.66 C374.40,67.89 375.40,71.37 376.40,73.04 C377.40,74.71 378.40,75.71 379.40,76.68 C380.40,77.65 381.40,78.89 382.40,78.85 C383.40,78.82 384.40,78.02 385.40,76.49 C386.40,74.95 387.40,72.02 388.40,69.63 C389.40,67.23 390.40,64.42 391.40,62.09 C392.40,59.76 393.40,57.33 394.40,55.65 C395.40,53.96 396.40,52.11 397.40,51.97 C398.40,51.83 399.40,53.63 400.40,54.81 C401.40,55.99 402.40,58.51 403.40,59.07 C404.40,59.62 405.40,59.72 406.40,58.13 C407.40,56.53 408.40,53.28 409.40,49.50 C410.40,45.72 411.40,39.33 412.40,35.46 C413.40,31.59 414.40,27.65 415.40,26.29 C416.40,24.93 417.40,25.54 418.40,27.33 C419.40,29.12 420.40,33.36 421.40,37.02 C422.40,40.68 423.40,46.43 424.40,49.27 C425.40,52.11 426.40,54.41 427.40,54.07 C428.40,53.74 429.40,51.52 430.40,47.28 C431.40,43.04 432.40,34.70 433.40,28.63 C434.40,22.57 435.40,14.60 436.40,10.90 C437.40,7.20 438.40,5.92 439.40,6.41 C440.40,6.91 441.40,10.29 442.40,13.85 C443.40,17.40 444.40,23.59 445.40,27.75 C446.40,31.91 447.40,37.08 448.40,38.78 C449.40,40.48 450.40,39.86 451.40,37.96 C452.40,36.06 453.40,31.09 454.40,27.40 C455.40,23.71 456.40,18.03 457.40,15.82 C458.40,13.60 459.40,12.76 460.40,14.12 C461.40,15.47 462.40,19.82 463.40,23.97 C464.40,28.12 465.40,34.10 466.40,39.02 C467.40,43.94 468.40,49.86 469.40,53.47 C470.40,57.08 471.40,59.90 472.40,60.68 C473.40,61.46 474.40,59.37 475.40,58.15 C476.40,56.93 477.40,54.63 478.40,53.37 C479.40,52.10 480.40,50.55 481.40,50.56 C482.40,50.57 483.40,51.52 484.40,53.42 C485.40,55.33 486.40,58.98 487.40,61.99 C488.40,65.01 489.90,69.92 490.40,71.50" fill="none" stroke="#cacaca" stroke-width="0.65" opacity="0.9"/>
<path d="M361.40,78.31 C361.90,78.22 363.40,78.34 364.40,77.82 C365.40,77.30 366.40,76.22 367.40,75.18 C368.40,74.15 369.40,72.91 370.40,71.63 C371.40,70.34 372.40,69.06 373.40,67.48 C374.40,65.90 375.40,63.38 376.40,62.13 C377.40,60.89 378.40,60.39 379.40,60.01 C380.40,59.64 381.40,60.15 382.40,59.90 C383.40,59.65 384.40,59.36 385.40,58.51 C386.40,57.66 387.40,56.54 388.40,54.81 C389.40,53.08 390.40,50.06 391.40,48.11 C392.40,46.15 393.40,43.93 394.40,43.09 C395.40,42.26 396.40,42.44 397.40,43.10 C398.40,43.76 399.40,45.48 400.40,47.06 C401.40,48.64 402.40,51.34 403.40,52.59 C404.40,53.84 405.40,55.03 406.40,54.55 C407.40,54.07 408.40,52.33 409.40,49.72 C410.40,47.11 411.40,42.39 412.40,38.88 C413.40,35.37 414.40,30.54 415.40,28.65 C416.40,26.76 417.40,27.08 418.40,27.56 C419.40,28.04 420.40,29.86 421.40,31.53 C422.40,33.20 423.40,36.03 424.40,37.59 C425.40,39.15 426.40,40.83 427.40,40.88 C428.40,40.93 429.40,39.49 430.40,37.89 C431.40,36.28 432.40,32.83 433.40,31.25 C434.40,29.66 435.40,28.26 436.40,28.38 C437.40,28.49 438.40,29.82 439.40,31.93 C440.40,34.04 441.40,37.92 442.40,41.03 C443.40,44.15 444.40,47.88 445.40,50.61 C446.40,53.33 447.40,55.83 448.40,57.38 C449.40,58.94 450.40,59.89 451.40,59.95 C452.40,60.01 453.40,58.17 454.40,57.72 C455.40,57.27 456.40,56.91 457.40,57.25 C458.40,57.59 459.40,58.48 460.40,59.76 C461.40,61.04 462.40,63.02 463.40,64.94 C464.40,66.87 465.40,69.42 466.40,71.32 C467.40,73.23 468.40,75.26 469.40,76.36 C470.40,77.46 471.40,77.76 472.40,77.94 C473.40,78.12 474.40,78.05 475.40,77.41 C476.40,76.77 477.40,75.04 478.40,74.11 C479.40,73.19 480.40,72.13 481.40,71.85 C482.40,71.57 483.40,71.95 484.40,72.43 C485.40,72.92 486.40,73.97 487.40,74.75 C488.40,75.54 489.90,76.73 490.40,77.13" fill="none" stroke="#cacaca" stroke-width="0.65" opacity="0.9"/>
<path d="M361.40,56.20 C361.90,55.94 363.40,54.18 364.40,54.61 C365.40,55.04 366.40,56.89 367.40,58.79 C368.40,60.69 369.40,64.28 370.40,66.01 C371.40,67.73 372.40,69.74 373.40,69.14 C374.40,68.54 375.40,65.93 376.40,62.43 C377.40,58.93 378.40,53.45 379.40,48.12 C380.40,42.80 381.40,35.71 382.40,30.50 C383.40,25.29 384.40,19.37 385.40,16.88 C386.40,14.38 387.40,14.37 388.40,15.55 C389.40,16.73 390.40,20.30 391.40,23.96 C392.40,27.62 393.40,33.75 394.40,37.50 C395.40,41.24 396.40,45.32 397.40,46.43 C398.40,47.53 399.40,46.39 400.40,44.13 C401.40,41.88 402.40,37.37 403.40,32.89 C404.40,28.40 405.40,22.28 406.40,17.21 C407.40,12.15 408.40,6.07 409.40,2.50 C410.40,-1.08 411.40,-4.48 412.40,-4.23 C413.40,-3.98 414.40,-0.48 415.40,3.99 C416.40,8.47 417.40,17.85 418.40,22.62 C419.40,27.39 420.40,31.68 421.40,32.60 C422.40,33.52 423.40,31.72 424.40,28.12 C425.40,24.52 426.40,17.52 427.40,11.00 C428.40,4.48 429.40,-5.37 430.40,-11.02 C431.40,-16.66 432.40,-22.61 433.40,-22.86 C434.40,-23.11 435.40,-18.27 436.40,-12.54 C437.40,-6.81 438.40,3.57 439.40,11.54 C440.40,19.51 441.40,29.28 442.40,35.28 C443.40,41.28 444.40,45.57 445.40,47.52 C446.40,49.47 447.40,48.47 448.40,46.95 C449.40,45.44 450.40,41.64 451.40,38.42 C452.40,35.20 453.40,29.41 454.40,27.63 C455.40,25.86 456.40,26.03 457.40,27.77 C458.40,29.51 459.40,33.89 460.40,38.07 C461.40,42.26 462.40,48.21 463.40,52.87 C464.40,57.53 465.40,62.72 466.40,66.03 C467.40,69.34 468.40,71.84 469.40,72.74 C470.40,73.65 471.40,72.58 472.40,71.46 C473.40,70.33 474.40,68.29 475.40,65.98 C476.40,63.67 477.40,59.73 478.40,57.62 C479.40,55.50 480.40,53.54 481.40,53.28 C482.40,53.03 483.40,54.43 484.40,56.11 C485.40,57.79 486.40,60.93 487.40,63.37 C488.40,65.81 489.90,69.52 490.40,70.75" fill="none" stroke="#cacaca" stroke-width="0.65" opacity="0.9"/>
<path d="M361.40,93.48 C361.90,93.42 363.40,93.17 364.40,93.10 C365.40,93.03 366.40,93.03 367.40,93.06 C368.40,93.09 369.40,93.17 370.40,93.28 C371.40,93.38 372.40,93.53 373.40,93.68 C374.40,93.83 375.40,94.14 376.40,94.17 C377.40,94.20 378.40,94.14 379.40,93.86 C380.40,93.57 381.40,92.98 382.40,92.44 C383.40,91.90 384.40,91.32 385.40,90.63 C386.40,89.95 387.40,89.16 388.40,88.33 C389.40,87.51 390.40,86.55 391.40,85.70 C392.40,84.85 393.40,84.04 394.40,83.22 C395.40,82.40 396.40,81.39 397.40,80.79 C398.40,80.18 399.40,79.83 400.40,79.61 C401.40,79.39 402.40,79.40 403.40,79.49 C404.40,79.57 405.40,79.79 406.40,80.10 C407.40,80.42 408.40,81.07 409.40,81.39 C410.40,81.71 411.40,81.89 412.40,82.01 C413.40,82.13 414.40,82.18 415.40,82.10 C416.40,82.02 417.40,81.55 418.40,81.52 C419.40,81.49 420.40,81.67 421.40,81.90 C422.40,82.12 423.40,82.69 424.40,82.86 C425.40,83.03 426.40,83.09 427.40,82.94 C428.40,82.79 429.40,82.45 430.40,81.95 C431.40,81.46 432.40,80.84 433.40,79.98 C434.40,79.12 435.40,77.70 436.40,76.79 C437.40,75.89 438.40,74.99 439.40,74.53 C440.40,74.07 441.40,73.86 442.40,74.05 C443.40,74.24 444.40,74.98 445.40,75.67 C446.40,76.37 447.40,77.42 448.40,78.24 C449.40,79.07 450.40,79.80 451.40,80.62 C452.40,81.44 453.40,82.35 454.40,83.16 C455.40,83.97 456.40,84.79 457.40,85.48 C458.40,86.17 459.40,86.57 460.40,87.32 C461.40,88.07 462.40,89.18 463.40,89.98 C464.40,90.78 465.40,91.52 466.40,92.12 C467.40,92.71 468.40,93.15 469.40,93.54 C470.40,93.92 471.40,94.24 472.40,94.43 C473.40,94.61 474.40,94.67 475.40,94.65 C476.40,94.64 477.40,94.48 478.40,94.33 C479.40,94.19 480.40,94.06 481.40,93.78 C482.40,93.50 483.40,92.97 484.40,92.63 C485.40,92.29 486.40,91.96 487.40,91.76 C488.40,91.56 489.90,91.47 490.40,91.42" fill="none" stroke="#cacaca" stroke-width="0.65" opacity="0.9"/>
<path d="M361.40,83.24 C361.90,83.02 363.40,82.18 364.40,81.97 C365.40,81.75 366.40,81.90 367.40,81.95 C368.40,82.00 369.40,82.45 370.40,82.29 C371.40,82.13 372.40,81.30 373.40,80.99 C374.40,80.68 375.40,80.53 376.40,80.41 C377.40,80.29 378.40,80.40 379.40,80.29 C380.40,80.18 381.40,79.95 382.40,79.75 C383.40,79.56 384.40,79.53 385.40,79.11 C386.40,78.68 387.40,77.95 388.40,77.21 C389.40,76.47 390.40,75.49 391.40,74.67 C392.40,73.85 393.40,73.12 394.40,72.29 C395.40,71.46 396.40,70.49 397.40,69.69 C398.40,68.90 399.40,68.25 400.40,67.52 C401.40,66.79 402.40,66.29 403.40,65.29 C404.40,64.29 405.40,62.79 406.40,61.53 C407.40,60.27 408.40,58.67 409.40,57.73 C410.40,56.79 411.40,55.60 412.40,55.88 C413.40,56.17 414.40,58.18 415.40,59.45 C416.40,60.72 417.40,62.20 418.40,63.49 C419.40,64.77 420.40,66.19 421.40,67.18 C422.40,68.16 423.40,68.97 424.40,69.38 C425.40,69.79 426.40,69.80 427.40,69.63 C428.40,69.47 429.40,68.64 430.40,68.38 C431.40,68.12 432.40,68.16 433.40,68.06 C434.40,67.96 435.40,67.81 436.40,67.80 C437.40,67.79 438.40,67.96 439.40,68.00 C440.40,68.05 441.40,68.08 442.40,68.09 C443.40,68.09 444.40,67.92 445.40,68.05 C446.40,68.19 447.40,68.67 448.40,68.91 C449.40,69.16 450.40,68.89 451.40,69.53 C452.40,70.16 453.40,71.43 454.40,72.71 C455.40,73.99 456.40,75.72 457.40,77.21 C458.40,78.70 459.40,80.26 460.40,81.66 C461.40,83.06 462.40,84.41 463.40,85.59 C464.40,86.76 465.40,87.93 466.40,88.72 C467.40,89.50 468.40,89.88 469.40,90.29 C470.40,90.70 471.40,91.15 472.40,91.17 C473.40,91.19 474.40,90.78 475.40,90.42 C476.40,90.06 477.40,89.47 478.40,88.98 C479.40,88.50 480.40,88.02 481.40,87.50 C482.40,86.99 483.40,86.40 484.40,85.89 C485.40,85.37 486.40,84.84 487.40,84.43 C488.40,84.01 489.90,83.57 490.40,83.40" fill="none" stroke="#cacaca" stroke-width="0.65" opacity="0.9"/>
<path d="M361.40,88.17 C361.90,87.85 363.40,86.86 364.40,86.22 C365.40,85.58 366.40,84.79 367.40,84.34 C368.40,83.88 369.40,83.32 370.40,83.47 C371.40,83.62 372.40,84.56 373.40,85.24 C374.40,85.92 375.40,87.04 376.40,87.57 C377.40,88.10 378.40,88.23 379.40,88.43 C380.40,88.63 381.40,88.88 382.40,88.78 C383.40,88.68 384.40,88.35 385.40,87.81 C386.40,87.27 387.40,86.41 388.40,85.55 C389.40,84.69 390.40,83.89 391.40,82.67 C392.40,81.45 393.40,79.67 394.40,78.24 C395.40,76.80 396.40,75.01 397.40,74.05 C398.40,73.08 399.40,72.65 400.40,72.46 C401.40,72.27 402.40,72.57 403.40,72.89 C404.40,73.21 405.40,74.05 406.40,74.36 C407.40,74.68 408.40,75.09 409.40,74.77 C410.40,74.45 411.40,73.36 412.40,72.45 C413.40,71.54 414.40,70.42 415.40,69.31 C416.40,68.19 417.40,66.69 418.40,65.75 C419.40,64.81 420.40,63.92 421.40,63.68 C422.40,63.44 423.40,64.12 424.40,64.31 C425.40,64.50 426.40,64.55 427.40,64.82 C428.40,65.09 429.40,65.75 430.40,65.91 C431.40,66.08 432.40,65.80 433.40,65.82 C434.40,65.85 435.40,66.34 436.40,66.04 C437.40,65.73 438.40,65.06 439.40,63.99 C440.40,62.93 441.40,61.21 442.40,59.64 C443.40,58.08 444.40,56.02 445.40,54.61 C446.40,53.21 447.40,51.96 448.40,51.21 C449.40,50.47 450.40,49.46 451.40,50.13 C452.40,50.80 453.40,53.14 454.40,55.22 C455.40,57.31 456.40,60.27 457.40,62.63 C458.40,65.00 459.40,67.70 460.40,69.42 C461.40,71.13 462.40,72.42 463.40,72.91 C464.40,73.40 465.40,72.70 466.40,72.35 C467.40,71.99 468.40,71.32 469.40,70.76 C470.40,70.20 471.40,69.24 472.40,69.00 C473.40,68.76 474.40,68.53 475.40,69.31 C476.40,70.10 477.40,72.06 478.40,73.71 C479.40,75.37 480.40,77.53 481.40,79.23 C482.40,80.93 483.40,82.60 484.40,83.91 C485.40,85.21 486.40,86.43 487.40,87.06 C488.40,87.69 489.90,87.57 490.40,87.67" fill="none" stroke="#cacaca" stroke-width="0.65" opacity="0.9"/>
<path d="M361.40,95.13 C361.90,95.14 363.40,95.14 364.40,95.19 C365.40,95.24 366.40,95.27 367.40,95.44 C368.40,95.60 369.40,96.03 370.40,96.17 C371.40,96.32 372.40,96.45 373.40,96.31 C374.40,96.16 375.40,95.75 376.40,95.29 C377.40,94.84 378.40,94.26 379.40,93.56 C380.40,92.87 381.40,91.78 382.40,91.13 C383.40,90.49 384.40,89.87 385.40,89.68 C386.40,89.50 387.40,89.87 388.40,90.02 C389.40,90.17 390.40,90.61 391.40,90.58 C392.40,90.56 393.40,90.43 394.40,89.88 C395.40,89.34 396.40,88.28 397.40,87.31 C398.40,86.35 399.40,84.74 400.40,84.10 C401.40,83.46 402.40,83.29 403.40,83.47 C404.40,83.64 405.40,84.40 406.40,85.14 C407.40,85.87 408.40,87.14 409.40,87.87 C410.40,88.61 411.40,89.58 412.40,89.56 C413.40,89.54 414.40,88.77 415.40,87.77 C416.40,86.78 417.40,85.08 418.40,83.60 C419.40,82.12 420.40,79.74 421.40,78.90 C422.40,78.07 423.40,78.17 424.40,78.58 C425.40,79.00 426.40,80.42 427.40,81.39 C428.40,82.37 429.40,83.85 430.40,84.45 C431.40,85.05 432.40,85.33 433.40,85.00 C434.40,84.67 435.40,83.60 436.40,82.47 C437.40,81.33 438.40,79.07 439.40,78.18 C440.40,77.29 441.40,76.84 442.40,77.13 C443.40,77.42 444.40,78.61 445.40,79.90 C446.40,81.20 447.40,83.44 448.40,84.90 C449.40,86.35 450.40,87.93 451.40,88.66 C452.40,89.38 453.40,89.33 454.40,89.25 C455.40,89.18 456.40,88.62 457.40,88.21 C458.40,87.80 459.40,86.96 460.40,86.80 C461.40,86.64 462.40,86.68 463.40,87.24 C464.40,87.81 465.40,89.18 466.40,90.19 C467.40,91.20 468.40,92.50 469.40,93.29 C470.40,94.09 471.40,94.64 472.40,94.96 C473.40,95.27 474.40,95.28 475.40,95.17 C476.40,95.07 477.40,94.54 478.40,94.34 C479.40,94.14 480.40,93.96 481.40,93.97 C482.40,93.98 483.40,94.15 484.40,94.38 C485.40,94.61 486.40,95.01 487.40,95.34 C488.40,95.67 489.90,96.20 490.40,96.37" fill="none" stroke="#cacaca" stroke-width="0.65" opacity="0.9"/>
<path d="M361.40,84.80 C361.90,84.55 363.40,83.69 364.40,83.29 C365.40,82.89 366.40,82.34 367.40,82.41 C368.40,82.47 369.40,83.45 370.40,83.69 C371.40,83.94 372.40,83.88 373.40,83.88 C374.40,83.87 375.40,83.65 376.40,83.67 C377.40,83.70 378.40,83.88 379.40,84.04 C380.40,84.19 381.40,84.38 382.40,84.58 C383.40,84.78 384.40,85.12 385.40,85.22 C386.40,85.32 387.40,85.76 388.40,85.19 C389.40,84.63 390.40,83.13 391.40,81.82 C392.40,80.51 393.40,78.91 394.40,77.31 C395.40,75.72 396.40,74.01 397.40,72.24 C398.40,70.47 399.40,68.29 400.40,66.69 C401.40,65.09 402.40,63.79 403.40,62.66 C404.40,61.54 405.40,60.47 406.40,59.91 C407.40,59.36 408.40,58.99 409.40,59.32 C410.40,59.65 411.40,60.91 412.40,61.91 C413.40,62.90 414.40,64.15 415.40,65.30 C416.40,66.46 417.40,67.84 418.40,68.82 C419.40,69.81 420.40,71.05 421.40,71.21 C422.40,71.37 423.40,70.69 424.40,69.78 C425.40,68.87 426.40,67.50 427.40,65.77 C428.40,64.03 429.40,60.99 430.40,59.37 C431.40,57.76 432.40,57.20 433.40,56.07 C434.40,54.95 435.40,53.65 436.40,52.65 C437.40,51.65 438.40,50.85 439.40,50.06 C440.40,49.26 441.40,48.44 442.40,47.90 C443.40,47.37 444.40,46.97 445.40,46.83 C446.40,46.70 447.40,46.04 448.40,47.09 C449.40,48.13 450.40,50.94 451.40,53.11 C452.40,55.28 453.40,57.83 454.40,60.12 C455.40,62.40 456.40,64.96 457.40,66.82 C458.40,68.68 459.40,70.26 460.40,71.28 C461.40,72.29 462.40,72.58 463.40,72.91 C464.40,73.24 465.40,73.49 466.40,73.25 C467.40,73.01 468.40,71.85 469.40,71.44 C470.40,71.04 471.40,70.72 472.40,70.81 C473.40,70.89 474.40,71.40 475.40,71.96 C476.40,72.51 477.40,73.28 478.40,74.14 C479.40,74.99 480.40,75.97 481.40,77.06 C482.40,78.15 483.40,79.66 484.40,80.68 C485.40,81.70 486.40,82.36 487.40,83.20 C488.40,84.04 489.90,85.30 490.40,85.72" fill="none" stroke="#cacaca" stroke-width="0.65" opacity="0.9"/>
<path d="M361.40,84.82 C361.90,84.77 363.40,84.75 364.40,84.56 C365.40,84.37 366.40,84.34 367.40,83.66 C368.40,82.98 369.40,81.43 370.40,80.46 C371.40,79.49 372.40,78.52 373.40,77.85 C374.40,77.17 375.40,76.62 376.40,76.42 C377.40,76.21 378.40,76.34 379.40,76.62 C380.40,76.90 381.40,77.87 382.40,78.10 C383.40,78.33 384.40,78.29 385.40,77.98 C386.40,77.67 387.40,76.98 388.40,76.23 C389.40,75.48 390.40,74.71 391.40,73.48 C392.40,72.25 393.40,70.59 394.40,68.85 C395.40,67.12 396.40,64.99 397.40,63.07 C398.40,61.15 399.40,59.11 400.40,57.33 C401.40,55.55 402.40,53.31 403.40,52.40 C404.40,51.49 405.40,51.59 406.40,51.89 C407.40,52.18 408.40,53.12 409.40,54.19 C410.40,55.26 411.40,56.85 412.40,58.30 C413.40,59.76 414.40,61.95 415.40,62.91 C416.40,63.86 417.40,64.19 418.40,64.03 C419.40,63.87 420.40,63.34 421.40,61.97 C422.40,60.59 423.40,57.77 424.40,55.80 C425.40,53.83 426.40,51.86 427.40,50.14 C428.40,48.41 429.40,46.87 430.40,45.45 C431.40,44.04 432.40,42.68 433.40,41.67 C434.40,40.66 435.40,39.78 436.40,39.40 C437.40,39.02 438.40,39.20 439.40,39.39 C440.40,39.59 441.40,39.38 442.40,40.56 C443.40,41.75 444.40,44.31 445.40,46.50 C446.40,48.69 447.40,51.42 448.40,53.73 C449.40,56.03 450.40,58.61 451.40,60.33 C452.40,62.05 453.40,63.44 454.40,64.05 C455.40,64.66 456.40,64.18 457.40,63.98 C458.40,63.79 459.40,63.37 460.40,62.90 C461.40,62.43 462.40,61.54 463.40,61.15 C464.40,60.77 465.40,60.04 466.40,60.58 C467.40,61.13 468.40,62.88 469.40,64.43 C470.40,65.98 471.40,68.06 472.40,69.89 C473.40,71.72 474.40,73.66 475.40,75.43 C476.40,77.19 477.40,79.15 478.40,80.48 C479.40,81.81 480.40,82.73 481.40,83.40 C482.40,84.07 483.40,84.42 484.40,84.48 C485.40,84.54 486.40,84.30 487.40,83.76 C488.40,83.21 489.90,81.63 490.40,81.21" fill="none" stroke="#cacaca" stroke-width="0.65" opacity="0.9"/>
<path d="M361.40,92.78 C361.90,92.66 363.40,92.74 364.40,92.06 C365.40,91.37 366.40,89.75 367.40,88.65 C368.40,87.56 369.40,86.05 370.40,85.49 C371.40,84.93 372.40,84.75 373.40,85.29 C374.40,85.84 375.40,87.46 376.40,88.77 C377.40,90.08 378.40,92.37 379.40,93.16 C380.40,93.96 381.40,93.98 382.40,93.54 C383.40,93.11 384.40,91.84 385.40,90.56 C386.40,89.27 387.40,87.13 388.40,85.83 C389.40,84.53 390.40,83.08 391.40,82.75 C392.40,82.42 393.40,83.15 394.40,83.83 C395.40,84.52 396.40,86.18 397.40,86.88 C398.40,87.57 399.40,88.30 400.40,88.02 C401.40,87.73 402.40,86.87 403.40,85.15 C404.40,83.43 405.40,80.26 406.40,77.70 C407.40,75.14 408.40,71.48 409.40,69.80 C410.40,68.13 411.40,67.33 412.40,67.64 C413.40,67.95 414.40,69.86 415.40,71.66 C416.40,73.45 417.40,76.83 418.40,78.40 C419.40,79.97 420.40,81.30 421.40,81.09 C422.40,80.89 423.40,78.93 424.40,77.16 C425.40,75.39 426.40,72.40 427.40,70.47 C428.40,68.55 429.40,66.41 430.40,65.61 C431.40,64.81 432.40,64.96 433.40,65.67 C434.40,66.37 435.40,68.39 436.40,69.85 C437.40,71.31 438.40,73.83 439.40,74.43 C440.40,75.03 441.40,74.91 442.40,73.45 C443.40,71.98 444.40,68.28 445.40,65.65 C446.40,63.02 447.40,59.30 448.40,57.68 C449.40,56.07 450.40,55.37 451.40,55.95 C452.40,56.53 453.40,58.83 454.40,61.17 C455.40,63.50 456.40,67.69 457.40,69.95 C458.40,72.20 459.40,74.30 460.40,74.69 C461.40,75.08 462.40,73.47 463.40,72.30 C464.40,71.12 465.40,68.63 466.40,67.62 C467.40,66.62 468.40,65.71 469.40,66.26 C470.40,66.81 471.40,68.82 472.40,70.90 C473.40,72.98 474.40,76.55 475.40,78.74 C476.40,80.93 477.40,82.99 478.40,84.04 C479.40,85.09 480.40,85.36 481.40,85.06 C482.40,84.76 483.40,83.11 484.40,82.26 C485.40,81.42 486.40,80.10 487.40,79.99 C488.40,79.89 489.90,81.36 490.40,81.63" fill="none" stroke="#cacaca" stroke-width="0.65" opacity="0.9"/>
<path d="M361.40,83.22 C361.90,82.96 363.40,82.26 364.40,81.65 C365.40,81.04 366.40,80.29 367.40,79.55 C368.40,78.80 369.40,77.94 370.40,77.19 C371.40,76.44 372.40,76.03 373.40,75.05 C374.40,74.07 375.40,72.86 376.40,71.31 C377.40,69.76 378.40,67.43 379.40,65.74 C380.40,64.06 381.40,62.52 382.40,61.21 C383.40,59.90 384.40,58.73 385.40,57.88 C386.40,57.02 387.40,56.39 388.40,56.09 C389.40,55.79 390.40,56.04 391.40,56.09 C392.40,56.14 393.40,56.03 394.40,56.38 C395.40,56.73 396.40,57.62 397.40,58.21 C398.40,58.80 399.40,59.51 400.40,59.91 C401.40,60.31 402.40,60.54 403.40,60.62 C404.40,60.69 405.40,60.97 406.40,60.34 C407.40,59.72 408.40,58.46 409.40,56.86 C410.40,55.26 411.40,53.21 412.40,50.76 C413.40,48.30 414.40,44.45 415.40,42.14 C416.40,39.84 417.40,37.91 418.40,36.92 C419.40,35.93 420.40,36.20 421.40,36.18 C422.40,36.15 423.40,36.47 424.40,36.76 C425.40,37.06 426.40,37.50 427.40,37.94 C428.40,38.39 429.40,39.14 430.40,39.43 C431.40,39.72 432.40,39.18 433.40,39.70 C434.40,40.23 435.40,41.32 436.40,42.58 C437.40,43.85 438.40,45.54 439.40,47.29 C440.40,49.05 441.40,51.38 442.40,53.11 C443.40,54.84 444.40,56.59 445.40,57.68 C446.40,58.77 447.40,59.16 448.40,59.63 C449.40,60.11 450.40,60.40 451.40,60.52 C452.40,60.64 453.40,60.53 454.40,60.35 C455.40,60.18 456.40,59.17 457.40,59.45 C458.40,59.74 459.40,61.04 460.40,62.06 C461.40,63.08 462.40,64.36 463.40,65.58 C464.40,66.80 465.40,68.06 466.40,69.39 C467.40,70.71 468.40,72.29 469.40,73.55 C470.40,74.80 471.40,75.95 472.40,76.91 C473.40,77.88 474.40,78.65 475.40,79.35 C476.40,80.05 477.40,80.79 478.40,81.10 C479.40,81.40 480.40,81.18 481.40,81.16 C482.40,81.14 483.40,81.06 484.40,80.97 C485.40,80.87 486.40,80.80 487.40,80.59 C488.40,80.38 489.90,79.85 490.40,79.71" fill="none" stroke="#cacaca" stroke-width="0.65" opacity="0.9"/>
<path d="M361.40,89.09 C361.90,89.21 363.40,89.54 364.40,89.80 C365.40,90.06 366.40,90.38 367.40,90.64 C368.40,90.90 369.40,91.17 370.40,91.35 C371.40,91.53 372.40,91.56 373.40,91.72 C374.40,91.87 375.40,92.15 376.40,92.28 C377.40,92.40 378.40,92.71 379.40,92.48 C380.40,92.26 381.40,91.46 382.40,90.93 C383.40,90.39 384.40,89.79 385.40,89.26 C386.40,88.73 387.40,88.16 388.40,87.76 C389.40,87.35 390.40,87.00 391.40,86.81 C392.40,86.62 393.40,86.80 394.40,86.62 C395.40,86.45 396.40,86.14 397.40,85.75 C398.40,85.37 399.40,84.73 400.40,84.32 C401.40,83.92 402.40,83.68 403.40,83.31 C404.40,82.95 405.40,82.58 406.40,82.13 C407.40,81.67 408.40,81.17 409.40,80.60 C410.40,80.03 411.40,79.44 412.40,78.69 C413.40,77.93 414.40,76.79 415.40,76.08 C416.40,75.38 417.40,74.89 418.40,74.47 C419.40,74.04 420.40,73.71 421.40,73.52 C422.40,73.34 423.40,73.27 424.40,73.38 C425.40,73.49 426.40,74.07 427.40,74.17 C428.40,74.26 429.40,74.10 430.40,73.95 C431.40,73.79 432.40,73.62 433.40,73.25 C434.40,72.89 435.40,71.98 436.40,71.74 C437.40,71.50 438.40,71.72 439.40,71.81 C440.40,71.90 441.40,72.33 442.40,72.31 C443.40,72.29 444.40,72.10 445.40,71.69 C446.40,71.27 447.40,70.56 448.40,69.81 C449.40,69.05 450.40,68.18 451.40,67.16 C452.40,66.14 453.40,64.38 454.40,63.67 C455.40,62.97 456.40,62.72 457.40,62.94 C458.40,63.16 459.40,63.88 460.40,64.99 C461.40,66.10 462.40,68.00 463.40,69.60 C464.40,71.19 465.40,73.13 466.40,74.55 C467.40,75.97 468.40,77.05 469.40,78.09 C470.40,79.14 471.40,80.15 472.40,80.82 C473.40,81.50 474.40,81.88 475.40,82.13 C476.40,82.38 477.40,82.13 478.40,82.32 C479.40,82.50 480.40,82.96 481.40,83.26 C482.40,83.56 483.40,83.83 484.40,84.12 C485.40,84.40 486.40,84.62 487.40,84.98 C488.40,85.35 489.90,86.10 490.40,86.32" fill="none" stroke="#cacaca" stroke-width="0.65" opacity="0.9"/>
<path d="M361.40,82.34 C361.90,82.07 363.40,81.16 364.40,80.70 C365.40,80.25 366.40,79.88 367.40,79.61 C368.40,79.33 369.40,79.08 370.40,79.07 C371.40,79.06 372.40,79.43 373.40,79.56 C374.40,79.69 375.40,80.13 376.40,79.83 C377.40,79.53 378.40,78.43 379.40,77.76 C380.40,77.09 381.40,76.47 382.40,75.80 C383.40,75.14 384.40,74.56 385.40,73.76 C386.40,72.96 387.40,71.88 388.40,70.98 C389.40,70.08 390.40,69.37 391.40,68.35 C392.40,67.33 393.40,65.97 394.40,64.87 C395.40,63.78 396.40,62.59 397.40,61.77 C398.40,60.95 399.40,60.47 400.40,59.96 C401.40,59.44 402.40,58.93 403.40,58.65 C404.40,58.36 405.40,58.42 406.40,58.24 C407.40,58.07 408.40,58.15 409.40,57.62 C410.40,57.10 411.40,56.03 412.40,55.10 C413.40,54.17 414.40,52.79 415.40,52.05 C416.40,51.30 417.40,50.31 418.40,50.62 C419.40,50.94 420.40,52.90 421.40,53.94 C422.40,54.97 423.40,56.04 424.40,56.82 C425.40,57.61 426.40,58.37 427.40,58.65 C428.40,58.93 429.40,58.93 430.40,58.52 C431.40,58.10 432.40,57.10 433.40,56.17 C434.40,55.23 435.40,53.55 436.40,52.91 C437.40,52.27 438.40,52.26 439.40,52.33 C440.40,52.39 441.40,52.74 442.40,53.30 C443.40,53.86 444.40,54.89 445.40,55.68 C446.40,56.47 447.40,57.29 448.40,58.03 C449.40,58.78 450.40,59.36 451.40,60.17 C452.40,60.98 453.40,62.12 454.40,62.89 C455.40,63.67 456.40,63.80 457.40,64.82 C458.40,65.85 459.40,67.53 460.40,69.05 C461.40,70.58 462.40,72.43 463.40,73.97 C464.40,75.52 465.40,77.00 466.40,78.31 C467.40,79.62 468.40,80.80 469.40,81.81 C470.40,82.82 471.40,83.79 472.40,84.36 C473.40,84.93 474.40,85.03 475.40,85.23 C476.40,85.44 477.40,85.78 478.40,85.60 C479.40,85.43 480.40,84.72 481.40,84.20 C482.40,83.68 483.40,82.97 484.40,82.47 C485.40,81.97 486.40,81.60 487.40,81.21 C488.40,80.83 489.90,80.32 490.40,80.15" fill="none" stroke="#cacaca" stroke-width="0.65" opacity="0.9"/>
<path d="M361.70,83.80 C362.45,84.18 364.50,86.10 366.20,86.10 C367.90,86.10 370.02,84.55 371.90,83.80 C373.78,83.05 375.63,82.17 377.50,81.60 C379.37,81.03 381.23,81.72 383.10,80.40 C384.97,79.08 386.65,75.93 388.70,73.70 C390.75,71.47 392.97,68.87 395.40,67.00 C397.83,65.13 400.85,63.07 403.30,62.50 C405.75,61.93 408.03,63.23 410.10,63.60 C412.17,63.97 414.02,65.27 415.70,64.70 C417.38,64.13 418.65,62.25 420.20,60.20 C421.75,58.15 422.70,53.52 425.00,52.40 C427.30,51.28 431.75,53.50 434.00,53.50 C436.25,53.50 437.00,53.15 438.50,52.40 C440.00,51.65 441.50,49.00 443.00,49.00 C444.50,49.00 445.63,50.15 447.50,52.40 C449.37,54.65 451.95,59.88 454.20,62.50 C456.45,65.12 459.13,66.98 461.00,68.10 C462.87,69.22 463.53,67.88 465.40,69.20 C467.27,70.52 469.95,73.93 472.20,76.00 C474.45,78.07 476.65,80.30 478.90,81.60 C481.15,82.90 483.63,83.62 485.70,83.80 C487.77,83.98 490.37,82.88 491.30,82.70" fill="none" stroke="#333" stroke-width="0.80" stroke-linejoin="round" stroke-linecap="round" opacity="1.00"/>
<path d="M361.60,61.00 C362.25,60.73 364.42,59.97 365.50,59.40 C366.58,58.83 367.13,58.57 368.10,57.60 C369.07,56.63 370.20,53.60 371.30,53.60 C372.40,53.60 373.67,58.03 374.70,57.60 C375.73,57.17 376.62,52.77 377.50,51.00 C378.38,49.23 378.93,46.78 380.00,47.00 C381.07,47.22 382.82,50.42 383.90,52.30 C384.98,54.18 385.42,58.73 386.50,58.30 C387.58,57.87 389.08,51.70 390.40,49.70 C391.72,47.70 393.08,48.05 394.40,46.30 C395.72,44.55 397.00,41.70 398.30,39.20 C399.60,36.70 400.88,32.18 402.20,31.30 C403.52,30.42 404.88,32.80 406.20,33.90 C407.52,35.00 408.97,38.25 410.10,37.90 C411.23,37.55 411.88,35.30 413.00,31.80 C414.12,28.30 415.70,20.33 416.80,16.90 C417.90,13.47 418.67,11.98 419.60,11.20 C420.53,10.42 421.47,10.95 422.40,12.20 C423.33,13.45 424.30,16.98 425.20,18.70 C426.10,20.42 426.73,20.47 427.80,22.50 C428.87,24.53 430.35,30.12 431.60,30.90 C432.85,31.68 434.22,27.98 435.30,27.20 C436.38,26.42 437.17,27.30 438.10,26.20 C439.03,25.10 439.80,21.85 440.90,20.60 C442.00,19.35 443.45,18.70 444.70,18.70 C445.95,18.70 447.15,20.60 448.40,20.60 C449.65,20.60 450.63,18.08 452.20,18.70 C453.77,19.32 456.08,23.52 457.80,24.30 C459.52,25.08 461.42,23.08 462.50,23.40 C463.58,23.72 463.37,23.70 464.30,26.20 C465.23,28.70 466.78,34.60 468.10,38.40 C469.42,42.20 470.95,44.98 472.20,49.00 C473.45,53.02 474.48,58.38 475.60,62.50 C476.72,66.62 477.78,72.02 478.90,73.70 C480.02,75.38 481.17,72.03 482.30,72.60 C483.43,73.17 484.77,75.80 485.70,77.10 C486.63,78.40 486.97,80.03 487.90,80.40 C488.83,80.77 490.73,79.48 491.30,79.30" fill="none" stroke="#0000ff" stroke-width="1.50" stroke-linejoin="round" stroke-linecap="round" opacity="1.00"/>
</g>
<clipPath id="cp4"><rect x="22.3" y="136.5" width="141.5" height="96.9"/></clipPath>
<g clip-path="url(#cp4)">
<polygon points="88,200.8 88.6,205.9 89.2,209.1 89.8,205 90.4,207.9 91,209.6 91.6,209.2 92.2,202.6 92.8,205.4 93.4,207.7 94,209.6 94.6,211.1 95.2,211.8 95.8,208.6 96.4,201.4 97,203.1 97.6,204.4 98.2,205.7 98.8,205.3 99.4,201 100,203.9 100.6,205.3 101.2,202.4 101.8,204.1 102.4,204.4 103,201 103.6,202.9 104.2,204.3 104.8,204.7 105.4,201.5 106,205.1 106.6,207 107.2,207.7 107.8,207.5 108.4,207.1 109,206.6 109.6,202 110.2,195.6 110.8,201.6 111.4,197.7 112,182.9 112.6,190 113.2,195.3 113.8,199.2 114.4,201.8 115,202.9 115.6,202.5 116.2,201.8 116.8,201.8 117.4,202.5 118,199 118.6,191.9 119.2,196.9 119.8,200.1 120.4,202 121,203.3 121.6,204.5 122.2,205.1 122.8,204.9 123.4,199 124,189.5 124.6,195.1 125.2,198.2 125.8,200 126.4,200.8 127,196.7 127.6,203.6 128.2,208.2 128.8,210.6 129.4,211.4 130,205 130.6,193.7 131.2,200.2 131.8,203.9 132.4,205.6 133,206.3 133.6,206.9 134.2,204.6 134.8,207.7 135.4,209.9 136,210.9 136.6,210.6 137.2,209.6 137.8,208.5 138.4,201.9 139,192.5 139.6,196.9 140.2,200.1 140.8,202.2 141.4,203.6 142,204.5 142.6,205.1 143.2,204.8 143.8,202.3 144.4,205.4 145,208.1 145.6,209.8 146.2,209.3 146.8,206.9 147.4,204.3 148,202.1 148.6,200.2 149.2,203 149.8,200 150.4,202.9 151,205.5 151.6,201.9 152.2,207.4 152.8,210.5 153.4,211.6 154,211.9 154.6,211.5 155.2,211.8 155.8,212.4 156.4,212.9 157,213.4 157.6,213.8 157.7,228 88,228" fill="#a8a8a8" opacity="0.30"/>
<polyline points="28.4,224.5 29,224.6 29.6,224.8 30.2,225 30.8,225.2 31.4,225.3 32,224.9 32.6,223.8 33.2,222.5 33.8,221.5 34.4,221.1 35,221.1 35.6,221.3 36.2,221.6 36.8,221.8 37.4,221.8 38,221.8 38.6,221.8 39.2,221.8 39.8,221.8 40.4,216.3 41,206 41.6,208.4 42.2,202.2 42.8,205.3 43.4,207.9 44,210.3 44.6,212.5 45.2,214.4 45.8,215.9 46.4,217.1 47,218.5 47.6,220.5 48.2,222.8 48.8,224.7 49.4,225.6 50,225.6 50.6,225.1 51.2,224.3 51.8,223.7 52.4,213.4 53,193.2 53.6,198.2 54.2,202.2 54.8,205.6 55.4,208.5 56,210.8 56.6,212.2 57.2,213.2 57.8,214.1 58.4,215 59,216.2 59.6,217.5 60.2,218.8 60.8,219.9 61.4,220.5 62,221 62.6,221.6 63.2,222.2 63.8,222.7 64.4,223 65,223.1 65.6,223.1 66.2,223 66.8,223 67.4,223 68,223.3 68.6,224 69.2,225 69.8,225.6 70.4,225.8 71,225.6 71.6,225 72.2,224.2 72.8,223.6 73.4,223.4 74,223.1 74.6,222.4 75.2,221.4 75.8,220.7 76.4,220.4 77,220.8 77.6,221.9 78.2,223.3 78.8,224.4 79.4,224.9 80,225 80.6,225.4 81.2,225.8 81.8,226.2 82.4,226.4 83,225.8 83.6,224.4 84.2,221.9 84.8,219 85.4,219.1 86,220 86.6,221.4 87.2,223 87.8,224.3 88.4,220.6 89,220.2 89.6,218.9 90.2,217.3 90.8,216 91.4,215.5 92,215.9 92.6,217.1 93.2,218.6 93.8,219.8 94.4,220.2 95,220.1 95.6,219.8 96.2,219.5 96.8,219.2 97.4,219.1 98,218.7 98.6,217.6 99.2,216.2 99.8,215 100.4,214.6 101,214.5 101.6,214.3 102.2,214 102.8,213.7 103.4,213.7 104,213.9 104.6,214.6 105.2,215.4 105.8,216 106.4,216.3 107,216.1 107.6,215.8 108.2,215.3 108.8,215 109.4,214.8 110,211.2 110.6,204.9 111.2,209.8 111.8,213.7 112.4,208.3 113,213.2 113.6,215.6 114.2,216.5 114.8,216.5 115.4,216.7 116,207.4 116.6,185.9 117.2,193.8 117.8,199.7 118.4,204.2 119,207.6 119.6,210.2 120.2,212.1 120.8,213.6 121.4,214.6 122,215.4 122.6,216.2 123.2,216.9 123.8,217.4 124.4,217.7 125,217.9 125.6,217.9 126.2,218.2 126.8,218.2 127.4,218.1 128,218.9 128.6,220.8 129.2,213.9 129.8,198.5 130.4,206.3 131,210.1 131.6,210.5 132.2,209.1 132.8,207.7 133.4,207.9 134,209.7 134.6,212.3 135.2,215.1 135.8,217.4 136.4,218.4 137,218.5 137.6,218.3 138.2,218.1 138.8,217.8 139.4,218 140,217.7 140.6,217.1 141.2,216.4 141.8,215.7 142.4,215.5 143,215.7 143.6,216.2 144.2,216.8 144.8,217.3 145.4,217.5 146,210.4 146.6,197.1 147.2,199.9 147.8,202.1 148.4,204.2 149,206.4 149.6,208.5 150.2,210.4 150.8,211.9 151.4,212.9 152,213.6 152.6,214.3 153.2,214.9 153.8,215.4 154.4,215.7 155,216.1 155.6,216.8 156.2,217.6 156.8,218.2 157.4,218.5" fill="none" stroke="#8c8c8c" stroke-width="0.60" opacity="0.45" stroke-linejoin="round"/>
<polyline points="28.4,225.2 29,225.2 29.6,225.3 30.2,225.4 30.8,225.4 31.4,225.4 32,225.3 32.6,224.9 33.2,224.5 33.8,224.1 34.4,216.1 35,201.5 35.6,206.6 36.2,210.7 36.8,213.8 37.4,216.2 38,217.9 38.6,219 39.2,219.6 39.8,220.1 40.4,220.6 41,221.2 41.6,221.8 42.2,222.4 42.8,222.8 43.4,223.1 44,223.3 44.6,223.5 45.2,223.7 45.8,223.9 46.4,224 47,224.3 47.6,224.4 48.2,224.6 48.8,224.8 49.4,224.9 50,224.8 50.6,224.5 51.2,224.2 51.8,224 52.4,223.9 53,224 53.6,224.1 54.2,224.2 54.8,224.3 55.4,224.3 56,224.3 56.6,224.2 57.2,224.1 57.8,224.1 58.4,224 59,224.1 59.6,224.3 60.2,224.5 60.8,224.7 61.4,224.8 62,224.8 62.6,225 63.2,225.3 63.8,225.5 64.4,225.5 65,225.5 65.6,225.4 66.2,225.3 66.8,225.2 67.4,225.2 68,225.2 68.6,225.3 69.2,225.3 69.8,222.3 70.4,216.6 71,218.2 71.6,219.2 72.2,220 72.8,220.7 73.4,221.3 74,221.9 74.6,222.5 75.2,223 75.8,223.5 76.4,223.8 77,224 77.6,224.1 78.2,224.2 78.8,224.3 79.4,224.4 80,220.5 80.6,212.6 81.2,214.9 81.8,216.9 82.4,218.4 83,219.5 83.6,220 84.2,220.3 84.8,220.5 85.4,220.9 86,221.5 86.6,222.3 87.2,223.1 87.8,223.7 88.4,219.9 89,220 89.6,220.1 90.2,220.1 90.8,220.1 91.4,220.2 92,220.3 92.6,220.3 93.2,220.4 93.8,220.5 94.4,220.6 95,220.3 95.6,219.6 96.2,211.3 96.8,196.7 97.4,204.2 98,209.5 98.6,213.8 99.2,217.1 99.8,219.5 100.4,220.8 101,221.2 101.6,221.3 102.2,221.3 102.8,221.2 103.4,221.4 104,221.5 104.6,221.7 105.2,222 105.8,222.3 106.4,222.3 107,222.1 107.6,221.4 108.2,220.5 108.8,219.8 109.4,219.6 110,219.7 110.6,220 111.2,220.4 111.8,220.7 112.4,220.8 113,221.2 113.6,222.1 114.2,218.3 114.8,210.2 115.4,213.3 116,215.2 116.6,216.2 117.2,216.7 117.8,217.1 118.4,217.8 119,218.5 119.6,219.1 120.2,219.5 120.8,219.9 121.4,211.3 122,192.4 122.6,200.8 123.2,206.6 123.8,210.6 124.4,191.7 125,196.1 125.6,199.7 126.2,202.7 126.8,205.2 127.4,207.4 128,209.5 128.6,211.5 129.2,213.4 129.8,215 130.4,216.1 131,206.5 131.6,208.8 132.2,210.3 132.8,211.4 133.4,212.6 134,213.8 134.6,214.7 135.2,215.5 135.8,216.1 136.4,216.5 137,217.5 137.6,219.3 138.2,221.5 138.8,223.3 139.4,224 140,224 140.6,223.7 141.2,223.4 141.8,223.1 142.4,223 143,222.9 143.6,222 144.2,221 144.8,220.2 145.4,217.7 146,213.8 146.6,215.1 147.2,212.4 147.8,209.9 148.4,189.6 149,197.9 149.6,204 150.2,208.4 150.8,211.7 151.4,214.1 152,215.9 152.6,217.1 153.2,218.1 153.8,218.7 154.4,219.2 155,219.5 155.6,219.6 156.2,219.6 156.8,219.6 157.4,219.6" fill="none" stroke="#8c8c8c" stroke-width="0.60" opacity="0.45" stroke-linejoin="round"/>
<polyline points="28.4,225.4 29,225.4 29.6,225.3 30.2,225.3 30.8,225.3 31.4,225.2 32,225.1 32.6,224.9 33.2,224.5 33.8,224.2 34.4,224.1 35,224.4 35.6,225 36.2,225.8 36.8,226.5 37.4,226.7 38,226.4 38.6,225.7 39.2,224.8 39.8,224 40.4,223.7 41,223.7 41.6,223.4 42.2,223.2 42.8,223 43.4,222.9 44,223.1 44.6,223.6 45.2,224.2 45.8,224.8 46.4,225 47,224.7 47.6,224.1 48.2,223.4 48.8,222.8 49.4,222.5 50,222.6 50.6,223 51.2,223.4 51.8,223.7 52.4,223.8 53,223.7 53.6,223.4 54.2,223 54.8,222.7 55.4,222.6 56,222.7 56.6,222.9 57.2,218.3 57.8,209.4 58.4,212.5 59,215 59.6,217 60.2,218.6 60.8,219.9 61.4,220.9 62,221.5 62.6,222 63.2,222.3 63.8,222.4 64.4,219.9 65,220.6 65.6,221.3 66.2,221.9 66.8,222.4 67.4,222.7 68,223.1 68.6,223.6 69.2,224.1 69.8,224.6 70.4,224.8 71,224.7 71.6,224.1 72.2,223.4 72.8,222.8 73.4,221.9 74,220.4 74.6,221.4 75.2,222.4 75.8,223.2 76.4,223.6 77,223.7 77.6,223.5 78.2,223.1 78.8,222.9 79.4,222.8 80,223 80.6,223.6 81.2,224.2 81.8,224.8 82.4,225 83,224.9 83.6,224.6 84.2,224.2 84.8,223.8 85.4,223.7 86,223.7 86.6,223.6 87.2,223.5 87.8,223.4 88.4,217.3 89,217.4 89.6,217.7 90.2,218.1 90.8,218.4 91.4,218.5 92,218.5 92.6,218.6 93.2,218.7 93.8,218.8 94.4,218.8 95,218.6 95.6,218 96.2,217.2 96.8,216.6 97.4,216.4 98,216.4 98.6,216.2 99.2,216 99.8,215.8 100.4,215.7 101,216.2 101.6,217.4 102.2,218.8 102.8,220 103.4,220.5 104,220 104.6,218.9 105.2,217.4 105.8,216.3 106.4,215.8 107,215.9 107.6,216 108.2,216.1 108.8,216.2 109.4,216.3 110,216.6 110.6,217.3 111.2,218.3 111.8,219 112.4,219.3 113,219.3 113.6,219.2 114.2,219 114.8,218.9 115.4,218.9 116,219 116.6,219.2 117.2,219.6 117.8,219.8 118.4,219.9 119,219.6 119.6,218.7 120.2,211 120.8,197.9 121.4,200.9 122,204 122.6,207.1 123.2,210.1 123.8,212.5 124.4,214.1 125,206.2 125.6,180.9 126.2,195.8 126.8,205.7 127.4,212 128,215.9 128.6,218.7 129.2,220.6 129.8,221.8 130.4,222.6 131,222.7 131.6,221.9 132.2,220.8 132.8,219.8 133.4,217.6 134,213.5 134.6,215.4 135.2,216.4 135.8,217.1 136.4,217.6 137,209.6 137.6,192.4 138.2,197.5 138.8,201.5 139.4,204.8 140,207.6 140.6,209.9 141.2,211.8 141.8,213.4 142.4,214.4 143,215.3 143.6,216.1 144.2,216.9 144.8,217.5 145.4,217.9 146,218.4 146.6,219.3 147.2,220.3 147.8,221.1 148.4,221.4 149,221.4 149.6,220.5 150.2,219.4 150.8,218.5 151.4,218.1 152,216.6 152.6,213.8 153.2,215.1 153.8,216.1 154.4,216.8 155,217.2 155.6,217.3 156.2,217.2 156.8,217.1 157.4,217.2" fill="none" stroke="#8c8c8c" stroke-width="0.60" opacity="0.45" stroke-linejoin="round"/>
<polyline points="28.4,226.1 29,226.1 29.6,225.9 30.2,225.7 30.8,225.5 31.4,225.5 32,225.3 32.6,224.8 33.2,224.2 33.8,223.7 34.4,223.5 35,223.6 35.6,223.8 36.2,224.2 36.8,224.4 37.4,224.5 38,224.6 38.6,224.9 39.2,225.2 39.8,225.5 40.4,225.6 41,225.4 41.6,225.1 42.2,224.6 42.8,224.3 43.4,224.1 44,224.2 44.6,224.4 45.2,224.6 45.8,224.8 46.4,224.1 47,222.6 47.6,223.1 48.2,223.4 48.8,223.7 49.4,223.9 50,224 50.6,224.1 51.2,224.1 51.8,224.1 52.4,224.1 53,224.2 53.6,224.4 54.2,224.6 54.8,224.8 55.4,224.8 56,224.9 56.6,224.9 57.2,224.9 57.8,224.9 58.4,224.9 59,224.9 59.6,225.1 60.2,225.4 60.8,225.6 61.4,225.6 62,225.6 62.6,210.5 63.2,182.6 63.8,190 64.4,196.2 65,201 65.6,204.4 66.2,206.9 66.8,208.1 67.4,210 68,212.1 68.6,214.3 69.2,216.3 69.8,218 70.4,219.1 71,220.1 71.6,221.4 72.2,222.6 72.8,223.6 73.4,224.3 74,224.5 74.6,224.5 75.2,224.4 75.8,224.3 76.4,224.3 77,224.5 77.6,224.8 78.2,225 78.8,225.2 79.4,225.3 80,225.2 80.6,224.9 81.2,224.5 81.8,218.2 82.4,206.4 83,213.3 83.6,217.6 84.2,220.4 84.8,222.1 85.4,223.1 86,223.7 86.6,219.7 87.2,210.5 87.8,214 88.4,211.8 89,214.2 89.6,216.9 90.2,219.4 90.8,221.4 91.4,222.5 92,222.4 92.6,221.4 93.2,220 93.8,218.8 94.4,218.5 95,218.8 95.6,219.3 96.2,220 96.8,220.5 97.4,220.8 98,221 98.6,221.3 99.2,221.7 99.8,222.1 100.4,222.2 101,222.3 101.6,222.4 102.2,222.6 102.8,222.8 103.4,215.9 104,202.9 104.6,205.3 105.2,207 105.8,208.4 106.4,210 107,211.5 107.6,212.8 108.2,213.8 108.8,214.7 109.4,215.4 110,216.2 110.6,217.1 111.2,217.9 111.8,218.6 112.4,219 113,219.6 113.6,220.6 114.2,221.7 114.8,222.6 115.4,223.1 116,223.3 116.6,223.7 117.2,224.1 117.8,224.5 118.4,224.6 119,224.4 119.6,223.8 120.2,223 120.8,222.4 121.4,222.2 122,222.2 122.6,209.2 123.2,185.2 123.8,197.1 124.4,205.1 125,210.4 125.6,213.8 126.2,216 126.8,217.4 127.4,201.3 128,165.5 128.6,173.8 129.2,180.8 129.8,186.7 130.4,191.8 131,196.3 131.6,200.6 132.2,204.5 132.8,207.7 133.4,210.1 134,212.3 134.6,214.7 135.2,217.1 135.8,219 136.4,220.3 137,220.7 137.6,218.1 138.2,218.6 138.8,218.8 139.4,219.3 140,219.6 140.6,219.7 141.2,219.8 141.8,219.9 142.4,220 143,220.2 143.6,220.4 144.2,220.6 144.8,220.8 145.4,221.3 146,221.9 146.6,223.6 147.2,221 147.8,214.1 148.4,217.9 149,219.9 149.6,220.9 150.2,221.2 150.8,221.4 151.4,221.9 152,222.1 152.6,221.6 153.2,220.8 153.8,220.1 154.4,219.9 155,219.9 155.6,219.5 156.2,219 156.8,218.6 157.4,218.4" fill="none" stroke="#8c8c8c" stroke-width="0.60" opacity="0.45" stroke-linejoin="round"/>
<polyline points="28.4,225.6 29,225.8 29.6,226 30.2,226.4 30.8,226.6 31.4,226.7 32,226.4 32.6,225.4 33.2,224.3 33.8,223.3 34.4,223 35,222.7 35.6,221.9 36.2,220.9 36.8,220.2 37.4,219.9 38,220.3 38.6,221.5 39.2,223 39.8,224.2 40.4,224.7 41,224.6 41.6,224.4 42.2,224.1 42.8,223.9 43.4,223.9 44,224.1 44.6,224.6 45.2,225.3 45.8,225.9 46.4,226.1 47,225.8 47.6,225.1 48.2,221.6 48.8,215.8 49.4,218.1 50,219.6 50.6,220.4 51.2,220.7 51.8,220.8 52.4,221 53,221.2 53.6,221.2 54.2,219.8 54.8,216.5 55.4,217.4 56,218.6 56.6,220.3 57.2,222.2 57.8,223.7 58.4,224.4 59,224.6 59.6,224.7 60.2,224.7 60.8,224.7 61.4,224.8 62,225 62.6,225.4 63.2,225.8 63.8,226.2 64.4,226.3 65,226.1 65.6,225.5 66.2,224.7 66.8,224.1 67.4,223.8 68,223.8 68.6,223.5 69.2,222.8 69.8,221.8 70.4,222.1 71,222.4 71.6,222.4 72.2,222.4 72.8,222.4 73.4,222.4 74,222.5 74.6,222.5 75.2,222.6 75.8,221.9 76.4,220.4 77,221.2 77.6,221.8 78.2,222.3 78.8,222.6 79.4,222.8 80,223 80.6,223.2 81.2,223.4 81.8,223.5 82.4,223.6 83,223.6 83.6,223.7 84.2,223.9 84.8,223.9 85.4,224 86,224 86.6,223 87.2,221 87.8,221.6 88.4,217 89,217.2 89.6,217.1 90.2,216.7 90.8,216.5 91.4,216.5 92,216.8 92.6,217.3 93.2,217.9 93.8,218.4 94.4,217 95,212.9 95.6,214.6 96.2,215.3 96.8,215.7 97.4,216 98,216.9 98.6,218.7 99.2,220.8 99.8,222.4 100.4,223.1 101,222.7 101.6,221.5 102.2,200.8 102.8,163.9 103.4,175.9 104,185.2 104.6,191.8 105.2,196.5 105.8,200.1 106.4,203.3 107,205.9 107.6,207.8 108.2,209.3 108.8,195.4 109.4,159.6 110,180.7 110.6,195.1 111.2,205 111.8,211.6 112.4,215.4 113,216.9 113.6,217 114.2,216.3 114.8,215.7 115.4,216 116,216.3 116.6,217.1 117.2,218.1 117.8,218.7 118.4,218.6 119,218.6 119.6,210.6 120.2,194.9 120.8,199.7 121.4,203.6 122,206.1 122.6,183.3 123.2,189.9 123.8,195.4 124.4,199.7 125,203 125.6,205.2 126.2,206.7 126.8,208 127.4,209.3 128,210.2 128.6,210 129.2,209.4 129.8,208.9 130.4,209 131,210.2 131.6,212.3 132.2,214.7 132.8,216.7 133.4,217.6 134,217.6 134.6,217.3 135.2,216.7 135.8,216.3 136.4,216.2 137,215.9 137.6,214.9 138.2,197.4 138.8,165.6 139.4,172.8 140,179.5 140.6,185.7 141.2,191.1 141.8,195.7 142.4,199.2 143,201.7 143.6,203.5 144.2,205 144.8,206.2 145.4,207.4 146,208.5 146.6,209.4 147.2,210.1 147.8,210.8 148.4,211.3 149,212 149.6,213 150.2,214.1 150.8,215 151.4,215.5 152,215.7 152.6,216 153.2,216.4 153.8,216.6 154.4,216.8 155,217.2 155.6,218.5 156.2,219.6 156.8,220.5 157.4,220.8" fill="none" stroke="#8c8c8c" stroke-width="0.60" opacity="0.45" stroke-linejoin="round"/>
<polyline points="28.4,224.6 29,224.6 29.6,224.7 30.2,224.8 30.8,224.9 31.4,224.9 32,224.9 32.6,224.9 33.2,224.9 33.8,224.9 34.4,224.9 35,224.9 35.6,224.8 36.2,224.7 36.8,224.6 37.4,224.6 38,224.7 38.6,224.9 39.2,223.5 39.8,220.5 40.4,222.1 41,223.1 41.6,223.7 42.2,224.1 42.8,224.4 43.4,224.6 44,224.8 44.6,224.9 45.2,225 45.8,224.8 46.4,224.9 47,225.1 47.6,225.6 48.2,226.1 48.8,226.6 49.4,226.7 50,226.6 50.6,226.2 51.2,225.7 51.8,225.2 52.4,225.1 53,225.3 53.6,225.7 54.2,226.2 54.8,226.7 55.4,226.8 56,226.6 56.6,225.8 57.2,225 57.8,220.2 58.4,212.5 59,215.4 59.6,217.8 60.2,219.6 60.8,221.1 61.4,222.1 62,222.8 62.6,223.4 63.2,224 63.8,224.4 64.4,224.6 65,224.8 65.6,215.9 66.2,198.5 66.8,203.7 67.4,207.9 68,211.3 68.6,213.8 69.2,215.7 69.8,217.3 70.4,218.7 71,219.9 71.6,220.9 72.2,221.9 72.8,222.6 73.4,223.2 74,223.5 74.6,223.8 75.2,223.9 75.8,224 76.4,224.1 77,224.3 77.6,224.5 78.2,224.6 78.8,224.8 79.4,225.1 80,225.2 80.6,225.5 81.2,225.8 81.8,226.1 82.4,226.2 83,226 83.6,225.5 84.2,224.9 84.8,224.4 85.4,224.2 86,224.5 86.6,225.2 87.2,226.1 87.8,226.8 88.4,224.7 89,224.3 89.6,223.2 90.2,217.5 90.8,208.5 91.4,210.2 92,212.1 92.6,213.9 93.2,215.5 93.8,216.8 94.4,217.7 95,218.2 95.6,218.2 96.2,217.9 96.8,217.7 97.4,217.8 98,218.4 98.6,219.4 99.2,220.7 99.8,221.7 100.4,222.1 101,222.2 101.6,222.2 102.2,222.1 102.8,222.1 103.4,222.1 104,222 104.6,221.6 105.2,221.1 105.8,220.7 106.4,215.6 107,206.1 107.6,209.1 108.2,211.2 108.8,212.7 109.4,214.1 110,215.4 110.6,216.8 111.2,218.1 111.8,219.1 112.4,219.7 113,220.3 113.6,221.4 114.2,222.5 114.8,215.7 115.4,200.7 116,205.1 116.6,208 117.2,210 117.8,211.6 118.4,213.2 119,214.7 119.6,215.9 120.2,208.5 120.8,211.4 121.4,213.6 122,215.5 122.6,217.2 123.2,218.6 123.8,219.8 124.4,220.5 125,221.1 125.6,221.8 126.2,222.6 126.8,223.2 127.4,223.5 128,223.6 128.6,223.8 129.2,223.9 129.8,224.1 130.4,224.1 131,224 131.6,223.3 132.2,222.4 132.8,221.8 133.4,221.5 134,221.8 134.6,222.5 135.2,223.3 135.8,224 136.4,224.3 137,224.1 137.6,223.5 138.2,222.8 138.8,222.3 139.4,222.1 140,222.1 140.6,222.3 141.2,222.6 141.8,222.8 142.4,222.9 143,222.5 143.6,221.7 144.2,220.6 144.8,219.7 145.4,219.4 146,219.7 146.6,220.7 147.2,221.9 147.8,222.8 148.4,223.2 149,223 149.6,222.6 150.2,222.1 150.8,221.7 151.4,221.5 152,221.5 152.6,221.5 153.2,221.4 153.8,221.4 154.4,221.4 155,221.3 155.6,220.9 156.2,220.5 156.8,220.1 157.4,220" fill="none" stroke="#8c8c8c" stroke-width="0.60" opacity="0.45" stroke-linejoin="round"/>
<polyline points="28.4,198.7 29,195.1 29.6,201.3 30.2,206.4 30.8,210.5 31.4,213.6 32,215.8 32.6,217.2 33.2,218.1 33.8,218.8 34.4,219.4 35,220.2 35.6,221 36.2,221.8 36.8,222.4 37.4,222.8 38,223 38.6,223.1 39.2,223.1 39.8,223 40.4,223.1 41,223.5 41.6,224.2 42.2,225.1 42.8,225.8 43.4,226.1 44,226.1 44.6,226.4 45.2,226.4 45.8,226.4 46.4,226.4 47,226 47.6,224.7 48.2,223.2 48.8,222 49.4,221.5 50,221.7 50.6,222.2 51.2,222.9 51.8,223.4 52.4,223.6 53,223.5 53.6,223.5 54.2,223.4 54.8,223.3 55.4,223.3 56,223.5 56.6,224 57.2,224.7 57.8,225.3 58.4,225.5 59,225.2 59.6,224.5 60.2,223.5 60.8,222.8 61.4,222.5 62,222.6 62.6,223 63.2,223.5 63.8,223.9 64.4,224.1 65,224.4 65.6,225.4 66.2,226.6 66.8,227.6 67.4,228 68,227.7 68.6,227 69.2,226.2 69.8,225.5 70.4,225.3 71,225.3 71.6,225.4 72.2,225.5 72.8,225.6 73.4,225.6 74,225.5 74.6,225.3 75.2,225.1 75.8,224.9 76.4,224.8 77,224.7 77.6,224.5 78.2,224.3 78.8,224.1 79.4,224 80,224 80.6,224.1 81.2,224.2 81.8,224.2 82.4,224.3 83,224.3 83.6,224.4 84.2,224.5 84.8,224.6 85.4,224.6 86,224.8 86.6,225.4 87.2,226 87.8,226.6 88.4,224.2 89,224.1 89.6,224 90.2,223.8 90.8,223.6 91.4,223.6 92,223.1 92.6,221.8 93.2,220.3 93.8,219 94.4,218.5 95,218.8 95.6,219.4 96.2,220.2 96.8,220.9 97.4,214.3 98,201.1 98.6,204 99.2,205.8 99.8,207.2 100.4,208.8 101,210.6 101.6,212.4 102.2,214.1 102.8,215.4 103.4,216.3 104,216.9 104.6,217.4 105.2,217.9 105.8,218.3 106.4,218.6 107,219.2 107.6,220.5 108.2,222.1 108.8,223.4 109.4,223.9 110,223.1 110.6,220.9 111.2,218.2 111.8,216 112.4,215.1 113,215.4 113.6,216.4 114.2,217.5 114.8,218.4 115.4,218.8 116,218.8 116.6,218.7 117.2,218.6 117.8,218.5 118.4,218.4 119,218.3 119.6,218 120.2,217.7 120.8,217.4 121.4,217.3 122,217.4 122.6,217.8 123.2,218.2 123.8,218.6 124.4,218.7 125,219 125.6,219.8 126.2,220.8 126.8,221.6 127.4,221.9 128,221.8 128.6,221.6 129.2,216.8 129.8,208.3 130.4,210.7 131,212.7 131.6,214.5 132.2,216 132.8,217.1 133.4,218 134,218.9 134.6,220 135.2,209.9 135.8,186.3 136.4,192.3 137,196.2 137.6,197.9 138.2,198.4 138.8,198.9 139.4,200.5 140,203 140.6,205.7 141.2,208.5 141.8,210.8 142.4,212.2 143,212.7 143.6,212.4 144.2,211.7 144.8,211.1 145.4,211.2 146,212.3 146.6,214.4 147.2,217 147.8,219.1 148.4,220 149,219.8 149.6,218.9 150.2,217.8 150.8,216.9 151.4,216.6 152,216.8 152.6,217.3 153.2,216.5 153.8,214 154.4,214.9 155,215.4 155.6,215.5 156.2,215.4 156.8,215.4 157.4,215.6" fill="none" stroke="#8c8c8c" stroke-width="0.60" opacity="0.45" stroke-linejoin="round"/>
<polyline points="28.4,222.2 29,222 29.6,221.5 30.2,221 30.8,220.5 31.4,220.2 32,220.2 32.6,221 33.2,221.9 33.8,222.6 34.4,222.9 35,222.9 35.6,222.9 36.2,222.8 36.8,222.8 37.4,222.8 38,223 38.6,223.6 39.2,224.3 39.8,224.9 40.4,225.1 41,225 41.6,224.7 42.2,224.3 42.8,224 43.4,223.9 44,223.6 44.6,223.1 45.2,222.4 45.8,221.8 46.4,221.6 47,221.6 47.6,221.4 48.2,221.2 48.8,221 49.4,221 50,221.2 50.6,221.9 51.2,222.8 51.8,223.5 52.4,223.8 53,223.7 53.6,223.5 54.2,223.2 54.8,222.9 55.4,222.8 56,223 56.6,223.6 57.2,224.3 57.8,224.9 58.4,225.1 59,225.1 59.6,225 60.2,224.9 60.8,224.8 61.4,224.8 62,224.6 62.6,224.2 63.2,223.7 63.8,223.2 64.4,223.1 65,222.8 65.6,222.1 66.2,221.3 66.8,220.6 67.4,220.4 68,220.7 68.6,221.6 69.2,222.8 69.8,223.7 70.4,224.1 71,223.8 71.6,223.1 72.2,222.2 72.8,221.5 73.4,221.3 74,221.2 74.6,221.1 75.2,220.9 75.8,220.8 76.4,220.8 77,221.1 77.6,221.9 78.2,222.9 78.8,223.8 79.4,224.1 80,223.8 80.6,223.1 81.2,222.3 81.8,221.6 82.4,221.3 83,221.5 83.6,221.9 84.2,222.4 84.8,218.2 85.4,209.6 86,211.5 86.6,212.3 87.2,212.6 87.8,212.8 88.4,202.9 89,205.1 89.6,209.3 90.2,214.2 90.8,218.2 91.4,219.9 92,219.2 92.6,218 93.2,216.2 93.8,214.6 94.4,214.1 95,213.9 95.6,213.4 96.2,212.6 96.8,212 97.4,211.8 98,212.1 98.6,212.9 99.2,213.9 99.8,214.6 100.4,215 101,215.3 101.6,216.4 102.2,217.5 102.8,218.4 103.4,218.8 104,218.4 104.6,217.3 105.2,216.1 105.8,215 106.4,214.6 107,214.7 107.6,214.9 108.2,215.1 108.8,215.2 109.4,215.3 110,215.8 110.6,215.4 111.2,213.9 111.8,216.7 112.4,218.2 113,218.2 113.6,207.7 114.2,186.1 114.8,192.6 115.4,198 116,202.4 116.6,205.9 117.2,208.5 117.8,210.5 118.4,211.8 119,213 119.6,214.3 120.2,215.6 120.8,216.6 121.4,217.1 122,217 122.6,216.5 123.2,216 123.8,215.4 124.4,215.2 125,214.6 125.6,213.2 126.2,211.5 126.8,210.1 127.4,209.6 128,210 128.6,210.9 129.2,206.3 129.8,196.4 130.4,202.7 131,206.7 131.6,209.5 132.2,211.6 132.8,213 133.4,213.9 134,214.6 134.6,215.6 135.2,216.8 135.8,217.6 136.4,218.1 137,217.7 137.6,216.5 138.2,215.1 138.8,213.9 139.4,213.5 140,213.5 140.6,213.4 141.2,213.4 141.8,213.3 142.4,213.3 143,213.4 143.6,213.8 144.2,214.3 144.8,214.7 145.4,214.8 146,214.8 146.6,214.8 147.2,214.8 147.8,214.7 148.4,214.7 149,215 149.6,215.7 150.2,216.6 150.8,211.9 151.4,202.1 152,205.1 152.6,208.4 153.2,211.4 153.8,213.9 154.4,215.5 155,216.4 155.6,216.8 156.2,217.1 156.8,217.3 157.4,217.6" fill="none" stroke="#8c8c8c" stroke-width="0.60" opacity="0.45" stroke-linejoin="round"/>
<polyline points="28.4,223.4 29,214.4 29.6,198 30.2,204.7 30.8,209.9 31.4,213.6 32,216.2 32.6,217.7 33.2,218.7 33.8,219.4 34.4,218.2 35,219.1 35.6,220.2 36.2,221.2 36.8,222 37.4,222.5 38,222.9 38.6,223.1 39.2,223.3 39.8,223.5 40.4,223.7 41,223.9 41.6,224.3 42.2,224.6 42.8,224.9 43.4,225.1 44,225.2 44.6,225.2 45.2,225.2 45.8,225.3 46.4,225.3 47,225.2 47.6,225 48.2,224.7 48.8,224.4 49.4,224.4 50,224.5 50.6,225 51.2,225.6 51.8,226 52.4,220.6 53,210.1 53.6,215.9 54.2,219.2 54.8,221.1 55.4,222.4 56,223.2 56.6,223.8 57.2,224.3 57.8,221.8 58.4,216.1 59,218.7 59.6,220.3 60.2,221.2 60.8,221.8 61.4,222.3 62,223 62.6,223.8 63.2,224.7 63.8,225.4 64.4,225.7 65,225.6 65.6,225.3 66.2,224.9 66.8,224.5 67.4,224.4 68,224.4 68.6,224.6 69.2,224.7 69.8,224.8 70.4,224.8 71,225 71.6,225.2 72.2,225.6 72.8,225.9 73.4,226 74,226 74.6,225.9 75.2,225.7 75.8,225.6 76.4,225.6 77,225.6 77.6,225.7 78.2,225.9 78.8,226 79.4,226 80,225.8 80.6,225.2 81.2,224.4 81.8,223.8 82.4,223.5 83,223.7 83.6,224.1 84.2,224.6 84.8,225 85.4,225.1 86,225.2 86.6,225.3 87.2,225.4 87.8,225.5 88.4,221.7 89,221.6 89.6,221.4 90.2,210.8 90.8,191.4 91.4,196.6 92,200.9 92.6,204.4 93.2,207.2 93.8,209.6 94.4,209.1 95,211.9 95.6,213.5 96.2,213.7 96.8,213.8 97.4,214.3 98,215 98.6,216 99.2,216.9 99.8,217.6 100.4,218 101,218.7 101.6,219.9 102.2,221.4 102.8,222.6 103.4,223.1 104,223.2 104.6,223.3 105.2,223.3 105.8,206.9 106.4,176 107,186.2 107.6,192.8 108.2,197.1 108.8,200.3 109.4,203.5 110,206.7 110.6,209.5 111.2,211.9 111.8,213.8 112.4,215.1 113,216.3 113.6,217.9 114.2,219.5 114.8,220.9 115.4,221.6 116,221.5 116.6,220.9 117.2,220.1 117.8,219.9 118.4,219.6 119,219.8 119.6,220.3 120.2,220.9 120.8,221.4 121.4,217.1 122,208.5 122.6,211.8 123.2,208.7 123.8,187.4 124.4,194.5 125,200.4 125.6,205.2 126.2,209.2 126.8,212.3 127.4,212.3 128,207 128.6,181 129.2,186.8 129.8,191.6 130.4,195.9 131,199.9 131.6,195.7 132.2,204.9 132.8,210 133.4,212.1 134,213.8 134.6,215.3 135.2,216.7 135.8,217.9 136.4,218.8 137,219.1 137.6,219 138.2,218.5 138.8,218.2 139.4,218.2 140,218.9 140.6,220 141.2,221.3 141.8,222.3 142.4,222.8 143,222.4 143.6,222.2 144.2,221.9 144.8,208.8 145.4,184.1 146,191.7 146.6,197.6 147.2,202.3 147.8,206 148.4,209 149,211.5 149.6,213.7 150.2,215.4 150.8,216.8 151.4,217.9 152,218.3 152.6,218 153.2,217.4 153.8,216.9 154.4,216.8 155,216.9 155.6,216.7 156.2,215.2 156.8,215.1 157.4,215.2" fill="none" stroke="#8c8c8c" stroke-width="0.60" opacity="0.45" stroke-linejoin="round"/>
<polyline points="28.4,221.3 29,221.2 29.6,221 30.2,220.7 30.8,220.5 31.4,220.4 32,220.7 32.6,221.4 33.2,222.3 33.8,223.1 34.4,223.4 35,223.5 35.6,223.8 36.2,224.2 36.8,224.5 37.4,224.6 38,224.4 38.6,223.9 39.2,223.2 39.8,222.7 40.4,222.5 41,222.7 41.6,223.1 42.2,223.5 42.8,223.9 43.4,224.1 44,223.7 44.6,222.7 45.2,221.5 45.8,220.5 46.4,220.1 47,220.4 47.6,221.2 48.2,222.2 48.8,223 49.4,223.3 50,223.2 50.6,223.1 51.2,223 51.8,222.9 52.4,222.8 53,222.9 53.6,223.1 54.2,223.4 54.8,223.7 55.4,223.8 56,223.6 56.6,223.2 57.2,222.7 57.8,222.3 58.4,222.2 59,221.8 59.6,221 60.2,220 60.8,219.2 61.4,218.9 62,219.1 62.6,219.7 63.2,220.5 63.8,221 64.4,221.3 65,221.6 65.6,222.4 66.2,223.4 66.8,224.2 67.4,224.5 68,224.5 68.6,224.5 69.2,224.4 69.8,224.3 70.4,224.3 71,224.1 71.6,223.4 72.2,222.7 72.8,222 73.4,221.8 74,221.9 74.6,222.2 75.2,222.5 75.8,222.8 76.4,222.9 77,223.1 77.6,223.4 78.2,223.7 78.8,224 79.4,224.1 80,223.9 80.6,223.4 81.2,222.7 81.8,222.1 82.4,221.9 83,222 83.6,217.1 84.2,207.9 84.8,211.3 85.4,213.9 86,215.5 86.6,216.3 87.2,216.7 87.8,216.9 88.4,208.2 89,209.6 89.6,212.3 90.2,197.6 90.8,164 91.4,175.3 92,183.2 92.6,188.8 93.2,192.8 93.8,196 94.4,199.2 95,202.5 95.6,205.9 96.2,209.1 96.8,199.2 97.4,163.8 98,177.4 98.6,186.7 99.2,193 99.8,197.7 100.4,201.5 101,205 101.6,208.1 102.2,210.7 102.8,212.7 103.4,213.9 104,214.8 104.6,215.7 105.2,216.5 105.8,217.1 106.4,217.4 107,217.8 107.6,217.1 108.2,216.3 108.8,215.6 109.4,215.3 110,214.8 110.6,213.4 111.2,211.7 111.8,210.3 112.4,209.8 113,210.1 113.6,211 114.2,212.1 114.8,212.9 115.4,213.3 116,213.4 116.6,213.6 117.2,213.9 117.8,214.1 118.4,214.2 119,214.6 119.6,215.7 120.2,217 120.8,218.1 121.4,218.5 122,210.5 122.6,194.9 123.2,197 123.8,198.7 124.4,178.6 125,185.2 125.6,191.2 126.2,196.6 126.8,200.9 127.4,204 128,206 128.6,207.1 129.2,201.2 129.8,202.8 130.4,203.3 131,185.7 131.6,192.2 132.2,198.3 132.8,203.3 133.4,206.7 134,208 134.6,207.1 135.2,205.4 135.8,203.9 136.4,204 137,204.9 137.6,205.7 138.2,206.4 138.8,207 139.4,207.4 140,208.4 140.6,210.2 141.2,212.5 141.8,214.2 142.4,215 143,215.4 143.6,216.1 144.2,217 144.8,217.6 145.4,213.6 146,204.4 146.6,205.8 147.2,206.1 147.8,206.3 148.4,198.3 149,201.9 149.6,195 150.2,161.5 150.8,176.8 151.4,187.6 152,195.2 152.6,200.6 153.2,204.6 153.8,207.6 154.4,209.9 155,211.8 155.6,206.6 156.2,208.6 156.8,210.2 157.4,211.6" fill="none" stroke="#8c8c8c" stroke-width="0.60" opacity="0.45" stroke-linejoin="round"/>
<polyline points="28.4,224.7 29,217.9 29.6,205.2 30.2,212.9 30.8,217.7 31.4,220.7 32,222.4 32.6,223.3 33.2,223.7 33.8,224 34.4,224.2 35,224.5 35.6,225.4 36.2,226 36.8,226.1 37.4,225.5 38,225.5 38.6,225.1 39.2,224.6 39.8,224.2 40.4,224 41,224.2 41.6,224.4 42.2,224.7 42.8,224.9 43.4,225 44,225.1 44.6,225.2 45.2,225.4 45.8,225.5 46.4,225.6 47,225.6 47.6,225.6 48.2,225.7 48.8,225.7 49.4,225.7 50,225.6 50.6,225.4 51.2,225 51.8,224.8 52.4,224.7 53,224.6 53.6,224.5 54.2,224.3 54.8,224.2 55.4,224.1 56,224.4 56.6,225.1 57.2,226 57.8,226.7 58.4,226.9 59,226.9 59.6,226.9 60.2,226.9 60.8,226.9 61.4,226.9 62,226.7 62.6,226.3 63.2,225.9 63.8,225.5 64.4,225.4 65,225.6 65.6,226.1 66.2,226.7 66.8,227.1 67.4,227.3 68,227.3 68.6,227.2 69.2,227.1 69.8,227 70.4,227 71,226.9 71.6,226.7 72.2,226.4 72.8,226.2 73.4,226.1 74,226 74.6,225.7 75.2,225.4 75.8,225 76.4,224.9 77,225 77.6,225 78.2,225.1 78.8,225.2 79.4,225.2 80,225.3 80.6,225.4 81.2,225.7 81.8,225.9 82.4,225.9 83,225.9 83.6,225.9 84.2,225.9 84.8,225.9 85.4,225.9 86,224.8 86.6,222.6 87.2,223.4 87.8,224 88.4,221.3 89,221.9 89.6,214.1 90.2,196.5 90.8,202.4 91.4,207 92,210.2 92.6,212.2 93.2,213.5 93.8,214.5 94.4,215.7 95,216.6 95.6,216.7 96.2,216.4 96.8,216.2 97.4,216.4 98,216.9 98.6,217.4 99.2,218 99.8,218.4 100.4,218.6 101,218.8 101.6,219.1 102.2,219.4 102.8,219.5 103.4,219.6 104,220.3 104.6,221.9 105.2,223.9 105.8,225.5 106.4,226.1 107,225.6 107.6,224.3 108.2,222.6 108.8,221.3 109.4,220.8 110,220.9 110.6,221.2 111.2,221.5 111.8,221.8 112.4,221.9 113,221.6 113.6,220.9 114.2,220 114.8,219.2 115.4,219 116,219 116.6,219.1 117.2,219.3 117.8,219.4 118.4,219.4 119,219.8 119.6,220.8 120.2,222 120.8,222.9 121.4,223.3 122,223.4 122.6,223.7 123.2,223.9 123.8,224.2 124.4,213.1 125,192.4 125.6,198.2 126.2,202.8 126.8,206.7 127.4,209.8 128,212.2 128.6,213.7 129.2,214.8 129.8,215.6 130.4,216.6 131,217.5 131.6,218.2 132.2,218.7 132.8,219.1 133.4,219.5 134,220 134.6,220.9 135.2,221.8 135.8,219.5 136.4,212.7 137,215.2 137.6,216.9 138.2,218.1 138.8,218.9 139.4,219.7 140,220.4 140.6,221.1 141.2,221.7 141.8,222.1 142.4,222.4 143,222.5 143.6,222.4 144.2,222.1 144.8,222 145.4,218.3 146,210.8 146.6,213.1 147.2,214.2 147.8,214.7 148.4,214.1 149,215.9 149.6,218.1 150.2,220.2 150.8,221.8 151.4,222.6 152,222.5 152.6,222.1 153.2,221.4 153.8,220.9 154.4,220.8 155,220.8 155.6,221 156.2,221.1 156.8,221.2 157.4,221.3" fill="none" stroke="#8c8c8c" stroke-width="0.60" opacity="0.45" stroke-linejoin="round"/>
<polyline points="28.4,223.7 29,224 29.6,224.7 30.2,225.5 30.8,226.2 31.4,225.7 32,224 32.6,223.8 33.2,223.3 33.8,222.9 34.4,222.9 35,223.4 35.6,224.4 36.2,225.5 36.8,226.5 37.4,226.8 38,226.5 38.6,225.4 39.2,224 39.8,214.5 40.4,198.4 41,206.4 41.6,212.2 42.2,216.4 42.8,219.3 43.4,221.1 44,222.3 44.6,223.4 45.2,224.3 45.8,225 46.4,225.4 47,225.4 47.6,225.2 48.2,224.6 48.8,224.2 49.4,224 50,224.2 50.6,224.9 51.2,225.6 51.8,226.2 52.4,226.5 53,226.5 53.6,226.4 54.2,226.4 54.8,226.4 55.4,226.4 56,226.4 56.6,221.1 57.2,211.3 57.8,214.4 58.4,216.9 59,218.8 59.6,220.2 60.2,221.2 60.8,222 61.4,222.7 62,223.4 62.6,224.2 63.2,224.9 63.8,225.5 64.4,225.9 65,225.8 65.6,225.3 66.2,224.6 66.8,224.1 67.4,223.9 68,224.2 68.6,224.7 69.2,225.5 69.8,226 70.4,226.2 71,226.2 71.6,225.9 72.2,225.7 72.8,225.4 73.4,225.4 74,225.4 74.6,225.6 75.2,225.8 75.8,225.9 76.4,226 77,226 77.6,226.1 78.2,226.1 78.8,226.1 79.4,226.2 80,226.1 80.6,225.9 81.2,225.7 81.8,225.5 82.4,225.4 83,225.5 83.6,225.6 84.2,225.7 84.8,225.8 85.4,225.8 86,225.8 86.6,225.7 87.2,225.5 87.8,225.4 88.4,221.4 89,213.5 89.6,198.9 90.2,207.8 90.8,213.2 91.4,216.5 92,218.6 92.6,219.9 93.2,220.7 93.8,221.2 94.4,221.5 95,221.8 95.6,222.4 96.2,222.7 96.8,210.8 97.4,188.2 98,194.6 98.6,200 99.2,201.2 99.8,207.9 100.4,211.1 101,212.5 101.6,211.9 102.2,210.5 102.8,209.3 103.4,209.4 104,211.3 104.6,214.8 105.2,218.9 105.8,222.1 106.4,223.6 107,223.6 107.6,223.1 108.2,222.3 108.8,221.7 109.4,221.6 110,221.7 110.6,221.8 111.2,221.9 111.8,222 112.4,222.1 113,220 113.6,207.5 114.2,181.2 114.8,189.4 115.4,196.1 116,201.5 116.6,205.7 117.2,209 117.8,211.5 118.4,213.4 119,214.9 119.6,216 120.2,216.9 120.8,217.6 121.4,218.2 122,218.4 122.6,218.4 123.2,218.2 123.8,218 124.4,218 125,215.7 125.6,210.9 126.2,215.7 126.8,207.9 127.4,178.6 128,189.7 128.6,196.9 129.2,201.7 129.8,205.2 130.4,208.3 131,211.3 131.6,214 132.2,216.3 132.8,218.1 133.4,219.2 134,219.7 134.6,219.9 135.2,219.8 135.8,219.7 136.4,219.7 137,220 137.6,220.8 138.2,221.3 138.8,211.1 139.4,191.7 140,197.2 140.6,201.9 141.2,205.9 141.8,209.1 142.4,211.6 143,213.5 143.6,214.8 144.2,215.7 144.8,216.5 145.4,217.3 146,215.1 146.6,216.7 147.2,217.3 147.8,217.3 148.4,217.4 149,218 149.6,219.1 150.2,220.4 150.8,221.4 151.4,221.9 152,219.8 152.6,214.8 153.2,215.9 153.8,216.8 154.4,217.7 155,218.1 155.6,218 156.2,217.6 156.8,217.4 157.4,217.5" fill="none" stroke="#8c8c8c" stroke-width="0.60" opacity="0.45" stroke-linejoin="round"/>
<polyline points="28.4,225.5 29,225.3 29.6,224.8 30.2,224.2 30.8,222.6 31.4,220.4 32,221.1 32.6,221.8 33.2,222.5 33.8,223.1 34.4,223.5 35,223.6 35.6,223.6 36.2,223.4 36.8,223.4 37.4,223.4 38,223.4 38.6,223.2 39.2,222.9 39.8,222.7 40.4,222.6 41,222.8 41.6,223.2 42.2,223.4 42.8,223.9 43.4,224.2 44,224.2 44.6,224.1 45.2,224 45.8,223.9 46.4,223.9 47,223.9 47.6,223.7 48.2,223.5 48.8,223.3 49.4,223.2 50,223.5 50.6,224.4 51.2,225.4 51.8,226.3 52.4,226.6 53,226.5 53.6,226.4 54.2,226.2 54.8,226.1 55.4,226 56,225.9 56.6,225.7 57.2,225.4 57.8,225.1 58.4,225 59,225.2 59.6,225.7 60.2,226.4 60.8,226.9 61.4,227.1 62,226.8 62.6,226.1 63.2,225.2 63.8,222.5 64.4,218.5 65,219.7 65.6,220.9 66.2,222 66.8,222.8 67.4,223.4 68,223.7 68.6,223.9 69.2,224 69.8,224 70.4,224.1 71,224.3 71.6,224.5 72.2,224.6 72.8,224.8 73.4,224.9 74,222.8 74.6,218.5 75.2,219.4 75.8,220.1 76.4,220.8 77,221.4 77.6,222 78.2,222.4 78.8,222.8 79.4,223.2 80,223.6 80.6,224.3 81.2,225 81.8,225.6 82.4,225.9 83,225.9 83.6,225.8 84.2,225.6 84.8,225.5 85.4,225.4 86,225.5 86.6,225.7 87.2,226 87.8,226.2 88.4,223.2 89,223.1 89.6,222.7 90.2,217.7 90.8,208.7 91.4,210.7 92,212.4 92.6,213.7 93.2,214.6 93.8,215.4 94.4,216.1 95,217.1 95.6,218.2 96.2,219.4 96.8,220.4 97.4,220.9 98,221.1 98.6,221 99.2,220.7 99.8,220.5 100.4,220.5 101,220.4 101.6,219.9 102.2,219.3 102.8,218.8 103.4,218.6 104,218 104.6,216.7 105.2,219.4 105.8,221.6 106.4,222.7 107,222.9 107.6,222.5 108.2,221.8 108.8,219.6 109.4,219.9 110,220 110.6,219.6 111.2,219 111.8,218.4 112.4,218.3 113,218.2 113.6,217.7 114.2,217.1 114.8,216.6 115.4,216.4 116,216.8 116.6,217.6 117.2,218.6 117.8,219.5 118.4,219.8 119,220.2 119.6,221.3 120.2,222.7 120.8,223.8 121.4,224.3 122,223.4 122.6,221.2 123.2,217.7 123.8,213.8 124.4,213.4 125,214.7 125.6,217.5 126.2,220.7 126.8,223.4 127.4,210.1 128,181.3 128.6,187.4 129.2,191.7 129.8,195.3 130.4,199 131,197.4 131.6,201.5 132.2,205 132.8,207.9 133.4,208.9 134,188.6 134.6,196.3 135.2,201.9 135.8,206 136.4,209.2 137,211.8 137.6,213.8 138.2,215.5 138.8,216.7 139.4,217.6 140,218.1 140.6,218.5 141.2,215.4 141.8,207.3 142.4,210.2 143,212.3 143.6,213.7 144.2,214.7 144.8,215.4 145.4,216.1 146,216.8 146.6,217.6 147.2,218.4 147.8,219 148.4,217.9 149,218.8 149.6,219.6 150.2,220.4 150.8,220.9 151.4,221.2 152,221.2 152.6,221.1 153.2,220.8 153.8,220.7 154.4,220.6 155,218.1 155.6,213.5 156.2,207.8 156.8,210.9 157.4,213.2" fill="none" stroke="#8c8c8c" stroke-width="0.60" opacity="0.45" stroke-linejoin="round"/>
<path d="M89.7,226 C90.7,169.8 91.7,169.8 93.7,226 M93.7,226 C94.7,177.8 95.7,177.8 97.7,226 M98.5,226 C99.8,159.4 101.1,159.4 103.5,226 M101.7,226 C103,154.7 104.3,154.7 106.7,226 M104.5,226 C105.8,166.9 107.1,166.9 109.5,226 M108.2,226 C109.5,162.2 110.8,162.2 113.2,226 M111.6,226 C112.9,174.6 114.2,174.6 116.6,226 M115.3,226 C116.6,139.7 117.9,139.7 120.3,226 M117.6,226 C118.9,175.3 120.2,175.3 122.6,226 M121.2,226 C122.5,184.2 123.8,184.2 126.2,226 M123.6,226 C124.9,189 126.2,189 128.6,226 M126.9,226 C128.2,180 129.5,180 131.9,226 M130,226 C131.3,182.6 132.6,182.6 135,226 M134,226 C135.3,184.2 136.6,184.2 139,226 M137.2,226 C138.5,193.8 139.8,193.8 142.2,226 M140.4,226 C141.7,179.4 143,179.4 145.4,226 M143.8,226 C145.1,174.4 146.4,174.4 148.8,226 M146.6,226 C147.9,172.5 149.2,172.5 151.6,226 M149.4,226 C150.7,169.7 152,169.7 154.4,226 M151.6,226 C152.9,181 154.2,181 156.6,226 M153.2,226 C154.5,190.6 155.8,190.6 158.2,226 M96,226 C97.3,172 98.6,172 101,226 M110,226 C111.3,158 112.6,158 115,226 M125,226 C126.3,166 127.6,166 130,226 M132,226 C133.3,170 134.6,170 137,226 M139,226 C140.3,162 141.6,162 144,226 M148,226 C149.3,158 150.6,158 153,226" fill="none" stroke="#8a8a8a" stroke-width="0.70" opacity="0.80"/>
<path d="M33.6,226 L35.1,166 L38.1,226 M54.8,226 L56.3,178.1 L59.3,226 M29,226 L31,205 L34,226 M43,226 L45,212 L48,226 M48.5,226 L50,205 L52,226 M64,226 L66,200 L69,226 M70,226 L72,208 L75,226 M76,226 L78,214 L81,226" fill="none" stroke="#b0b0b0" stroke-width="0.55" opacity="0.90" stroke-linejoin="round"/>
<polyline points="28.4,224.5 35,222 40,224.8 45,223 50,226.3 55,224 60,226.5 66,223 72,226.3 80,225.5 86,223 90,216 94,220 98,214 102,208 105,214 108,205 111,212 115,203 118,209 121,214 125,211 128,217 131,219.7 136,220.2 140,218 142.3,219.1 146,214 149.4,216.1 152.5,220.2 156.5,223.2" fill="none" stroke="#2a2a2a" stroke-width="0.70" stroke-linejoin="round" stroke-linecap="round" opacity="1.00"/>
<polyline points="28.6,219.1 30.1,223.2 31.6,217.1 32.6,196.5 33.3,197.5 34.7,216.1 36.7,225.2 39.2,223.2 44.3,224.7 49.3,225.7 50.3,218.1 52,198.2 54.4,221.2 57.4,225.7 60,225.2 61.7,201.3 64.5,223.2 67.5,225.7 69.6,222.2 71.6,227.2 74.6,204.3 76.7,223.5 79.7,227.6 81.7,200.2 83.7,227.6 85.8,225.5 86.6,212 87.2,190 87.8,167.1 89,175 90,187 91,190 92.5,198 93.5,205 94.6,217.1 97.2,222.2 102.2,224.7 103.7,210 105.8,222.2 107.6,191.1 109.8,223.2 111.8,209 114.4,217.1 117.4,223.2 120.4,225.2 123,219.1 124.5,213.1 126.8,204 127.5,203.3 128.5,220.2 131.6,223.2 137.3,223.7 140.3,223.2 142.8,215.1 144.9,220.2 146.4,215.1 148.9,223.2 151.5,225.2 154.5,223.2 155.5,217.1 157,222.2" fill="none" stroke="#0000ff" stroke-width="1.20" stroke-linejoin="round" stroke-linecap="round" opacity="1.00"/>
</g>
<clipPath id="cp5"><rect x="188.8" y="136.5" width="141.8" height="96.9"/></clipPath>
<g clip-path="url(#cp5)">
<polyline points="194.7,227.8 195.3,227.7 195.9,227.5 196.5,227.3 197.1,227.1 197.7,227 198.3,226.9 198.9,226.6 199.5,226.2 200.1,225.9 200.7,225.8 201.3,225.6 201.9,225.2 202.5,224.7 203.1,224.2 203.7,224.1 204.3,224.3 204.9,225.1 205.5,225.9 206.1,226.7 206.7,226.3 207.3,225 207.9,225.6 208.5,225.4 209.1,225.1 209.7,225 210.3,225 210.9,225.1 211.5,225.2 212.1,225.3 212.7,225.3 213.3,225.2 213.9,225.1 214.5,224.8 215.1,224.7 215.7,224.6 216.3,224.7 216.9,224.8 217.5,225 218.1,225.2 218.7,225.3 219.3,225.3 219.9,225.4 220.5,225.5 221.1,225.6 221.7,225.6 222.3,225.5 222.9,225.4 223.5,225.3 224.1,225.1 224.7,225.1 225.3,225.1 225.9,225.2 226.5,225.2 227.1,225.3 227.7,225.3 228.3,225.3 228.9,225.1 229.5,224.8 230.1,224.6 230.7,224.6 231.3,224.5 231.9,224.2 232.5,223.9 233.1,223.6 233.7,223.5 234.3,223.6 234.9,224 235.5,224.4 236.1,224.8 236.7,224.9 237.3,224.8 237.9,224.7 238.5,224.4 239.1,224.3 239.7,217.2 240.3,204.4 240.9,211.5 241.5,216.3 242.1,219.6 242.7,221.7 243.3,223.1 243.9,224 244.5,224.7 245.1,225.2 245.7,225.5 246.3,225.7 246.9,225.7 247.5,225.9 248.1,225.9 248.7,225.8 249.3,225.9 249.9,225.9 250.5,225.9 251.1,225.9 251.7,225.9 252.3,225.7 252.9,225.2 253.5,224.5 254.1,224 254.7,223.8 255.3,224.1 255.9,224.8 256.5,225.7 257.1,226.5 257.7,226.8 258.3,226.6 258.9,226.3 259.5,225.9 260.1,225.6 260.7,212.2 261.3,187.6 261.9,207.2 262.5,217.2 263.1,222.4 263.7,224.9 264.3,226.1 264.9,226.6 265.5,227.1 266.1,227.1 266.7,227.1 267.3,227 267.9,226.8 268.5,226.6 269.1,226.5 269.7,226.4 270.3,226.2 270.9,225.6 271.5,224.9 272.1,224.3 272.7,224.1 273.3,224.2 273.9,224.4 274.5,224.7 275.1,225 275.7,225 276.3,225.2 276.9,225.7 277.5,226.3 278.1,226.8 278.7,227 279.3,226.8 279.9,226.4 280.5,225.8 281.1,225.3 281.7,225.1 282.3,225.1 282.9,225.1 283.5,225.2 284.1,225.2 284.7,220.2 285.3,210.7 285.9,215.4 286.5,218.4 287.1,220.5 287.7,221.9 288.3,222.9 288.9,223.7 289.5,224.3 290.1,224.7 290.7,224.9 291.3,224.8 291.9,224.3 292.5,223.7 293.1,223 293.7,222.8 294.3,223 294.9,223.7 295.5,224.5 296.1,225.2 296.7,225.4 297.3,225.5 297.9,225.7 298.5,225.9 299.1,226 299.7,226.1 300.3,226 300.9,225.8 301.5,225.6 302.1,225.3 302.7,225.3 303.3,225.2 303.9,225.1 304.5,220.2 305.1,211.4 305.7,218.4 306.3,221.5 306.9,222.9 307.5,223.6 308.1,223.9 308.7,224 309.3,224.5 309.9,225.5 310.5,226.6 311.1,227.5 311.7,227.8 312.3,227.4 312.9,226.4 313.5,225.1 314.1,224.1 314.7,223.8 315.3,223.9 315.9,224.3 316.5,224.8 317.1,225.2 317.7,225.3 318.3,225.4 318.9,225.4 319.5,225.5 320.1,225.5 320.7,225.6 321.3,225.7 321.9,225.9 322.5,226.2 323.1,226.5" fill="none" stroke="#b5b5b5" stroke-width="0.50" opacity="0.50" stroke-linejoin="round"/>
<polyline points="194.7,224 195.3,224.1 195.9,224.3 196.5,224.6 197.1,224.8 197.7,224.9 198.3,224.9 198.9,224.9 199.5,225 200.1,225 200.7,225.1 201.3,225 201.9,224.7 202.5,224.4 203.1,224.2 203.7,224.1 204.3,224 204.9,221.6 205.5,216.7 206.1,219.4 206.7,221.2 207.3,222.5 207.9,223.3 208.5,224 209.1,224.5 209.7,224.8 210.3,224.9 210.9,224.7 211.5,224.5 212.1,224.3 212.7,224.3 213.3,224.2 213.9,224.1 214.5,223.8 215.1,223.6 215.7,223.6 216.3,223.5 216.9,216.1 217.5,202.5 218.1,212.9 218.7,217.9 219.3,220.5 219.9,222.3 220.5,223.5 221.1,224.6 221.7,224.9 222.3,224.8 222.9,224.7 223.5,224.6 224.1,224.4 224.7,224.4 225.3,224.4 225.9,224.3 226.5,224.2 227.1,224.1 227.7,224.1 228.3,224 228.9,223.8 229.5,223.5 230.1,223.3 230.7,223.2 231.3,223.2 231.9,223.3 232.5,223.5 233.1,223.6 233.7,219.3 234.3,211.3 234.9,216.2 235.5,219.4 236.1,221.4 236.7,222.6 237.3,223.5 237.9,224.5 238.5,225.3 239.1,226 239.7,226.3 240.3,226.3 240.9,226.1 241.5,225.9 242.1,225.6 242.7,225.6 243.3,225.4 243.9,225.1 244.5,224.6 245.1,224.3 245.7,224.1 246.3,224.3 246.9,224.9 247.5,225.5 248.1,226 248.7,226.2 249.3,225.7 249.9,224.4 250.5,222.9 251.1,221.6 251.7,221.1 252.3,221.5 252.9,222.7 253.5,224.2 254.1,225.4 254.7,225.8 255.3,225.7 255.9,225.3 256.5,224.7 257.1,224.3 257.7,224.2 258.3,224 258.9,223.7 259.5,223.2 260.1,222.8 260.7,222.7 261.3,222.9 261.9,223.4 262.5,220.7 263.1,215 263.7,218 264.3,219.8 264.9,220.6 265.5,220.9 266.1,221 266.7,221.3 267.3,221.9 267.9,222.9 268.5,224 269.1,224.9 269.7,225.3 270.3,224.9 270.9,223.7 271.5,224.2 272.1,224.6 272.7,224.8 273.3,225 273.9,221.8 274.5,215 275.1,220.7 275.7,223.5 276.3,224.6 276.9,224.5 277.5,224 278.1,223.4 278.7,223.3 279.3,223.4 279.9,223.6 280.5,223.9 281.1,224.2 281.7,224.3 282.3,224.2 282.9,224.1 283.5,224 284.1,223.9 284.7,223.9 285.3,223.7 285.9,223.2 286.5,222.6 287.1,222.1 287.7,222 288.3,222 288.9,220 289.5,216.3 290.1,218.3 290.7,219.6 291.3,220.7 291.9,222 292.5,223.1 293.1,224.1 293.7,224.5 294.3,224.7 294.9,219.9 295.5,210.5 296.1,215.8 296.7,219.3 297.3,221.5 297.9,222.9 298.5,223.9 299.1,224.5 299.7,224.9 300.3,224.9 300.9,224.3 301.5,223.4 302.1,222.8 302.7,222.5 303.3,222.9 303.9,223.7 304.5,224.7 305.1,225.5 305.7,225.9 306.3,225.6 306.9,225 307.5,224.3 308.1,223.6 308.7,223.4 309.3,223.7 309.9,224.5 310.5,225.5 311.1,226.2 311.7,226.5 312.3,226.3 312.9,225.7 313.5,225 314.1,224.3 314.7,224.1 315.3,224.3 315.9,224.8 316.5,225.5 317.1,226 317.7,226.2 318.3,226.2 318.9,226.2 319.5,226.1 320.1,226.1 320.7,226.1 321.3,225.8 321.9,225.1 322.5,224.2 323.1,223.5" fill="none" stroke="#b5b5b5" stroke-width="0.50" opacity="0.50" stroke-linejoin="round"/>
<polyline points="194.7,221.6 195.3,221.3 195.9,220.7 196.5,219.9 197.1,219.2 197.7,218.9 198.3,218.8 198.9,218.2 199.5,217.6 200.1,217.1 200.7,216.9 201.3,217.2 201.9,218 202.5,219.1 203.1,219.9 203.7,220.2 204.3,220 204.9,219.5 205.5,218.9 206.1,218.4 206.7,218.2 207.3,218.3 207.9,218.4 208.5,218.6 209.1,218.7 209.7,218.7 210.3,218.6 210.9,218.3 211.5,218 212.1,217.6 212.7,217.5 213.3,217.9 213.9,218.8 214.5,219.9 215.1,220.8 215.7,221.1 216.3,220.9 216.9,220.2 217.5,219.3 218.1,218.6 218.7,218.4 219.3,218.8 219.9,220 220.5,221.4 221.1,222.5 221.7,223 222.3,222.6 222.9,221.7 223.5,220.5 224.1,219.6 224.7,219.2 225.3,219 225.9,218.5 226.5,217.9 227.1,217.4 227.7,217.2 228.3,217.4 228.9,218.1 229.5,219 230.1,219.7 230.7,220 231.3,219.7 231.9,219 232.5,218.2 233.1,217.5 233.7,217.3 234.3,217.3 234.9,217.3 235.5,217.4 236.1,217.4 236.7,217.4 237.3,217.6 237.9,218 238.5,218.5 239.1,218.9 239.7,217.3 240.3,214.1 240.9,215.8 241.5,216.8 242.1,217.3 242.7,217.7 243.3,218 243.9,218.1 244.5,218.2 245.1,218.3 245.7,218.3 246.3,218.2 246.9,217.9 247.5,217.5 248.1,217.2 248.7,217.1 249.3,217.4 249.9,218.2 250.5,219.3 251.1,220.1 251.7,220.4 252.3,219.9 252.9,218.4 253.5,216.6 254.1,215.2 254.7,214.7 255.3,215.4 255.9,217.4 256.5,219.8 257.1,221.7 257.7,222.5 258.3,222.4 258.9,222.3 259.5,222.2 260.1,222.1 260.7,222 261.3,221.9 261.9,221.5 262.5,221 263.1,220.7 263.7,218 264.3,213.3 264.9,216.2 265.5,217.9 266.1,218.8 266.7,219.4 267.3,219.5 267.9,219.1 268.5,218.4 269.1,217.9 269.7,217.7 270.3,218.2 270.9,219.6 271.5,221.2 272.1,222.6 272.7,223.1 273.3,222.7 273.9,221.7 274.5,220.5 275.1,219.5 275.7,219.1 276.3,219.2 276.9,219.5 277.5,219.8 278.1,220.1 278.7,220.2 279.3,220.8 279.9,222.3 280.5,224.2 281.1,225.8 281.7,226.4 282.3,225.7 282.9,223.8 283.5,221.5 284.1,219.7 284.7,219 285.3,219.3 285.9,220.2 286.5,221.3 287.1,222.2 287.7,222.5 288.3,222.3 288.9,221.8 289.5,211.2 290.1,192.2 290.7,209.4 291.3,215.8 291.9,217.6 292.5,217.5 293.1,217.3 293.7,217 294.3,217.1 294.9,217.4 295.5,217.7 296.1,213.1 296.7,204 297.3,212.9 297.9,216.5 298.5,218.1 299.1,218.9 299.7,219.3 300.3,219 300.9,218.4 301.5,217.7 302.1,217.1 302.7,216.9 303.3,217.2 303.9,218 304.5,219.1 305.1,220 305.7,220.3 306.3,220.1 306.9,219.5 307.5,218.7 308.1,218.1 308.7,217.9 309.3,218.4 309.9,219.6 310.5,221.1 311.1,222.3 311.7,222.8 312.3,222.2 312.9,220.6 313.5,218.7 314.1,217.1 314.7,215.4 315.3,213.8 315.9,215.7 316.5,217.3 317.1,214 317.7,204.9 318.3,209 318.9,190.7 319.5,199.8 320.1,205.9 320.7,210.1 321.3,213.1 321.9,215.3 322.5,217 323.1,218.3" fill="none" stroke="#b5b5b5" stroke-width="0.50" opacity="0.50" stroke-linejoin="round"/>
<polyline points="194.7,224.8 195.3,224.8 195.9,224.7 196.5,223.7 197.1,221.9 197.7,223.2 198.3,224 198.9,224.9 199.5,225.7 200.1,221.9 200.7,213.9 201.3,220.5 201.9,223 202.5,223.6 203.1,223.7 203.7,223.7 204.3,219.5 204.9,211.2 205.5,218 206.1,220.8 206.7,222 207.3,222.5 207.9,222.8 208.5,222.6 209.1,222.5 209.7,222.5 210.3,222.6 210.9,223 211.5,223.4 212.1,223.8 212.7,223.9 213.3,223.9 213.9,223.8 214.5,223.7 215.1,223.6 215.7,223.6 216.3,223.6 216.9,223.8 217.5,223.9 218.1,224 218.7,224.1 219.3,224.1 219.9,224.2 220.5,224.2 221.1,224.3 221.7,224.3 222.3,224.2 222.9,223.8 223.5,223.3 224.1,222.9 224.7,222.8 225.3,222.6 225.9,222 226.5,221.3 227.1,220.8 227.7,220.6 228.3,220.9 228.9,221.6 229.5,222.4 230.1,223.1 230.7,223.4 231.3,223.5 231.9,223.7 232.5,224 233.1,224.2 233.7,224.3 234.3,224.4 234.9,224.7 235.5,225 236.1,225.3 236.7,225.4 237.3,225.2 237.9,224.8 238.5,224.1 239.1,223.6 239.7,223.5 240.3,223.5 240.9,223.7 241.5,224 242.1,224.2 242.7,224.3 243.3,224 243.9,223.4 244.5,222.6 245.1,222 245.7,221.7 246.3,222 246.9,222.8 247.5,222.9 248.1,222 248.7,223.3 249.3,223.9 249.9,224 250.5,223.9 251.1,223.8 251.7,223.8 252.3,223.8 252.9,223.9 253.5,224 254.1,224 254.7,223.1 255.3,221.2 255.9,221.6 256.5,220.6 257.1,220.8 257.7,221 258.3,221.8 258.9,222.1 259.5,221 260.1,224.2 260.7,225.6 261.3,225.9 261.9,225.8 262.5,225.4 263.1,225.1 263.7,225 264.3,224.9 264.9,224.6 265.5,224.4 266.1,224.1 266.7,224 267.3,224.2 267.9,224.6 268.5,225.1 269.1,225.4 269.7,225.6 270.3,225.8 270.9,226.1 271.5,226.6 272.1,227 272.7,227.2 273.3,226.9 273.9,226.1 274.5,225.1 275.1,224.2 275.7,223.9 276.3,224 276.9,224.1 277.5,224.2 278.1,224.3 278.7,224.4 279.3,224.3 279.9,224.2 280.5,224 281.1,223.9 281.7,223.8 282.3,224 282.9,224.6 283.5,225.2 284.1,225.7 284.7,225.9 285.3,225.8 285.9,225.6 286.5,225.4 287.1,225.2 287.7,225.1 288.3,225.1 288.9,225.1 289.5,225 290.1,224.9 290.7,224.9 291.3,224.7 291.9,224.2 292.5,223.5 293.1,223 293.7,222.8 294.3,222.8 294.9,222.9 295.5,223.1 296.1,223.2 296.7,223.2 297.3,223.2 297.9,221.4 298.5,217.9 299.1,220 299.7,221.4 300.3,222.5 300.9,223.8 301.5,225.1 302.1,226.1 302.7,226.5 303.3,226.2 303.9,225.1 304.5,223.7 305.1,222.6 305.7,222.2 306.3,222.3 306.9,222.7 307.5,223.2 308.1,223.6 308.7,223.8 309.3,223.8 309.9,224 310.5,224.1 311.1,224.3 311.7,224.3 312.3,224.2 312.9,223.9 313.5,223.6 314.1,223.3 314.7,223.2 315.3,223.3 315.9,223.6 316.5,224 317.1,224.3 317.7,224.4 318.3,224.6 318.9,225.1 319.5,225.8 320.1,219.1 320.7,205.9 321.3,215 321.9,219 322.5,220.5 323.1,221" fill="none" stroke="#b5b5b5" stroke-width="0.50" opacity="0.50" stroke-linejoin="round"/>
<polyline points="194.7,228.4 195.3,228.3 195.9,228.2 196.5,228.1 197.1,228 197.7,228 198.3,227.8 198.9,227.4 199.5,226.9 200.1,226.4 200.7,226.3 201.3,226.3 201.9,226.5 202.5,226.7 203.1,226.9 203.7,226.9 204.3,226.8 204.9,226.4 205.5,225.9 206.1,225.5 206.7,225.3 207.3,225.5 207.9,225.8 208.5,226.3 209.1,226.6 209.7,226.8 210.3,226.6 210.9,226.3 211.5,225.9 212.1,225.5 212.7,225.4 213.3,225.6 213.9,226.1 214.5,226.8 215.1,227.4 215.7,227.6 216.3,227.4 216.9,227 217.5,226.4 218.1,225.9 218.7,225.8 219.3,225.7 219.9,225.4 220.5,225.1 221.1,224.9 221.7,224.8 222.3,224.9 222.9,225.3 223.5,225.7 224.1,226.2 224.7,226.4 225.3,226.5 225.9,226.7 226.5,227 227.1,227.2 227.7,227.3 228.3,227.3 228.9,227.4 229.5,227.6 230.1,227.7 230.7,227.7 231.3,227.5 231.9,227 232.5,226.3 233.1,225.8 233.7,225.6 234.3,225.5 234.9,225.5 235.5,225.4 236.1,223 236.7,218.8 237.3,221 237.9,222.7 238.5,224 239.1,224.9 239.7,225.4 240.3,225.7 240.9,225.9 241.5,226 242.1,226.1 242.7,226.1 243.3,226.1 243.9,225.8 244.5,225.4 245.1,225.1 245.7,224.9 246.3,225 246.9,225.3 247.5,225.6 248.1,225.9 248.7,226 249.3,225.8 249.9,225.4 250.5,224.8 251.1,224.4 251.7,224.2 252.3,224.3 252.9,224.6 253.5,224.8 254.1,225.1 254.7,225.2 255.3,225.1 255.9,225 256.5,224.9 257.1,224.8 257.7,224.8 258.3,224.8 258.9,225 259.5,225.2 260.1,225.3 260.7,225.4 261.3,225.5 261.9,225.9 262.5,226.3 263.1,226.7 263.7,226.8 264.3,226.7 264.9,226.5 265.5,226.3 266.1,226.1 266.7,226 267.3,226 267.9,226.2 268.5,226.4 269.1,226.6 269.7,226.6 270.3,226.5 270.9,226.3 271.5,225.9 272.1,225.7 272.7,225.6 273.3,225.6 273.9,225.6 274.5,225.7 275.1,225.7 275.7,225.7 276.3,225.7 276.9,225.7 277.5,225.7 278.1,225.7 278.7,225.7 279.3,225.9 279.9,226.2 280.5,226.6 281.1,227 281.7,227.1 282.3,227.1 282.9,227 283.5,226.8 284.1,226.7 284.7,226.7 285.3,226.8 285.9,227.1 286.5,227.4 287.1,227.7 287.7,227.8 288.3,227.6 288.9,227.1 289.5,226.5 290.1,226 290.7,225.8 291.3,225.9 291.9,226.2 292.5,226.5 293.1,226.7 293.7,226.8 294.3,226.7 294.9,226.4 295.5,226 296.1,225.8 296.7,225.7 297.3,225.8 297.9,226.1 298.5,226.4 299.1,226.8 299.7,226.9 300.3,226.9 300.9,226.9 301.5,227 302.1,227.1 302.7,227.1 303.3,225.3 303.9,221.8 304.5,223.3 305.1,224.2 305.7,224.9 306.3,225.4 306.9,225.5 307.5,225.5 308.1,225.5 308.7,225.5 309.3,225.6 309.9,225.6 310.5,225.6 311.1,225.5 311.7,225.5 312.3,225.6 312.9,225.6 313.5,225.7 314.1,225.7 314.7,225.7 315.3,225.8 315.9,225.9 316.5,226.1 317.1,226.3 317.7,226.3 318.3,226.3 318.9,226.1 319.5,225.9 320.1,225.7 320.7,225.7 321.3,225.7 321.9,225.7 322.5,225.8 323.1,225.8" fill="none" stroke="#b5b5b5" stroke-width="0.50" opacity="0.50" stroke-linejoin="round"/>
<polyline points="194.7,222.7 195.3,222.9 195.9,223.4 196.5,224.1 197.1,222.3 197.7,218.3 198.3,220.5 198.9,222.2 199.5,223.5 200.1,224.4 200.7,225 201.3,225.3 201.9,225.6 202.5,225.7 203.1,225.9 203.7,225.9 204.3,226.1 204.9,226.5 205.5,227 206.1,227.3 206.7,227.4 207.3,227.2 207.9,226.5 208.5,225.7 209.1,225.1 209.7,224.8 210.3,224.4 210.9,223.5 211.5,222.3 212.1,221.3 212.7,221 213.3,221.4 213.9,222.6 214.5,224.1 215.1,225.3 215.7,225.8 216.3,225.9 216.9,226.1 217.5,226.5 218.1,226.7 218.7,226.8 219.3,226.7 219.9,226.3 220.5,225.9 221.1,223 221.7,218.4 222.3,222 222.9,223 223.5,222.9 224.1,222.6 224.7,222.5 225.3,222.7 225.9,223.1 226.5,223.6 227.1,224 227.7,224.1 228.3,224.2 228.9,224.2 229.5,224.3 230.1,224.4 230.7,224.4 231.3,224.4 231.9,224.2 232.5,224 233.1,223.9 233.7,223.8 234.3,223.7 234.9,223.5 235.5,223.3 236.1,223 236.7,223 237.3,223 237.9,223.2 238.5,223.4 239.1,223.6 239.7,223.7 240.3,214.9 240.9,198.5 241.5,207.6 242.1,213.2 242.7,216.7 243.3,219.2 243.9,221.4 244.5,223.2 245.1,224.5 245.7,225.1 246.3,225.2 246.9,225.1 247.5,224.7 248.1,224.3 248.7,224.1 249.3,224.2 249.9,224.4 250.5,224.7 251.1,224.9 251.7,224.9 252.3,224.7 252.9,223.9 253.5,223 254.1,222.2 254.7,221.9 255.3,222.1 255.9,222.6 256.5,223.3 257.1,223.8 257.7,224 258.3,224 258.9,224 259.5,224 260.1,224 260.7,224 261.3,224 261.9,224.2 262.5,224.5 263.1,224.6 263.7,224.7 264.3,224.7 264.9,224.5 265.5,224.4 266.1,224.3 266.7,224.2 267.3,224 267.9,223.3 268.5,222.4 269.1,221.7 269.7,221.5 270.3,222 270.9,223.5 271.5,225.3 272.1,226.8 272.7,227.4 273.3,227.3 273.9,227.2 274.5,227.1 275.1,226.9 275.7,226.9 276.3,226.8 276.9,226.4 277.5,226 278.1,225.4 278.7,223.3 279.3,218.9 279.9,220.7 280.5,221.5 281.1,221.8 281.7,222.2 282.3,222.6 282.9,222.9 283.5,223.2 284.1,223.4 284.7,223.5 285.3,223.8 285.9,224.2 286.5,224.7 287.1,225.1 287.7,225.3 288.3,225.3 288.9,225.5 289.5,225.6 290.1,225.8 290.7,225.8 291.3,225.8 291.9,225.5 292.5,225.3 293.1,225.1 293.7,225 294.3,224.8 294.9,224.4 295.5,224 296.1,223.6 296.7,223.4 297.3,223.5 297.9,223.6 298.5,223.8 299.1,223.9 299.7,224 300.3,224 300.9,224.1 301.5,224.2 302.1,224.3 302.7,224.3 303.3,224.3 303.9,224.1 304.5,223.9 305.1,223.7 305.7,223.7 306.3,223.5 306.9,222.9 307.5,222.2 308.1,221.6 308.7,220.2 309.3,218.4 309.9,220.8 310.5,223.1 311.1,224.7 311.7,225.5 312.3,225.3 312.9,224.5 313.5,223.4 314.1,222.6 314.7,222.2 315.3,222.5 315.9,223.1 316.5,223.9 317.1,224.5 317.7,224.7 318.3,224.4 318.9,223.8 319.5,222.9 320.1,222.3 320.7,222 321.3,222.2 321.9,222.8 322.5,223.4 323.1,224" fill="none" stroke="#b5b5b5" stroke-width="0.50" opacity="0.50" stroke-linejoin="round"/>
<polyline points="194.7,222 195.3,222.3 195.9,223.2 196.5,224.3 197.1,225.2 197.7,225.5 198.3,225.4 198.9,225.3 199.5,225.1 200.1,225 200.7,224.9 201.3,224.5 201.9,223.6 202.5,222.4 203.1,221.5 203.7,221.1 204.3,221 204.9,220.8 205.5,220.4 206.1,220.2 206.7,220 207.3,220.4 207.9,221.5 208.5,222.8 209.1,223.8 209.7,224.2 210.3,224.2 210.9,224.2 211.5,224.2 212.1,224.2 212.7,224.2 213.3,224.1 213.9,223.6 214.5,223.1 215.1,222.6 215.7,222.4 216.3,222.4 216.9,221 217.5,218.5 218.1,220.1 218.7,220.9 219.3,221.6 219.9,222.5 220.5,223.4 221.1,224.1 221.7,224.4 222.3,224.3 222.9,223.9 223.5,223.5 224.1,223.2 224.7,223.1 225.3,222.8 225.9,222.1 226.5,221.3 227.1,220.6 227.7,220.3 228.3,220.2 228.9,220 229.5,219.6 230.1,219.4 230.7,219.3 231.3,219.7 231.9,220.9 232.5,222.3 233.1,223.4 233.7,223.9 234.3,223.8 234.9,223.8 235.5,223.8 236.1,223.8 236.7,223.8 237.3,223.6 237.9,223.3 238.5,222.9 239.1,222.6 239.7,222.5 240.3,222.6 240.9,222.9 241.5,223.3 242.1,223.6 242.7,223.7 243.3,223.5 243.9,223 244.5,222.3 245.1,221.7 245.7,221.5 246.3,221.5 246.9,221.4 247.5,221.2 248.1,221.1 248.7,221.1 249.3,221.2 249.9,221.4 250.5,221.7 251.1,221.9 251.7,222 252.3,214.4 252.9,200.7 253.5,208.4 254.1,213.9 254.7,217.6 255.3,219.9 255.9,221.6 256.5,220.3 257.1,222.8 257.7,224.2 258.3,224.5 258.9,224.1 259.5,223.5 260.1,223 260.7,222.8 261.3,223 261.9,222.7 262.5,222.4 263.1,222.2 263.7,222.1 264.3,222.1 264.9,222 265.5,222 266.1,221.9 266.7,221.9 267.3,222.1 267.9,222.6 268.5,223.2 269.1,223.7 269.7,223.9 270.3,224 270.9,224.3 271.5,224.6 272.1,224.4 272.7,223.7 273.3,223.8 273.9,223.2 274.5,222.2 275.1,221.4 275.7,221.1 276.3,221.3 276.9,221.8 277.5,222.4 278.1,222.9 278.7,223 279.3,223.1 279.9,223.3 280.5,223.6 281.1,223.8 281.7,223.9 282.3,223.8 282.9,223.6 283.5,223.3 284.1,223.1 284.7,223 285.3,222.6 285.9,221.4 286.5,220 287.1,218.8 287.7,218.4 288.3,218.6 288.9,219.3 289.5,220 290.1,220.7 290.7,220.9 291.3,221.2 291.9,222 292.5,222.9 293.1,223.7 293.7,224 294.3,223.7 294.9,223 295.5,222.1 296.1,221.4 296.7,221.1 297.3,221 297.9,220.5 298.5,219.9 299.1,219.7 299.7,219.7 300.3,220 300.9,220.5 301.5,221 302.1,221.5 302.7,221.7 303.3,222.1 303.9,223.1 304.5,224.4 305.1,225.4 305.7,225.8 306.3,225.6 306.9,225.2 307.5,224.6 308.1,224.2 308.7,224 309.3,223.7 309.9,222.9 310.5,222 311.1,221.2 311.7,220.9 312.3,221.1 312.9,221.6 313.5,222.2 314.1,222.6 314.7,222.8 315.3,222.8 315.9,222.7 316.5,222.5 317.1,222.4 317.7,222.3 318.3,222.6 318.9,223.3 319.5,224.2 320.1,224.9 320.7,225.1 321.3,224.9 321.9,224.2 322.5,223.3 323.1,222.7" fill="none" stroke="#b5b5b5" stroke-width="0.50" opacity="0.50" stroke-linejoin="round"/>
<polyline points="194.7,226.6 195.3,226.6 195.9,226.7 196.5,226.7 197.1,225.7 197.7,223.9 198.3,224.8 198.9,225.2 199.5,225.4 200.1,225.5 200.7,225.6 201.3,225.7 201.9,225.1 202.5,223.6 203.1,224.9 203.7,225.3 204.3,225.6 204.9,225.7 205.5,225.8 206.1,225.9 206.7,225.9 207.3,225.9 207.9,226 208.5,226.1 209.1,226.1 209.7,226.1 210.3,224.4 210.9,221 211.5,222.4 212.1,223.4 212.7,224.1 213.3,224.5 213.9,224.6 214.5,224.4 215.1,224.3 215.7,224.3 216.3,214.3 216.9,195.4 217.5,206.4 218.1,213.7 218.7,218.4 219.3,221.1 219.9,222.7 220.5,223.5 221.1,223.9 221.7,224.3 222.3,224.9 222.9,225.9 223.5,227.2 224.1,228 224.7,228.2 225.3,227.9 225.9,227 226.5,226 227.1,225.1 227.7,224.8 228.3,225.1 228.9,225.9 229.5,227 230.1,227.8 230.7,228.1 231.3,227.9 231.9,227.1 232.5,226.3 233.1,225.6 233.7,225.3 234.3,225.6 234.9,226.4 235.5,227.4 236.1,228.2 236.7,228.5 237.3,228.4 237.9,228 238.5,227.6 239.1,227.3 239.7,227.2 240.3,227.1 240.9,226.8 241.5,226.4 242.1,226.2 242.7,226.1 243.3,226.1 243.9,226.2 244.5,226.3 245.1,226.3 245.7,226.4 246.3,226.4 246.9,226.6 247.5,226.8 248.1,227 248.7,225.9 249.3,223.7 249.9,224.8 250.5,225.3 251.1,225.6 251.7,225.8 252.3,225.9 252.9,225.1 253.5,225.5 254.1,225.8 254.7,226 255.3,226.1 255.9,226.2 256.5,226.4 257.1,226.4 257.7,226.5 258.3,226.3 258.9,226 259.5,226.6 260.1,227 260.7,227.2 261.3,227.2 261.9,227 262.5,226.7 263.1,226.5 263.7,226.4 264.3,226.4 264.9,226.2 265.5,226 266.1,225.9 266.7,225.8 267.3,226 267.9,226.5 268.5,227 269.1,227.5 269.7,227.7 270.3,227.5 270.9,227.1 271.5,226.5 272.1,226.1 272.7,225.9 273.3,225.9 273.9,225.8 274.5,225.6 275.1,225.5 275.7,225.5 276.3,225.5 276.9,225.6 277.5,225.7 278.1,225.8 278.7,225.9 279.3,225.9 279.9,225.8 280.5,225.8 281.1,225.8 281.7,225.7 282.3,225.7 282.9,225.7 283.5,225.6 284.1,225.5 284.7,225.5 285.3,225.6 285.9,225.9 286.5,226.2 287.1,226.5 287.7,226.6 288.3,226.7 288.9,227 289.5,227.4 290.1,227.7 290.7,227.8 291.3,227.7 291.9,227.5 292.5,227.2 293.1,226.9 293.7,226.9 294.3,226.7 294.9,226.4 295.5,226 296.1,225.6 296.7,225.5 297.3,225.7 297.9,226.1 298.5,222.9 299.1,216.5 299.7,222.8 300.3,218.7 300.9,203.1 301.5,212 302.1,217.7 302.7,221.2 303.3,223.3 303.9,224.3 304.5,224.7 305.1,224.9 305.7,225.1 306.3,225.5 306.9,226.1 307.5,226.4 308.1,226.7 308.7,226.8 309.3,226.9 309.9,227 310.5,227.3 311.1,227.5 311.7,227.5 312.3,227.3 312.9,226.9 313.5,226.3 314.1,225.8 314.7,225.6 315.3,225.7 315.9,226 316.5,226.4 317.1,226.7 317.7,226.8 318.3,226.7 318.9,226.4 319.5,226 320.1,225.7 320.7,225.6 321.3,225.7 321.9,226.2 322.5,226.7 323.1,227.1" fill="none" stroke="#b5b5b5" stroke-width="0.50" opacity="0.50" stroke-linejoin="round"/>
<polyline points="194.7,219.9 195.3,219.9 195.9,219.8 196.5,219.8 197.1,219.7 197.7,219.7 198.3,220.3 198.9,221.7 199.5,223.5 200.1,225 200.7,224.5 201.3,222.2 201.9,222.3 202.5,221.9 203.1,221.4 203.7,221.3 204.3,221.6 204.9,222 205.5,222.4 206.1,222.8 206.7,222.9 207.3,223 207.9,223.4 208.5,223.7 209.1,224 209.7,224.1 210.3,223.9 210.9,223.4 211.5,222.8 212.1,222.3 212.7,222.1 213.3,222.1 213.9,222.1 214.5,222.1 215.1,222.1 215.7,222.1 216.3,222.1 216.9,222.3 217.5,222.6 218.1,222.8 218.7,222.8 219.3,222.8 219.9,222.8 220.5,222.7 221.1,222.7 221.7,222.7 222.3,222.4 222.9,221.7 223.5,220.9 224.1,220.3 224.7,220 225.3,220.5 225.9,221.7 226.5,223.2 227.1,224.4 227.7,224.9 228.3,224.5 228.9,223.6 229.5,222.5 230.1,221.6 230.7,221.3 231.3,221.1 231.9,220.7 232.5,220.2 233.1,219.9 233.7,219.7 234.3,219.9 234.9,220.4 235.5,221 236.1,221.5 236.7,221.7 237.3,221.8 237.9,221.9 238.5,222 239.1,222.1 239.7,222.2 240.3,222.2 240.9,222.2 241.5,222.3 242.1,222.3 242.7,222.4 243.3,222.4 243.9,222.4 244.5,222.4 245.1,222.4 245.7,222.4 246.3,222 246.9,220.8 247.5,219.3 248.1,218.1 248.7,217.6 249.3,217.9 249.9,204.6 250.5,179.4 251.1,199.9 251.7,210.3 252.3,215.6 252.9,218.5 253.5,220.3 254.1,221.3 254.7,222.2 255.3,222.4 255.9,222.9 256.5,223.5 257.1,223.9 257.7,224.1 258.3,223.7 258.9,222.6 259.5,221.2 260.1,220 260.7,219.6 261.3,220 261.9,221.1 262.5,222.4 263.1,223.4 263.7,223.8 264.3,223.5 264.9,222.6 265.5,221.4 266.1,220.5 266.7,220.2 267.3,220.4 267.9,220.9 268.5,221.6 269.1,222.1 269.7,222.3 270.3,222.2 270.9,221.9 271.5,221.6 272.1,221.3 272.7,221.2 273.3,221.3 273.9,221.4 274.5,221.6 275.1,221.8 275.7,221.9 276.3,222.1 276.9,222.5 277.5,223 278.1,223.5 278.7,223.6 279.3,223.3 279.9,222.5 280.5,221.5 281.1,216.7 281.7,208.8 282.3,214.5 282.9,217.6 283.5,219.4 284.1,220.5 284.7,221 285.3,220.9 285.9,220.5 286.5,219.6 287.1,219 287.7,218.7 288.3,218.7 288.9,218.8 289.5,218.8 290.1,218.9 290.7,218.9 291.3,209.6 291.9,192.4 292.5,200.8 293.1,206.8 293.7,211 294.3,214 294.9,216.4 295.5,218.4 296.1,219.8 296.7,220.7 297.3,221.3 297.9,221.9 298.5,222.3 299.1,222.7 299.7,222.9 300.3,223.3 300.9,223.4 301.5,223.6 302.1,223.7 302.7,223.8 303.3,223.3 303.9,222.1 304.5,220.6 305.1,219.4 305.7,218.9 306.3,219.4 306.9,220.8 307.5,222.5 308.1,223.9 308.7,224.4 309.3,224.3 309.9,224.2 310.5,223.9 311.1,223.8 311.7,223.7 312.3,223.8 312.9,223.9 313.5,224.1 314.1,224.3 314.7,224.3 315.3,224.4 315.9,224.4 316.5,224.5 317.1,224.6 317.7,224.6 318.3,224.2 318.9,223.3 319.5,222.1 320.1,221.2 320.7,220.8 321.3,220.9 321.9,220.9 322.5,221 323.1,221.1" fill="none" stroke="#b5b5b5" stroke-width="0.50" opacity="0.50" stroke-linejoin="round"/>
<polyline points="194.7,224.5 195.3,224.4 195.9,224.2 196.5,224 197.1,223.9 197.7,223.8 198.3,224.2 198.9,225.1 199.5,226.3 200.1,227.3 200.7,227.6 201.3,227.4 201.9,226.9 202.5,226.2 203.1,225.7 203.7,225.5 204.3,225.2 204.9,224.5 205.5,223.6 206.1,223 206.7,222.7 207.3,222.8 207.9,223 208.5,223.3 209.1,223.6 209.7,223.7 210.3,223.6 210.9,223.6 211.5,223.6 212.1,223.6 212.7,223.6 213.3,223.7 213.9,223.9 214.5,224.3 215.1,224.5 215.7,224.6 216.3,224.6 216.9,224.7 217.5,224.7 218.1,224.7 218.7,224.7 219.3,224.6 219.9,224.4 220.5,224 221.1,223.8 221.7,223.7 222.3,223.6 222.9,223.3 223.5,222.9 224.1,222.6 224.7,222.5 225.3,222.8 225.9,223.6 226.5,224.6 227.1,225.4 227.7,225.7 228.3,225.7 228.9,225.5 229.5,225.3 230.1,225.1 230.7,225.1 231.3,225.1 231.9,225.1 232.5,225.1 233.1,225.1 233.7,225.2 234.3,225 234.9,224.7 235.5,224.3 236.1,224 236.7,223.9 237.3,223.9 237.9,223.9 238.5,224 239.1,224 239.7,224 240.3,223.9 240.9,223.4 241.5,222.8 242.1,222.3 242.7,222.1 243.3,222.5 243.9,223.6 244.5,225 245.1,226.1 245.7,226.5 246.3,226.2 246.9,225.5 247.5,224.6 248.1,223.9 248.7,223.6 249.3,223.7 249.9,223.9 250.5,224.2 251.1,224.4 251.7,223.8 252.3,222.5 252.9,223 253.5,223.2 254.1,223.2 254.7,223.3 255.3,223.6 255.9,224.2 256.5,224.8 257.1,225.4 257.7,225.6 258.3,225.3 258.9,224.9 259.5,225.3 260.1,225.6 260.7,225.7 261.3,225.7 261.9,225.5 262.5,225.3 263.1,225.1 263.7,225.1 264.3,225.2 264.9,225.7 265.5,226.2 266.1,226.7 266.7,226.8 267.3,226.4 267.9,225.2 268.5,223.8 269.1,222.7 269.7,222.2 270.3,222.6 270.9,223.7 271.5,225 272.1,226.1 272.7,226.5 273.3,226.2 273.9,225.6 274.5,224.8 275.1,224.2 275.7,223.9 276.3,224 276.9,224.2 277.5,224.5 278.1,224.7 278.7,224.7 279.3,224.6 279.9,224.3 280.5,224 281.1,223.7 281.7,223.6 282.3,223.6 282.9,223.8 283.5,224.1 284.1,224.3 284.7,224.4 285.3,224.6 285.9,225 286.5,225.5 287.1,226 287.7,226.1 288.3,225.8 288.9,224.7 289.5,223.5 290.1,222.5 290.7,222.1 291.3,222.5 291.9,223.7 292.5,225 293.1,226.2 293.7,226.6 294.3,226.4 294.9,225.9 295.5,225.2 296.1,224.7 296.7,224.5 297.3,224.9 297.9,225.7 298.5,226.8 299.1,227.7 299.7,228 300.3,227.9 300.9,227.5 301.5,220.6 302.1,208.5 302.7,215.2 303.3,219.2 303.9,221.2 304.5,222.1 305.1,222.5 305.7,222.9 306.3,223.2 306.9,223.1 307.5,222.8 308.1,220.3 308.7,215.7 309.3,218.7 309.9,220.8 310.5,222.2 311.1,223.2 311.7,223.7 312.3,223.9 312.9,220.8 313.5,214.3 314.1,218.2 314.7,220.7 315.3,222.3 315.9,223.3 316.5,224.1 317.1,224.5 317.7,224.8 318.3,224.8 318.9,224.3 319.5,223.8 320.1,223.3 320.7,223.1 321.3,223.6 321.9,224.8 322.5,226.4 323.1,227.7" fill="none" stroke="#b5b5b5" stroke-width="0.50" opacity="0.50" stroke-linejoin="round"/>
<polyline points="194.7,226.9 195.3,226.9 195.9,227 196.5,227.2 197.1,227.3 197.7,227.3 198.3,227.2 198.9,227 199.5,226.7 200.1,226.5 200.7,226.4 201.3,226.3 201.9,225.9 202.5,225.5 203.1,225.1 203.7,225 204.3,222 204.9,216.5 205.5,221.1 206.1,222.9 206.7,223.7 207.3,224.1 207.9,224.6 208.5,224.8 209.1,225 209.7,225.1 210.3,225.1 210.9,225.1 211.5,225.1 212.1,225.1 212.7,225.1 213.3,225.3 213.9,225.7 214.5,226.3 215.1,226.8 215.7,227 216.3,227 216.9,226.9 217.5,226.8 218.1,226.8 218.7,226.8 219.3,226.9 219.9,227.2 220.5,227.6 221.1,228 221.7,228.1 222.3,227.9 222.9,227.4 223.5,226.9 224.1,226.4 224.7,226.3 225.3,226 225.9,225.4 226.5,224.6 227.1,224 227.7,223.7 228.3,224 228.9,224.8 229.5,225.7 230.1,226.4 230.7,226.7 231.3,226.6 231.9,226.1 232.5,225.6 233.1,225.2 233.7,225.1 234.3,225.2 234.9,225.6 235.5,226.1 236.1,226.5 236.7,226.6 237.3,226.6 237.9,226.6 238.5,226.5 239.1,226.4 239.7,226.4 240.3,226.3 240.9,226.1 241.5,225.8 242.1,225.6 242.7,223.6 243.3,220 243.9,222.5 244.5,223.7 245.1,224.3 245.7,224.7 246.3,224.9 246.9,225 247.5,225.1 248.1,225.1 248.7,225.1 249.3,225 249.9,224.6 250.5,224.2 251.1,223.9 251.7,223.7 252.3,223.8 252.9,224.1 253.5,224.3 254.1,224.6 254.7,224.6 255.3,220.9 255.9,213.9 256.5,217.5 257.1,220 257.7,221.7 258.3,222.8 258.9,223.8 259.5,224.6 260.1,225.2 260.7,225.6 261.3,225.6 261.9,225.5 262.5,225.2 263.1,225 263.7,225 264.3,224.9 264.9,224.8 265.5,224.6 266.1,224.5 266.7,224.4 267.3,224.6 267.9,225.3 268.5,226 269.1,226.7 269.7,226.9 270.3,226.8 270.9,226.5 271.5,226.1 272.1,225.8 272.7,225.6 273.3,225.7 273.9,226 274.5,226.3 275.1,226.5 275.7,226.6 276.3,226.5 276.9,226.4 277.5,226.2 278.1,226.1 278.7,223.7 279.3,219.3 279.9,221.7 280.5,223.4 281.1,224.5 281.7,225.2 282.3,225.5 282.9,225.3 283.5,224.9 284.1,224.6 284.7,224.5 285.3,224.6 285.9,224.9 286.5,225.3 287.1,225.6 287.7,225.7 288.3,225.9 288.9,226.4 289.5,227 290.1,227.5 290.7,227.7 291.3,227.4 291.9,226.7 292.5,225.8 293.1,225 293.7,224.7 294.3,224.8 294.9,225.1 295.5,225.3 296.1,225.6 296.7,225.7 297.3,225.9 297.9,226.3 298.5,226.9 299.1,227.4 299.7,227.6 300.3,227.2 300.9,226.4 301.5,225.3 302.1,224.4 302.7,224 303.3,224.2 303.9,224.8 304.5,225.4 305.1,226 305.7,226.2 306.3,226.1 306.9,225.8 307.5,223.2 308.1,218.6 308.7,221.8 309.3,223.5 309.9,224.3 310.5,224.7 311.1,224.9 311.7,225 312.3,225.4 312.9,226.3 313.5,227.3 314.1,228.2 314.7,228.5 315.3,228.2 315.9,227.3 316.5,226.2 317.1,225.3 317.7,225 318.3,225 318.9,225.2 319.5,225.4 320.1,225.6 320.7,221.3 321.3,213.6 321.9,221.5 322.5,225.2 323.1,227" fill="none" stroke="#b5b5b5" stroke-width="0.50" opacity="0.50" stroke-linejoin="round"/>
<polyline points="194.7,222.9 195.3,223 195.9,223.5 196.5,224.2 197.1,224.7 197.7,224.8 198.3,225 198.9,225.3 199.5,225.8 200.1,226.1 200.7,226.2 201.3,226.1 201.9,225.9 202.5,225.7 203.1,225.5 203.7,225.4 204.3,225.6 204.9,226.1 205.5,226.8 206.1,227.3 206.7,227.5 207.3,227.3 207.9,226.9 208.5,226.3 209.1,225.8 209.7,225.7 210.3,225.6 210.9,225.2 211.5,223.7 212.1,221.2 212.7,222.2 213.3,222.8 213.9,222.9 214.5,222.9 215.1,222.8 215.7,222.9 216.3,223.3 216.9,224.2 217.5,225.2 218.1,226.1 218.7,226.4 219.3,226.5 219.9,226.6 220.5,226.8 221.1,226.9 221.7,227 222.3,226.7 222.9,225.9 223.5,225 224.1,224.3 224.7,224 225.3,223.9 225.9,223.9 226.5,223.8 227.1,223.7 227.7,223.7 228.3,223.7 228.9,223.8 229.5,224 230.1,224.1 230.7,224.1 231.3,224.2 231.9,224.3 232.5,224.4 233.1,224.5 233.7,224.5 234.3,224.4 234.9,224.1 235.5,223.6 236.1,223.3 236.7,223.2 237.3,223.4 237.9,223.9 238.5,224.5 239.1,225 239.7,225.2 240.3,225.3 240.9,225.8 241.5,226.4 242.1,226.8 242.7,227 243.3,227 243.9,227 244.5,226.9 245.1,226.9 245.7,226.9 246.3,226.7 246.9,226.4 247.5,225.9 248.1,225.5 248.7,225.3 249.3,225.2 249.9,225 250.5,224.7 251.1,224.5 251.7,224.4 252.3,224.5 252.9,224.8 253.5,225.2 254.1,225.5 254.7,225.6 255.3,225.5 255.9,225.2 256.5,224.8 257.1,224.4 257.7,224.3 258.3,224.4 258.9,224.6 259.5,224.9 260.1,225.1 260.7,225.2 261.3,225.3 261.9,225.6 262.5,226 263.1,226.3 263.7,226.5 264.3,226.3 264.9,225.9 265.5,225.4 266.1,225 266.7,224.9 267.3,224.8 267.9,224.7 268.5,224.6 269.1,224.4 269.7,224.4 270.3,224.3 270.9,224 271.5,223.9 272.1,223.7 272.7,223.7 273.3,223.9 273.9,224.5 274.5,225.1 275.1,225.7 275.7,225.9 276.3,225.8 276.9,225.7 277.5,225.4 278.1,225.3 278.7,225.2 279.3,225.4 279.9,225.7 280.5,226.1 281.1,226.5 281.7,226.6 282.3,226.2 282.9,225 283.5,223.5 284.1,222.3 284.7,221.8 285.3,222.3 285.9,223.5 286.5,224.9 287.1,226.1 287.7,226.6 288.3,226.3 288.9,224 289.5,220 290.1,222.1 290.7,223.1 291.3,223.7 291.9,224.3 292.5,224.9 293.1,225.3 293.7,225.4 294.3,225.4 294.9,223.9 295.5,221.2 296.1,222.7 296.7,223.7 297.3,224.1 297.9,224 298.5,223.6 299.1,223.2 299.7,223.1 300.3,223.5 300.9,224.4 301.5,225.6 302.1,226.5 302.7,226.8 303.3,226.6 303.9,226.2 304.5,225.7 305.1,225.3 305.7,225.1 306.3,225 306.9,224.8 307.5,224.5 308.1,224.3 308.7,224.2 309.3,224.2 309.9,224.4 310.5,224.6 311.1,224.8 311.7,224.9 312.3,225 312.9,222.2 313.5,216.6 314.1,220.4 314.7,222.7 315.3,223.9 315.9,224 316.5,223.7 317.1,223.4 317.7,223.3 318.3,223.5 318.9,223.7 319.5,223.9 320.1,224.2 320.7,224.2 321.3,224.4 321.9,224.8 322.5,225.3 323.1,225.7" fill="none" stroke="#b5b5b5" stroke-width="0.50" opacity="0.50" stroke-linejoin="round"/>
<polyline points="194.7,227.7 195.3,227.7 195.9,227.8 196.5,228 197.1,228.1 197.7,228.1 198.3,228.2 198.9,228.5 199.5,228.8 200.1,229 200.7,229.1 201.3,229 201.9,228.6 202.5,228.2 203.1,227.8 203.7,227.7 204.3,227.7 204.9,227.8 205.5,227.8 206.1,227.8 206.7,227.8 207.3,227.9 207.9,228.1 208.5,228.3 209.1,228.5 209.7,228.6 210.3,228.5 210.9,228.2 211.5,227.8 212.1,227.5 212.7,227.4 213.3,227.4 213.9,227.4 214.5,227.5 215.1,227.5 215.7,227.5 216.3,227.4 216.9,227.1 217.5,226.7 218.1,217.6 218.7,201 219.3,213.3 219.9,220 220.5,223.8 221.1,225.9 221.7,226.9 222.3,227.4 222.9,227.9 223.5,227.9 224.1,227.9 224.7,227.9 225.3,227.8 225.9,227.6 226.5,227.3 227.1,227.1 227.7,227 228.3,227.1 228.9,227.2 229.5,227.4 230.1,227.5 230.7,227.6 231.3,227.5 231.9,227.4 232.5,227.2 233.1,227.1 233.7,227 234.3,227 234.9,226.9 235.5,226.8 236.1,226.7 236.7,226.7 237.3,226.9 237.9,227.3 238.5,227.9 239.1,228.4 239.7,228.6 240.3,228.5 240.9,228.3 241.5,228.1 242.1,228 242.7,227.9 243.3,227.7 243.9,227.3 244.5,226.7 245.1,226.2 245.7,226.1 246.3,226.2 246.9,226.6 247.5,227.1 248.1,227.6 248.7,227.7 249.3,227.7 249.9,227.6 250.5,227.5 251.1,227.5 251.7,227.5 252.3,227.5 252.9,227.6 253.5,227.7 254.1,227.7 254.7,227.8 255.3,227.7 255.9,227.7 256.5,227.6 257.1,227.5 257.7,227.5 258.3,227.4 258.9,227.3 259.5,227.2 260.1,227.1 260.7,227.1 261.3,227.1 261.9,227.2 262.5,227.4 263.1,227.5 263.7,227.6 264.3,227.5 264.9,227.2 265.5,226.9 266.1,226.7 266.7,226.6 267.3,226.7 267.9,227.1 268.5,227.5 269.1,227.8 269.7,228 270.3,228 270.9,228.1 271.5,228.2 272.1,228.3 272.7,228.3 273.3,228.2 273.9,222 274.5,210.6 275.1,221.1 275.7,225.1 276.3,226.7 276.9,227.7 277.5,228.4 278.1,228.7 278.7,228.8 279.3,228.7 279.9,228.5 280.5,228.2 281.1,227.9 281.7,227.9 282.3,227.9 282.9,228 283.5,228.1 284.1,228.2 284.7,228.2 285.3,228.1 285.9,227.6 286.5,227.1 287.1,226.7 287.7,226.5 288.3,226.5 288.9,226.6 289.5,226.6 290.1,226.7 290.7,226.7 291.3,226.8 291.9,227.2 292.5,227.7 293.1,228.1 293.7,228.3 294.3,228.1 294.9,227.8 295.5,227.3 296.1,227 296.7,226.8 297.3,226.9 297.9,227.1 298.5,227.3 299.1,227.4 299.7,227.5 300.3,227.4 300.9,227 301.5,226.7 302.1,224.5 302.7,221 303.3,222.8 303.9,224.4 304.5,225.8 305.1,226.8 305.7,227.4 306.3,227.6 306.9,227.6 307.5,227.6 308.1,227.6 308.7,227.6 309.3,227.6 309.9,227.6 310.5,227.6 311.1,227.6 311.7,227.5 312.3,227.6 312.9,227.9 313.5,228.2 314.1,228.5 314.7,228.6 315.3,228.4 315.9,227.9 316.5,227.2 317.1,226.7 317.7,226.5 318.3,226.7 318.9,227.1 319.5,227.7 320.1,228.2 320.7,228.4 321.3,228.3 321.9,228.1 322.5,227.8 323.1,227.6" fill="none" stroke="#b5b5b5" stroke-width="0.50" opacity="0.50" stroke-linejoin="round"/>
<polyline points="194.7,224.9 195.3,225.1 195.9,225.5 196.5,226 197.1,226.5 197.7,226.6 198.3,226.7 198.9,226.8 199.5,226.9 200.1,227 200.7,227.1 201.3,227.1 201.9,227.1 202.5,227 203.1,227 203.7,227 204.3,227.2 204.9,227.7 205.5,228.3 206.1,228.8 206.7,229 207.3,228.7 207.9,227.9 208.5,226.8 209.1,226 209.7,225.7 210.3,224.7 210.9,222.9 211.5,223.5 212.1,224 212.7,224.3 213.3,224.6 213.9,224.8 214.5,225 215.1,225.1 215.7,225.2 216.3,225.4 216.9,225.9 217.5,226.4 218.1,226.8 218.7,227 219.3,226.7 219.9,226.1 220.5,225.2 221.1,224.6 221.7,224.3 222.3,224.5 222.9,225.1 223.5,225.7 224.1,226.3 224.7,226.5 225.3,226.5 225.9,226.3 226.5,226.1 227.1,226 227.7,225.9 228.3,225.8 228.9,225.7 229.5,225.6 230.1,225.4 230.7,225.4 231.3,225.5 231.9,225.6 232.5,225.9 233.1,226 233.7,226.1 234.3,226.2 234.9,226.3 235.5,226.5 236.1,226.6 236.7,226.6 237.3,226.7 237.9,226.7 238.5,226.7 239.1,226.8 239.7,226.8 240.3,226.8 240.9,226.9 241.5,227 242.1,227.1 242.7,227.1 243.3,226.9 243.9,226.5 244.5,225.9 245.1,225.4 245.7,225.3 246.3,225.3 246.9,225.6 247.5,225.9 248.1,226.1 248.7,226.2 249.3,226.2 249.9,226.4 250.5,226.6 251.1,226.7 251.7,226.8 252.3,226.7 252.9,226.4 253.5,226.1 254.1,225.9 254.7,225.8 255.3,225.8 255.9,225.8 256.5,225.8 257.1,225.8 257.7,225.8 258.3,225.8 258.9,225.9 259.5,225.9 260.1,226 260.7,226 261.3,226 261.9,226.2 262.5,226.3 263.1,226.5 263.7,226.5 264.3,226.4 264.9,225.9 265.5,225.4 266.1,224.9 266.7,224.8 267.3,224.8 267.9,225 268.5,225.1 269.1,225.3 269.7,225.3 270.3,225.3 270.9,225.3 271.5,225.2 272.1,225.2 272.7,225.2 273.3,225.2 273.9,225.1 274.5,225 275.1,225 275.7,224.9 276.3,225 276.9,225.2 277.5,225.4 278.1,225.6 278.7,225.7 279.3,225.7 279.9,225.8 280.5,226 281.1,226.1 281.7,226.2 282.3,226.1 282.9,226.1 283.5,226 284.1,225.9 284.7,225.9 285.3,226 285.9,226.4 286.5,226.8 287.1,227.2 287.7,227.3 288.3,227 288.9,226.1 289.5,225 290.1,224.1 290.7,223.7 291.3,224.2 291.9,225.3 292.5,226.7 293.1,227.8 293.7,228.2 294.3,228.1 294.9,227.7 295.5,227.3 296.1,227 296.7,226.9 297.3,226.9 297.9,227.1 298.5,224.7 299.1,220 299.7,212.7 300.3,220.6 300.9,224.2 301.5,225.6 302.1,225.9 302.7,226.2 303.3,226.4 303.9,226.2 304.5,225.9 305.1,225.7 305.7,225.6 306.3,225.6 306.9,225.5 307.5,225.3 308.1,225.1 308.7,225.1 309.3,225 309.9,225 310.5,224.9 311.1,224.8 311.7,224.8 312.3,224.9 312.9,225 313.5,225.2 314.1,225.3 314.7,225.4 315.3,225.5 315.9,225.7 316.5,226.1 317.1,226.3 317.7,226.4 318.3,226.4 318.9,226.2 319.5,226 320.1,225.8 320.7,225.7 321.3,225.7 321.9,225.7 322.5,225.7 323.1,225.6" fill="none" stroke="#b5b5b5" stroke-width="0.50" opacity="0.50" stroke-linejoin="round"/>
<polyline points="194.7,225.5 195.3,225.5 195.9,225.7 196.5,226 197.1,226.1 197.7,226.2 198.3,226 198.9,225.3 199.5,224.5 200.1,223.8 200.7,223.5 201.3,223.6 201.9,223.8 202.5,224 203.1,224.2 203.7,224.3 204.3,224.5 204.9,225 205.5,225.7 206.1,226.2 206.7,226.4 207.3,226.1 207.9,225.2 208.5,224 209.1,223.1 209.7,222.8 210.3,222.8 210.9,222.7 211.5,222.6 212.1,222.6 212.7,222.5 213.3,222.7 213.9,223.1 214.5,223.5 215.1,223.9 215.7,224.1 216.3,224.1 216.9,224.1 217.5,224.2 218.1,224.2 218.7,224.3 219.3,224.4 219.9,224.6 220.5,225 221.1,225.3 221.7,224.9 222.3,223.9 222.9,224 223.5,223.6 224.1,223.1 224.7,222.9 225.3,223.1 225.9,223.5 226.5,224 227.1,224.5 227.7,224.6 228.3,224.7 228.9,224.8 229.5,224.9 230.1,224.7 230.7,224.2 231.3,224.4 231.9,224.2 232.5,223.8 233.1,223.4 233.7,223.3 234.3,223.2 234.9,222.9 235.5,222.5 236.1,222.2 236.7,222.1 237.3,222.4 237.9,217.6 238.5,208.4 239.1,216.6 239.7,220.7 240.3,222.6 240.9,223.5 241.5,223.9 242.1,224 242.7,224.2 243.3,224.2 243.9,224.1 244.5,210.9 245.1,183.4 245.7,192.5 246.3,199.5 246.9,204.9 247.5,208.9 248.1,212 248.7,214.3 249.3,213.2 249.9,216.2 250.5,218.8 251.1,220.8 251.7,221.9 252.3,218.6 252.9,208.6 253.5,218.8 254.1,219.6 254.7,206.5 255.3,214.5 255.9,218.3 256.5,217.4 257.1,218.7 257.7,219.8 258.3,220.8 258.9,221.6 259.5,222.2 260.1,222.5 260.7,222.8 261.3,222.7 261.9,222.3 262.5,217.1 263.1,207.8 263.7,212.3 264.3,215.2 264.9,216.9 265.5,217.9 266.1,218.4 266.7,218.8 267.3,219.3 267.9,219.7 268.5,220 269.1,213 269.7,199 270.3,204.3 270.9,207.5 271.5,209.3 272.1,210.5 272.7,211.8 273.3,213.4 273.9,215.1 274.5,216.7 275.1,218 275.7,218.6 276.3,219.1 276.9,219.7 277.5,220.4 278.1,221 278.7,221.2 279.3,221.2 279.9,221.1 280.5,220.9 281.1,220.8 281.7,220.7 282.3,220.8 282.9,220.7 283.5,220.6 284.1,220.5 284.7,220.5 285.3,220.7 285.9,221.5 286.5,218.9 287.1,213.1 287.7,218 288.3,220.3 288.9,221 289.5,221 290.1,220.8 290.7,220.7 291.3,221.1 291.9,219.2 292.5,215.6 293.1,218.8 293.7,219.4 294.3,214.1 294.9,215.8 295.5,216.6 296.1,217.2 296.7,217.7 297.3,218.4 297.9,218.9 298.5,219.4 299.1,219.7 299.7,219.9 300.3,219.9 300.9,219.8 301.5,218.2 302.1,215.3 302.7,217.8 303.3,218.8 303.9,219.5 304.5,219.9 305.1,220.2 305.7,220.2 306.3,217.4 306.9,212.3 307.5,215.2 308.1,217.2 308.7,218.6 309.3,219.8 309.9,221.3 310.5,222.9 311.1,224.2 311.7,224.7 312.3,224.4 312.9,223.3 313.5,221.9 314.1,218.6 314.7,214 315.3,215.9 315.9,217.5 316.5,218.9 317.1,220 317.7,220.6 318.3,220.7 318.9,220.4 319.5,219.9 320.1,219.5 320.7,219.3 321.3,219.3 321.9,219 322.5,218.7 323.1,218.4" fill="none" stroke="#444" stroke-width="0.55" opacity="0.55" stroke-linejoin="round"/>
<polyline points="194.7,224.2 195.3,224.4 195.9,225.1 196.5,226 197.1,226.7 197.7,227 198.3,226.9 198.9,226.7 199.5,226.5 200.1,226.3 200.7,226.3 201.3,226.3 201.9,226.3 202.5,226.3 203.1,226.3 203.7,226.3 204.3,226 204.9,225.5 205.5,225.7 206.1,225.9 206.7,226 207.3,226.1 207.9,226.3 208.5,226.5 209.1,226.6 209.7,225.2 210.3,222.2 210.9,223.6 211.5,224 212.1,224.1 212.7,224.2 213.3,224.3 213.9,224.2 214.5,224.2 215.1,223.9 215.7,223.5 216.3,223.7 216.9,223.8 217.5,223.8 218.1,223.8 218.7,223.8 219.3,223.9 219.9,224 220.5,224.1 221.1,224.2 221.7,224.2 222.3,224.2 222.9,224.2 223.5,224.2 224.1,224.2 224.7,224.2 225.3,224.4 225.9,224.9 226.5,225.4 227.1,225.9 227.7,226.1 228.3,226.1 228.9,225 229.5,222.9 230.1,224 230.7,224.8 231.3,225 231.9,224.8 232.5,224.4 233.1,224 233.7,223.9 234.3,224 234.9,224.3 235.5,224.6 236.1,224.8 236.7,224.9 237.3,225.1 237.9,225.7 238.5,226.4 239.1,227 239.7,227.2 240.3,227.1 240.9,226.8 241.5,226.4 242.1,226.1 242.7,226 243.3,225.8 243.9,225.3 244.5,212.2 245.1,185.5 245.7,204.3 246.3,213.4 246.9,218.1 247.5,220.7 248.1,222.2 248.7,223.2 249.3,223.1 249.9,223 250.5,222.9 251.1,222.8 251.7,222.8 252.3,222.7 252.9,222.4 253.5,222.1 254.1,221.9 254.7,221.8 255.3,221.9 255.9,222 256.5,222.1 257.1,222.2 257.7,222.2 258.3,222.3 258.9,217.5 259.5,208.3 260.1,212.4 260.7,215.3 261.3,217.4 261.9,219.2 262.5,220.6 263.1,221.6 263.7,222.3 264.3,221.6 264.9,220.8 265.5,219.7 266.1,218.7 266.7,218.4 267.3,216.7 267.9,212.6 268.5,215.4 269.1,217.5 269.7,218.9 270.3,219.9 270.9,220.9 271.5,222 272.1,222.8 272.7,223.2 273.3,223.3 273.9,223.3 274.5,223.2 275.1,223.1 275.7,223.1 276.3,223.1 276.9,223.1 277.5,223 278.1,223 278.7,223 279.3,222.9 279.9,222.7 280.5,217.9 281.1,209.2 281.7,213 282.3,215.9 282.9,218.4 283.5,220.4 284.1,221.9 284.7,222.7 285.3,223.1 285.9,223.2 286.5,223.1 287.1,223 287.7,223 288.3,223.2 288.9,223.6 289.5,224.2 290.1,224.6 290.7,224.7 291.3,224.5 291.9,223.9 292.5,223.2 293.1,222.6 293.7,222.4 294.3,222.5 294.9,223 295.5,223.6 296.1,224.1 296.7,224.3 297.3,223.8 297.9,222.6 298.5,221.1 299.1,219.9 299.7,219.4 300.3,218.6 300.9,217.5 301.5,219.7 302.1,221.4 302.7,222.3 303.3,222.6 303.9,222.7 304.5,222.6 305.1,222.6 305.7,222.6 306.3,222.8 306.9,223.1 307.5,223.5 308.1,223.6 308.7,223.2 309.3,223.6 309.9,223.5 310.5,223.2 311.1,222.9 311.7,222.9 312.3,219.6 312.9,213.5 313.5,217.7 314.1,219.6 314.7,215.5 315.3,203.7 315.9,209.7 316.5,213.7 317.1,210.3 317.7,215.7 318.3,218.4 318.9,213.8 319.5,199.9 320.1,205.5 320.7,209.7 321.3,212.9 321.9,215.5 322.5,217.7 323.1,219.3" fill="none" stroke="#444" stroke-width="0.55" opacity="0.55" stroke-linejoin="round"/>
<polyline points="194.7,222.8 195.3,222.8 195.9,222.9 196.5,222.9 197.1,222.9 197.7,222.9 198.3,223.1 198.9,223.5 199.5,223.9 200.1,224.3 200.7,224.4 201.3,224.6 201.9,225.1 202.5,225.7 203.1,226.2 203.7,226.4 204.3,226.1 204.9,225.3 205.5,224.4 206.1,223.6 206.7,223.3 207.3,223.5 207.9,224 208.5,224.6 209.1,225.1 209.7,225.3 210.3,225 210.9,224.3 211.5,223.5 212.1,222.8 212.7,222.5 213.3,222.6 213.9,222.8 214.5,223 215.1,223.2 215.7,223.3 216.3,223.2 216.9,223 217.5,222.8 218.1,222.6 218.7,222.6 219.3,222.8 219.9,223.2 220.5,223.8 221.1,224.3 221.7,224.5 222.3,224.5 222.9,224.6 223.5,224.7 224.1,224.8 224.7,224.8 225.3,224.5 225.9,223.7 226.5,222.8 227.1,222 227.7,221.7 228.3,222 228.9,222.7 229.5,223.5 230.1,224.2 230.7,224.5 231.3,224.7 231.9,225.1 232.5,225.6 233.1,226 233.7,226.2 234.3,226 234.9,225.5 235.5,224.9 236.1,224.4 236.7,224.2 237.3,224.4 237.9,224.9 238.5,225.5 239.1,226 239.7,226.2 240.3,225.9 240.9,224.9 241.5,223.5 242.1,222 242.7,221.9 243.3,222.1 243.9,222.6 244.5,221.5 245.1,215.2 245.7,217.1 246.3,217.7 246.9,217 247.5,215.7 248.1,214.5 248.7,209.1 249.3,198.7 249.9,206.8 250.5,210.3 251.1,211.8 251.7,212.5 252.3,213.9 252.9,216.6 253.5,219.6 254.1,222 254.7,212 255.3,191.3 255.9,202.9 256.5,209.6 257.1,213.4 257.7,216 258.3,217.9 258.9,219.5 259.5,220.8 260.1,221.8 260.7,222.2 261.3,222.6 261.9,222.5 262.5,222.4 263.1,222.3 263.7,222.3 264.3,221.9 264.9,221 265.5,219.9 266.1,219 266.7,218.7 267.3,218.2 267.9,216.8 268.5,215.2 269.1,213.8 269.7,213.3 270.3,213.3 270.9,213.5 271.5,213.7 272.1,213.8 272.7,213.9 273.3,214.4 273.9,215.7 274.5,217.4 275.1,218.7 275.7,219.2 276.3,219.7 276.9,221 277.5,222.6 278.1,223.9 278.7,221.8 279.3,216.5 279.9,217.6 280.5,217.2 281.1,216.6 281.7,216.6 282.3,213.7 282.9,206.4 283.5,213 284.1,215.9 284.7,217.1 285.3,217.6 285.9,218 286.5,218.1 287.1,218.1 287.7,218.1 288.3,218.4 288.9,219.2 289.5,220.2 290.1,221 290.7,221.3 291.3,221.3 291.9,221.5 292.5,221.7 293.1,221.8 293.7,221.8 294.3,221.8 294.9,221.7 295.5,221.6 296.1,221.6 296.7,221 297.3,219.9 297.9,220.1 298.5,219.9 299.1,219.6 299.7,219.6 300.3,219.9 300.9,220.5 301.5,221.4 302.1,222 302.7,222.3 303.3,222.1 303.9,221.7 304.5,221.2 305.1,220.8 305.7,220.6 306.3,220.1 306.9,218.6 307.5,210 308.1,195.9 308.7,202.3 309.3,207.3 309.9,211.7 310.5,215.5 311.1,218.2 311.7,219.5 312.3,219.6 312.9,219 313.5,217.9 314.1,214.9 314.7,210.2 315.3,201.7 315.9,206.4 316.5,186.5 317.1,194.8 317.7,200.9 318.3,205.6 318.9,209.6 319.5,213 320.1,215.5 320.7,217.1 321.3,217.9 321.9,218 322.5,205.6 323.1,179.3" fill="none" stroke="#444" stroke-width="0.55" opacity="0.55" stroke-linejoin="round"/>
<polyline points="194.7,226.4 195.3,226.1 195.9,225.4 196.5,224.6 197.1,223.9 197.7,223.6 198.3,223.8 198.9,224.4 199.5,225 200.1,225.5 200.7,225.7 201.3,225.6 201.9,225.3 202.5,225 203.1,224.7 203.7,224.6 204.3,224.7 204.9,225 205.5,225.4 206.1,225.7 206.7,225.8 207.3,225.8 207.9,225.9 208.5,226 209.1,226 209.7,226 210.3,226 210.9,225.8 211.5,225.6 212.1,225.4 212.7,225.4 213.3,225.4 213.9,225.6 214.5,225.8 215.1,225.9 215.7,226 216.3,226.2 216.9,226.8 217.5,227.6 218.1,228.2 218.7,228.4 219.3,228 219.9,227 220.5,225.7 221.1,224.6 221.7,224.2 222.3,224.5 222.9,225.3 223.5,226.3 224.1,227.1 224.7,227.5 225.3,227.4 225.9,227.4 226.5,227.4 227.1,227.3 227.7,227.3 228.3,227.3 228.9,227.2 229.5,227.1 230.1,227 230.7,226.9 231.3,227 231.9,227.3 232.5,227.7 233.1,227.9 233.7,228.1 234.3,227.6 234.9,226.5 235.5,225.1 236.1,224 236.7,223.6 237.3,223.6 237.9,223.6 238.5,223.7 239.1,223.7 239.7,223.7 240.3,223.9 240.9,224.5 241.5,225.2 242.1,225.7 242.7,226 243.3,226.2 243.9,226.7 244.5,227.3 245.1,226.6 245.7,226.9 246.3,226.3 246.9,224.9 247.5,223.1 248.1,219.8 248.7,216 249.3,217.6 249.9,218.7 250.5,219.4 251.1,220 251.7,220.3 252.3,220.8 252.9,221.6 253.5,222.6 254.1,211.4 254.7,189.1 255.3,198.4 255.9,205.7 256.5,211.4 257.1,215.7 257.7,218.7 258.3,220.2 258.9,216.5 259.5,217.5 260.1,217.9 260.7,218.7 261.3,218.6 261.9,220.6 262.5,221.6 263.1,222.4 263.7,222.7 264.3,223 264.9,223.6 265.5,224.2 266.1,224.7 266.7,224.9 267.3,217.7 267.9,204.4 268.5,210.9 269.1,215.5 269.7,218.7 270.3,220.6 270.9,214.4 271.5,193 272.1,202 272.7,203.9 273.3,211.3 273.9,215.7 274.5,218.1 275.1,219.4 275.7,220.4 276.3,216.6 276.9,205.6 277.5,211 278.1,215 278.7,217.7 279.3,219.6 279.9,220.7 280.5,221.5 281.1,222.1 281.7,222.6 282.3,222.9 282.9,223 283.5,223 284.1,223 284.7,223 285.3,222.9 285.9,216.5 286.5,204.6 287.1,213.6 287.7,217.6 288.3,219.4 288.9,212.5 289.5,196.9 290.1,204.2 290.7,209.3 291.3,212.6 291.9,214.5 292.5,215.5 293.1,216.1 293.7,216.7 294.3,217.9 294.9,220 295.5,222.4 296.1,224.3 296.7,225.1 297.3,225.3 297.9,225 298.5,224.6 299.1,224.2 299.7,224.1 300.3,224.3 300.9,224.7 301.5,225.3 302.1,225.7 302.7,222.7 303.3,216.4 303.9,217.4 304.5,217.5 305.1,209.6 305.7,187.5 306.3,196.5 306.9,203.5 307.5,208.9 308.1,212.9 308.7,215.7 309.3,217.9 309.9,220 310.5,222 311.1,211.6 311.7,185.9 312.3,206.2 312.9,215.9 313.5,220.4 314.1,222.5 314.7,223.5 315.3,223.7 315.9,223.3 316.5,222.8 317.1,222.2 317.7,222.1 318.3,222.5 318.9,223.4 319.5,210.5 320.1,185.3 320.7,197.4 321.3,205.3 321.9,209.9 322.5,191.1 323.1,198.7" fill="none" stroke="#444" stroke-width="0.55" opacity="0.55" stroke-linejoin="round"/>
<polyline points="194.7,223.7 195.3,223.4 195.9,222.6 196.5,221.6 197.1,220.8 197.7,220.5 198.3,220.5 198.9,220.5 199.5,220.6 200.1,220.6 200.7,220.6 201.3,221.1 201.9,222.3 202.5,223.7 203.1,224.9 203.7,225.4 204.3,225.1 204.9,224.4 205.5,223.5 206.1,222.8 206.7,222.5 207.3,222.4 207.9,222.1 208.5,221.8 209.1,221.5 209.7,221.4 210.3,221.6 210.9,222.2 211.5,222.8 212.1,223.3 212.7,223.5 213.3,223.6 213.9,223.8 214.5,224 215.1,224.2 215.7,224.3 216.3,224.1 216.9,223.6 217.5,222.9 218.1,222.4 218.7,222.2 219.3,222 219.9,221.4 220.5,220.8 221.1,220.2 221.7,220 222.3,220.3 222.9,221 223.5,221.8 224.1,222.5 224.7,222.8 225.3,223 225.9,223.5 226.5,224.1 227.1,224.6 227.7,224.8 228.3,224.6 228.9,223.8 229.5,222.9 230.1,222.1 230.7,221.8 231.3,221.8 231.9,221.6 232.5,221.4 233.1,221.2 233.7,221.1 234.3,221.3 234.9,221.6 235.5,222 236.1,222.4 236.7,222.5 237.3,222.6 237.9,222.8 238.5,223 239.1,223.1 239.7,223.2 240.3,223.1 240.9,222.8 241.5,222.5 242.1,222.2 242.7,222.1 243.3,222.2 243.9,222.6 244.5,223.1 245.1,220.1 245.7,219.4 246.3,217 246.9,216.2 247.5,214.9 248.1,213.8 248.7,213.5 249.3,213.4 249.9,212.9 250.5,212.1 251.1,211.5 251.7,211.3 252.3,208.7 252.9,204.1 253.5,210.1 254.1,214.3 254.7,216.5 255.3,217.1 255.9,217 256.5,216.5 257.1,216 257.7,215.8 258.3,215.5 258.9,216.9 259.5,218.4 260.1,219.8 260.7,220.4 261.3,220.5 261.9,220.6 262.5,215.9 263.1,206.8 263.7,210.5 264.3,212.9 264.9,214.2 265.5,214.8 266.1,215.2 266.7,215.8 267.3,214.8 267.9,215.1 268.5,214.7 269.1,214 269.7,213.8 270.3,214.3 270.9,215.3 271.5,216.5 272.1,217.4 272.7,217.9 273.3,217.7 273.9,217.2 274.5,215.6 275.1,213.2 275.7,214.5 276.3,215.4 276.9,215.4 277.5,213.8 278.1,216.2 278.7,217.2 279.3,209.5 279.9,193.9 280.5,201 281.1,204.9 281.7,209.7 282.3,211.9 282.9,212.8 283.5,212.9 284.1,212.9 284.7,211.8 285.3,206.4 285.9,199.7 286.5,208 287.1,213.4 287.7,216.4 288.3,217.8 288.9,214.1 289.5,203.1 290.1,206.9 290.7,209.8 291.3,208.5 291.9,210.8 292.5,212.4 293.1,213.6 293.7,214.5 294.3,212.1 294.9,202.3 295.5,200 296.1,207.5 296.7,212.2 297.3,214.9 297.9,216 298.5,216 299.1,215.9 299.7,216.1 300.3,213.8 300.9,206.2 301.5,210 302.1,212.3 302.7,213.8 303.3,215 303.9,215.9 304.5,214.4 305.1,216.5 305.7,214.3 306.3,208.4 306.9,212 307.5,215.3 308.1,217.8 308.7,219.3 309.3,219.5 309.9,206.1 310.5,178.1 311.1,191.5 311.7,200.2 312.3,206.5 312.9,211 313.5,207.1 314.1,213.6 314.7,207.3 315.3,210.7 315.9,211.3 316.5,210.5 317.1,209.6 317.7,209.6 318.3,210.8 318.9,212.9 319.5,215.4 320.1,217.3 320.7,218 321.3,217.9 321.9,217.6 322.5,217 323.1,216.6" fill="none" stroke="#444" stroke-width="0.55" opacity="0.55" stroke-linejoin="round"/>
<polyline points="194.7,226.1 195.3,226 195.9,225.7 196.5,225.4 197.1,225.1 197.7,225 198.3,225.1 198.9,225.2 199.5,225.4 200.1,225.6 200.7,225.7 201.3,225.7 201.9,225.9 202.5,226.2 203.1,226.4 203.7,226.4 204.3,226.3 204.9,225.8 205.5,225.3 206.1,224.1 206.7,222.6 207.3,223.8 207.9,224.9 208.5,225.8 209.1,226.5 209.7,226.8 210.3,226.8 210.9,226.8 211.5,226.7 212.1,226.6 212.7,226.6 213.3,226.4 213.9,225.8 214.5,225 215.1,224.4 215.7,224.2 216.3,224.1 216.9,223.9 217.5,223.7 218.1,223.5 218.7,219.7 219.3,213.2 219.9,220.7 220.5,225.1 221.1,227.7 221.7,228.7 222.3,228.8 222.9,228.1 223.5,227.2 224.1,226.4 224.7,226.2 225.3,226.2 225.9,226.3 226.5,226.5 227.1,226.6 227.7,226.6 228.3,226.5 228.9,226.2 229.5,225.8 230.1,225.4 230.7,225.2 231.3,225.6 231.9,226.5 232.5,227.6 233.1,228.5 233.7,228.8 234.3,228.5 234.9,227.7 235.5,226.6 236.1,225.7 236.7,225.4 237.3,225.5 237.9,225.7 238.5,225.9 239.1,226.2 239.7,226.2 240.3,226 240.9,225.3 241.5,224.4 242.1,223.7 242.7,223.4 243.3,223.5 243.9,223.9 244.5,224.4 245.1,222 245.7,217.9 246.3,209.5 246.9,214.6 247.5,216.1 248.1,216.2 248.7,216.5 249.3,217.4 249.9,219 250.5,220.9 251.1,222.5 251.7,223.1 252.3,223 252.9,222.8 253.5,220.2 254.1,215.7 254.7,218.6 255.3,220.4 255.9,221.7 256.5,222.6 257.1,223.3 257.7,220.8 258.3,215.2 258.9,217.1 259.5,218.5 260.1,219.5 260.7,220.4 261.3,221.4 261.9,222.9 262.5,224.4 263.1,225.7 263.7,226.2 264.3,225.9 264.9,224.6 265.5,223 266.1,219.6 266.7,214.9 267.3,216.8 267.9,218.5 268.5,219.9 269.1,221 269.7,221.6 270.3,220.1 270.9,214.9 271.5,219 272.1,221.7 272.7,223.2 273.3,223.8 273.9,223.5 274.5,223 275.1,222.4 275.7,222.3 276.3,222.5 276.9,223.1 277.5,215.4 278.1,200.5 278.7,212.9 279.3,218.4 279.9,220.3 280.5,220.4 281.1,220 281.7,220.2 282.3,220.5 282.9,221.2 283.5,222 284.1,222.7 284.7,220.7 285.3,216.5 285.9,218.6 286.5,220 287.1,220.9 287.7,221.5 288.3,221.5 288.9,220.7 289.5,219.6 290.1,218.6 290.7,218.3 291.3,218.6 291.9,219.2 292.5,219.9 293.1,220.4 293.7,220.6 294.3,221 294.9,222.2 295.5,223.6 296.1,224.7 296.7,225.2 297.3,225 297.9,224.7 298.5,224.2 299.1,223.8 299.7,223.7 300.3,223.6 300.9,223.2 301.5,218.5 302.1,210.3 302.7,215.4 303.3,218.3 303.9,219.8 304.5,220.4 305.1,220.7 305.7,220.9 306.3,221.6 306.9,223.1 307.5,224.7 308.1,226 308.7,226.5 309.3,226.3 309.9,225.7 310.5,222.8 311.1,218 311.7,220.6 312.3,221.7 312.9,221.5 313.5,220.6 314.1,219.8 314.7,219.5 315.3,219.9 315.9,220.8 316.5,219.6 317.1,216.2 317.7,219.4 318.3,221.2 318.9,219.8 319.5,213.2 320.1,220.6 320.7,223.5 321.3,224.3 321.9,224 322.5,223.4 323.1,222.7" fill="none" stroke="#444" stroke-width="0.55" opacity="0.55" stroke-linejoin="round"/>
<path d="M221.2,222 L222.4,178 L224.4,222 M202.2,222 L203.4,196 L205.4,222 M225.3,222 L226.5,193 L228.5,222 M244.9,222 L246.1,188.1 L248.1,222 M264.2,222 L265.4,188 L267.4,222 M270.2,222 L271.4,195.2 L273.4,222 M283.4,222 L284.6,152 L286.6,222 M298.4,222 L299.6,165.4 L301.6,222 M311.2,222 L312.4,174.5 L314.4,222 M321.3,222 L322.5,176.5 L324.5,222 M308.1,222 L309.3,180.5 L311.3,222 M290.8,222 L292,185 L294,222 M313.8,222 L315,188 L317,222" fill="none" stroke="#b0b0b0" stroke-width="0.50" opacity="0.90" stroke-linejoin="round"/>
<polyline points="194.7,223 198,221 201,218 204,220 206,224 210,225 215,226 220,225 222,219 225,224 230,226 240,227 245,223 248,219 251,222 254,215 258,222 262,218 266,223 270,214 274,221 278,217 282,222 286,212 290,219 295,221 300,224 305,220 310,216 313,221 317,210 320,217 323,214" fill="none" stroke="#333" stroke-width="0.60" stroke-linejoin="round" stroke-linecap="round" opacity="1.00"/>
<polyline points="195.7,145.1 196.7,165 197.7,180 198.5,193 199.2,200 200.4,209.6 201,214.4 201.6,210.8 202.2,221.6 203.4,224.6 205.2,224 207,209 208.2,220.4 210,223.4 213,225.2 214.2,210.8 215.4,210.2 216.6,209 217.8,223.4 220.8,227 224.4,228.2 226.8,221.6 228,225.8 230.4,215.6 231.6,225.8 235.2,227.6 239.4,228.2 241.2,219.2 242.4,227 244.8,228.2 247.2,221 249,225.8 251.4,225.8 253.2,170.4 254.4,218 256.8,219.8 258.6,224 260.4,222.2 262.2,214.4 263.4,203.6 264.6,222.8 267.6,225.2 270,222.8 271.8,220.4 273.6,225.8 276,223.4 278.4,214.4 280.2,207.2 281.4,179.5 283.2,214.4 285,221 287.4,223.1 292.9,222.3 297.6,223.9 302.3,224.6 307,226.2 310.2,227.8 314.1,226.2 316.5,224.6 318.1,213.6 318.9,200.2 320.4,208.9 322,214.4 323.6,216.8" fill="none" stroke="#0000ff" stroke-width="1.25" stroke-linejoin="round" stroke-linecap="round" opacity="1.00"/>
</g>
<clipPath id="cp6"><rect x="355.4" y="136.5" width="141.8" height="96.9"/></clipPath>
<g clip-path="url(#cp6)">
<polyline points="361.4,223.4 362.2,224 363,225.1 363.8,225.7 364.6,225.2 365.4,224.3 366.2,223.9 367,222.7 367.8,220.6 368.6,221.1 369.4,221.9 370.2,222.9 371,223.4 371.8,219.5 372.6,211.2 373.4,213.9 374.2,217.5 375,221.9 375.8,223.9 376.6,224.3 377.4,223.8 378.2,223.8 379,224.6 379.8,225.7 380.6,226.3 381.4,226.4 382.2,226.6 383,226.7 383.8,226.5 384.6,225.9 385.4,225.5 386.2,224.9 387,224.7 387.8,224.5 388.6,224.4 389.4,224.2 390.2,224 391,223.9 391.8,223.6 392.6,223.2 393.4,222.4 394.2,218.5 395,213.4 395.8,217.1 396.6,220.2 397.4,221.7 398.2,223.5 399,226.6 399.8,228.1 400.6,227.1 401.4,224.9 402.2,222.1 403,219.3 403.8,222.7 404.6,224.4 405.4,224.7 406.2,222.8 407,224 407.8,223.4 408.6,221.4 409.4,212.2 410.2,197.8 411,208.5 411.8,215 412.6,219.6 413.4,224 414.2,226.4 415,225.7 415.8,223.2 416.6,221.9 417.4,222.5 418.2,223.6 419,223.9 419.8,224.5 420.6,225.7 421.4,226.3 422.2,226 423,225.6 423.8,225.4 424.6,225.1 425.4,224.6 426.2,224.4 427,223.9 427.8,222.9 428.6,211.2 429.4,190.7 430.2,200.5 431,202.8 431.8,211.6 432.6,214 433.4,215.9 434.2,216.1 435,214.4 435.8,213.8 436.6,209.8 437.4,199.1 438.2,215.5 439,220.8 439.8,222.8 440.6,223.6 441.4,223.7 442.2,222.8 443,222.4 443.8,221.4 444.6,219.3 445.4,218.3 446.2,219.8 447,222.7 447.8,224.2 448.6,222.4 449.4,218.9 450.2,217.5 451,219.7 451.8,224 452.6,226.2 453.4,226 454.2,225.7 455,219.8 455.8,208.5 456.6,212.2 457.4,215.1 458.2,218.1 459,221 459.8,222.8 460.6,223.4 461.4,223.7 462.2,223.9 463,223.4 463.8,222.2 464.6,221.6 465.4,221.6 466.2,221.4 467,214.6 467.8,202.6 468.6,213.3 469.4,218.6 470.2,221.2 471,222.8 471.8,223.5 472.6,222.9 473.4,220.5 474.2,219.3 475,219.8 475.8,221.1 476.6,221.6 477.4,222 478.2,221.7 479,219.9 479.8,220 480.6,218.5 481.4,217.7 482.2,217.6 483,221.5 483.8,223.6 484.6,223.1 485.4,221.6 486.2,220.9 487,220.5 487.8,219.7 488.6,219.3 489.4,219.7 490.2,220.8" fill="none" stroke="#bdbdbd" stroke-width="0.55" opacity="0.75" stroke-linejoin="round"/>
<polyline points="361.4,215.4 362.2,216.8 363,219.4 363.8,220.7 364.6,221.4 365.4,222.9 366.2,224.9 367,224.7 367.8,223.7 368.6,223.2 369.4,222.8 370.2,210.4 371,188.6 371.8,198 372.6,204.9 373.4,209.7 374.2,214 375,218.1 375.8,220.7 376.6,221.5 377.4,221.4 378.2,221.5 379,222.1 379.8,222.8 380.6,223.2 381.4,222.6 382.2,221.7 383,221 383.8,221.2 384.6,221.6 385.4,221.7 386.2,221.7 387,221.7 387.8,221.6 388.6,221 389.4,209.4 390.2,183.9 391,201.6 391.8,209.4 392.6,213.5 393.4,217.3 394.2,220.9 395,222.7 395.8,223.7 396.6,224.1 397.4,224.3 398.2,223.9 399,223.2 399.8,222.8 400.6,222.7 401.4,222.4 402.2,221.7 403,220.6 403.8,221 404.6,221.3 405.4,222.8 406.2,225.7 407,227.2 407.8,224.4 408.6,212.3 409.4,197.1 410.2,209.3 411,214.9 411.8,217.1 412.6,217 413.4,216.1 414.2,215.3 415,216.8 415.8,219.8 416.6,221.3 417.4,220.2 418.2,217.9 419,216.7 419.8,217.1 420.6,218.1 421.4,218.5 422.2,218.6 423,218.9 423.8,218.9 424.6,217.1 425.4,213.4 426.2,211.5 427,213.8 427.8,218.6 428.6,221 429.4,219.7 430.2,214 431,206.8 431.8,213.5 432.6,220.6 433.4,224.2 434.2,222.3 435,217.5 435.8,215.1 436.6,215.9 437.4,217.5 438.2,218.2 439,219.1 439.8,220.9 440.6,221.9 441.4,221.4 442.2,220.6 443,220.2 443.8,218 444.6,214.1 445.4,220.2 446.2,221.8 447,221.1 447.8,217.8 448.6,207.6 449.4,209.1 450.2,210.8 451,215.8 451.8,223.2 452.6,223.6 453.4,208.9 454.2,207.3 455,202.4 455.8,209.8 456.6,212 457.4,213.2 458.2,215.6 459,219.6 459.8,221.6 460.6,222.6 461.4,224.2 462.2,223.5 463,220.3 463.8,221.6 464.6,222.5 465.4,223.2 466.2,223.5 467,223.8 467.8,223.6 468.6,222.8 469.4,216 470.2,200.5 471,200.8 471.8,202 472.6,207.8 473.4,215.9 474.2,220.4 475,219.5 475.8,216.5 476.6,215 477.4,214.6 478.2,211.7 479,212.3 479.8,215.1 480.6,206.7 481.4,183.8 482.2,203.4 483,211.5 483.8,215.2 484.6,216.2 485.4,215.1 486.2,214.8 487,216.2 487.8,219 488.6,220.4 489.4,218.1 490.2,213.7" fill="none" stroke="#bdbdbd" stroke-width="0.55" opacity="0.75" stroke-linejoin="round"/>
<polyline points="361.4,208.7 362.2,207.4 363,207.9 363.8,208.3 364.6,208.4 365.4,206.9 366.2,208.3 367,211.4 367.8,216.5 368.6,219.1 369.4,217.7 370.2,214.5 371,208.3 371.8,201.9 372.6,211.6 373.4,217.2 374.2,220 375,222.8 375.8,224.4 376.6,221.4 377.4,214.4 378.2,211.1 379,212.2 379.8,214.1 380.6,215.1 381.4,215.5 382.2,214.2 383,211.1 383.8,212 384.6,211.7 385.4,211.7 386.2,211.8 387,211.6 387.8,211.4 388.6,212.9 389.4,215.8 390.2,217.2 391,217.1 391.8,217.1 392.6,217 393.4,216.7 394.2,215.8 395,215.4 395.8,215 396.6,214.4 397.4,214 398.2,214.6 399,216 399.8,216.7 400.6,218.3 401.4,221.7 402.2,223.4 403,218.9 403.8,204.6 404.6,190 405.4,183.5 406.2,199.2 407,208.5 407.8,212.1 408.6,213.8 409.4,215.3 410.2,215.1 411,212.9 411.8,211.9 412.6,213 413.4,214.7 414.2,215.6 415,212.8 415.8,206.8 416.6,208 417.4,205 418.2,202.9 419,200.9 419.8,202.5 420.6,205.2 421.4,206.6 422.2,209.1 423,214.2 423.8,216.7 424.6,215.5 425.4,213.3 426.2,212.1 427,212.5 427.8,213.5 428.6,213.9 429.4,211.9 430.2,208 431,205.9 431.8,208.9 432.6,215.1 433.4,216.3 434.2,213 435,215.8 435.8,217.1 436.6,218.7 437.4,221.1 438.2,222.2 439,218.9 439.8,212.1 440.6,199 441.4,181.1 442.2,196.5 443,203.8 443.8,206.6 444.6,207.3 445.4,207.6 446.2,208.2 447,207.9 447.8,207.9 448.6,211 449.4,217.1 450.2,220.1 451,219 451.8,216.7 452.6,215.6 453.4,216.7 454.2,218.8 455,219.8 455.8,216.7 456.6,210.4 457.4,207.3 458.2,208 459,209.1 459.8,209.7 460.6,213 461.4,219.2 462.2,222.4 463,219.8 463.8,214.7 464.6,212.2 465.4,212.9 466.2,214.1 467,214.7 467.8,214.9 468.6,214.9 469.4,215 470.2,214.4 471,212.7 471.8,211.8 472.6,213.3 473.4,216.5 474.2,214.7 475,208 475.8,210.7 476.6,212.4 477.4,214.1 478.2,215.8 479,216.8 479.8,217 480.6,217 481.4,212.3 482.2,203.6 483,212.6 483.8,216.4 484.6,214.6 485.4,208.6 486.2,205.6 487,206.3 487.8,207.8 488.6,207.1 489.4,205.5 490.2,209.3" fill="none" stroke="#bdbdbd" stroke-width="0.55" opacity="0.75" stroke-linejoin="round"/>
<polyline points="361.4,215.8 362.2,217.7 363,221.7 363.8,223.6 364.6,221.1 365.4,216.1 366.2,213.6 367,214.9 367.8,217.2 368.6,218.4 369.4,217.8 370.2,216.5 371,215.8 371.8,216.8 372.6,218.6 373.4,219.6 374.2,218.5 375,216.4 375.8,215.3 376.6,205.2 377.4,186.2 378.2,194.4 379,199.3 379.8,205.8 380.6,210 381.4,211.6 382.2,211.8 383,212.2 383.8,212.9 384.6,213.4 385.4,213.7 386.2,214.8 387,214.2 387.8,209.6 388.6,215.7 389.4,221.1 390.2,219 391,218.9 391.8,215 392.6,213 393.4,214.8 394.2,217.8 395,219.3 395.8,219.8 396.6,220.8 397.4,221.3 398.2,222.2 399,224.2 399.8,225.1 400.6,225 401.4,224.7 402.2,224.6 403,220.7 403.8,212.9 404.6,202.9 405.4,191.1 406.2,195.9 407,199.1 407.8,202 408.6,204.7 409.4,206.2 410.2,205.8 411,204.2 411.8,203.4 412.6,208.6 413.4,219.2 414.2,224.6 415,220.9 415.8,213.5 416.6,209.7 417.4,212.5 418.2,218.4 419,221.3 419.8,221.4 420.6,221.5 421.4,220 422.2,213.9 423,209.4 423.8,207.2 424.6,207.3 425.4,206.6 426.2,206.2 427,209 427.8,214.6 428.6,217.4 429.4,218.5 430.2,220.7 431,221.8 431.8,221.6 432.6,221.4 433.4,221.2 434.2,218.9 435,213.2 435.8,208.7 436.6,208.7 437.4,205.9 438.2,204.3 439,202.4 439.8,198.6 440.6,196.8 441.4,199.5 442.2,204.8 443,207.5 443.8,210.1 444.6,213.4 445.4,212.9 446.2,214.7 447,216.1 447.8,216.9 448.6,215.6 449.4,212.4 450.2,210.9 451,210.2 451.8,208.6 452.6,207.9 453.4,212.1 454.2,219.6 455,222.4 455.8,219.7 456.6,213.3 457.4,210.3 458.2,212 459,214.9 459.8,216.4 460.6,214.5 461.4,210.4 462.2,208.4 463,212.1 463.8,219.4 464.6,223 465.4,219.4 466.2,212.1 467,208.6 467.8,208.1 468.6,207 469.4,206.5 470.2,206.6 471,206.4 471.8,206.2 472.6,205.7 473.4,203.6 474.2,200.4 475,203.8 475.8,208.7 476.6,211.2 477.4,211.5 478.2,211.6 479,211.6 479.8,213.4 480.6,217 481.4,218.7 482.2,217 483,213.5 483.8,211.6 484.6,212.7 485.4,215 486.2,216.1 487,213.7 487.8,205.4 488.6,196.4 489.4,201.9 490.2,203.7" fill="none" stroke="#bdbdbd" stroke-width="0.55" opacity="0.75" stroke-linejoin="round"/>
<polyline points="361.4,208.7 362.2,210.4 363,206.7 363.8,211.1 364.6,212 365.4,210.7 366.2,210.2 367,210.3 367.8,209.8 368.6,209.6 369.4,212.9 370.2,219.2 371,222.3 371.8,219.3 372.6,213.5 373.4,210.6 374.2,210.6 375,210.7 375.8,210.7 376.6,211.4 377.4,212.5 378.2,213.1 379,214.5 379.8,217.3 380.6,218.7 381.4,218.2 382.2,217.1 383,216.5 383.8,214.7 384.6,210.9 385.4,209 386.2,211.1 387,215.5 387.8,217.7 388.6,214.9 389.4,209.1 390.2,206.2 391,208.1 391.8,212.2 392.6,214.2 393.4,213 394.2,210.5 395,209.2 395.8,214.3 396.6,224.7 397.4,229.9 398.2,224.3 399,212.9 399.8,207.2 400.6,207.6 401.4,208.7 402.2,209.2 403,212 403.8,217.7 404.6,220.6 405.4,216.2 406.2,207.4 407,202.9 407.8,205.2 408.6,210.1 409.4,212.5 410.2,213.6 411,215.8 411.8,216.9 412.6,212.3 413.4,203.1 414.2,198.3 415,198 415.8,195.5 416.6,191.1 417.4,194 418.2,196.6 419,197.9 419.8,198.6 420.6,199.4 421.4,199.8 422.2,199.1 423,197.8 423.8,197.1 424.6,202.5 425.4,213.7 426.2,219.3 427,216 427.8,209.5 428.6,206.2 429.4,202.8 430.2,196.3 431,192.8 431.8,194.3 432.6,197.5 433.4,198.9 434.2,199.7 435,201.4 435.8,202.2 436.6,202.8 437.4,204.3 438.2,204.5 439,203.5 439.8,204.2 440.6,204.9 441.4,206.1 442.2,208.2 443,209.4 443.8,208.1 444.6,205.5 445.4,204.3 446.2,208 447,215.4 447.8,224.2 448.6,217.7 449.4,202.6 450.2,195.2 451,193.8 451.8,190.3 452.6,196.4 453.4,205 454.2,218.5 455,225.5 455.8,214.8 456.6,205.8 457.4,201.9 458.2,202.8 459,202.9 459.8,203.2 460.6,204.4 461.4,206.1 462.2,207.1 463,205.8 463.8,203.1 464.6,201.9 465.4,201.9 466.2,201.8 467,201.8 467.8,202.3 468.6,203.2 469.4,203.7 470.2,207.9 471,213.5 471.8,213 472.6,215.8 473.4,218.9 474.2,218.3 475,217.5 475.8,213.3 476.6,211.2 477.4,208.2 478.2,201.6 479,198.2 479.8,203.5 480.6,214.5 481.4,220.1 482.2,217.2 483,211.5 483.8,208.5 484.6,208.5 485.4,208.6 486.2,208.5 487,207.4 487.8,205.3 488.6,204.2 489.4,207.1 490.2,213.4" fill="none" stroke="#bdbdbd" stroke-width="0.55" opacity="0.75" stroke-linejoin="round"/>
<polyline points="361.4,193.8 362.2,198.2 363,207 363.8,211.4 364.6,209.9 365.4,206.9 366.2,205.4 367,203.7 367.8,200 368.6,198.3 369.4,196.9 370.2,194.2 371,197.2 371.8,202.3 372.6,210.5 373.4,214.6 374.2,215.8 375,218.1 375.8,219.2 376.6,214.6 377.4,205.4 378.2,200.8 379,201.8 379.8,203.6 380.6,204.6 381.4,204.2 382.2,203.4 383,203 383.8,202.7 384.6,202 385.4,201.5 386.2,203 387,206.2 387.8,207.7 388.6,206.4 389.4,204 390.2,202.6 391,204.8 391.8,209.4 392.6,210.7 393.4,208.2 394.2,207.7 395,207.5 395.8,206.8 396.6,203.2 397.4,203.4 398.2,205.4 399,208.6 399.8,210.2 400.6,209.5 401.4,207.8 402.2,207 403,203.2 403.8,195.6 404.6,191.6 405.4,195 406.2,202 407,205.4 407.8,203.4 408.6,199.4 409.4,197.3 410.2,198.3 411,200.5 411.8,201.5 412.6,204.5 413.4,211 414.2,214.2 415,209.6 415.8,200.5 416.6,195.8 417.4,201.4 418.2,211.8 419,215.1 419.8,211 420.6,201 421.4,196.1 422.2,197.4 423,199.9 423.8,201.1 424.6,202.7 425.4,205.5 426.2,204.1 427,192.5 427.8,190.7 428.6,189.5 429.4,193.6 430.2,199.8 431,202.9 431.8,196.7 432.6,184.3 433.4,177.7 434.2,187.2 435,206.6 435.8,216.3 436.6,207.7 437.4,190.4 438.2,181.5 439,182.4 439.8,184.4 440.6,184.9 441.4,185.1 442.2,188.8 443,190.9 443.8,195.9 444.6,205.1 445.4,209.6 446.2,210 447,210.5 447.8,210.9 448.6,213.3 449.4,217.8 450.2,220.1 451,214.2 451.8,202.5 452.6,196.8 453.4,198.2 454.2,200.9 455,202.3 455.8,199.6 456.6,194.1 457.4,191.5 458.2,193.4 459,196.8 459.8,198.6 460.6,197.9 461.4,196.3 462.2,195.6 463,201 463.8,211.4 464.6,216.6 465.4,212.7 466.2,204.9 467,201.1 467.8,200.7 468.6,198.4 469.4,195.7 470.2,195.7 471,193.3 471.8,192 472.6,200.2 473.4,217 474.2,225.4 475,216.7 475.8,198.9 476.6,189.8 477.4,196.5 478.2,210.6 479,217.7 479.8,212.9 480.6,203.3 481.4,198.3 482.2,197.7 483,196.8 483.8,196.2 484.6,191 485.4,180.8 486.2,175.4 487,179 487.8,186.8 488.6,190.6 489.4,191.6 490.2,193.9" fill="none" stroke="#bdbdbd" stroke-width="0.55" opacity="0.75" stroke-linejoin="round"/>
<polyline points="361.4,201.7 362.2,203 363,205.6 363.8,206.9 364.6,202.8 365.4,194.4 366.2,190.3 367,184.9 367.8,174.7 368.6,180.7 369.4,188.7 370.2,199.5 371,205.2 371.8,204.9 372.6,200.5 373.4,193.3 374.2,198 375,203.3 375.8,206.3 376.6,208.8 377.4,212.4 378.2,214.4 379,209.3 379.8,198.8 380.6,193.6 381.4,194.5 382.2,196.1 383,197 383.8,194.9 384.6,190.6 385.4,188.3 386.2,187.2 387,185.3 387.8,184.2 388.6,194.7 389.4,216 390.2,226.8 391,223.4 391.8,216.6 392.6,213.1 393.4,210.2 394.2,204.6 395,201.7 395.8,196.4 396.6,186 397.4,180.6 398.2,185 399,185.7 399.8,174.5 400.6,183.5 401.4,184.6 402.2,185.2 403,191.2 403.8,201 404.6,205.8 405.4,200.2 406.2,188.5 407,182.5 407.8,182 408.6,181.1 409.4,180.5 410.2,180.4 411,180.4 411.8,180.2 412.6,179.1 413.4,177.5 414.2,180.2 415,185 415.8,193.3 416.6,197.6 417.4,191.2 418.2,177.9 419,171 419.8,178.3 420.6,193.2 421.4,200.7 422.2,201.1 423,202 423.8,202.3 424.6,199.6 425.4,194.7 426.2,196.5 427,194.8 427.8,189.4 428.6,186.6 429.4,182.9 430.2,175.1 431,171 431.8,175 432.6,183.3 433.4,187.4 434.2,185.5 435,181.8 435.8,179.8 436.6,181.6 437.4,185.6 438.2,187.4 439,184.6 439.8,177.8 440.6,172.9 441.4,176.8 442.2,181.6 443,184.1 443.8,189.2 444.6,198.7 445.4,203.5 446.2,190.5 447,164.5 447.8,151.8 448.6,155.5 449.4,162.9 450.2,171.9 451,173.8 451.8,175.1 452.6,176 453.4,177.9 454.2,180.8 455,182.4 455.8,186.6 456.6,194.6 457.4,198.6 458.2,197.4 459,194.5 459.8,193.2 460.6,190.8 461.4,185.9 462.2,183.6 463,182.1 463.8,178.9 464.6,177.5 465.4,180.3 466.2,185.3 467,188 467.8,191.4 468.6,197.5 469.4,200 470.2,199.5 471,197.2 471.8,196 472.6,198.3 473.4,203 474.2,205.3 475,203.1 475.8,198.8 476.6,194.4 477.4,189.3 478.2,190.2 479,190.8 479.8,192.8 480.6,196 481.4,197.5 482.2,194.2 483,187.4 483.8,183.8 484.6,177.6 485.4,165.5 486.2,158.8 487,167.1 487.8,185.3 488.6,194.5 489.4,197.5 490.2,203.8" fill="none" stroke="#bdbdbd" stroke-width="0.55" opacity="0.75" stroke-linejoin="round"/>
<path d="M367.3,195 L368.8,160.7 L371.3,195 M391.5,195 L393.5,169.4 L396.5,195 M385,195 L387,178.5 L390,195 M413.1,195 L415.1,169.4 L418.1,195 M430.4,195 L432.4,167.4 L435.4,195 M440.5,195 L442.5,169.4 L445.5,195 M446.5,195 L448.5,170.4 L451.5,195 M453.6,195 L455.1,153.2 L457.6,195 M472.7,195 L473.9,140 L475.9,195 M486,195 L487.5,155.2 L490,195 M488.3,195 L489.5,149.2 L491.5,195" fill="none" stroke="#cccccc" stroke-width="0.55" opacity="1.00" stroke-linejoin="round"/>
<polyline points="361.4,209 364,205 367,210 370,201 373,208 376,212 380,209 384,214 388,208 391,212 395,207 399,210 403,205 407,210 411,206 415,212 419,207 422.5,204 427,203 432,200.6 436,204 439.3,203.4 443,206 446.8,206.2 452.5,208 457,205 461.8,206.2 465,211 469.3,214.6 474,212 478.7,215.6 482,210 486.2,204.3 489.9,191.2" fill="none" stroke="#808080" stroke-width="0.70" stroke-linejoin="round" stroke-linecap="round" opacity="1.00"/>
<path d="M362.10,205.30 C362.43,203.95 363.43,197.87 364.10,197.20 C364.77,196.53 365.42,199.27 366.10,201.30 C366.78,203.33 367.58,213.53 368.20,209.40 C368.82,205.27 369.13,178.03 369.80,176.50 C370.47,174.97 371.47,194.90 372.20,200.20 C372.93,205.50 373.52,206.60 374.20,208.30 C374.88,210.00 375.62,211.23 376.30,210.40 C376.98,209.57 377.63,203.65 378.30,203.30 C378.97,202.95 379.63,206.62 380.30,208.30 C380.97,209.98 381.45,212.22 382.30,213.40 C383.15,214.58 384.55,215.57 385.40,215.40 C386.25,215.23 386.73,215.43 387.40,212.40 C388.07,209.37 388.73,197.53 389.40,197.20 C390.07,196.87 390.72,208.88 391.40,210.40 C392.08,211.92 392.82,205.80 393.50,206.30 C394.18,206.80 394.83,212.72 395.50,213.40 C396.17,214.08 396.67,210.23 397.50,210.40 C398.33,210.57 399.32,212.88 400.50,214.40 C401.68,215.92 403.68,219.00 404.60,219.50 C405.52,220.00 405.25,217.75 406.00,217.40 C406.75,217.05 408.08,218.57 409.10,217.40 C410.12,216.23 410.92,210.73 412.10,210.40 C413.28,210.07 414.85,214.40 416.20,215.40 C417.55,216.40 419.03,216.40 420.20,216.40 C421.37,216.40 422.18,216.75 423.20,215.40 C424.22,214.05 425.45,209.65 426.30,208.30 C427.15,206.95 427.63,206.78 428.30,207.30 C428.97,207.82 429.45,209.72 430.30,211.40 C431.15,213.08 432.22,215.55 433.40,217.40 C434.58,219.25 436.05,221.98 437.40,222.50 C438.75,223.02 440.32,220.67 441.50,220.50 C442.68,220.33 443.33,221.83 444.50,221.50 C445.67,221.17 447.42,220.70 448.50,218.50 C449.58,216.30 450.23,209.15 451.00,208.30 C451.77,207.45 452.25,211.20 453.10,213.40 C453.95,215.60 454.93,219.82 456.10,221.50 C457.27,223.18 458.42,223.00 460.10,223.50 C461.78,224.00 464.50,224.83 466.20,224.50 C467.90,224.17 469.12,222.50 470.30,221.50 C471.48,220.50 472.12,218.83 473.30,218.50 C474.48,218.17 476.22,219.50 477.40,219.50 C478.58,219.50 479.57,220.02 480.40,218.50 C481.23,216.98 481.73,211.58 482.40,210.40 C483.07,209.22 483.72,210.90 484.40,211.40 C485.08,211.90 485.98,214.25 486.50,213.40 C487.02,212.55 487.00,205.28 487.50,206.30 C488.00,207.32 489.00,217.13 489.50,219.50 C490.00,221.87 490.33,220.33 490.50,220.50" fill="none" stroke="#0000ff" stroke-width="1.45" stroke-linejoin="round" stroke-linecap="round" opacity="1.00"/>
</g>
<line x1="84.40" y1="2.5" x2="84.40" y2="100.4" stroke="#000" stroke-width="0.75" stroke-dasharray="2.4,1,1,1"/>
<line x1="86.80" y1="2.5" x2="86.80" y2="100.4" stroke="#000" stroke-width="0.75" stroke-dasharray="2.4,1,1,1"/>
<line x1="250.90" y1="2.5" x2="250.90" y2="100.4" stroke="#000" stroke-width="0.75" stroke-dasharray="2.4,1,1,1"/>
<line x1="253.30" y1="2.5" x2="253.30" y2="100.4" stroke="#000" stroke-width="0.75" stroke-dasharray="2.4,1,1,1"/>
<line x1="417.40" y1="2.5" x2="417.40" y2="100.4" stroke="#000" stroke-width="0.75" stroke-dasharray="2.4,1,1,1"/>
<line x1="419.80" y1="2.5" x2="419.80" y2="100.4" stroke="#000" stroke-width="0.75" stroke-dasharray="2.4,1,1,1"/>
<line x1="84.40" y1="136.5" x2="84.40" y2="233.4" stroke="#000" stroke-width="0.75" stroke-dasharray="2.4,1,1,1"/>
<line x1="86.80" y1="136.5" x2="86.80" y2="233.4" stroke="#000" stroke-width="0.75" stroke-dasharray="2.4,1,1,1"/>
<line x1="250.90" y1="136.5" x2="250.90" y2="233.4" stroke="#000" stroke-width="0.75" stroke-dasharray="2.4,1,1,1"/>
<line x1="253.30" y1="136.5" x2="253.30" y2="233.4" stroke="#000" stroke-width="0.75" stroke-dasharray="2.4,1,1,1"/>
<line x1="417.40" y1="136.5" x2="417.40" y2="233.4" stroke="#000" stroke-width="0.75" stroke-dasharray="2.4,1,1,1"/>
<line x1="419.80" y1="136.5" x2="419.80" y2="233.4" stroke="#000" stroke-width="0.75" stroke-dasharray="2.4,1,1,1"/>
<rect x="22.30" y="2.50" width="141.50" height="97.90" fill="none" stroke="#a0a0a0" stroke-width="0.9"/>
<line x1="22.30" y1="2.10" x2="22.30" y2="100.80" stroke="#7a7a7a" stroke-width="0.85"/>
<line x1="21.90" y1="100.40" x2="164.20" y2="100.40" stroke="#7a7a7a" stroke-width="0.85"/>
<line x1="20.70" y1="96.50" x2="22.30" y2="96.50" stroke="#333" stroke-width="0.6"/>
<text x="19.90" y="97.95" font-size="4.3" text-anchor="end" fill="#333" stroke="#333" stroke-width="0.2">0</text>
<line x1="20.70" y1="75.30" x2="22.30" y2="75.30" stroke="#333" stroke-width="0.6"/>
<text x="19.90" y="76.75" font-size="4.3" text-anchor="end" fill="#333" stroke="#333" stroke-width="0.2">5000</text>
<line x1="20.70" y1="54.10" x2="22.30" y2="54.10" stroke="#333" stroke-width="0.6"/>
<text x="19.90" y="55.55" font-size="4.3" text-anchor="end" fill="#333" stroke="#333" stroke-width="0.2">10000</text>
<line x1="20.70" y1="32.90" x2="22.30" y2="32.90" stroke="#333" stroke-width="0.6"/>
<text x="19.90" y="34.35" font-size="4.3" text-anchor="end" fill="#333" stroke="#333" stroke-width="0.2">15000</text>
<line x1="20.70" y1="11.70" x2="22.30" y2="11.70" stroke="#333" stroke-width="0.6"/>
<text x="19.90" y="13.15" font-size="4.3" text-anchor="end" fill="#333" stroke="#333" stroke-width="0.2">20000</text>
<line x1="28.40" y1="100.40" x2="28.40" y2="102.00" stroke="#333" stroke-width="0.6"/>
<text x="28.40" y="106.20" font-size="4.3" text-anchor="middle" fill="#333" stroke="#333" stroke-width="0.2">0</text>
<line x1="63.70" y1="100.40" x2="63.70" y2="102.00" stroke="#333" stroke-width="0.6"/>
<text x="63.70" y="106.20" font-size="4.3" text-anchor="middle" fill="#333" stroke="#333" stroke-width="0.2">100</text>
<line x1="99.00" y1="100.40" x2="99.00" y2="102.00" stroke="#333" stroke-width="0.6"/>
<text x="99.00" y="106.20" font-size="4.3" text-anchor="middle" fill="#333" stroke="#333" stroke-width="0.2">200</text>
<line x1="134.30" y1="100.40" x2="134.30" y2="102.00" stroke="#333" stroke-width="0.6"/>
<text x="134.30" y="106.20" font-size="4.3" text-anchor="middle" fill="#333" stroke="#333" stroke-width="0.2">300</text>
<rect x="25.8" y="3.7" width="32.5" height="8.8" fill="#fff"/>
<text x="26.80" y="10.90" font-size="4.9" textLength="30.9" lengthAdjust="spacingAndGlyphs" fill="#000" stroke="#000" stroke-width="0.2">Lower Missouri</text>
<text x="1.80" y="7.20" font-size="7.0" font-weight="bold" fill="#000" stroke="#000" stroke-width="0.3">a</text>
<text x="61.15" y="112.30" font-size="5.4" textLength="64.6" lengthAdjust="spacingAndGlyphs" fill="#000" stroke="#000" stroke-width="0.2">Day of water year (Oct-Sept)</text>
<rect x="188.80" y="2.50" width="141.80" height="97.90" fill="none" stroke="#a0a0a0" stroke-width="0.9"/>
<line x1="188.80" y1="2.10" x2="188.80" y2="100.80" stroke="#7a7a7a" stroke-width="0.85"/>
<line x1="188.40" y1="100.40" x2="331.00" y2="100.40" stroke="#7a7a7a" stroke-width="0.85"/>
<line x1="187.20" y1="97.60" x2="188.80" y2="97.60" stroke="#333" stroke-width="0.6"/>
<text x="186.40" y="99.05" font-size="4.3" text-anchor="end" fill="#333" stroke="#333" stroke-width="0.2">0</text>
<line x1="187.20" y1="71.50" x2="188.80" y2="71.50" stroke="#333" stroke-width="0.6"/>
<text x="186.40" y="72.95" font-size="4.3" text-anchor="end" fill="#333" stroke="#333" stroke-width="0.2">2500</text>
<line x1="187.20" y1="45.40" x2="188.80" y2="45.40" stroke="#333" stroke-width="0.6"/>
<text x="186.40" y="46.85" font-size="4.3" text-anchor="end" fill="#333" stroke="#333" stroke-width="0.2">5000</text>
<line x1="187.20" y1="19.30" x2="188.80" y2="19.30" stroke="#333" stroke-width="0.6"/>
<text x="186.40" y="20.75" font-size="4.3" text-anchor="end" fill="#333" stroke="#333" stroke-width="0.2">7500</text>
<line x1="194.70" y1="100.40" x2="194.70" y2="102.00" stroke="#333" stroke-width="0.6"/>
<text x="194.70" y="106.20" font-size="4.3" text-anchor="middle" fill="#333" stroke="#333" stroke-width="0.2">0</text>
<line x1="230.00" y1="100.40" x2="230.00" y2="102.00" stroke="#333" stroke-width="0.6"/>
<text x="230.00" y="106.20" font-size="4.3" text-anchor="middle" fill="#333" stroke="#333" stroke-width="0.2">100</text>
<line x1="265.30" y1="100.40" x2="265.30" y2="102.00" stroke="#333" stroke-width="0.6"/>
<text x="265.30" y="106.20" font-size="4.3" text-anchor="middle" fill="#333" stroke="#333" stroke-width="0.2">200</text>
<line x1="300.60" y1="100.40" x2="300.60" y2="102.00" stroke="#333" stroke-width="0.6"/>
<text x="300.60" y="106.20" font-size="4.3" text-anchor="middle" fill="#333" stroke="#333" stroke-width="0.2">300</text>
<rect x="190.1" y="3.7" width="37.5" height="8.8" fill="#fff"/>
<text x="191.10" y="10.90" font-size="4.9" textLength="36.0" lengthAdjust="spacingAndGlyphs" fill="#000" stroke="#000" stroke-width="0.2">Upper Mississippi</text>
<text x="168.30" y="7.20" font-size="7.0" font-weight="bold" fill="#000" stroke="#000" stroke-width="0.3">b</text>
<text x="227.80" y="112.30" font-size="5.4" textLength="64.6" lengthAdjust="spacingAndGlyphs" fill="#000" stroke="#000" stroke-width="0.2">Day of water year (Oct-Sept)</text>
<rect x="355.40" y="2.50" width="141.80" height="97.90" fill="none" stroke="#a0a0a0" stroke-width="0.9"/>
<line x1="355.40" y1="2.10" x2="355.40" y2="100.80" stroke="#7a7a7a" stroke-width="0.85"/>
<line x1="355.00" y1="100.40" x2="497.60" y2="100.40" stroke="#7a7a7a" stroke-width="0.85"/>
<line x1="353.80" y1="81.10" x2="355.40" y2="81.10" stroke="#333" stroke-width="0.6"/>
<text x="353.00" y="82.55" font-size="4.3" text-anchor="end" fill="#333" stroke="#333" stroke-width="0.2">10000</text>
<line x1="353.80" y1="57.00" x2="355.40" y2="57.00" stroke="#333" stroke-width="0.6"/>
<text x="353.00" y="58.45" font-size="4.3" text-anchor="end" fill="#333" stroke="#333" stroke-width="0.2">20000</text>
<line x1="353.80" y1="32.90" x2="355.40" y2="32.90" stroke="#333" stroke-width="0.6"/>
<text x="353.00" y="34.35" font-size="4.3" text-anchor="end" fill="#333" stroke="#333" stroke-width="0.2">30000</text>
<line x1="353.80" y1="8.80" x2="355.40" y2="8.80" stroke="#333" stroke-width="0.6"/>
<text x="353.00" y="10.25" font-size="4.3" text-anchor="end" fill="#333" stroke="#333" stroke-width="0.2">40000</text>
<line x1="361.40" y1="100.40" x2="361.40" y2="102.00" stroke="#333" stroke-width="0.6"/>
<text x="361.40" y="106.20" font-size="4.3" text-anchor="middle" fill="#333" stroke="#333" stroke-width="0.2">0</text>
<line x1="396.70" y1="100.40" x2="396.70" y2="102.00" stroke="#333" stroke-width="0.6"/>
<text x="396.70" y="106.20" font-size="4.3" text-anchor="middle" fill="#333" stroke="#333" stroke-width="0.2">100</text>
<line x1="432.00" y1="100.40" x2="432.00" y2="102.00" stroke="#333" stroke-width="0.6"/>
<text x="432.00" y="106.20" font-size="4.3" text-anchor="middle" fill="#333" stroke="#333" stroke-width="0.2">200</text>
<line x1="467.30" y1="100.40" x2="467.30" y2="102.00" stroke="#333" stroke-width="0.6"/>
<text x="467.30" y="106.20" font-size="4.3" text-anchor="middle" fill="#333" stroke="#333" stroke-width="0.2">300</text>
<rect x="356.7" y="3.7" width="37.5" height="8.8" fill="#fff"/>
<text x="357.70" y="10.90" font-size="4.9" textLength="36.0" lengthAdjust="spacingAndGlyphs" fill="#000" stroke="#000" stroke-width="0.2">Lower Mississippi</text>
<text x="334.90" y="7.20" font-size="7.0" font-weight="bold" fill="#000" stroke="#000" stroke-width="0.3">c</text>
<text x="394.40" y="112.30" font-size="5.4" textLength="64.6" lengthAdjust="spacingAndGlyphs" fill="#000" stroke="#000" stroke-width="0.2">Day of water year (Oct-Sept)</text>
<rect x="22.30" y="136.50" width="141.50" height="96.90" fill="none" stroke="#a0a0a0" stroke-width="0.9"/>
<line x1="22.30" y1="136.10" x2="22.30" y2="233.80" stroke="#7a7a7a" stroke-width="0.85"/>
<line x1="21.90" y1="233.40" x2="164.20" y2="233.40" stroke="#7a7a7a" stroke-width="0.85"/>
<line x1="20.70" y1="229.40" x2="22.30" y2="229.40" stroke="#333" stroke-width="0.6"/>
<text x="19.90" y="230.85" font-size="4.3" text-anchor="end" fill="#333" stroke="#333" stroke-width="0.2">0</text>
<line x1="20.70" y1="195.70" x2="22.30" y2="195.70" stroke="#333" stroke-width="0.6"/>
<text x="19.90" y="197.15" font-size="4.3" text-anchor="end" fill="#333" stroke="#333" stroke-width="0.2">500</text>
<line x1="20.70" y1="162.00" x2="22.30" y2="162.00" stroke="#333" stroke-width="0.6"/>
<text x="19.90" y="163.45" font-size="4.3" text-anchor="end" fill="#333" stroke="#333" stroke-width="0.2">1000</text>
<line x1="28.40" y1="233.40" x2="28.40" y2="235.00" stroke="#333" stroke-width="0.6"/>
<text x="28.40" y="239.20" font-size="4.3" text-anchor="middle" fill="#333" stroke="#333" stroke-width="0.2">0</text>
<line x1="63.70" y1="233.40" x2="63.70" y2="235.00" stroke="#333" stroke-width="0.6"/>
<text x="63.70" y="239.20" font-size="4.3" text-anchor="middle" fill="#333" stroke="#333" stroke-width="0.2">100</text>
<line x1="99.00" y1="233.40" x2="99.00" y2="235.00" stroke="#333" stroke-width="0.6"/>
<text x="99.00" y="239.20" font-size="4.3" text-anchor="middle" fill="#333" stroke="#333" stroke-width="0.2">200</text>
<line x1="134.30" y1="233.40" x2="134.30" y2="235.00" stroke="#333" stroke-width="0.6"/>
<text x="134.30" y="239.20" font-size="4.3" text-anchor="middle" fill="#333" stroke="#333" stroke-width="0.2">300</text>
<rect x="25.8" y="137.7" width="32.5" height="8.8" fill="#fff"/>
<text x="26.80" y="144.90" font-size="4.9" textLength="30.9" lengthAdjust="spacingAndGlyphs" fill="#000" stroke="#000" stroke-width="0.2">Lower Missouri</text>
<text x="1.80" y="141.20" font-size="7.0" font-weight="bold" fill="#000" stroke="#000" stroke-width="0.3">d</text>
<text x="61.15" y="245.30" font-size="5.4" textLength="64.6" lengthAdjust="spacingAndGlyphs" fill="#000" stroke="#000" stroke-width="0.2">Day of water year (Oct-Sept)</text>
<rect x="188.80" y="136.50" width="141.80" height="96.90" fill="none" stroke="#a0a0a0" stroke-width="0.9"/>
<line x1="188.80" y1="136.10" x2="188.80" y2="233.80" stroke="#7a7a7a" stroke-width="0.85"/>
<line x1="188.40" y1="233.40" x2="331.00" y2="233.40" stroke="#7a7a7a" stroke-width="0.85"/>
<line x1="187.20" y1="230.40" x2="188.80" y2="230.40" stroke="#333" stroke-width="0.6"/>
<text x="186.40" y="231.85" font-size="4.3" text-anchor="end" fill="#333" stroke="#333" stroke-width="0.2">0</text>
<line x1="187.20" y1="212.40" x2="188.80" y2="212.40" stroke="#333" stroke-width="0.6"/>
<text x="186.40" y="213.85" font-size="4.3" text-anchor="end" fill="#333" stroke="#333" stroke-width="0.2">50</text>
<line x1="187.20" y1="194.40" x2="188.80" y2="194.40" stroke="#333" stroke-width="0.6"/>
<text x="186.40" y="195.85" font-size="4.3" text-anchor="end" fill="#333" stroke="#333" stroke-width="0.2">100</text>
<line x1="187.20" y1="176.40" x2="188.80" y2="176.40" stroke="#333" stroke-width="0.6"/>
<text x="186.40" y="177.85" font-size="4.3" text-anchor="end" fill="#333" stroke="#333" stroke-width="0.2">150</text>
<line x1="187.20" y1="158.40" x2="188.80" y2="158.40" stroke="#333" stroke-width="0.6"/>
<text x="186.40" y="159.85" font-size="4.3" text-anchor="end" fill="#333" stroke="#333" stroke-width="0.2">200</text>
<line x1="187.20" y1="140.40" x2="188.80" y2="140.40" stroke="#333" stroke-width="0.6"/>
<text x="186.40" y="141.85" font-size="4.3" text-anchor="end" fill="#333" stroke="#333" stroke-width="0.2">250</text>
<line x1="194.70" y1="233.40" x2="194.70" y2="235.00" stroke="#333" stroke-width="0.6"/>
<text x="194.70" y="239.20" font-size="4.3" text-anchor="middle" fill="#333" stroke="#333" stroke-width="0.2">0</text>
<line x1="230.00" y1="233.40" x2="230.00" y2="235.00" stroke="#333" stroke-width="0.6"/>
<text x="230.00" y="239.20" font-size="4.3" text-anchor="middle" fill="#333" stroke="#333" stroke-width="0.2">100</text>
<line x1="265.30" y1="233.40" x2="265.30" y2="235.00" stroke="#333" stroke-width="0.6"/>
<text x="265.30" y="239.20" font-size="4.3" text-anchor="middle" fill="#333" stroke="#333" stroke-width="0.2">200</text>
<line x1="300.60" y1="233.40" x2="300.60" y2="235.00" stroke="#333" stroke-width="0.6"/>
<text x="300.60" y="239.20" font-size="4.3" text-anchor="middle" fill="#333" stroke="#333" stroke-width="0.2">300</text>
<rect x="190.1" y="137.7" width="37.5" height="8.8" fill="#fff"/>
<text x="191.10" y="144.90" font-size="4.9" textLength="36.0" lengthAdjust="spacingAndGlyphs" fill="#000" stroke="#000" stroke-width="0.2">Upper Mississippi</text>
<text x="168.30" y="141.20" font-size="7.0" font-weight="bold" fill="#000" stroke="#000" stroke-width="0.3">e</text>
<text x="227.80" y="245.30" font-size="5.4" textLength="64.6" lengthAdjust="spacingAndGlyphs" fill="#000" stroke="#000" stroke-width="0.2">Day of water year (Oct-Sept)</text>
<rect x="355.40" y="136.50" width="141.80" height="96.90" fill="none" stroke="#a0a0a0" stroke-width="0.9"/>
<line x1="355.40" y1="136.10" x2="355.40" y2="233.80" stroke="#7a7a7a" stroke-width="0.85"/>
<line x1="355.00" y1="233.40" x2="497.60" y2="233.40" stroke="#7a7a7a" stroke-width="0.85"/>
<line x1="353.80" y1="232.40" x2="355.40" y2="232.40" stroke="#333" stroke-width="0.6"/>
<text x="353.00" y="233.85" font-size="4.3" text-anchor="end" fill="#333" stroke="#333" stroke-width="0.2">0</text>
<line x1="353.80" y1="213.75" x2="355.40" y2="213.75" stroke="#333" stroke-width="0.6"/>
<text x="353.00" y="215.20" font-size="4.3" text-anchor="end" fill="#333" stroke="#333" stroke-width="0.2">50</text>
<line x1="353.80" y1="195.10" x2="355.40" y2="195.10" stroke="#333" stroke-width="0.6"/>
<text x="353.00" y="196.55" font-size="4.3" text-anchor="end" fill="#333" stroke="#333" stroke-width="0.2">100</text>
<line x1="353.80" y1="176.45" x2="355.40" y2="176.45" stroke="#333" stroke-width="0.6"/>
<text x="353.00" y="177.90" font-size="4.3" text-anchor="end" fill="#333" stroke="#333" stroke-width="0.2">150</text>
<line x1="353.80" y1="157.80" x2="355.40" y2="157.80" stroke="#333" stroke-width="0.6"/>
<text x="353.00" y="159.25" font-size="4.3" text-anchor="end" fill="#333" stroke="#333" stroke-width="0.2">200</text>
<line x1="353.80" y1="139.15" x2="355.40" y2="139.15" stroke="#333" stroke-width="0.6"/>
<text x="353.00" y="140.60" font-size="4.3" text-anchor="end" fill="#333" stroke="#333" stroke-width="0.2">250</text>
<line x1="361.40" y1="233.40" x2="361.40" y2="235.00" stroke="#333" stroke-width="0.6"/>
<text x="361.40" y="239.20" font-size="4.3" text-anchor="middle" fill="#333" stroke="#333" stroke-width="0.2">0</text>
<line x1="396.70" y1="233.40" x2="396.70" y2="235.00" stroke="#333" stroke-width="0.6"/>
<text x="396.70" y="239.20" font-size="4.3" text-anchor="middle" fill="#333" stroke="#333" stroke-width="0.2">100</text>
<line x1="432.00" y1="233.40" x2="432.00" y2="235.00" stroke="#333" stroke-width="0.6"/>
<text x="432.00" y="239.20" font-size="4.3" text-anchor="middle" fill="#333" stroke="#333" stroke-width="0.2">200</text>
<line x1="467.30" y1="233.40" x2="467.30" y2="235.00" stroke="#333" stroke-width="0.6"/>
<text x="467.30" y="239.20" font-size="4.3" text-anchor="middle" fill="#333" stroke="#333" stroke-width="0.2">300</text>
<rect x="356.7" y="137.7" width="37.5" height="8.8" fill="#fff"/>
<text x="357.70" y="144.90" font-size="4.9" textLength="36.0" lengthAdjust="spacingAndGlyphs" fill="#000" stroke="#000" stroke-width="0.2">Lower Mississippi</text>
<text x="334.90" y="141.20" font-size="7.0" font-weight="bold" fill="#000" stroke="#000" stroke-width="0.3">f</text>
<text x="394.40" y="245.30" font-size="5.4" textLength="64.6" lengthAdjust="spacingAndGlyphs" fill="#000" stroke="#000" stroke-width="0.2">Day of water year (Oct-Sept)</text>
<text transform="translate(6.00,51.00) rotate(-90)" font-size="5.05" text-anchor="middle" fill="#000" stroke="#000" stroke-width="0.3">Mean daily discharge (Q) in cms</text>
<text transform="translate(172.50,51.00) rotate(-90)" font-size="5.05" text-anchor="middle" fill="#000" stroke="#000" stroke-width="0.3">Mean daily discharge (Q) in cms</text>
<text transform="translate(339.00,51.00) rotate(-90)" font-size="5.05" text-anchor="middle" fill="#000" stroke="#000" stroke-width="0.3">Mean daily discharge (Q) in cms</text>
<text transform="translate(6.90,182.00) rotate(-90)" font-size="4.40" text-anchor="middle" fill="#000" stroke="#000" stroke-width="0.3">Daily mean turbidity</text>
<text transform="translate(173.40,182.00) rotate(-90)" font-size="4.40" text-anchor="middle" fill="#000" stroke="#000" stroke-width="0.3">Daily mean turbidity</text>
<text transform="translate(339.90,182.00) rotate(-90)" font-size="4.40" text-anchor="middle" fill="#000" stroke="#000" stroke-width="0.3">Daily mean turbidity</text>
<line x1="22.3" y1="124.4" x2="29.7" y2="124.4" stroke="#bbb" stroke-width="0.70"/>
<text x="32.3" y="125.90" font-size="4.3" textLength="19.6" lengthAdjust="spacingAndGlyphs" fill="#000" stroke="#000" stroke-width="0.2">1909-2018</text>
<line x1="56.3" y1="124.4" x2="63.0" y2="124.4" stroke="#0000ff" stroke-width="1.20"/>
<text x="65.9" y="125.90" font-size="4.3" textLength="9.3" lengthAdjust="spacingAndGlyphs" fill="#000" stroke="#000" stroke-width="0.2">2019</text>
<line x1="79.0" y1="124.4" x2="85.4" y2="124.4" stroke="#a52020" stroke-width="1.00"/>
<text x="88.8" y="125.90" font-size="4.3" textLength="30.5" lengthAdjust="spacingAndGlyphs" fill="#000" stroke="#000" stroke-width="0.2">mean 1909-2018</text>
<line x1="124.5" y1="124.4" x2="131.3" y2="124.4" stroke="#000" stroke-width="1.00"/>
<text x="134.7" y="125.90" font-size="4.3" textLength="30.5" lengthAdjust="spacingAndGlyphs" fill="#000" stroke="#000" stroke-width="0.2">mean 2000-2018</text>
<line x1="189.2" y1="124.4" x2="195.8" y2="124.4" stroke="#bbb" stroke-width="0.70"/>
<text x="199.2" y="125.90" font-size="4.3" textLength="19.6" lengthAdjust="spacingAndGlyphs" fill="#000" stroke="#000" stroke-width="0.2">1909-2018</text>
<line x1="223.2" y1="124.4" x2="230.0" y2="124.4" stroke="#0000ff" stroke-width="1.20"/>
<text x="232.8" y="125.90" font-size="4.3" textLength="9.3" lengthAdjust="spacingAndGlyphs" fill="#000" stroke="#000" stroke-width="0.2">2019</text>
<line x1="245.7" y1="124.4" x2="252.5" y2="124.4" stroke="#a52020" stroke-width="1.00"/>
<text x="255.2" y="125.90" font-size="4.3" textLength="30.5" lengthAdjust="spacingAndGlyphs" fill="#000" stroke="#000" stroke-width="0.2">mean 1909-2018</text>
<line x1="291.0" y1="124.4" x2="297.8" y2="124.4" stroke="#000" stroke-width="1.00"/>
<text x="301.2" y="125.90" font-size="4.3" textLength="30.5" lengthAdjust="spacingAndGlyphs" fill="#000" stroke="#000" stroke-width="0.2">mean 2000-2018</text>
<line x1="378.7" y1="124.4" x2="385.4" y2="124.4" stroke="#bbb" stroke-width="0.70"/>
<text x="388.5" y="125.90" font-size="4.3" textLength="19.6" lengthAdjust="spacingAndGlyphs" fill="#000" stroke="#000" stroke-width="0.2">2004-2018</text>
<line x1="412.7" y1="124.4" x2="419.3" y2="124.4" stroke="#0000ff" stroke-width="1.20"/>
<text x="422.5" y="125.90" font-size="4.3" textLength="9.3" lengthAdjust="spacingAndGlyphs" fill="#000" stroke="#000" stroke-width="0.2">2019</text>
<line x1="434.7" y1="124.4" x2="441.2" y2="124.4" stroke="#000" stroke-width="1.00"/>
<text x="444.7" y="125.90" font-size="4.3" textLength="30.5" lengthAdjust="spacingAndGlyphs" fill="#000" stroke="#000" stroke-width="0.2">mean 2004-2018</text>
<line x1="45.0" y1="257.9" x2="52.1" y2="257.9" stroke="#ccc" stroke-width="1.00"/>
<text x="55.0" y="259.40" font-size="4.3" textLength="19.6" lengthAdjust="spacingAndGlyphs" fill="#000" stroke="#000" stroke-width="0.2">2006-2018</text>
<line x1="79.8" y1="257.9" x2="85.4" y2="257.9" stroke="#6666ff" stroke-width="1.00"/>
<text x="88.9" y="259.40" font-size="4.3" textLength="9.3" lengthAdjust="spacingAndGlyphs" fill="#000" stroke="#000" stroke-width="0.2">2019</text>
<line x1="101.6" y1="257.9" x2="108.8" y2="257.9" stroke="#555" stroke-width="1.00"/>
<text x="111.2" y="259.40" font-size="4.3" textLength="30.5" lengthAdjust="spacingAndGlyphs" fill="#000" stroke="#000" stroke-width="0.2">mean 2006-2018</text>
<line x1="212.0" y1="257.9" x2="218.7" y2="257.9" stroke="#ccc" stroke-width="1.00"/>
<text x="222.1" y="259.40" font-size="4.3" textLength="19.6" lengthAdjust="spacingAndGlyphs" fill="#000" stroke="#000" stroke-width="0.2">2000-2018</text>
<line x1="246.3" y1="257.9" x2="252.9" y2="257.9" stroke="#6666ff" stroke-width="1.00"/>
<text x="256.1" y="259.40" font-size="4.3" textLength="9.3" lengthAdjust="spacingAndGlyphs" fill="#000" stroke="#000" stroke-width="0.2">2019</text>
<line x1="268.5" y1="257.9" x2="274.8" y2="257.9" stroke="#555" stroke-width="1.00"/>
<text x="278.3" y="259.40" font-size="4.3" textLength="30.5" lengthAdjust="spacingAndGlyphs" fill="#000" stroke="#000" stroke-width="0.2">mean 2000-2018</text>
<line x1="378.7" y1="257.9" x2="385.4" y2="257.9" stroke="#ccc" stroke-width="1.00"/>
<text x="388.2" y="259.40" font-size="4.3" textLength="19.6" lengthAdjust="spacingAndGlyphs" fill="#000" stroke="#000" stroke-width="0.2">2011-2018</text>
<line x1="412.7" y1="257.9" x2="419.3" y2="257.9" stroke="#6666ff" stroke-width="1.00"/>
<text x="422.5" y="259.40" font-size="4.3" textLength="9.3" lengthAdjust="spacingAndGlyphs" fill="#000" stroke="#000" stroke-width="0.2">2019</text>
<line x1="434.9" y1="257.9" x2="441.2" y2="257.9" stroke="#555" stroke-width="1.00"/>
<text x="444.7" y="259.40" font-size="4.3" textLength="30.5" lengthAdjust="spacingAndGlyphs" fill="#000" stroke="#000" stroke-width="0.2">mean 2011-2018</text>
</svg></body></html>
